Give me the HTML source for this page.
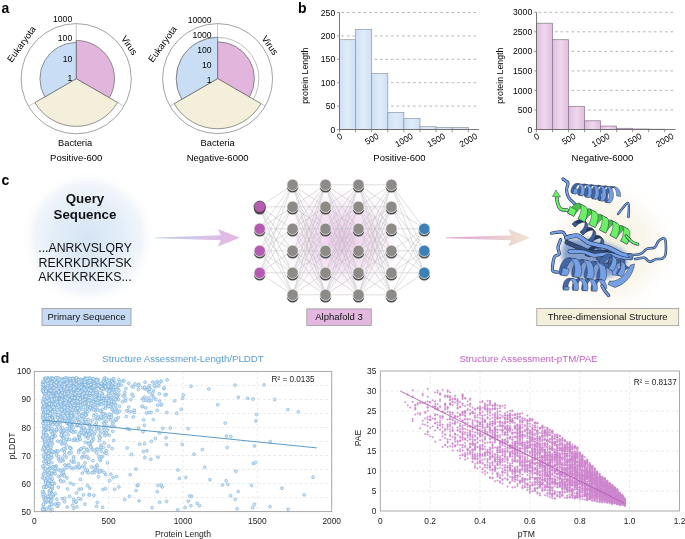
<!DOCTYPE html>
<html><head><meta charset="utf-8"><style>
html,body{margin:0;padding:0;background:#fff;}
body{width:685px;height:539px;overflow:hidden;}
svg{display:block;will-change:transform;}
text{font-family:"Liberation Sans", sans-serif;}
.lc circle{r:1.45px;}
</style></head><body>
<svg width="685" height="539" viewBox="0 0 685 539">
<rect width="685" height="539" fill="#fff"/>
<g font-family='"Liberation Sans", sans-serif' fill="#000">
<circle cx="76.2" cy="78.7" r="55.1" fill="none" stroke="#8a8a8a" stroke-width="0.8"/>
<line x1="76.2" y1="78.7" x2="76.2" y2="23.6" stroke="#b0b0b0" stroke-width="0.7"/>
<line x1="76.2" y1="78.7" x2="123.9" y2="106.2" stroke="#b0b0b0" stroke-width="0.7"/>
<line x1="76.2" y1="78.7" x2="28.5" y2="106.3" stroke="#b0b0b0" stroke-width="0.7"/>
<path d="M76.2 78.7L76.2 40.4A38.3 38.3 0 0 1 109.4 97.8Z" fill="#e2b5dd" stroke="#505050" stroke-width="0.6"/>
<path d="M76.2 78.7L117.5 102.5A47.7 47.7 0 0 1 34.9 102.6Z" fill="#f4efda" stroke="#505050" stroke-width="0.6"/>
<path d="M76.2 78.7L44.8 96.9A36.3 36.3 0 0 1 76.2 42.4Z" fill="#c9def5" stroke="#505050" stroke-width="0.6"/>
<text x="72.2" y="21.6" font-size="8.6" text-anchor="end">1000</text>
<text x="72.2" y="41.1" font-size="8.6" text-anchor="end">100</text>
<text x="72.2" y="61.9" font-size="8.6" text-anchor="end">10</text>
<text x="72.2" y="81" font-size="8.6" text-anchor="end">1</text>
<text x="75.1" y="145.9" font-size="9.3" text-anchor="middle">Bacteria</text>
<text x="76.2" y="160.7" font-size="9.5" text-anchor="middle">Positive-600</text>
<text transform="translate(21.4 44.1) rotate(-54)" font-size="9.3" text-anchor="middle" y="3.2">Eukaryota</text>
<text transform="translate(129.3 45.3) rotate(55)" font-size="9.3" text-anchor="middle" y="3.2">Virus</text>
<circle cx="217.6" cy="78.6" r="55" fill="none" stroke="#8a8a8a" stroke-width="0.8"/>
<circle cx="217.6" cy="78.6" r="41.3" fill="none" stroke="#a0a0a0" stroke-width="0.7"/>
<line x1="217.6" y1="78.6" x2="217.6" y2="23.6" stroke="#b0b0b0" stroke-width="0.7"/>
<line x1="217.6" y1="78.6" x2="265.2" y2="106.1" stroke="#b0b0b0" stroke-width="0.7"/>
<line x1="217.6" y1="78.6" x2="170" y2="106.1" stroke="#b0b0b0" stroke-width="0.7"/>
<path d="M217.6 78.6L217.6 41.8A36.8 36.8 0 0 1 249.5 97Z" fill="#e2b5dd" stroke="#505050" stroke-width="0.6"/>
<path d="M217.6 78.6L261 103.6A50.1 50.1 0 0 1 174.2 103.7Z" fill="#f4efda" stroke="#505050" stroke-width="0.6"/>
<path d="M217.6 78.6L181.8 99.3A41.3 41.3 0 0 1 217.6 37.3Z" fill="#c9def5" stroke="#505050" stroke-width="0.6"/>
<text x="211.6" y="22.8" font-size="8.6" text-anchor="end">10000</text>
<text x="211.6" y="37.7" font-size="8.6" text-anchor="end">1000</text>
<text x="211.6" y="53" font-size="8.6" text-anchor="end">100</text>
<text x="211.6" y="68.1" font-size="8.6" text-anchor="end">10</text>
<text x="211.6" y="83" font-size="8.6" text-anchor="end">1</text>
<text x="217.6" y="145.9" font-size="9.3" text-anchor="middle">Bacteria</text>
<text x="217.6" y="160.7" font-size="9.5" text-anchor="middle">Negative-6000</text>
<text transform="translate(162.5 44.1) rotate(-54)" font-size="9.3" text-anchor="middle" y="3.2">Eukaryota</text>
<text transform="translate(270 45.3) rotate(55)" font-size="9.3" text-anchor="middle" y="3.2">Virus</text>
</g>
<g font-family='"Liberation Sans", sans-serif' fill="#000">
<defs><linearGradient id="gb1" x1="0" x2="1" y1="0" y2="0"><stop offset="0" stop-color="#cfe1f6"/><stop offset="0.5" stop-color="#deebf9"/><stop offset="1" stop-color="#cfe1f6"/></linearGradient></defs>
<path d="M341.5 106.1H478.9M341.5 82.7H478.9M341.5 59.3H478.9M341.5 35.9H478.9M341.5 12.5H478.9" stroke="#9c9c9c" stroke-width="0.75" stroke-dasharray="2.6 2.9" fill="none"/>
<rect x="339.5" y="39.7" width="16.1" height="89.8" fill="url(#gb1)" stroke="#8e98a6" stroke-width="0.7"/>
<rect x="355.6" y="29.3" width="16.1" height="100.2" fill="url(#gb1)" stroke="#8e98a6" stroke-width="0.7"/>
<rect x="371.7" y="73.5" width="16.1" height="56" fill="url(#gb1)" stroke="#8e98a6" stroke-width="0.7"/>
<rect x="387.8" y="112.4" width="16.1" height="17.1" fill="url(#gb1)" stroke="#8e98a6" stroke-width="0.7"/>
<rect x="403.9" y="118.6" width="16.1" height="10.9" fill="url(#gb1)" stroke="#8e98a6" stroke-width="0.7"/>
<rect x="420" y="126.7" width="16.1" height="2.8" fill="url(#gb1)" stroke="#8e98a6" stroke-width="0.7"/>
<rect x="436.1" y="127.4" width="16.1" height="2.1" fill="url(#gb1)" stroke="#8e98a6" stroke-width="0.7"/>
<rect x="452.2" y="127.4" width="16.1" height="2.1" fill="url(#gb1)" stroke="#8e98a6" stroke-width="0.7"/>
<path d="M339.5 12.5V129.5H478.9" stroke="#6a6a6a" stroke-width="0.9" fill="none"/>
<path d="M337.2 129.5H339.5M337.2 106.1H339.5M337.2 82.7H339.5M337.2 59.3H339.5M337.2 35.9H339.5M337.2 12.5H339.5M339.5 129.5v2.8M355.6 129.5v2.8M371.7 129.5v2.8M387.8 129.5v2.8M403.9 129.5v2.8M420 129.5v2.8M436.1 129.5v2.8M452.2 129.5v2.8M468.3 129.5v2.8" stroke="#6a6a6a" stroke-width="0.7" fill="none"/>
<text x="335.2" y="132.6" font-size="8.6" text-anchor="end">0</text>
<text x="335.2" y="109.1" font-size="8.6" text-anchor="end">50</text>
<text x="335.2" y="85.7" font-size="8.6" text-anchor="end">100</text>
<text x="335.2" y="62.3" font-size="8.6" text-anchor="end">150</text>
<text x="335.2" y="38.9" font-size="8.6" text-anchor="end">200</text>
<text x="335.2" y="15.6" font-size="8.6" text-anchor="end">250</text>
<text transform="translate(339.5 136.4) rotate(-30)" font-size="8.6" text-anchor="middle" y="3.05">0</text>
<text transform="translate(371.7 138.8) rotate(-30)" font-size="8.6" text-anchor="middle" y="3.05">500</text>
<text transform="translate(403.9 140) rotate(-30)" font-size="8.6" text-anchor="middle" y="3.05">1000</text>
<text transform="translate(436.1 140) rotate(-30)" font-size="8.6" text-anchor="middle" y="3.05">1500</text>
<text transform="translate(468.3 140) rotate(-30)" font-size="8.6" text-anchor="middle" y="3.05">2000</text>
<text x="399.5" y="161" font-size="9.5" text-anchor="middle">Positive-600</text>
<text transform="translate(308 75.7) rotate(-90)" font-size="8.8" text-anchor="middle">protein Length</text>
<defs><linearGradient id="gb2" x1="0" x2="1" y1="0" y2="0"><stop offset="0" stop-color="#e2bce0"/><stop offset="0.5" stop-color="#eed8ec"/><stop offset="1" stop-color="#e2bce0"/></linearGradient></defs>
<path d="M538.5 110H675.6M538.5 90.4H675.6M538.5 70.9H675.6M538.5 51.4H675.6M538.5 31.8H675.6M538.5 12.3H675.6" stroke="#9c9c9c" stroke-width="0.75" stroke-dasharray="2.6 2.9" fill="none"/>
<rect x="536.5" y="23.2" width="16" height="106.3" fill="url(#gb2)" stroke="#86768a" stroke-width="0.7"/>
<rect x="552.5" y="39.7" width="16" height="89.8" fill="url(#gb2)" stroke="#86768a" stroke-width="0.7"/>
<rect x="568.6" y="106.3" width="16" height="23.2" fill="url(#gb2)" stroke="#86768a" stroke-width="0.7"/>
<rect x="584.6" y="120.8" width="16" height="8.7" fill="url(#gb2)" stroke="#86768a" stroke-width="0.7"/>
<rect x="600.6" y="126.1" width="16" height="3.4" fill="url(#gb2)" stroke="#86768a" stroke-width="0.7"/>
<rect x="616.6" y="128.3" width="16" height="1.2" fill="url(#gb2)" stroke="#86768a" stroke-width="0.7"/>
<rect x="632.7" y="129" width="16" height="0.5" fill="url(#gb2)" stroke="#86768a" stroke-width="0.7"/>
<rect x="648.7" y="129.2" width="16" height="0.3" fill="url(#gb2)" stroke="#86768a" stroke-width="0.7"/>
<path d="M536.5 12.3V129.5H675.6" stroke="#6a6a6a" stroke-width="0.9" fill="none"/>
<path d="M534.2 129.5H536.5M534.2 110H536.5M534.2 90.4H536.5M534.2 70.9H536.5M534.2 51.4H536.5M534.2 31.8H536.5M534.2 12.3H536.5M536.5 129.5v2.8M552.5 129.5v2.8M568.6 129.5v2.8M584.6 129.5v2.8M600.6 129.5v2.8M616.6 129.5v2.8M632.7 129.5v2.8M648.7 129.5v2.8M664.7 129.5v2.8" stroke="#6a6a6a" stroke-width="0.7" fill="none"/>
<text x="532.2" y="132.6" font-size="8.6" text-anchor="end">0</text>
<text x="532.2" y="113" font-size="8.6" text-anchor="end">500</text>
<text x="532.2" y="93.5" font-size="8.6" text-anchor="end">1000</text>
<text x="532.2" y="74" font-size="8.6" text-anchor="end">1500</text>
<text x="532.2" y="54.4" font-size="8.6" text-anchor="end">2000</text>
<text x="532.2" y="34.9" font-size="8.6" text-anchor="end">2500</text>
<text x="532.2" y="15.3" font-size="8.6" text-anchor="end">3000</text>
<text transform="translate(536.5 136.4) rotate(-30)" font-size="8.6" text-anchor="middle" y="3.05">0</text>
<text transform="translate(568.6 138.8) rotate(-30)" font-size="8.6" text-anchor="middle" y="3.05">500</text>
<text transform="translate(600.6 140) rotate(-30)" font-size="8.6" text-anchor="middle" y="3.05">1000</text>
<text transform="translate(632.7 140) rotate(-30)" font-size="8.6" text-anchor="middle" y="3.05">1500</text>
<text transform="translate(664.7 140) rotate(-30)" font-size="8.6" text-anchor="middle" y="3.05">2000</text>
<text x="602.5" y="161" font-size="9.5" text-anchor="middle">Negative-6000</text>
<text transform="translate(502.8 75.7) rotate(-90)" font-size="8.8" text-anchor="middle">protein Length</text>
</g>
<g font-family='"Liberation Sans", sans-serif' font-weight="bold" font-size="14" fill="#000">
<text x="1.4" y="12.7">a</text><text x="298" y="12.9">b</text><text x="1.4" y="184.5">c</text><text x="0.8" y="363.2">d</text>
</g>
<defs>
<radialGradient id="glowq" cx="0.5" cy="0.5" r="0.5"><stop offset="0" stop-color="#d5e4f5"/><stop offset="0.5" stop-color="#e3edf8"/><stop offset="0.8" stop-color="#f2f6fb"/><stop offset="1" stop-color="#ffffff" stop-opacity="0"/></radialGradient>
<radialGradient id="glowp" cx="0.5" cy="0.5" r="0.5"><stop offset="0" stop-color="#f5f0de"/><stop offset="0.6" stop-color="#faf7ee"/><stop offset="1" stop-color="#ffffff" stop-opacity="0"/></radialGradient>
<radialGradient id="glown" cx="0.5" cy="0.5" r="0.5"><stop offset="0" stop-color="#ecc9ea"/><stop offset="0.5" stop-color="#f6e6f5"/><stop offset="1" stop-color="#ffffff" stop-opacity="0"/></radialGradient>
<linearGradient id="arr1" x1="0" x2="1" y1="0" y2="0"><stop offset="0" stop-color="#c2d2f0"/><stop offset="1" stop-color="#e6b6e2"/></linearGradient>
<linearGradient id="arr2" x1="0" x2="1" y1="0" y2="0"><stop offset="0" stop-color="#dc9fd6"/><stop offset="1" stop-color="#f2e5cf"/></linearGradient>
</defs>
<circle cx="88" cy="238" r="68" fill="url(#glowq)"/>
<ellipse cx="341" cy="240" rx="70" ry="62" fill="url(#glown)"/>
<circle cx="609" cy="248" r="72" fill="url(#glowp)"/>
<g font-family='"Liberation Sans", sans-serif' fill="#111">
<text x="85" y="202.5" font-size="13.3" font-weight="bold" text-anchor="middle">Query</text>
<text x="85" y="218.5" font-size="13.3" font-weight="bold" text-anchor="middle">Sequence</text>
<text x="38.3" y="251.9" font-size="12.3" textLength="93.6" lengthAdjust="spacingAndGlyphs">...ANRKVSLQRY</text>
<text x="38.5" y="266.7" font-size="12.3" textLength="93.4" lengthAdjust="spacingAndGlyphs">REKRKDRKFSK</text>
<text x="38.3" y="281.4" font-size="12.3" textLength="93.4" lengthAdjust="spacingAndGlyphs">AKKEKRKEKS...</text>
<rect x="42" y="308.5" width="89" height="17" fill="#c6dbf3" stroke="#9a9a9a" stroke-width="0.8"/>
<text x="86.5" y="319.7" font-size="9.5" text-anchor="middle">Primary Sequence</text>
<rect x="306.8" y="308.9" width="64.5" height="16.5" fill="#e3b8e0" stroke="#9a9a9a" stroke-width="0.8"/>
<text x="339" y="319.6" font-size="9.5" text-anchor="middle">Alphafold 3</text>
<rect x="536.8" y="308.4" width="141.9" height="17.3" fill="#f4efdb" stroke="#9a9a9a" stroke-width="0.8"/>
<text x="607.7" y="319.8" font-size="9.5" text-anchor="middle">Three-dimensional Structure</text>
</g>
<path d="M154.9 237.4 L220.8 235.3 L217.8 229.1 L239.8 237.8 L217.8 246.5 L220.8 240.3 L154.9 238.2 Z" fill="url(#arr1)"/>
<path d="M445.8 237.4 L511.2 235.3 L508.2 229.1 L530.2 237.8 L508.2 246.5 L511.2 240.3 L445.8 238.2 Z" fill="url(#arr2)"/>
<path d="M259.7 206.8L292.6 184.8M259.7 206.8L292.6 206.8M259.7 206.8L292.6 228.8M259.7 206.8L292.6 250.8M259.7 206.8L292.6 272.8M259.7 206.8L292.6 294.8M259.7 228.8L292.6 184.8M259.7 228.8L292.6 206.8M259.7 228.8L292.6 228.8M259.7 228.8L292.6 250.8M259.7 228.8L292.6 272.8M259.7 228.8L292.6 294.8M259.7 250.8L292.6 184.8M259.7 250.8L292.6 206.8M259.7 250.8L292.6 228.8M259.7 250.8L292.6 250.8M259.7 250.8L292.6 272.8M259.7 250.8L292.6 294.8M259.7 272.8L292.6 184.8M259.7 272.8L292.6 206.8M259.7 272.8L292.6 228.8M259.7 272.8L292.6 250.8M259.7 272.8L292.6 272.8M259.7 272.8L292.6 294.8M292.6 184.8L325.5 184.8M292.6 184.8L325.5 206.8M292.6 184.8L325.5 228.8M292.6 184.8L325.5 250.8M292.6 184.8L325.5 272.8M292.6 184.8L325.5 294.8M292.6 206.8L325.5 184.8M292.6 206.8L325.5 206.8M292.6 206.8L325.5 228.8M292.6 206.8L325.5 250.8M292.6 206.8L325.5 272.8M292.6 206.8L325.5 294.8M292.6 228.8L325.5 184.8M292.6 228.8L325.5 206.8M292.6 228.8L325.5 228.8M292.6 228.8L325.5 250.8M292.6 228.8L325.5 272.8M292.6 228.8L325.5 294.8M292.6 250.8L325.5 184.8M292.6 250.8L325.5 206.8M292.6 250.8L325.5 228.8M292.6 250.8L325.5 250.8M292.6 250.8L325.5 272.8M292.6 250.8L325.5 294.8M292.6 272.8L325.5 184.8M292.6 272.8L325.5 206.8M292.6 272.8L325.5 228.8M292.6 272.8L325.5 250.8M292.6 272.8L325.5 272.8M292.6 272.8L325.5 294.8M292.6 294.8L325.5 184.8M292.6 294.8L325.5 206.8M292.6 294.8L325.5 228.8M292.6 294.8L325.5 250.8M292.6 294.8L325.5 272.8M292.6 294.8L325.5 294.8M325.5 184.8L358.5 184.8M325.5 184.8L358.5 206.8M325.5 184.8L358.5 228.8M325.5 184.8L358.5 250.8M325.5 184.8L358.5 272.8M325.5 184.8L358.5 294.8M325.5 206.8L358.5 184.8M325.5 206.8L358.5 206.8M325.5 206.8L358.5 228.8M325.5 206.8L358.5 250.8M325.5 206.8L358.5 272.8M325.5 206.8L358.5 294.8M325.5 228.8L358.5 184.8M325.5 228.8L358.5 206.8M325.5 228.8L358.5 228.8M325.5 228.8L358.5 250.8M325.5 228.8L358.5 272.8M325.5 228.8L358.5 294.8M325.5 250.8L358.5 184.8M325.5 250.8L358.5 206.8M325.5 250.8L358.5 228.8M325.5 250.8L358.5 250.8M325.5 250.8L358.5 272.8M325.5 250.8L358.5 294.8M325.5 272.8L358.5 184.8M325.5 272.8L358.5 206.8M325.5 272.8L358.5 228.8M325.5 272.8L358.5 250.8M325.5 272.8L358.5 272.8M325.5 272.8L358.5 294.8M325.5 294.8L358.5 184.8M325.5 294.8L358.5 206.8M325.5 294.8L358.5 228.8M325.5 294.8L358.5 250.8M325.5 294.8L358.5 272.8M325.5 294.8L358.5 294.8M358.5 184.8L391.4 184.8M358.5 184.8L391.4 206.8M358.5 184.8L391.4 228.8M358.5 184.8L391.4 250.8M358.5 184.8L391.4 272.8M358.5 184.8L391.4 294.8M358.5 206.8L391.4 184.8M358.5 206.8L391.4 206.8M358.5 206.8L391.4 228.8M358.5 206.8L391.4 250.8M358.5 206.8L391.4 272.8M358.5 206.8L391.4 294.8M358.5 228.8L391.4 184.8M358.5 228.8L391.4 206.8M358.5 228.8L391.4 228.8M358.5 228.8L391.4 250.8M358.5 228.8L391.4 272.8M358.5 228.8L391.4 294.8M358.5 250.8L391.4 184.8M358.5 250.8L391.4 206.8M358.5 250.8L391.4 228.8M358.5 250.8L391.4 250.8M358.5 250.8L391.4 272.8M358.5 250.8L391.4 294.8M358.5 272.8L391.4 184.8M358.5 272.8L391.4 206.8M358.5 272.8L391.4 228.8M358.5 272.8L391.4 250.8M358.5 272.8L391.4 272.8M358.5 272.8L391.4 294.8M358.5 294.8L391.4 184.8M358.5 294.8L391.4 206.8M358.5 294.8L391.4 228.8M358.5 294.8L391.4 250.8M358.5 294.8L391.4 272.8M358.5 294.8L391.4 294.8M391.4 184.8L424.3 228.8M391.4 184.8L424.3 250.8M391.4 184.8L424.3 272.8M391.4 206.8L424.3 228.8M391.4 206.8L424.3 250.8M391.4 206.8L424.3 272.8M391.4 228.8L424.3 228.8M391.4 228.8L424.3 250.8M391.4 228.8L424.3 272.8M391.4 250.8L424.3 228.8M391.4 250.8L424.3 250.8M391.4 250.8L424.3 272.8M391.4 272.8L424.3 228.8M391.4 272.8L424.3 250.8M391.4 272.8L424.3 272.8M391.4 294.8L424.3 228.8M391.4 294.8L424.3 250.8M391.4 294.8L424.3 272.8" stroke="#bdbdbd" stroke-width="0.5" fill="none"/>
<circle cx="259.7" cy="208.9" r="5.7" fill="#4d4d4d"/>
<circle cx="259.7" cy="206.8" r="5.8" fill="#b55cb0" stroke="#2a2a2a" stroke-width="0.6"/>
<circle cx="259.7" cy="230.9" r="5.7" fill="#4d4d4d"/>
<circle cx="259.7" cy="228.8" r="5.7" fill="#b55cb0" stroke="#fff" stroke-width="0.7"/>
<circle cx="259.7" cy="252.9" r="5.7" fill="#4d4d4d"/>
<circle cx="259.7" cy="250.8" r="5.7" fill="#b55cb0" stroke="#fff" stroke-width="0.7"/>
<circle cx="259.7" cy="274.9" r="5.7" fill="#4d4d4d"/>
<circle cx="259.7" cy="272.8" r="5.7" fill="#b55cb0" stroke="#fff" stroke-width="0.7"/>
<circle cx="292.6" cy="186.9" r="5.7" fill="#4d4d4d"/>
<circle cx="292.6" cy="184.8" r="5.7" fill="#8e8a88" stroke="#fff" stroke-width="0.7"/>
<circle cx="292.6" cy="208.9" r="5.7" fill="#4d4d4d"/>
<circle cx="292.6" cy="206.8" r="5.7" fill="#8e8a88" stroke="#fff" stroke-width="0.7"/>
<circle cx="292.6" cy="230.9" r="5.7" fill="#4d4d4d"/>
<circle cx="292.6" cy="228.8" r="5.7" fill="#8e8a88" stroke="#fff" stroke-width="0.7"/>
<circle cx="292.6" cy="252.9" r="5.7" fill="#4d4d4d"/>
<circle cx="292.6" cy="250.8" r="5.7" fill="#8e8a88" stroke="#fff" stroke-width="0.7"/>
<circle cx="292.6" cy="274.9" r="5.7" fill="#4d4d4d"/>
<circle cx="292.6" cy="272.8" r="5.7" fill="#8e8a88" stroke="#fff" stroke-width="0.7"/>
<circle cx="292.6" cy="296.9" r="5.7" fill="#4d4d4d"/>
<circle cx="292.6" cy="294.8" r="5.7" fill="#8e8a88" stroke="#fff" stroke-width="0.7"/>
<circle cx="325.5" cy="186.9" r="5.7" fill="#4d4d4d"/>
<circle cx="325.5" cy="184.8" r="5.7" fill="#8e8a88" stroke="#fff" stroke-width="0.7"/>
<circle cx="325.5" cy="208.9" r="5.7" fill="#4d4d4d"/>
<circle cx="325.5" cy="206.8" r="5.7" fill="#8e8a88" stroke="#fff" stroke-width="0.7"/>
<circle cx="325.5" cy="230.9" r="5.7" fill="#4d4d4d"/>
<circle cx="325.5" cy="228.8" r="5.7" fill="#8e8a88" stroke="#fff" stroke-width="0.7"/>
<circle cx="325.5" cy="252.9" r="5.7" fill="#4d4d4d"/>
<circle cx="325.5" cy="250.8" r="5.7" fill="#8e8a88" stroke="#fff" stroke-width="0.7"/>
<circle cx="325.5" cy="274.9" r="5.7" fill="#4d4d4d"/>
<circle cx="325.5" cy="272.8" r="5.7" fill="#8e8a88" stroke="#fff" stroke-width="0.7"/>
<circle cx="325.5" cy="296.9" r="5.7" fill="#4d4d4d"/>
<circle cx="325.5" cy="294.8" r="5.7" fill="#8e8a88" stroke="#fff" stroke-width="0.7"/>
<circle cx="358.5" cy="186.9" r="5.7" fill="#4d4d4d"/>
<circle cx="358.5" cy="184.8" r="5.7" fill="#8e8a88" stroke="#fff" stroke-width="0.7"/>
<circle cx="358.5" cy="208.9" r="5.7" fill="#4d4d4d"/>
<circle cx="358.5" cy="206.8" r="5.7" fill="#8e8a88" stroke="#fff" stroke-width="0.7"/>
<circle cx="358.5" cy="230.9" r="5.7" fill="#4d4d4d"/>
<circle cx="358.5" cy="228.8" r="5.7" fill="#8e8a88" stroke="#fff" stroke-width="0.7"/>
<circle cx="358.5" cy="252.9" r="5.7" fill="#4d4d4d"/>
<circle cx="358.5" cy="250.8" r="5.7" fill="#8e8a88" stroke="#fff" stroke-width="0.7"/>
<circle cx="358.5" cy="274.9" r="5.7" fill="#4d4d4d"/>
<circle cx="358.5" cy="272.8" r="5.7" fill="#8e8a88" stroke="#fff" stroke-width="0.7"/>
<circle cx="358.5" cy="296.9" r="5.7" fill="#4d4d4d"/>
<circle cx="358.5" cy="294.8" r="5.7" fill="#8e8a88" stroke="#fff" stroke-width="0.7"/>
<circle cx="391.4" cy="186.9" r="5.7" fill="#4d4d4d"/>
<circle cx="391.4" cy="184.8" r="5.7" fill="#8e8a88" stroke="#fff" stroke-width="0.7"/>
<circle cx="391.4" cy="208.9" r="5.7" fill="#4d4d4d"/>
<circle cx="391.4" cy="206.8" r="5.7" fill="#8e8a88" stroke="#fff" stroke-width="0.7"/>
<circle cx="391.4" cy="230.9" r="5.7" fill="#4d4d4d"/>
<circle cx="391.4" cy="228.8" r="5.7" fill="#8e8a88" stroke="#fff" stroke-width="0.7"/>
<circle cx="391.4" cy="252.9" r="5.7" fill="#4d4d4d"/>
<circle cx="391.4" cy="250.8" r="5.7" fill="#8e8a88" stroke="#fff" stroke-width="0.7"/>
<circle cx="391.4" cy="274.9" r="5.7" fill="#4d4d4d"/>
<circle cx="391.4" cy="272.8" r="5.7" fill="#8e8a88" stroke="#fff" stroke-width="0.7"/>
<circle cx="391.4" cy="296.9" r="5.7" fill="#4d4d4d"/>
<circle cx="391.4" cy="294.8" r="5.7" fill="#8e8a88" stroke="#fff" stroke-width="0.7"/>
<circle cx="424.3" cy="230.9" r="5.7" fill="#4d4d4d"/>
<circle cx="424.3" cy="228.8" r="5.7" fill="#3c80b7" stroke="#fff" stroke-width="0.7"/>
<circle cx="424.3" cy="252.9" r="5.7" fill="#4d4d4d"/>
<circle cx="424.3" cy="250.8" r="5.7" fill="#3c80b7" stroke="#fff" stroke-width="0.7"/>
<circle cx="424.3" cy="274.9" r="5.7" fill="#4d4d4d"/>
<circle cx="424.3" cy="272.8" r="5.7" fill="#3c80b7" stroke="#fff" stroke-width="0.7"/>
<defs><filter id="pblur" x="-20%" y="-20%" width="140%" height="140%"><feGaussianBlur stdDeviation="2.5"/></filter></defs>
<path d="M566 240 C580 236 600 240 618 248 C628 252 630 262 622 270 C610 280 590 282 575 276 C562 270 558 252 566 240 Z" fill="#5d82c6" opacity="0.75" filter="url(#pblur)"/>
<path d="M575.1 226.9L575.2 226.7L575.5 226.4L576 225.8L576.8 225.2L577.7 224.5L578.9 223.8L580.1 223.2L581.4 222.7L582.7 222.3L584 222.2L585.1 222.3L586.1 222.6L586.9 223.1L584.1 220.3L583.3 219.7L582.3 219.4L581.2 219.3L579.9 219.5L578.6 219.8L577.3 220.3L576 221L574.9 221.7L573.9 222.4L573.2 223L572.7 223.5L572.4 223.9L572.3 224.1ZM583.1 234.9L583.2 234.7L583.5 234.4L584 233.8L584.8 233.2L585.7 232.5L586.9 231.8L588.1 231.2L589.4 230.7L590.7 230.3L592 230.2L593.1 230.3L594.1 230.6L594.9 231.1L592.1 228.3L591.3 227.7L590.3 227.4L589.2 227.3L587.9 227.5L586.6 227.8L585.3 228.3L584 229L582.9 229.7L581.9 230.4L581.2 231L580.7 231.5L580.4 231.9L580.3 232.1ZM591.1 242.9L591.2 242.7L591.5 242.4L592 241.8L592.8 241.2L593.7 240.5L594.9 239.8L596.1 239.2L597.4 238.7L598.7 238.3L600 238.2L601.1 238.3L602.1 238.6L602.9 239.1L600.1 236.3L599.3 235.7L598.3 235.4L597.2 235.3L595.9 235.5L594.6 235.8L593.3 236.3L592 237L590.9 237.7L589.9 238.4L589.2 239L588.7 239.5L588.4 239.9L588.3 240.1Z" fill="#26395f" stroke="#1c2a44" stroke-width="0.45" stroke-linejoin="round"/>
<path d="M577.8 224L577.5 224.5L577.2 224.9L576.9 225.3L576.6 225.6L576.4 225.9L576.1 226.2L575.9 226.4L575.7 226.6L575.5 226.7L575.4 226.8L575.3 226.9L575.2 226.9L575.1 226.9L572.3 224.1L572.4 224.1L572.4 224.1L572.6 224L572.7 223.9L572.9 223.7L573.1 223.6L573.3 223.3L573.5 223.1L573.8 222.8L574.1 222.4L574.4 222.1L574.6 221.7L574.9 221.2ZM586.9 223.1L587.5 223.9L587.8 224.9L587.9 226.1L587.8 227.3L587.4 228.6L586.9 230L586.3 231.2L585.6 232.3L584.9 233.3L584.2 234.1L583.7 234.6L583.3 234.9L583.1 234.9L580.3 232.1L580.5 232L580.9 231.8L581.4 231.2L582 230.5L582.7 229.5L583.4 228.4L584.1 227.1L584.6 225.8L584.9 224.5L585.1 223.2L585 222.1L584.7 221.1L584.1 220.3ZM594.9 231.1L595.5 231.9L595.8 232.9L595.9 234.1L595.8 235.3L595.4 236.6L594.9 238L594.3 239.2L593.6 240.3L592.9 241.3L592.2 242.1L591.7 242.6L591.3 242.9L591.1 242.9L588.3 240.1L588.5 240L588.9 239.8L589.4 239.2L590 238.5L590.7 237.5L591.4 236.4L592.1 235.1L592.6 233.8L592.9 232.5L593.1 231.2L593 230.1L592.7 229.1L592.1 228.3ZM602.9 239.1L603.3 239.6L603.6 240.1L603.8 240.7L603.9 241.3L603.9 242L603.8 242.8L603.7 243.6L603.5 244.3L603.2 245.1L602.9 245.9L602.6 246.7L602.2 247.4L601.8 248L598.9 245.2L599.3 244.5L599.7 243.8L600.1 243.1L600.4 242.3L600.7 241.5L600.9 240.7L601 240L601.1 239.2L601 238.5L600.9 237.9L600.7 237.3L600.5 236.8L600.1 236.3Z" fill="#3f5f99" stroke="#1c2a44" stroke-width="0.45" stroke-linejoin="round"/>
<path d="M589.7 256.9L589.6 256.7L589.7 256.2L590 255.5L590.4 254.5L591 253.3L591.8 252.1L592.7 250.9L593.7 249.8L594.8 248.8L596 248.1L597.2 247.6L598.3 247.5L599.3 247.6L594.8 246L593.8 245.9L592.6 246L591.5 246.5L590.3 247.2L589.2 248.2L588.2 249.3L587.3 250.5L586.5 251.7L585.9 252.9L585.4 253.9L585.2 254.6L585.1 255.1L585.1 255.3ZM601 260.9L600.9 260.7L601 260.2L601.3 259.5L601.7 258.5L602.3 257.3L603.1 256.1L604 254.9L605.1 253.8L606.2 252.8L607.3 252.1L608.5 251.6L609.6 251.5L610.7 251.6L606.1 250L605.1 249.9L604 250L602.8 250.5L601.7 251.2L600.5 252.2L599.5 253.3L598.6 254.5L597.8 255.7L597.2 256.9L596.8 257.9L596.5 258.6L596.4 259.1L596.5 259.3ZM612.3 264.9L612.3 264.7L612.4 264.2L612.6 263.5L613.1 262.5L613.7 261.3L614.4 260.1L615.4 258.9L616.4 257.8L617.5 256.8L618.7 256.1L619.8 255.6L620.9 255.5L622 255.6L617.5 254L616.4 253.9L615.3 254L614.1 254.5L613 255.2L611.9 256.2L610.8 257.3L609.9 258.5L609.1 259.7L608.5 260.9L608.1 261.9L607.8 262.6L607.7 263.1L607.8 263.3Z" fill="#26395f" stroke="#1c2a44" stroke-width="0.45" stroke-linejoin="round"/>
<path d="M590.4 255.4L590.3 255.6L590.3 255.9L590.2 256.1L590.1 256.2L590.1 256.4L590 256.5L589.9 256.6L589.9 256.7L589.8 256.8L589.8 256.9L589.7 256.9L589.7 256.9L589.7 256.9L585.1 255.3L585.2 255.3L585.2 255.3L585.2 255.3L585.3 255.2L585.3 255.1L585.4 255L585.5 254.9L585.5 254.8L585.6 254.6L585.7 254.5L585.7 254.3L585.8 254L585.9 253.8ZM599.3 247.6L600.2 248.1L601 249L601.6 250L602.1 251.3L602.3 252.8L602.4 254.3L602.4 255.8L602.2 257.3L602 258.5L601.7 259.6L601.4 260.4L601.2 260.8L601 260.9L596.5 259.3L596.6 259.2L596.9 258.8L597.2 258L597.4 256.9L597.7 255.7L597.9 254.2L597.9 252.7L597.8 251.2L597.5 249.8L597.1 248.4L596.5 247.4L595.7 246.5L594.8 246ZM610.7 251.6L611.6 252.1L612.3 253L613 254L613.4 255.3L613.7 256.8L613.8 258.3L613.7 259.8L613.5 261.3L613.3 262.5L613 263.6L612.7 264.4L612.5 264.8L612.3 264.9L607.8 263.3L608 263.2L608.2 262.8L608.5 262L608.8 260.9L609 259.7L609.2 258.2L609.2 256.7L609.1 255.2L608.9 253.8L608.4 252.4L607.8 251.4L607 250.5L606.1 250ZM622 255.6L622.7 256L623.3 256.5L623.9 257.2L624.3 258.1L624.6 259L624.9 260.1L625 261.2L625.1 262.4L625.1 263.5L625 264.6L624.8 265.7L624.6 266.6L624.4 267.4L619.9 265.8L620.1 265L620.3 264.1L620.4 263L620.5 261.9L620.6 260.8L620.5 259.6L620.4 258.5L620.1 257.4L619.8 256.5L619.3 255.6L618.8 254.9L618.2 254.4L617.5 254Z" fill="#4a6aa6" stroke="#1c2a44" stroke-width="0.45" stroke-linejoin="round"/>
<path d="M560.6 239.7C560.2 241 558.2 245.1 558 247.5C557.8 249.9 559.8 252.5 559.3 254C558.8 255.5 555.8 254.9 554.7 256.6C553.6 258.3 553.1 262 552.8 264.4C552.5 266.8 551.9 269.6 552.8 270.9C553.7 272.2 557.1 272 558 272.2" fill="none" stroke="#1c2a44" stroke-width="3.1" stroke-linecap="round" stroke-linejoin="round"/>
<path d="M560.6 239.7C560.2 241 558.2 245.1 558 247.5C557.8 249.9 559.8 252.5 559.3 254C558.8 255.5 555.8 254.9 554.7 256.6C553.6 258.3 553.1 262 552.8 264.4C552.5 266.8 551.9 269.6 552.8 270.9C553.7 272.2 557.1 272 558 272.2" fill="none" stroke="#76a0e6" stroke-width="2" stroke-linecap="round" stroke-linejoin="round"/>
<path d="M551.5 233.2C553.2 233 559.6 231.6 561.9 231.9C564.2 232.2 564.4 234.1 565.1 235.1C565.9 236.1 566.2 237.3 566.4 237.7" fill="none" stroke="#1c2a44" stroke-width="3.1" stroke-linecap="round" stroke-linejoin="round"/>
<path d="M551.5 233.2C553.2 233 559.6 231.6 561.9 231.9C564.2 232.2 564.4 234.1 565.1 235.1C565.9 236.1 566.2 237.3 566.4 237.7" fill="none" stroke="#76a0e6" stroke-width="2" stroke-linecap="round" stroke-linejoin="round"/>
<path d="M567 242.3C569 243.2 574.9 245.9 578.8 247.5C582.7 249.1 586.4 251.1 590.5 252C594.6 252.9 599.3 252 603.4 252.7C607.5 253.4 613.1 255.4 615 256" fill="none" stroke="#1c2a44" stroke-width="4.7" stroke-linecap="round" stroke-linejoin="round"/>
<path d="M567 242.3C569 243.2 574.9 245.9 578.8 247.5C582.7 249.1 586.4 251.1 590.5 252C594.6 252.9 599.3 252 603.4 252.7C607.5 253.4 613.1 255.4 615 256" fill="none" stroke="#34507f" stroke-width="3.6" stroke-linecap="round" stroke-linejoin="round"/>
<path d="M569.7 251.4C572.1 251.5 579.9 251.3 584 252C588.1 252.7 590.5 255 594.4 255.3C598.3 255.6 602.9 253.7 607.3 254C611.7 254.3 617 256.3 621 257C625 257.7 629.3 257.8 631 258" fill="none" stroke="#1c2a44" stroke-width="4.3" stroke-linecap="round" stroke-linejoin="round"/>
<path d="M569.7 251.4C572.1 251.5 579.9 251.3 584 252C588.1 252.7 590.5 255 594.4 255.3C598.3 255.6 602.9 253.7 607.3 254C611.7 254.3 617 256.3 621 257C625 257.7 629.3 257.8 631 258" fill="none" stroke="#76a0e6" stroke-width="3.2" stroke-linecap="round" stroke-linejoin="round"/>
<path d="M566.4 237.7C568.2 237.4 573.9 235 577.5 235.8C581.1 236.6 584.6 240.8 587.9 242.3C591.1 243.8 593.6 244 597 244.9C600.4 245.8 604 246 608 247.5C612 249 617.1 252.5 621 253.9C624.9 255.3 629.6 255.6 631.3 255.9" fill="none" stroke="#1c2a44" stroke-width="4.7" stroke-linecap="round" stroke-linejoin="round"/>
<path d="M566.4 237.7C568.2 237.4 573.9 235 577.5 235.8C581.1 236.6 584.6 240.8 587.9 242.3C591.1 243.8 593.6 244 597 244.9C600.4 245.8 604 246 608 247.5C612 249 617.1 252.5 621 253.9C624.9 255.3 629.6 255.6 631.3 255.9" fill="none" stroke="#76a0e6" stroke-width="3.6" stroke-linecap="round" stroke-linejoin="round"/>
<path d="M628.7 255.2C630.7 255 637.4 255 640.4 253.9C643.4 252.8 644.5 249.9 646.9 248.8C649.3 247.7 652.8 248.8 654.7 247.5C656.7 246.2 656.9 242.4 658.6 241C660.3 239.6 663.8 236.8 665 239C666.2 241.2 666.1 250.7 665.7 253.9C665.3 257.1 664 257.6 662.4 258.5C660.8 259.4 658.1 258.6 656 259.1C653.9 259.6 651.5 261.9 649.5 261.7C647.5 261.5 646.7 258.2 644.3 257.8C641.9 257.4 636.7 258.9 635.2 259.1" fill="none" stroke="#1c2a44" stroke-width="2.5" stroke-linecap="round" stroke-linejoin="round"/>
<path d="M628.7 255.2C630.7 255 637.4 255 640.4 253.9C643.4 252.8 644.5 249.9 646.9 248.8C649.3 247.7 652.8 248.8 654.7 247.5C656.7 246.2 656.9 242.4 658.6 241C660.3 239.6 663.8 236.8 665 239C666.2 241.2 666.1 250.7 665.7 253.9C665.3 257.1 664 257.6 662.4 258.5C660.8 259.4 658.1 258.6 656 259.1C653.9 259.6 651.5 261.9 649.5 261.7C647.5 261.5 646.7 258.2 644.3 257.8C641.9 257.4 636.7 258.9 635.2 259.1" fill="none" stroke="#76a0e6" stroke-width="1.4" stroke-linecap="round" stroke-linejoin="round"/>
<path d="M566.8 275.8L566.4 275.4L566.1 274.6L565.9 273.4L566 271.7L566.3 269.8L566.8 267.8L567.6 265.7L568.6 263.7L569.8 261.9L571.2 260.5L572.6 259.4L574.1 258.9L575.6 258.8L568.9 257.9L567.4 257.9L565.9 258.5L564.4 259.5L563.1 261L561.9 262.8L560.9 264.7L560.1 266.8L559.6 268.9L559.3 270.8L559.2 272.4L559.4 273.7L559.7 274.5L560.1 274.8ZM579.3 277.5L578.9 277.2L578.6 276.4L578.4 275.1L578.5 273.5L578.8 271.6L579.3 269.5L580.1 267.4L581.1 265.5L582.3 263.7L583.7 262.2L585.1 261.2L586.6 260.6L588.1 260.6L581.4 259.6L579.9 259.7L578.4 260.2L576.9 261.3L575.6 262.7L574.4 264.5L573.4 266.5L572.6 268.6L572.1 270.6L571.8 272.5L571.7 274.2L571.9 275.4L572.2 276.2L572.6 276.6ZM591.8 279.3L591.4 278.9L591.1 278.1L590.9 276.9L591 275.2L591.3 273.3L591.8 271.3L592.6 269.2L593.6 267.2L594.8 265.4L596.2 264L597.6 262.9L599.1 262.4L600.6 262.3L593.9 261.4L592.4 261.4L590.9 262L589.4 263L588.1 264.5L586.9 266.3L585.9 268.2L585.1 270.3L584.6 272.4L584.3 274.3L584.2 275.9L584.4 277.2L584.7 278L585.1 278.3ZM604.3 281L603.9 280.7L603.6 279.9L603.4 278.6L603.5 277L603.8 275.1L604.3 273L605.1 270.9L606.1 269L607.3 267.2L608.7 265.7L610.1 264.7L611.6 264.1L613.1 264.1L606.4 263.1L604.9 263.2L603.4 263.7L601.9 264.8L600.6 266.2L599.4 268L598.4 270L597.6 272.1L597.1 274.1L596.8 276L596.7 277.7L596.9 278.9L597.2 279.7L597.6 280.1Z" fill="#4467a8" stroke="#1c2a44" stroke-width="0.45" stroke-linejoin="round"/>
<path d="M569.1 268.8L569 269.7L569 270.6L568.9 271.4L568.7 272.2L568.6 273L568.4 273.6L568.2 274.2L568 274.7L567.8 275.1L567.5 275.4L567.3 275.6L567.1 275.7L566.8 275.8L560.1 274.8L560.3 274.8L560.6 274.7L560.8 274.5L561 274.2L561.3 273.7L561.5 273.3L561.7 272.7L561.8 272L562 271.3L562.1 270.5L562.2 269.7L562.3 268.8L562.3 267.8ZM575.6 258.8L577 259.3L578.3 260.2L579.4 261.6L580.3 263.4L580.9 265.4L581.4 267.6L581.5 269.8L581.5 272L581.3 273.9L580.9 275.4L580.4 276.6L579.9 277.3L579.3 277.5L572.6 276.6L573.1 276.4L573.7 275.7L574.1 274.5L574.5 272.9L574.8 271L574.8 268.9L574.6 266.7L574.2 264.5L573.5 262.5L572.6 260.7L571.5 259.3L570.3 258.3L568.9 257.9ZM588.1 260.6L589.5 261L590.8 262L591.9 263.4L592.8 265.1L593.4 267.2L593.9 269.4L594 271.6L594 273.7L593.8 275.6L593.4 277.2L592.9 278.4L592.4 279.1L591.8 279.3L585.1 278.3L585.6 278.1L586.2 277.4L586.6 276.3L587 274.7L587.3 272.8L587.3 270.6L587.1 268.4L586.7 266.2L586 264.2L585.1 262.4L584 261L582.8 260.1L581.4 259.6ZM600.6 262.3L602 262.8L603.3 263.7L604.4 265.1L605.3 266.9L605.9 268.9L606.4 271.1L606.5 273.3L606.5 275.5L606.3 277.4L605.9 278.9L605.4 280.1L604.9 280.8L604.3 281L597.6 280.1L598.1 279.9L598.7 279.2L599.1 278L599.5 276.4L599.8 274.5L599.8 272.4L599.6 270.2L599.2 268L598.5 266L597.6 264.2L596.5 262.8L595.3 261.8L593.9 261.4ZM613.1 264.1L613.9 264.3L614.7 264.6L615.4 265.1L616.1 265.8L616.7 266.6L617.2 267.5L617.7 268.5L618.1 269.7L618.5 270.8L618.7 272.1L618.9 273.3L619 274.6L619.1 275.8L612.3 274.8L612.3 273.6L612.2 272.4L612 271.1L611.7 269.9L611.4 268.7L611 267.6L610.5 266.6L610 265.7L609.3 264.9L608.7 264.2L607.9 263.7L607.2 263.3L606.4 263.1Z" fill="#76a0e6" stroke="#1c2a44" stroke-width="0.45" stroke-linejoin="round"/>
<path d="M603.5 265.4L603.4 265.1L603.4 264.5L603.8 263.6L604.3 262.6L605.1 261.5L606.2 260.3L607.3 259.2L608.6 258.2L610 257.4L611.4 256.9L612.7 256.7L613.9 256.8L614.9 257.2L610.5 254.4L609.5 254L608.3 253.9L607 254.1L605.6 254.6L604.2 255.4L602.9 256.4L601.8 257.5L600.8 258.7L599.9 259.8L599.4 260.8L599 261.7L599 262.3L599.1 262.6ZM612.3 271L612.2 270.7L612.2 270.1L612.6 269.2L613.1 268.2L613.9 267.1L615 265.9L616.1 264.8L617.4 263.8L618.8 263L620.2 262.5L621.5 262.3L622.7 262.4L623.7 262.8L619.3 260L618.3 259.6L617.1 259.5L615.8 259.7L614.4 260.2L613 261L611.7 262L610.6 263.1L609.6 264.3L608.7 265.4L608.2 266.4L607.8 267.3L607.8 267.9L607.9 268.2ZM621.1 276.6L621 276.3L621 275.9L621.2 275.3L621.5 274.5L622 273.7L622.7 272.8L623.5 271.8L624.4 270.9L625.4 270L626.5 269.3L627.6 268.6L628.7 268.2L629.8 267.9L625.4 265.1L624.3 265.4L623.2 265.8L622.1 266.5L621 267.2L620 268.1L619.1 269L618.3 270L617.6 270.9L617.1 271.8L616.8 272.5L616.6 273.1L616.6 273.6L616.7 273.8Z" fill="#4467a8" stroke="#1c2a44" stroke-width="0.45" stroke-linejoin="round"/>
<path d="M604.6 264.9L604.5 265L604.4 265.1L604.3 265.1L604.2 265.2L604.1 265.3L604 265.3L603.9 265.4L603.8 265.4L603.7 265.4L603.7 265.4L603.6 265.4L603.6 265.4L603.5 265.4L599.1 262.6L599.2 262.6L599.2 262.6L599.3 262.6L599.4 262.6L599.4 262.6L599.5 262.6L599.6 262.5L599.7 262.5L599.8 262.4L599.9 262.4L600 262.3L600.1 262.2L600.2 262.1ZM614.9 257.2L615.7 258L616.3 259L616.7 260.3L616.8 261.7L616.6 263.3L616.3 264.9L615.8 266.4L615.2 267.8L614.5 269.1L613.8 270L613.2 270.7L612.7 271L612.3 271L607.9 268.2L608.3 268.2L608.8 267.9L609.4 267.2L610.1 266.3L610.8 265L611.4 263.6L611.9 262.1L612.2 260.5L612.4 259L612.3 257.5L611.9 256.2L611.3 255.2L610.5 254.4ZM623.7 262.8L624.5 263.6L625.1 264.6L625.5 265.9L625.6 267.3L625.4 268.9L625.1 270.5L624.6 272L624 273.4L623.3 274.7L622.6 275.6L622 276.3L621.5 276.6L621.1 276.6L616.7 273.8L617.1 273.8L617.6 273.5L618.2 272.8L618.9 271.9L619.6 270.6L620.2 269.2L620.7 267.7L621 266.1L621.2 264.6L621.1 263.1L620.7 261.8L620.1 260.8L619.3 260Z" fill="#76a0e6" stroke="#1c2a44" stroke-width="0.45" stroke-linejoin="round"/>
<path d="M634.5 264 C633 275 626 284 615 287.5 L608 284.5 L609.5 281 C617 282 625 277 630.5 265 Z" fill="#76a0e6" stroke="#1c2a44" stroke-width="0.5"/>
<path d="M568.4 290L568.1 289.8L567.9 289.3L567.8 288.5L567.8 287.4L567.9 286.2L568.2 284.8L568.6 283.5L569.1 282.1L569.8 280.9L570.7 279.9L571.6 279.1L572.5 278.7L573.5 278.6L568.5 278.4L567.5 278.5L566.6 278.9L565.7 279.7L564.8 280.7L564.1 281.9L563.6 283.3L563.2 284.6L562.9 286L562.8 287.2L562.8 288.3L562.9 289.1L563.1 289.6L563.4 289.8ZM577.8 290.3L577.5 290.2L577.3 289.7L577.2 288.9L577.2 287.8L577.3 286.6L577.6 285.2L578 283.8L578.5 282.5L579.2 281.3L580.1 280.3L581 279.5L581.9 279.1L582.9 278.9L577.9 278.7L576.9 278.9L576 279.3L575.1 280.1L574.2 281.1L573.5 282.3L573 283.6L572.6 285L572.3 286.4L572.2 287.6L572.2 288.7L572.3 289.5L572.5 290L572.8 290.1ZM587.2 290.7L586.9 290.5L586.7 290L586.6 289.2L586.6 288.2L586.7 286.9L587 285.6L587.4 284.2L587.9 282.9L588.6 281.7L589.5 280.7L590.4 279.9L591.3 279.4L592.3 279.3L587.3 279.1L586.3 279.2L585.4 279.7L584.5 280.5L583.6 281.5L582.9 282.7L582.4 284L582 285.4L581.7 286.7L581.6 288L581.6 289L581.7 289.8L581.9 290.3L582.2 290.5ZM596.6 291.1L596.3 290.9L596.1 290.4L596 289.6L596 288.6L596.1 287.3L596.4 286L596.8 284.6L597.3 283.3L598 282L598.9 281L599.8 280.3L600.7 279.8L601.7 279.7L596.7 279.5L595.7 279.6L594.8 280.1L593.9 280.8L593 281.8L592.3 283.1L591.8 284.4L591.4 285.8L591.1 287.1L591 288.4L591 289.4L591.1 290.2L591.3 290.7L591.6 290.9Z" fill="#4467a8" stroke="#1c2a44" stroke-width="0.45" stroke-linejoin="round"/>
<path d="M569.2 287L569.2 287.4L569.2 287.8L569.1 288.1L569.1 288.5L569 288.8L569 289L568.9 289.3L568.8 289.5L568.7 289.7L568.6 289.8L568.6 289.9L568.5 289.9L568.4 290L563.4 289.8L563.5 289.7L563.6 289.7L563.6 289.6L563.7 289.5L563.8 289.3L563.9 289.1L564 288.8L564 288.6L564.1 288.3L564.1 287.9L564.2 287.6L564.2 287.2L564.2 286.8ZM573.5 278.6L574.5 278.8L575.4 279.3L576.3 280.1L577 281.2L577.6 282.5L578.1 283.8L578.4 285.3L578.5 286.6L578.6 287.9L578.5 288.9L578.3 289.7L578 290.2L577.8 290.3L572.8 290.1L573 290L573.3 289.5L573.5 288.7L573.6 287.7L573.6 286.4L573.4 285.1L573.1 283.6L572.6 282.3L572 281L571.3 279.9L570.4 279.1L569.5 278.6L568.5 278.4ZM582.9 278.9L583.9 279.1L584.8 279.7L585.7 280.5L586.4 281.6L587 282.8L587.5 284.2L587.8 285.6L587.9 287L588 288.2L587.9 289.3L587.7 290.1L587.4 290.6L587.2 290.7L582.2 290.5L582.4 290.4L582.7 289.9L582.9 289.1L583 288L583 286.8L582.8 285.4L582.5 284L582 282.6L581.4 281.4L580.7 280.3L579.8 279.5L578.9 278.9L577.9 278.7ZM592.3 279.3L593.3 279.5L594.2 280L595.1 280.9L595.8 282L596.4 283.2L596.9 284.6L597.2 286L597.3 287.4L597.4 288.6L597.3 289.7L597.1 290.4L596.8 290.9L596.6 291.1L591.6 290.9L591.8 290.7L592.1 290.2L592.3 289.5L592.4 288.4L592.4 287.2L592.2 285.8L591.9 284.4L591.4 283L590.8 281.8L590.1 280.7L589.2 279.8L588.3 279.3L587.3 279.1ZM601.7 279.7L602.4 279.8L603 280L603.6 280.4L604.2 280.9L604.7 281.5L605.2 282.3L605.6 283.1L606 284L606.3 284.9L606.5 285.8L606.6 286.7L606.7 287.6L606.8 288.5L601.8 288.3L601.7 287.4L601.6 286.5L601.5 285.6L601.3 284.7L601 283.8L600.6 282.9L600.2 282.1L599.7 281.3L599.2 280.7L598.6 280.2L598 279.8L597.4 279.6L596.7 279.5Z" fill="#76a0e6" stroke="#1c2a44" stroke-width="0.45" stroke-linejoin="round"/>
<path d="M602 286C602.5 286.8 603.9 289.4 605 291C606.1 292.6 608 294.8 608.6 295.5" fill="none" stroke="#1c2a44" stroke-width="3.3" stroke-linecap="round" stroke-linejoin="round"/>
<path d="M602 286C602.5 286.8 603.9 289.4 605 291C606.1 292.6 608 294.8 608.6 295.5" fill="none" stroke="#76a0e6" stroke-width="2.2" stroke-linecap="round" stroke-linejoin="round"/>
<path d="M563 179C563.8 179.7 567.4 181.2 568 183C568.6 184.8 566.3 187.5 566.5 190C566.7 192.5 567.6 195.7 569 198C570.4 200.3 574 203 575 204" fill="none" stroke="#1c2a44" stroke-width="3.1" stroke-linecap="round" stroke-linejoin="round"/>
<path d="M563 179C563.8 179.7 567.4 181.2 568 183C568.6 184.8 566.3 187.5 566.5 190C566.7 192.5 567.6 195.7 569 198C570.4 200.3 574 203 575 204" fill="none" stroke="#76a0e6" stroke-width="2" stroke-linecap="round" stroke-linejoin="round"/>
<path d="M575.8 194L575.4 193.8L575.1 193.3L574.9 192.6L574.9 191.6L575 190.5L575.3 189.3L575.8 188.1L576.4 187L577.2 185.9L578.1 185.1L579 184.5L580 184.2L581 184.2L577.1 183.5L576.1 183.5L575.1 183.8L574.1 184.4L573.2 185.3L572.5 186.3L571.8 187.4L571.4 188.7L571.1 189.9L570.9 191L571 191.9L571.2 192.6L571.5 193.1L571.9 193.3ZM582.5 195.8L582.1 195.5L581.7 195L581.5 194.2L581.4 193.1L581.5 191.9L581.8 190.5L582.3 189.2L583 187.9L583.8 186.8L584.8 185.8L585.8 185.1L586.9 184.8L588 184.8L584 184.1L582.9 184.1L581.9 184.5L580.8 185.1L579.9 186.1L579 187.2L578.4 188.5L577.9 189.9L577.6 191.2L577.5 192.4L577.5 193.5L577.8 194.3L578.1 194.9L578.6 195.1ZM589.3 197.5L588.7 197.3L588.3 196.7L588 195.7L587.9 194.6L588 193.2L588.3 191.7L588.8 190.3L589.6 188.8L590.4 187.6L591.5 186.5L592.6 185.8L593.7 185.4L594.9 185.4L590.9 184.7L589.8 184.7L588.6 185.1L587.5 185.8L586.5 186.9L585.6 188.1L584.9 189.6L584.4 191.1L584.1 192.5L584 193.9L584.1 195.1L584.4 196L584.8 196.6L585.3 196.8ZM596 199.3L595.4 199L594.9 198.3L594.6 197.3L594.4 196L594.5 194.5L594.8 192.9L595.4 191.3L596.1 189.8L597.1 188.4L598.2 187.2L599.4 186.4L600.6 186L601.8 186L597.9 185.3L596.6 185.3L595.4 185.8L594.2 186.6L593.1 187.7L592.2 189.1L591.4 190.6L590.9 192.3L590.6 193.9L590.5 195.4L590.6 196.6L591 197.6L591.5 198.3L592.1 198.6ZM602.7 201L602.1 200.7L601.5 200L601.1 198.9L601 197.5L601 195.9L601.3 194.1L601.9 192.4L602.7 190.7L603.7 189.2L604.9 188L606.1 187.1L607.4 186.6L608.8 186.6L604.8 185.9L603.5 185.9L602.2 186.4L600.9 187.3L599.8 188.5L598.8 190L598 191.7L597.4 193.5L597.1 195.2L597 196.8L597.2 198.2L597.6 199.3L598.1 200L598.8 200.4ZM609.5 202.8L608.7 202.5L608.1 201.7L607.7 200.5L607.5 199L607.5 197.2L607.8 195.3L608.4 193.4L609.3 191.6L610.3 190L611.6 188.7L612.9 187.7L614.3 187.2L615.7 187.2L611.7 186.5L610.4 186.6L609 187.1L607.6 188L606.4 189.3L605.3 190.9L604.5 192.7L603.9 194.7L603.6 196.5L603.5 198.3L603.7 199.8L604.2 201L604.8 201.8L605.5 202.1Z" fill="#4467a8" stroke="#1c2a44" stroke-width="0.45" stroke-linejoin="round"/>
<path d="M577.7 189.1L577.7 189.7L577.7 190.3L577.6 190.9L577.5 191.5L577.4 192L577.2 192.4L577.1 192.9L576.9 193.2L576.7 193.5L576.5 193.7L576.2 193.9L576 194L575.8 194L571.9 193.3L572.1 193.3L572.3 193.2L572.5 193.1L572.7 192.8L572.9 192.5L573.1 192.2L573.3 191.8L573.5 191.3L573.6 190.8L573.7 190.2L573.7 189.6L573.8 189L573.7 188.4ZM581 184.2L582 184.5L582.8 185.1L583.6 185.9L584.1 187L584.6 188.3L584.8 189.7L584.8 191L584.7 192.3L584.4 193.5L584 194.5L583.6 195.2L583 195.7L582.5 195.8L578.6 195.1L579.1 195L579.6 194.6L580.1 193.8L580.5 192.8L580.8 191.7L580.9 190.4L580.8 189L580.6 187.6L580.2 186.4L579.6 185.3L578.9 184.4L578 183.8L577.1 183.5ZM588 184.8L589 185.1L589.9 185.8L590.7 186.7L591.3 187.9L591.7 189.3L591.9 190.8L592 192.3L591.8 193.8L591.5 195.1L591 196.2L590.5 197L589.9 197.4L589.3 197.5L585.3 196.8L585.9 196.7L586.5 196.3L587.1 195.5L587.5 194.4L587.9 193.1L588 191.7L588 190.1L587.8 188.7L587.4 187.3L586.7 186.1L586 185.1L585 184.4L584 184.1ZM594.9 185.4L596 185.8L597 186.5L597.8 187.5L598.4 188.8L598.9 190.4L599.1 192L599.1 193.6L598.9 195.2L598.5 196.6L598 197.8L597.3 198.7L596.7 199.2L596 199.3L592.1 198.6L592.7 198.5L593.4 198L594 197.1L594.6 196L595 194.5L595.2 193L595.2 191.3L594.9 189.7L594.5 188.2L593.9 186.8L593 185.8L592 185.1L590.9 184.7ZM601.8 186L603 186.4L604 187.2L604.9 188.3L605.6 189.7L606.1 191.4L606.3 193.2L606.2 195L606 196.7L605.5 198.2L604.9 199.5L604.2 200.4L603.5 200.9L602.7 201L598.8 200.4L599.5 200.2L600.3 199.7L601 198.8L601.6 197.5L602 196L602.3 194.3L602.3 192.5L602.1 190.7L601.7 189.1L601 187.6L600.1 186.5L599 185.7L597.9 185.3ZM608.8 186.6L610 187L611.1 187.9L612 189.1L612.7 190.7L613.2 192.4L613.4 194.3L613.4 196.3L613.1 198.1L612.6 199.8L611.9 201.1L611.1 202.1L610.3 202.7L609.5 202.8L605.5 202.1L606.4 202L607.2 201.4L608 200.4L608.6 199.1L609.1 197.4L609.4 195.6L609.5 193.7L609.3 191.7L608.8 190L608.1 188.4L607.2 187.2L606.1 186.3L604.8 185.9ZM615.7 187.2L616.4 187.4L617 187.7L617.6 188.1L618.2 188.6L618.7 189.2L619.2 189.9L619.6 190.7L619.9 191.6L620.2 192.5L620.4 193.5L620.5 194.5L620.6 195.5L620.6 196.5L616.6 195.9L616.6 194.8L616.6 193.8L616.4 192.8L616.2 191.8L616 190.9L615.6 190L615.2 189.2L614.7 188.5L614.2 187.9L613.7 187.4L613.1 187L612.4 186.7L611.7 186.5Z" fill="#76a0e6" stroke="#1c2a44" stroke-width="0.45" stroke-linejoin="round"/>
<path d="M618 214C619.7 212.2 626.2 202.5 628 203C629.8 203.5 628.4 214.7 628.5 217" fill="none" stroke="#1c2a44" stroke-width="2.4" stroke-linecap="round" stroke-linejoin="round"/>
<path d="M618 214C619.7 212.2 626.2 202.5 628 203C629.8 203.5 628.4 214.7 628.5 217" fill="none" stroke="#76a0e6" stroke-width="1.3" stroke-linecap="round" stroke-linejoin="round"/>
<path d="M556.5 196C556.7 197.2 556.9 200.8 557.6 203C558.3 205.2 558.9 207.8 560.5 209C562.1 210.2 565.9 209.8 567 210" fill="none" stroke="#1c2a44" stroke-width="3.5" stroke-linecap="round" stroke-linejoin="round"/>
<path d="M556.5 196C556.7 197.2 556.9 200.8 557.6 203C558.3 205.2 558.9 207.8 560.5 209C562.1 210.2 565.9 209.8 567 210" fill="none" stroke="#6cf068" stroke-width="2.4" stroke-linecap="round" stroke-linejoin="round"/>
<path d="M552.5 196.5 L556 190 L560.5 197 Z" fill="#6cf068" stroke="#1c2a44" stroke-width="0.45"/>
<path d="M573.9 216.4L573.9 216.2L574.2 215.6L574.7 214.8L575.4 213.7L576.3 212.5L577.4 211.2L578.5 210L579.8 208.8L581.1 207.8L582.4 207L583.7 206.6L584.8 206.5L585.7 206.8L579.3 203.4L578.4 203.1L577.3 203.2L576.1 203.7L574.8 204.4L573.5 205.4L572.2 206.6L571 207.9L569.9 209.2L569 210.4L568.3 211.5L567.8 212.3L567.6 212.8L567.5 213ZM584.5 221.9L584.6 221.7L584.8 221.2L585.3 220.4L586 219.3L586.9 218.1L588 216.8L589.2 215.5L590.4 214.4L591.8 213.4L593 212.6L594.3 212.2L595.4 212.1L596.3 212.3L590 209L589 208.7L587.9 208.8L586.7 209.3L585.4 210L584.1 211L582.8 212.2L581.6 213.5L580.5 214.8L579.6 216L578.9 217L578.5 217.9L578.2 218.4L578.1 218.6ZM595.1 227.5L595.2 227.3L595.4 226.8L595.9 226L596.6 224.9L597.5 223.7L598.6 222.4L599.8 221.1L601.1 219.9L602.4 218.9L603.7 218.2L604.9 217.8L606 217.7L606.9 217.9L600.6 214.6L599.6 214.3L598.5 214.4L597.3 214.8L596 215.6L594.7 216.6L593.4 217.8L592.2 219L591.2 220.3L590.3 221.6L589.6 222.6L589.1 223.4L588.8 224L588.7 224.2ZM605.7 233.1L605.8 232.9L606.1 232.4L606.6 231.5L607.2 230.5L608.1 229.3L609.2 228L610.4 226.7L611.7 225.5L613 224.5L614.3 223.8L615.5 223.3L616.6 223.2L617.6 223.5L611.2 220.2L610.2 219.9L609.1 220L607.9 220.4L606.6 221.2L605.3 222.2L604 223.4L602.8 224.6L601.8 225.9L600.9 227.1L600.2 228.2L599.7 229L599.4 229.6L599.4 229.8ZM616.4 238.7L616.4 238.5L616.7 238L617.2 237.1L617.9 236.1L618.8 234.9L619.8 233.6L621 232.3L622.3 231.1L623.6 230.1L624.9 229.4L626.1 228.9L627.2 228.8L628.2 229.1L621.8 225.7L620.9 225.5L619.8 225.6L618.5 226L617.2 226.8L615.9 227.8L614.6 228.9L613.5 230.2L612.4 231.5L611.5 232.7L610.8 233.8L610.3 234.6L610 235.1L610 235.3ZM627 244.3L627 244.2L627 244.1L627.1 243.8L627.3 243.5L627.5 243.2L627.8 242.7L628.1 242.2L628.5 241.7L628.9 241.1L629.4 240.4L629.9 239.8L630.4 239.1L631 238.5L624.7 235.1L624.1 235.8L623.5 236.4L623 237.1L622.5 237.7L622.1 238.3L621.7 238.9L621.4 239.4L621.1 239.8L620.9 240.2L620.8 240.5L620.7 240.7L620.6 240.9L620.6 240.9Z" fill="#48c046" stroke="#1c2a44" stroke-width="0.45" stroke-linejoin="round"/>
<path d="M576.3 209.8L576.1 210.6L575.9 211.4L575.7 212.2L575.4 212.9L575.2 213.6L574.9 214.3L574.7 214.8L574.5 215.3L574.3 215.7L574.1 216L574 216.2L573.9 216.3L573.9 216.4L567.5 213L567.6 213L567.6 212.9L567.8 212.6L567.9 212.3L568.1 211.9L568.3 211.5L568.6 210.9L568.8 210.3L569.1 209.6L569.3 208.9L569.5 208.1L569.8 207.2L570 206.4ZM585.7 206.8L586.5 207.4L587 208.4L587.3 209.6L587.5 211.1L587.4 212.8L587.1 214.5L586.8 216.2L586.3 217.8L585.8 219.2L585.3 220.4L584.9 221.3L584.6 221.8L584.5 221.9L578.1 218.6L578.3 218.4L578.5 217.9L579 217L579.4 215.9L579.9 214.4L580.4 212.8L580.8 211.1L581 209.4L581.1 207.8L581 206.3L580.6 205L580.1 204L579.3 203.4ZM596.3 212.3L597.1 213L597.6 213.9L598 215.2L598.1 216.7L598 218.3L597.8 220.1L597.4 221.8L596.9 223.4L596.4 224.8L595.9 226L595.5 226.8L595.3 227.4L595.1 227.5L588.7 224.2L588.9 224L589.2 223.5L589.6 222.6L590.1 221.4L590.5 220L591 218.4L591.4 216.7L591.6 215L591.7 213.3L591.6 211.8L591.3 210.6L590.7 209.6L590 209ZM606.9 217.9L607.7 218.6L608.3 219.5L608.6 220.8L608.7 222.3L608.6 223.9L608.4 225.6L608 227.3L607.5 229L607 230.4L606.6 231.6L606.2 232.4L605.9 233L605.7 233.1L599.4 229.8L599.5 229.6L599.8 229.1L600.2 228.2L600.7 227L601.2 225.6L601.6 224L602 222.3L602.2 220.6L602.3 218.9L602.2 217.4L601.9 216.2L601.3 215.2L600.6 214.6ZM617.6 223.5L618.3 224.1L618.9 225.1L619.2 226.4L619.3 227.9L619.2 229.5L619 231.2L618.6 232.9L618.2 234.5L617.7 236L617.2 237.1L616.8 238L616.5 238.5L616.4 238.7L610 235.3L610.1 235.2L610.4 234.7L610.8 233.8L611.3 232.6L611.8 231.2L612.2 229.6L612.6 227.9L612.9 226.1L612.9 224.5L612.8 223L612.5 221.8L611.9 220.8L611.2 220.2ZM628.2 229.1L628.9 229.7L629.5 230.7L629.8 231.9L629.9 233.4L629.9 235.1L629.6 236.8L629.2 238.5L628.8 240.1L628.3 241.5L627.8 242.7L627.4 243.6L627.1 244.1L627 244.3L620.6 240.9L620.7 240.8L621 240.2L621.4 239.4L621.9 238.2L622.4 236.8L622.9 235.2L623.2 233.4L623.5 231.7L623.6 230.1L623.4 228.6L623.1 227.3L622.6 226.4L621.8 225.7Z" fill="#6cf068" stroke="#1c2a44" stroke-width="0.45" stroke-linejoin="round"/>
<path d="M626.1 235.8C627.2 236.9 630.7 240.9 632.6 242.3C634.5 243.7 636.9 243.9 637.8 244.2" fill="none" stroke="#1c2a44" stroke-width="2.9" stroke-linecap="round" stroke-linejoin="round"/>
<path d="M626.1 235.8C627.2 236.9 630.7 240.9 632.6 242.3C634.5 243.7 636.9 243.9 637.8 244.2" fill="none" stroke="#6cf068" stroke-width="1.8" stroke-linecap="round" stroke-linejoin="round"/>
<path d="M108.6 371.4V511.6M183 371.4V511.6M257.3 371.4V511.6M34.3 497.6H331.7M34.3 483.6H331.7M34.3 469.5H331.7M34.3 455.5H331.7M34.3 441.5H331.7M34.3 427.5H331.7M34.3 413.5H331.7M34.3 399.4H331.7M34.3 385.4H331.7" stroke="#e0e0e0" stroke-width="0.7" stroke-dasharray="2.6 2.6" fill="none"/>
<g class="lc" fill="#d6e7f6" stroke="#6aa7d9" stroke-width="0.55"><circle cx="50.4" cy="393.1" r="1.45"/><circle cx="45.7" cy="385.4" r="1.45"/><circle cx="53.2" cy="403.9" r="1.45"/><circle cx="79.4" cy="392" r="1.45"/><circle cx="43.9" cy="408" r="1.45"/><circle cx="71" cy="407.5" r="1.45"/><circle cx="47" cy="419.9" r="1.45"/><circle cx="65.9" cy="395" r="1.45"/><circle cx="69.9" cy="404.7" r="1.45"/><circle cx="71" cy="393.1" r="1.45"/><circle cx="93.1" cy="406.2" r="1.45"/><circle cx="97.1" cy="394.3" r="1.45"/><circle cx="45.2" cy="384.9" r="1.45"/><circle cx="100.9" cy="387.2" r="1.45"/><circle cx="47" cy="392.6" r="1.45"/><circle cx="80.7" cy="389.5" r="1.45"/><circle cx="53.3" cy="392" r="1.45"/><circle cx="65.2" cy="397.2" r="1.45"/><circle cx="99.5" cy="400.5" r="1.45"/><circle cx="92.4" cy="384.9" r="1.45"/><circle cx="88.8" cy="394.7" r="1.45"/><circle cx="52.1" cy="429.8" r="1.45"/><circle cx="60.7" cy="416.1" r="1.45"/><circle cx="47.9" cy="396.8" r="1.45"/><circle cx="112.9" cy="404.4" r="1.45"/><circle cx="52.6" cy="381.9" r="1.45"/><circle cx="52.3" cy="393.8" r="1.45"/><circle cx="49.1" cy="393" r="1.45"/><circle cx="84.8" cy="398.7" r="1.45"/><circle cx="83.9" cy="422.7" r="1.45"/><circle cx="97.6" cy="392.1" r="1.45"/><circle cx="48.8" cy="397.6" r="1.45"/><circle cx="104.7" cy="378" r="1.45"/><circle cx="84.7" cy="428.9" r="1.45"/><circle cx="96.7" cy="381.9" r="1.45"/><circle cx="68.4" cy="412.8" r="1.45"/><circle cx="91.1" cy="382.1" r="1.45"/><circle cx="58.4" cy="384.2" r="1.45"/><circle cx="71.6" cy="382.2" r="1.45"/><circle cx="53.5" cy="405" r="1.45"/><circle cx="97.8" cy="396.9" r="1.45"/><circle cx="81.2" cy="389.8" r="1.45"/><circle cx="92.9" cy="460.8" r="1.45"/><circle cx="82.5" cy="383.1" r="1.45"/><circle cx="59.9" cy="389.5" r="1.45"/><circle cx="99.2" cy="419.3" r="1.45"/><circle cx="68.5" cy="381.5" r="1.45"/><circle cx="42.7" cy="383.3" r="1.45"/><circle cx="82.5" cy="379.8" r="1.45"/><circle cx="60.5" cy="397.1" r="1.45"/><circle cx="72.3" cy="386.3" r="1.45"/><circle cx="91.3" cy="386.1" r="1.45"/><circle cx="97" cy="382.1" r="1.45"/><circle cx="108" cy="401.9" r="1.45"/><circle cx="60.6" cy="386.6" r="1.45"/><circle cx="86.5" cy="405" r="1.45"/><circle cx="55.1" cy="404.3" r="1.45"/><circle cx="112.3" cy="390" r="1.45"/><circle cx="67.9" cy="439.3" r="1.45"/><circle cx="84.7" cy="402.8" r="1.45"/><circle cx="61.9" cy="385.6" r="1.45"/><circle cx="60.4" cy="385.9" r="1.45"/><circle cx="76.3" cy="383.3" r="1.45"/><circle cx="79.5" cy="382" r="1.45"/><circle cx="89.5" cy="389.2" r="1.45"/><circle cx="56.7" cy="391.1" r="1.45"/><circle cx="103.6" cy="384" r="1.45"/><circle cx="115" cy="382.7" r="1.45"/><circle cx="93.2" cy="400.4" r="1.45"/><circle cx="45.5" cy="394.4" r="1.45"/><circle cx="64.5" cy="389.4" r="1.45"/><circle cx="63.2" cy="379.2" r="1.45"/><circle cx="51.4" cy="395.2" r="1.45"/><circle cx="88.9" cy="424.5" r="1.45"/><circle cx="69.3" cy="382.3" r="1.45"/><circle cx="59.2" cy="384.9" r="1.45"/><circle cx="93.6" cy="415.7" r="1.45"/><circle cx="60.9" cy="428" r="1.45"/><circle cx="117.1" cy="397.3" r="1.45"/><circle cx="69.3" cy="403.7" r="1.45"/><circle cx="83.4" cy="383.6" r="1.45"/><circle cx="51.8" cy="421.6" r="1.45"/><circle cx="70.2" cy="388.7" r="1.45"/><circle cx="82.8" cy="396.7" r="1.45"/><circle cx="63.7" cy="389.6" r="1.45"/><circle cx="58.9" cy="390.3" r="1.45"/><circle cx="56" cy="397.7" r="1.45"/><circle cx="55.8" cy="378.2" r="1.45"/><circle cx="61.1" cy="391.8" r="1.45"/><circle cx="60.4" cy="390.8" r="1.45"/><circle cx="74.5" cy="388.5" r="1.45"/><circle cx="46.1" cy="389.9" r="1.45"/><circle cx="103.4" cy="388.8" r="1.45"/><circle cx="80.6" cy="382.7" r="1.45"/><circle cx="55.5" cy="391" r="1.45"/><circle cx="75.3" cy="397.6" r="1.45"/><circle cx="45.4" cy="403.3" r="1.45"/><circle cx="66" cy="384.1" r="1.45"/><circle cx="82.3" cy="428.6" r="1.45"/><circle cx="73.3" cy="431.9" r="1.45"/><circle cx="55.9" cy="389.8" r="1.45"/><circle cx="109.8" cy="383.1" r="1.45"/><circle cx="68.2" cy="434.9" r="1.45"/><circle cx="43.5" cy="388.3" r="1.45"/><circle cx="54.2" cy="396.4" r="1.45"/><circle cx="57.6" cy="380.3" r="1.45"/><circle cx="66.2" cy="389.2" r="1.45"/><circle cx="109.9" cy="387" r="1.45"/><circle cx="95.4" cy="387.3" r="1.45"/><circle cx="70.1" cy="415.5" r="1.45"/><circle cx="84" cy="434" r="1.45"/><circle cx="57.3" cy="387" r="1.45"/><circle cx="54.6" cy="382.3" r="1.45"/><circle cx="68.1" cy="388.7" r="1.45"/><circle cx="59.3" cy="389.3" r="1.45"/><circle cx="61" cy="383.2" r="1.45"/><circle cx="51.4" cy="396" r="1.45"/><circle cx="62.8" cy="437.3" r="1.45"/><circle cx="73.1" cy="389.6" r="1.45"/><circle cx="50.8" cy="406" r="1.45"/><circle cx="46.1" cy="379.9" r="1.45"/><circle cx="48.6" cy="386.1" r="1.45"/><circle cx="64.4" cy="386" r="1.45"/><circle cx="87.9" cy="407.8" r="1.45"/><circle cx="86.6" cy="394.9" r="1.45"/><circle cx="64.6" cy="391.5" r="1.45"/><circle cx="71.6" cy="396.6" r="1.45"/><circle cx="59.4" cy="410.3" r="1.45"/><circle cx="52.5" cy="380.6" r="1.45"/><circle cx="97.8" cy="395.1" r="1.45"/><circle cx="100.6" cy="395.8" r="1.45"/><circle cx="59.4" cy="401.2" r="1.45"/><circle cx="81.4" cy="398.2" r="1.45"/><circle cx="90.8" cy="407.3" r="1.45"/><circle cx="108.4" cy="400.9" r="1.45"/><circle cx="62.8" cy="417.5" r="1.45"/><circle cx="50.2" cy="388.5" r="1.45"/><circle cx="58" cy="397.7" r="1.45"/><circle cx="46.5" cy="391.6" r="1.45"/><circle cx="60.1" cy="407.2" r="1.45"/><circle cx="53.3" cy="380.7" r="1.45"/><circle cx="76.3" cy="384.3" r="1.45"/><circle cx="45.2" cy="380.8" r="1.45"/><circle cx="84.4" cy="402.8" r="1.45"/><circle cx="75.2" cy="404.2" r="1.45"/><circle cx="74.9" cy="418.6" r="1.45"/><circle cx="78.2" cy="391.9" r="1.45"/><circle cx="89.3" cy="425.2" r="1.45"/><circle cx="81.5" cy="388.8" r="1.45"/><circle cx="87.7" cy="386.4" r="1.45"/><circle cx="82.4" cy="395.5" r="1.45"/><circle cx="76.7" cy="425.7" r="1.45"/><circle cx="67" cy="413.4" r="1.45"/><circle cx="49.2" cy="438.4" r="1.45"/><circle cx="84.4" cy="381.3" r="1.45"/><circle cx="81.7" cy="404.6" r="1.45"/><circle cx="84.2" cy="428.7" r="1.45"/><circle cx="52.8" cy="387.9" r="1.45"/><circle cx="44.3" cy="389.3" r="1.45"/><circle cx="74" cy="395.4" r="1.45"/><circle cx="118.5" cy="384.4" r="1.45"/><circle cx="56.2" cy="430.9" r="1.45"/><circle cx="66.2" cy="382.2" r="1.45"/><circle cx="112.3" cy="381.3" r="1.45"/><circle cx="61.3" cy="390.6" r="1.45"/><circle cx="66.5" cy="403.5" r="1.45"/><circle cx="67.1" cy="387" r="1.45"/><circle cx="67.5" cy="395.6" r="1.45"/><circle cx="87.9" cy="392.3" r="1.45"/><circle cx="67.3" cy="381.7" r="1.45"/><circle cx="49" cy="394" r="1.45"/><circle cx="85.2" cy="377.9" r="1.45"/><circle cx="91.2" cy="409.9" r="1.45"/><circle cx="84.4" cy="413.5" r="1.45"/><circle cx="66.2" cy="410.7" r="1.45"/><circle cx="92.6" cy="420.1" r="1.45"/><circle cx="61" cy="401.9" r="1.45"/><circle cx="84.4" cy="396.3" r="1.45"/><circle cx="66.7" cy="392.6" r="1.45"/><circle cx="95.3" cy="395" r="1.45"/><circle cx="80" cy="392.2" r="1.45"/><circle cx="114" cy="412.1" r="1.45"/><circle cx="89.5" cy="383.8" r="1.45"/><circle cx="61.9" cy="386.1" r="1.45"/><circle cx="77.8" cy="419.8" r="1.45"/><circle cx="77.5" cy="390.7" r="1.45"/><circle cx="58.8" cy="393.6" r="1.45"/><circle cx="56.5" cy="386.5" r="1.45"/><circle cx="48.9" cy="397.1" r="1.45"/><circle cx="54.2" cy="394.8" r="1.45"/><circle cx="54.6" cy="404.9" r="1.45"/><circle cx="49.3" cy="384.7" r="1.45"/><circle cx="64.2" cy="394.7" r="1.45"/><circle cx="48.5" cy="380.3" r="1.45"/><circle cx="52.6" cy="392.5" r="1.45"/><circle cx="48.5" cy="407.2" r="1.45"/><circle cx="52" cy="392.7" r="1.45"/><circle cx="88.6" cy="383.6" r="1.45"/><circle cx="64.3" cy="385.6" r="1.45"/><circle cx="57.9" cy="421.3" r="1.45"/><circle cx="96.1" cy="395.7" r="1.45"/><circle cx="47.8" cy="384.6" r="1.45"/><circle cx="59.4" cy="381.4" r="1.45"/><circle cx="60" cy="409" r="1.45"/><circle cx="63.5" cy="392.9" r="1.45"/><circle cx="114.9" cy="387.7" r="1.45"/><circle cx="58.5" cy="386.4" r="1.45"/><circle cx="98.4" cy="429.1" r="1.45"/><circle cx="96.5" cy="392.5" r="1.45"/><circle cx="54.4" cy="483.4" r="1.45"/><circle cx="44.7" cy="385.9" r="1.45"/><circle cx="80.5" cy="390.8" r="1.45"/><circle cx="94.4" cy="433.9" r="1.45"/><circle cx="47.3" cy="386" r="1.45"/><circle cx="59.7" cy="419.2" r="1.45"/><circle cx="55.6" cy="384.7" r="1.45"/><circle cx="74.6" cy="380.9" r="1.45"/><circle cx="108.3" cy="393.2" r="1.45"/><circle cx="71.8" cy="406.3" r="1.45"/><circle cx="48.4" cy="403.7" r="1.45"/><circle cx="92.2" cy="400.4" r="1.45"/><circle cx="104.6" cy="384.9" r="1.45"/><circle cx="98.9" cy="403.6" r="1.45"/><circle cx="47" cy="412.2" r="1.45"/><circle cx="45.5" cy="386.1" r="1.45"/><circle cx="47.1" cy="390" r="1.45"/><circle cx="69.6" cy="395.4" r="1.45"/><circle cx="63.3" cy="390.9" r="1.45"/><circle cx="80.6" cy="404.3" r="1.45"/><circle cx="52.9" cy="389.4" r="1.45"/><circle cx="78.8" cy="391.3" r="1.45"/><circle cx="105.7" cy="408.2" r="1.45"/><circle cx="60.2" cy="424.5" r="1.45"/><circle cx="116.2" cy="420.3" r="1.45"/><circle cx="89.7" cy="434.8" r="1.45"/><circle cx="99.9" cy="387.3" r="1.45"/><circle cx="52.6" cy="381" r="1.45"/><circle cx="70.8" cy="407.1" r="1.45"/><circle cx="53.3" cy="384.5" r="1.45"/><circle cx="77.6" cy="390" r="1.45"/><circle cx="57.7" cy="441.2" r="1.45"/><circle cx="84.9" cy="420.5" r="1.45"/><circle cx="75.5" cy="395.5" r="1.45"/><circle cx="49.6" cy="400.3" r="1.45"/><circle cx="64.6" cy="391.4" r="1.45"/><circle cx="92.4" cy="387.3" r="1.45"/><circle cx="44.5" cy="444" r="1.45"/><circle cx="70.8" cy="419.8" r="1.45"/><circle cx="78.4" cy="383.6" r="1.45"/><circle cx="84.2" cy="400.3" r="1.45"/><circle cx="75" cy="404.9" r="1.45"/><circle cx="72.9" cy="431.4" r="1.45"/><circle cx="56.2" cy="405.7" r="1.45"/><circle cx="84.4" cy="395.5" r="1.45"/><circle cx="88.6" cy="419.5" r="1.45"/><circle cx="71" cy="403.1" r="1.45"/><circle cx="101.7" cy="386.3" r="1.45"/><circle cx="103.3" cy="398.8" r="1.45"/><circle cx="85.5" cy="386.1" r="1.45"/><circle cx="60.5" cy="418.5" r="1.45"/><circle cx="43.3" cy="385.8" r="1.45"/><circle cx="45.9" cy="393.9" r="1.45"/><circle cx="61.2" cy="385.8" r="1.45"/><circle cx="102.1" cy="413.4" r="1.45"/><circle cx="56.6" cy="390.6" r="1.45"/><circle cx="51.2" cy="377.9" r="1.45"/><circle cx="52.8" cy="411.4" r="1.45"/><circle cx="58" cy="380.5" r="1.45"/><circle cx="86.2" cy="379.6" r="1.45"/><circle cx="71" cy="413.9" r="1.45"/><circle cx="77.7" cy="425.3" r="1.45"/><circle cx="99.1" cy="385.5" r="1.45"/><circle cx="91.7" cy="396" r="1.45"/><circle cx="68.7" cy="399.3" r="1.45"/><circle cx="54.4" cy="423.2" r="1.45"/><circle cx="56.1" cy="402" r="1.45"/><circle cx="77" cy="378.3" r="1.45"/><circle cx="98.5" cy="384.6" r="1.45"/><circle cx="62.4" cy="458.1" r="1.45"/><circle cx="60.7" cy="417" r="1.45"/><circle cx="72" cy="411.1" r="1.45"/><circle cx="59.8" cy="405.4" r="1.45"/><circle cx="78.5" cy="435.6" r="1.45"/><circle cx="101.9" cy="389.7" r="1.45"/><circle cx="90.2" cy="387.6" r="1.45"/><circle cx="83" cy="391.4" r="1.45"/><circle cx="60.4" cy="398.5" r="1.45"/><circle cx="56.3" cy="387.9" r="1.45"/><circle cx="52.7" cy="400.4" r="1.45"/><circle cx="82.8" cy="413.9" r="1.45"/><circle cx="43.5" cy="383.7" r="1.45"/><circle cx="98.5" cy="416.5" r="1.45"/><circle cx="64.1" cy="380.2" r="1.45"/><circle cx="102.1" cy="398.9" r="1.45"/><circle cx="53.6" cy="389.8" r="1.45"/><circle cx="64.2" cy="381.1" r="1.45"/><circle cx="67.4" cy="407.2" r="1.45"/><circle cx="91.1" cy="382.6" r="1.45"/><circle cx="54.8" cy="410.5" r="1.45"/><circle cx="93.2" cy="390.8" r="1.45"/><circle cx="106.2" cy="434.3" r="1.45"/><circle cx="68.4" cy="429.2" r="1.45"/><circle cx="87.5" cy="389.9" r="1.45"/><circle cx="58.8" cy="391.3" r="1.45"/><circle cx="95.1" cy="407" r="1.45"/><circle cx="75.2" cy="391.3" r="1.45"/><circle cx="70.9" cy="400.1" r="1.45"/><circle cx="62.8" cy="385.3" r="1.45"/><circle cx="108.6" cy="400.7" r="1.45"/><circle cx="62.9" cy="402.5" r="1.45"/><circle cx="50.2" cy="394.9" r="1.45"/><circle cx="115.2" cy="392.2" r="1.45"/><circle cx="76.1" cy="398.3" r="1.45"/><circle cx="52" cy="389.9" r="1.45"/><circle cx="48.7" cy="400.5" r="1.45"/><circle cx="101.7" cy="383.2" r="1.45"/><circle cx="64.5" cy="420.2" r="1.45"/><circle cx="43.8" cy="428.1" r="1.45"/><circle cx="52.9" cy="394.4" r="1.45"/><circle cx="78" cy="385.9" r="1.45"/><circle cx="103.8" cy="414.2" r="1.45"/><circle cx="62.5" cy="396.9" r="1.45"/><circle cx="70.6" cy="382.5" r="1.45"/><circle cx="65" cy="379.5" r="1.45"/><circle cx="68.2" cy="382" r="1.45"/><circle cx="82.2" cy="417.8" r="1.45"/><circle cx="95.2" cy="399.6" r="1.45"/><circle cx="78.2" cy="396.1" r="1.45"/><circle cx="72.3" cy="389.4" r="1.45"/><circle cx="79.3" cy="398.3" r="1.45"/><circle cx="74.3" cy="422.1" r="1.45"/><circle cx="49" cy="390" r="1.45"/><circle cx="56.9" cy="380.3" r="1.45"/><circle cx="69.2" cy="378.5" r="1.45"/><circle cx="43.5" cy="407.2" r="1.45"/><circle cx="52.8" cy="429.7" r="1.45"/><circle cx="55.9" cy="383.4" r="1.45"/><circle cx="92.1" cy="392.3" r="1.45"/><circle cx="59.8" cy="388.7" r="1.45"/><circle cx="68.5" cy="382.2" r="1.45"/><circle cx="62.9" cy="392.3" r="1.45"/><circle cx="86.3" cy="415.3" r="1.45"/><circle cx="60.6" cy="416.5" r="1.45"/><circle cx="84.3" cy="379.4" r="1.45"/><circle cx="56.2" cy="398.9" r="1.45"/><circle cx="94.6" cy="379.6" r="1.45"/><circle cx="110.8" cy="389.8" r="1.45"/><circle cx="59.1" cy="383.4" r="1.45"/><circle cx="85.9" cy="396.9" r="1.45"/><circle cx="89.8" cy="395.2" r="1.45"/><circle cx="50.8" cy="389.8" r="1.45"/><circle cx="73.1" cy="380.5" r="1.45"/><circle cx="61.5" cy="411.8" r="1.45"/><circle cx="108.8" cy="387.6" r="1.45"/><circle cx="69.4" cy="439.7" r="1.45"/><circle cx="76.1" cy="400.6" r="1.45"/><circle cx="57.2" cy="382.2" r="1.45"/><circle cx="69.5" cy="397.9" r="1.45"/><circle cx="48.9" cy="396.7" r="1.45"/><circle cx="89.5" cy="395.1" r="1.45"/><circle cx="110.7" cy="384.6" r="1.45"/><circle cx="45.6" cy="378.9" r="1.45"/><circle cx="63.6" cy="401" r="1.45"/><circle cx="71.3" cy="406.7" r="1.45"/><circle cx="43.8" cy="417.1" r="1.45"/><circle cx="63.4" cy="379.1" r="1.45"/><circle cx="55.6" cy="381.6" r="1.45"/><circle cx="100.1" cy="386.8" r="1.45"/><circle cx="74.4" cy="386.8" r="1.45"/><circle cx="52.2" cy="421.6" r="1.45"/><circle cx="46.5" cy="409.6" r="1.45"/><circle cx="50.3" cy="411.1" r="1.45"/><circle cx="82" cy="415.1" r="1.45"/><circle cx="54.4" cy="410.1" r="1.45"/><circle cx="51" cy="406.1" r="1.45"/><circle cx="76.8" cy="380.9" r="1.45"/><circle cx="55.6" cy="395.8" r="1.45"/><circle cx="44.2" cy="393" r="1.45"/><circle cx="96.7" cy="400.4" r="1.45"/><circle cx="64.6" cy="399.2" r="1.45"/><circle cx="60.9" cy="389.9" r="1.45"/><circle cx="51.2" cy="389.5" r="1.45"/><circle cx="57.1" cy="406.6" r="1.45"/><circle cx="80.5" cy="390.2" r="1.45"/><circle cx="87.8" cy="378.6" r="1.45"/><circle cx="111.3" cy="407.3" r="1.45"/><circle cx="85.5" cy="400.6" r="1.45"/><circle cx="45.8" cy="389.4" r="1.45"/><circle cx="90.2" cy="394.7" r="1.45"/><circle cx="58.1" cy="378.1" r="1.45"/><circle cx="45.2" cy="385.4" r="1.45"/><circle cx="66.5" cy="394.3" r="1.45"/><circle cx="43" cy="422.7" r="1.45"/><circle cx="93.7" cy="402.3" r="1.45"/><circle cx="89.5" cy="399.9" r="1.45"/><circle cx="80.4" cy="380.2" r="1.45"/><circle cx="44.8" cy="399.4" r="1.45"/><circle cx="65.4" cy="414" r="1.45"/><circle cx="80.9" cy="397.8" r="1.45"/><circle cx="67.1" cy="393.1" r="1.45"/><circle cx="62" cy="383.1" r="1.45"/><circle cx="94.7" cy="382.8" r="1.45"/><circle cx="46.2" cy="391.6" r="1.45"/><circle cx="75.9" cy="379.4" r="1.45"/><circle cx="51.4" cy="388.5" r="1.45"/><circle cx="58" cy="391.7" r="1.45"/><circle cx="52.4" cy="378.3" r="1.45"/><circle cx="106.4" cy="383.5" r="1.45"/><circle cx="45.1" cy="391.6" r="1.45"/><circle cx="50.7" cy="416.5" r="1.45"/><circle cx="61.7" cy="387.9" r="1.45"/><circle cx="72.6" cy="383.5" r="1.45"/><circle cx="56.2" cy="392.7" r="1.45"/><circle cx="113.5" cy="390.2" r="1.45"/><circle cx="77.3" cy="417.3" r="1.45"/><circle cx="66.4" cy="445.4" r="1.45"/><circle cx="67.2" cy="386.4" r="1.45"/><circle cx="115.6" cy="404.6" r="1.45"/><circle cx="59.1" cy="379.5" r="1.45"/><circle cx="45.1" cy="397.6" r="1.45"/><circle cx="65" cy="387.9" r="1.45"/><circle cx="47" cy="383.6" r="1.45"/><circle cx="49.7" cy="385.4" r="1.45"/><circle cx="55.8" cy="388.4" r="1.45"/><circle cx="101.5" cy="385.8" r="1.45"/><circle cx="62.1" cy="420.4" r="1.45"/><circle cx="52.8" cy="391" r="1.45"/><circle cx="45.3" cy="403.8" r="1.45"/><circle cx="50.9" cy="402.3" r="1.45"/><circle cx="77.4" cy="409.7" r="1.45"/><circle cx="93.3" cy="439.4" r="1.45"/><circle cx="99.7" cy="404.4" r="1.45"/><circle cx="72" cy="393.8" r="1.45"/><circle cx="68.9" cy="418.1" r="1.45"/><circle cx="92.6" cy="385.6" r="1.45"/><circle cx="46.8" cy="404.3" r="1.45"/><circle cx="61" cy="387" r="1.45"/><circle cx="61.9" cy="384.8" r="1.45"/><circle cx="102.5" cy="393.9" r="1.45"/><circle cx="73.8" cy="415.1" r="1.45"/><circle cx="103.1" cy="418.8" r="1.45"/><circle cx="63.7" cy="405.1" r="1.45"/><circle cx="65.7" cy="383.5" r="1.45"/><circle cx="58.4" cy="404.3" r="1.45"/><circle cx="69.4" cy="388" r="1.45"/><circle cx="78" cy="424.5" r="1.45"/><circle cx="53.4" cy="393.1" r="1.45"/><circle cx="64.8" cy="398.2" r="1.45"/><circle cx="61.8" cy="386" r="1.45"/><circle cx="110.8" cy="380.2" r="1.45"/><circle cx="64.1" cy="402.1" r="1.45"/><circle cx="47.4" cy="403.7" r="1.45"/><circle cx="52.9" cy="412.1" r="1.45"/><circle cx="72.5" cy="412.6" r="1.45"/><circle cx="83.8" cy="380.1" r="1.45"/><circle cx="71" cy="388.5" r="1.45"/><circle cx="62.2" cy="395.1" r="1.45"/><circle cx="45.8" cy="381.6" r="1.45"/><circle cx="68.4" cy="394.6" r="1.45"/><circle cx="81" cy="387.7" r="1.45"/><circle cx="97.7" cy="385.7" r="1.45"/><circle cx="56.8" cy="382.3" r="1.45"/><circle cx="109.1" cy="380.2" r="1.45"/><circle cx="48.8" cy="402.8" r="1.45"/><circle cx="59.8" cy="386.7" r="1.45"/><circle cx="54.8" cy="387.5" r="1.45"/><circle cx="85.4" cy="399.1" r="1.45"/><circle cx="50.3" cy="381.2" r="1.45"/><circle cx="70.4" cy="384.7" r="1.45"/><circle cx="75.9" cy="397.3" r="1.45"/><circle cx="80.6" cy="391.3" r="1.45"/><circle cx="53.4" cy="390.2" r="1.45"/><circle cx="58.5" cy="399" r="1.45"/><circle cx="66.2" cy="383.1" r="1.45"/><circle cx="72.1" cy="397.4" r="1.45"/><circle cx="83.7" cy="390.5" r="1.45"/><circle cx="82.9" cy="421.8" r="1.45"/><circle cx="54.4" cy="383.4" r="1.45"/><circle cx="73" cy="392.9" r="1.45"/><circle cx="63.6" cy="390.6" r="1.45"/><circle cx="89.3" cy="390.7" r="1.45"/><circle cx="74.9" cy="394.3" r="1.45"/><circle cx="76.7" cy="384.7" r="1.45"/><circle cx="111.9" cy="384.6" r="1.45"/><circle cx="65.1" cy="399.4" r="1.45"/><circle cx="42.8" cy="437.4" r="1.45"/><circle cx="69.1" cy="452.9" r="1.45"/><circle cx="89.8" cy="388.7" r="1.45"/><circle cx="59.5" cy="420.2" r="1.45"/><circle cx="74.6" cy="398.1" r="1.45"/><circle cx="86.2" cy="386.1" r="1.45"/><circle cx="64.6" cy="391.8" r="1.45"/><circle cx="118.5" cy="399.7" r="1.45"/><circle cx="73.8" cy="384.7" r="1.45"/><circle cx="44.8" cy="403.6" r="1.45"/><circle cx="49.2" cy="400" r="1.45"/><circle cx="69" cy="390.2" r="1.45"/><circle cx="44.1" cy="397.4" r="1.45"/><circle cx="55.6" cy="436" r="1.45"/><circle cx="58.8" cy="398.7" r="1.45"/><circle cx="69.9" cy="398" r="1.45"/><circle cx="75.6" cy="385.9" r="1.45"/><circle cx="63.7" cy="383.3" r="1.45"/><circle cx="68.1" cy="420.3" r="1.45"/><circle cx="50.7" cy="394.4" r="1.45"/><circle cx="67.3" cy="395.6" r="1.45"/><circle cx="68.8" cy="430.5" r="1.45"/><circle cx="58.8" cy="414.6" r="1.45"/><circle cx="101.9" cy="387.2" r="1.45"/><circle cx="109.8" cy="398.3" r="1.45"/><circle cx="70.7" cy="426" r="1.45"/><circle cx="74" cy="405.2" r="1.45"/><circle cx="43.7" cy="414.7" r="1.45"/><circle cx="69" cy="398.1" r="1.45"/><circle cx="111.2" cy="398.6" r="1.45"/><circle cx="59.4" cy="394" r="1.45"/><circle cx="62" cy="390.4" r="1.45"/><circle cx="57.1" cy="415.5" r="1.45"/><circle cx="66.2" cy="379.1" r="1.45"/><circle cx="70.3" cy="382.3" r="1.45"/><circle cx="48.5" cy="399.4" r="1.45"/><circle cx="93.3" cy="388.8" r="1.45"/><circle cx="57.7" cy="394.2" r="1.45"/><circle cx="51.9" cy="382" r="1.45"/><circle cx="87.1" cy="388.7" r="1.45"/><circle cx="53" cy="398.9" r="1.45"/><circle cx="64.9" cy="407" r="1.45"/><circle cx="73.8" cy="385" r="1.45"/><circle cx="94.2" cy="398.6" r="1.45"/><circle cx="118.3" cy="417.6" r="1.45"/><circle cx="55.8" cy="391.9" r="1.45"/><circle cx="42.6" cy="388.2" r="1.45"/><circle cx="94.6" cy="409.8" r="1.45"/><circle cx="62.8" cy="403.2" r="1.45"/><circle cx="48.2" cy="400.5" r="1.45"/><circle cx="106.5" cy="379.3" r="1.45"/><circle cx="74.7" cy="379.4" r="1.45"/><circle cx="53.7" cy="381.6" r="1.45"/><circle cx="58.1" cy="385.1" r="1.45"/><circle cx="54.2" cy="392.1" r="1.45"/><circle cx="100.3" cy="433.4" r="1.45"/><circle cx="109.7" cy="389.9" r="1.45"/><circle cx="56.1" cy="466.1" r="1.45"/><circle cx="83.8" cy="383.8" r="1.45"/><circle cx="93.1" cy="385.8" r="1.45"/><circle cx="78.8" cy="392.7" r="1.45"/><circle cx="70.1" cy="415.8" r="1.45"/><circle cx="57.3" cy="406.8" r="1.45"/><circle cx="64.2" cy="390.9" r="1.45"/><circle cx="69.4" cy="428.3" r="1.45"/><circle cx="78" cy="383.1" r="1.45"/><circle cx="65.8" cy="383.3" r="1.45"/><circle cx="48.3" cy="387.3" r="1.45"/><circle cx="62.5" cy="385.6" r="1.45"/><circle cx="104.9" cy="383.6" r="1.45"/><circle cx="66.1" cy="413.5" r="1.45"/><circle cx="44.8" cy="393.8" r="1.45"/><circle cx="42.8" cy="416.2" r="1.45"/><circle cx="67.6" cy="394.1" r="1.45"/><circle cx="102.5" cy="456.9" r="1.45"/><circle cx="84" cy="379.7" r="1.45"/><circle cx="88.8" cy="391.3" r="1.45"/><circle cx="56.4" cy="383.2" r="1.45"/><circle cx="52" cy="407.9" r="1.45"/><circle cx="65.7" cy="396.7" r="1.45"/><circle cx="42.7" cy="407.5" r="1.45"/><circle cx="64.2" cy="392.5" r="1.45"/><circle cx="67" cy="379.8" r="1.45"/><circle cx="90.6" cy="405.6" r="1.45"/><circle cx="52.5" cy="424" r="1.45"/><circle cx="61.5" cy="435.9" r="1.45"/><circle cx="51.5" cy="420.3" r="1.45"/><circle cx="110" cy="404.7" r="1.45"/><circle cx="79" cy="380.2" r="1.45"/><circle cx="70.2" cy="397.5" r="1.45"/><circle cx="62.6" cy="409.9" r="1.45"/><circle cx="72.8" cy="462.1" r="1.45"/><circle cx="110.7" cy="420.1" r="1.45"/><circle cx="79.2" cy="437" r="1.45"/><circle cx="65" cy="388.9" r="1.45"/><circle cx="63.8" cy="392.3" r="1.45"/><circle cx="56.9" cy="381.7" r="1.45"/><circle cx="44.9" cy="378.1" r="1.45"/><circle cx="67" cy="414.9" r="1.45"/><circle cx="45.8" cy="397.3" r="1.45"/><circle cx="76.8" cy="409.8" r="1.45"/><circle cx="82.1" cy="393.6" r="1.45"/><circle cx="72.9" cy="398.4" r="1.45"/><circle cx="45.8" cy="394.5" r="1.45"/><circle cx="57.1" cy="429.3" r="1.45"/><circle cx="48.4" cy="411.1" r="1.45"/><circle cx="104.1" cy="433" r="1.45"/><circle cx="86" cy="404.4" r="1.45"/><circle cx="97.9" cy="382.4" r="1.45"/><circle cx="57.9" cy="383.2" r="1.45"/><circle cx="110.1" cy="414.6" r="1.45"/><circle cx="61.2" cy="391.7" r="1.45"/><circle cx="63.4" cy="391.7" r="1.45"/><circle cx="88.9" cy="406.8" r="1.45"/><circle cx="55.6" cy="383.9" r="1.45"/><circle cx="118.7" cy="385.4" r="1.45"/><circle cx="59.5" cy="395.2" r="1.45"/><circle cx="79.6" cy="400" r="1.45"/><circle cx="74.9" cy="398" r="1.45"/><circle cx="76.5" cy="385.1" r="1.45"/><circle cx="72" cy="383.8" r="1.45"/><circle cx="111.5" cy="400.2" r="1.45"/><circle cx="56.1" cy="378.3" r="1.45"/><circle cx="55" cy="404.1" r="1.45"/><circle cx="70.3" cy="408.9" r="1.45"/><circle cx="52" cy="393.9" r="1.45"/><circle cx="86.8" cy="402.2" r="1.45"/><circle cx="56" cy="391" r="1.45"/><circle cx="111.1" cy="402.9" r="1.45"/><circle cx="76.7" cy="396.4" r="1.45"/><circle cx="99" cy="386.2" r="1.45"/><circle cx="68.2" cy="424.3" r="1.45"/><circle cx="86" cy="395.1" r="1.45"/><circle cx="73.9" cy="380.6" r="1.45"/><circle cx="63.6" cy="401.1" r="1.45"/><circle cx="75.5" cy="387.1" r="1.45"/><circle cx="68.5" cy="389.4" r="1.45"/><circle cx="49.3" cy="409.6" r="1.45"/><circle cx="51.1" cy="384" r="1.45"/><circle cx="44.6" cy="397.8" r="1.45"/><circle cx="78.5" cy="393.1" r="1.45"/><circle cx="78.7" cy="384.6" r="1.45"/><circle cx="112" cy="381.5" r="1.45"/><circle cx="63.2" cy="380.8" r="1.45"/><circle cx="81" cy="395.9" r="1.45"/><circle cx="52.8" cy="385.2" r="1.45"/><circle cx="69.3" cy="417.8" r="1.45"/><circle cx="44.5" cy="412.8" r="1.45"/><circle cx="92.8" cy="391.4" r="1.45"/><circle cx="86.9" cy="406.2" r="1.45"/><circle cx="94.1" cy="386.3" r="1.45"/><circle cx="62.5" cy="379.4" r="1.45"/><circle cx="45.8" cy="400.5" r="1.45"/><circle cx="100.9" cy="385" r="1.45"/><circle cx="64" cy="395.5" r="1.45"/><circle cx="112.6" cy="423.3" r="1.45"/><circle cx="73.2" cy="391.1" r="1.45"/><circle cx="52.1" cy="402.6" r="1.45"/><circle cx="85.4" cy="379.1" r="1.45"/><circle cx="59.8" cy="398.8" r="1.45"/><circle cx="51.6" cy="417.1" r="1.45"/><circle cx="91.9" cy="391.5" r="1.45"/><circle cx="46.5" cy="400.1" r="1.45"/><circle cx="48.1" cy="410.9" r="1.45"/><circle cx="47.3" cy="388.2" r="1.45"/><circle cx="82.9" cy="381.2" r="1.45"/><circle cx="56" cy="383.4" r="1.45"/><circle cx="53.3" cy="380" r="1.45"/><circle cx="93.6" cy="379.2" r="1.45"/><circle cx="62.8" cy="412.8" r="1.45"/><circle cx="45.7" cy="380.5" r="1.45"/><circle cx="65" cy="379.8" r="1.45"/><circle cx="75.9" cy="385.8" r="1.45"/><circle cx="52.4" cy="396.7" r="1.45"/><circle cx="53.4" cy="399" r="1.45"/><circle cx="87.4" cy="386.1" r="1.45"/><circle cx="110.9" cy="404.1" r="1.45"/><circle cx="68" cy="390" r="1.45"/><circle cx="47.7" cy="393.6" r="1.45"/><circle cx="49.4" cy="385.1" r="1.45"/><circle cx="73.7" cy="408.1" r="1.45"/><circle cx="88" cy="450.9" r="1.45"/><circle cx="48.3" cy="388.6" r="1.45"/><circle cx="101.6" cy="388.8" r="1.45"/><circle cx="95.6" cy="414.1" r="1.45"/><circle cx="95.8" cy="384.3" r="1.45"/><circle cx="76.3" cy="397" r="1.45"/><circle cx="56.6" cy="392.4" r="1.45"/><circle cx="101.2" cy="399.8" r="1.45"/><circle cx="115.6" cy="394.6" r="1.45"/><circle cx="81.3" cy="430.5" r="1.45"/><circle cx="70.7" cy="391" r="1.45"/><circle cx="63.1" cy="383.1" r="1.45"/><circle cx="43.5" cy="398.8" r="1.45"/><circle cx="115.5" cy="399.8" r="1.45"/><circle cx="107.2" cy="417.3" r="1.45"/><circle cx="82" cy="409.4" r="1.45"/><circle cx="72.3" cy="400.7" r="1.45"/><circle cx="49" cy="388.3" r="1.45"/><circle cx="67.5" cy="383.6" r="1.45"/><circle cx="96.4" cy="428.4" r="1.45"/><circle cx="87" cy="383.6" r="1.45"/><circle cx="71.8" cy="386.1" r="1.45"/><circle cx="82.3" cy="387.1" r="1.45"/><circle cx="85.5" cy="411.3" r="1.45"/><circle cx="81.7" cy="397.3" r="1.45"/><circle cx="70" cy="392.3" r="1.45"/><circle cx="56.4" cy="405.9" r="1.45"/><circle cx="74.9" cy="407.5" r="1.45"/><circle cx="93.9" cy="391" r="1.45"/><circle cx="51.6" cy="408.6" r="1.45"/><circle cx="62.8" cy="389.2" r="1.45"/><circle cx="63.5" cy="389.2" r="1.45"/><circle cx="52.3" cy="389.4" r="1.45"/><circle cx="61.3" cy="385.2" r="1.45"/><circle cx="107.2" cy="388.8" r="1.45"/><circle cx="70.4" cy="395.5" r="1.45"/><circle cx="114.1" cy="392.2" r="1.45"/><circle cx="84.6" cy="456.5" r="1.45"/><circle cx="108.3" cy="398.5" r="1.45"/><circle cx="99.2" cy="397.3" r="1.45"/><circle cx="73.6" cy="394.1" r="1.45"/><circle cx="52.3" cy="417.9" r="1.45"/><circle cx="100.9" cy="411.1" r="1.45"/><circle cx="53" cy="405" r="1.45"/><circle cx="50.6" cy="401.4" r="1.45"/><circle cx="87.5" cy="390.1" r="1.45"/><circle cx="93.9" cy="381.5" r="1.45"/><circle cx="62.8" cy="395.4" r="1.45"/><circle cx="50.1" cy="391" r="1.45"/><circle cx="107" cy="396.6" r="1.45"/><circle cx="44.9" cy="388.5" r="1.45"/><circle cx="86.1" cy="398.8" r="1.45"/><circle cx="67.2" cy="380.3" r="1.45"/><circle cx="82.7" cy="392.5" r="1.45"/><circle cx="88.1" cy="389.9" r="1.45"/><circle cx="103.1" cy="388.4" r="1.45"/><circle cx="109.1" cy="435.1" r="1.45"/><circle cx="90.2" cy="390.3" r="1.45"/><circle cx="107.8" cy="405.6" r="1.45"/><circle cx="96" cy="410" r="1.45"/><circle cx="54.7" cy="383.6" r="1.45"/><circle cx="81.9" cy="395.2" r="1.45"/><circle cx="74.9" cy="391.6" r="1.45"/><circle cx="43.3" cy="382.6" r="1.45"/><circle cx="78.4" cy="393.9" r="1.45"/><circle cx="83.8" cy="393.9" r="1.45"/><circle cx="62.1" cy="386.2" r="1.45"/><circle cx="70.5" cy="385.5" r="1.45"/><circle cx="89.3" cy="378.2" r="1.45"/><circle cx="55.1" cy="416.7" r="1.45"/><circle cx="72.4" cy="427.3" r="1.45"/><circle cx="63.8" cy="474.5" r="1.45"/><circle cx="48.6" cy="409.1" r="1.45"/><circle cx="90.4" cy="427.5" r="1.45"/><circle cx="83.1" cy="414" r="1.45"/><circle cx="66.7" cy="377.9" r="1.45"/><circle cx="59.5" cy="389.3" r="1.45"/><circle cx="102.5" cy="399.1" r="1.45"/><circle cx="55.9" cy="405.5" r="1.45"/><circle cx="79" cy="381.5" r="1.45"/><circle cx="59.3" cy="385.7" r="1.45"/><circle cx="102.5" cy="409.3" r="1.45"/><circle cx="95" cy="390.4" r="1.45"/><circle cx="43" cy="423.5" r="1.45"/><circle cx="103.4" cy="398.7" r="1.45"/><circle cx="63.5" cy="384.9" r="1.45"/><circle cx="43.7" cy="402.7" r="1.45"/><circle cx="70.3" cy="424.3" r="1.45"/><circle cx="52.5" cy="394.2" r="1.45"/><circle cx="64.6" cy="409.6" r="1.45"/><circle cx="105.8" cy="398.1" r="1.45"/><circle cx="63.9" cy="388.9" r="1.45"/><circle cx="102.3" cy="394.1" r="1.45"/><circle cx="97.6" cy="403.6" r="1.45"/><circle cx="73" cy="401.4" r="1.45"/><circle cx="44" cy="426.2" r="1.45"/><circle cx="71.2" cy="421.8" r="1.45"/><circle cx="72.2" cy="390.9" r="1.45"/><circle cx="52.5" cy="390.9" r="1.45"/><circle cx="51.3" cy="406.9" r="1.45"/><circle cx="70.7" cy="392.3" r="1.45"/><circle cx="73.3" cy="387.8" r="1.45"/><circle cx="60.6" cy="418.5" r="1.45"/><circle cx="84.6" cy="383.8" r="1.45"/><circle cx="68.2" cy="398.7" r="1.45"/><circle cx="49.2" cy="381.1" r="1.45"/><circle cx="85.2" cy="395.8" r="1.45"/><circle cx="52.1" cy="381.8" r="1.45"/><circle cx="53.7" cy="392.3" r="1.45"/><circle cx="110.6" cy="387.1" r="1.45"/><circle cx="57" cy="407.6" r="1.45"/><circle cx="44.4" cy="408" r="1.45"/><circle cx="49.4" cy="395.2" r="1.45"/><circle cx="47.6" cy="393.7" r="1.45"/><circle cx="74" cy="378.5" r="1.45"/><circle cx="65.8" cy="386" r="1.45"/><circle cx="87.1" cy="389" r="1.45"/><circle cx="103.8" cy="381.9" r="1.45"/><circle cx="62.2" cy="392.1" r="1.45"/><circle cx="79.5" cy="394.4" r="1.45"/><circle cx="47" cy="399.5" r="1.45"/><circle cx="70.2" cy="382.9" r="1.45"/><circle cx="111.4" cy="401.3" r="1.45"/><circle cx="77.3" cy="381.1" r="1.45"/><circle cx="79.3" cy="381.9" r="1.45"/><circle cx="96.5" cy="386.4" r="1.45"/><circle cx="71.1" cy="431.2" r="1.45"/><circle cx="45.1" cy="391.3" r="1.45"/><circle cx="80.8" cy="379.3" r="1.45"/><circle cx="81.3" cy="390.3" r="1.45"/><circle cx="76" cy="387.6" r="1.45"/><circle cx="81.9" cy="405.5" r="1.45"/><circle cx="57.6" cy="405.1" r="1.45"/><circle cx="43.8" cy="389" r="1.45"/><circle cx="45.1" cy="405.6" r="1.45"/><circle cx="46.1" cy="379.8" r="1.45"/><circle cx="69.6" cy="389.7" r="1.45"/><circle cx="103.3" cy="389.3" r="1.45"/><circle cx="68.6" cy="382.8" r="1.45"/><circle cx="47.3" cy="389.8" r="1.45"/><circle cx="50.3" cy="405.4" r="1.45"/><circle cx="47.3" cy="391.3" r="1.45"/><circle cx="49" cy="421.2" r="1.45"/><circle cx="58.3" cy="392.4" r="1.45"/><circle cx="52.2" cy="422" r="1.45"/><circle cx="44.6" cy="411.4" r="1.45"/><circle cx="53.9" cy="398.8" r="1.45"/><circle cx="114.5" cy="426.4" r="1.45"/><circle cx="68.2" cy="393.7" r="1.45"/><circle cx="73.2" cy="382.5" r="1.45"/><circle cx="57.4" cy="394.9" r="1.45"/><circle cx="101.8" cy="417.8" r="1.45"/><circle cx="62.7" cy="429.2" r="1.45"/><circle cx="108.6" cy="395.8" r="1.45"/><circle cx="70.6" cy="401.3" r="1.45"/><circle cx="90" cy="385.3" r="1.45"/><circle cx="61.3" cy="405.8" r="1.45"/><circle cx="76.3" cy="466.9" r="1.45"/><circle cx="50.3" cy="398" r="1.45"/><circle cx="69.8" cy="392.1" r="1.45"/><circle cx="76.8" cy="387.1" r="1.45"/><circle cx="91" cy="433" r="1.45"/><circle cx="56" cy="382.2" r="1.45"/><circle cx="59.4" cy="391" r="1.45"/><circle cx="55" cy="401.1" r="1.45"/><circle cx="69.1" cy="379" r="1.45"/><circle cx="54.8" cy="389.2" r="1.45"/><circle cx="74.8" cy="390.1" r="1.45"/><circle cx="47.6" cy="385.3" r="1.45"/><circle cx="43.9" cy="413.9" r="1.45"/><circle cx="57.6" cy="422.5" r="1.45"/><circle cx="63.7" cy="438.2" r="1.45"/><circle cx="63.1" cy="407.5" r="1.45"/><circle cx="59.5" cy="392.1" r="1.45"/><circle cx="47.2" cy="423.9" r="1.45"/><circle cx="84.6" cy="401.6" r="1.45"/><circle cx="91.1" cy="446.7" r="1.45"/><circle cx="81.7" cy="389" r="1.45"/><circle cx="43.6" cy="411.8" r="1.45"/><circle cx="105.1" cy="414" r="1.45"/><circle cx="47.3" cy="387.3" r="1.45"/><circle cx="83" cy="400.2" r="1.45"/><circle cx="44.2" cy="419.8" r="1.45"/><circle cx="62.9" cy="413.8" r="1.45"/><circle cx="69.5" cy="390.2" r="1.45"/><circle cx="77.4" cy="396.5" r="1.45"/><circle cx="46.5" cy="380.9" r="1.45"/><circle cx="67.4" cy="390.2" r="1.45"/><circle cx="83.5" cy="384.4" r="1.45"/><circle cx="53" cy="402.2" r="1.45"/><circle cx="66.3" cy="404" r="1.45"/><circle cx="46.4" cy="384.5" r="1.45"/><circle cx="72.3" cy="409.9" r="1.45"/><circle cx="95.7" cy="398.6" r="1.45"/><circle cx="99.6" cy="401.8" r="1.45"/><circle cx="89.4" cy="390.5" r="1.45"/><circle cx="90.6" cy="422.6" r="1.45"/><circle cx="108.6" cy="384.2" r="1.45"/><circle cx="72" cy="392.8" r="1.45"/><circle cx="82.6" cy="397.1" r="1.45"/><circle cx="45.6" cy="413.9" r="1.45"/><circle cx="89.6" cy="400.2" r="1.45"/><circle cx="48" cy="377.9" r="1.45"/><circle cx="67.5" cy="413.3" r="1.45"/><circle cx="93.9" cy="385.3" r="1.45"/><circle cx="61.3" cy="386.4" r="1.45"/><circle cx="52.6" cy="413.9" r="1.45"/><circle cx="73.8" cy="408" r="1.45"/><circle cx="71.7" cy="421.8" r="1.45"/><circle cx="43.4" cy="385.3" r="1.45"/><circle cx="69.7" cy="400.4" r="1.45"/><circle cx="95.7" cy="395" r="1.45"/><circle cx="85.6" cy="430.1" r="1.45"/><circle cx="54.2" cy="384.9" r="1.45"/><circle cx="43.9" cy="418.4" r="1.45"/><circle cx="90.6" cy="385" r="1.45"/><circle cx="57.5" cy="425.5" r="1.45"/><circle cx="57.9" cy="417.9" r="1.45"/><circle cx="66.5" cy="399.9" r="1.45"/><circle cx="104.8" cy="382" r="1.45"/><circle cx="112.1" cy="384.9" r="1.45"/><circle cx="74.8" cy="386.4" r="1.45"/><circle cx="65.7" cy="384.1" r="1.45"/><circle cx="92.5" cy="378.9" r="1.45"/><circle cx="69.5" cy="398.1" r="1.45"/><circle cx="72.4" cy="378.7" r="1.45"/><circle cx="55.8" cy="399" r="1.45"/><circle cx="47.4" cy="444.9" r="1.45"/><circle cx="67.9" cy="397.4" r="1.45"/><circle cx="52.3" cy="403.4" r="1.45"/><circle cx="85.3" cy="401.9" r="1.45"/><circle cx="79.8" cy="439.2" r="1.45"/><circle cx="88.7" cy="389.9" r="1.45"/><circle cx="77.4" cy="395.1" r="1.45"/><circle cx="82.1" cy="386.2" r="1.45"/><circle cx="87" cy="391.9" r="1.45"/><circle cx="111.5" cy="385.9" r="1.45"/><circle cx="43.3" cy="391.9" r="1.45"/><circle cx="79.6" cy="410" r="1.45"/><circle cx="104.1" cy="379.3" r="1.45"/><circle cx="58.6" cy="381.4" r="1.45"/><circle cx="103.7" cy="380.3" r="1.45"/><circle cx="45.9" cy="383.8" r="1.45"/><circle cx="68.5" cy="410.5" r="1.45"/><circle cx="85.3" cy="399.2" r="1.45"/><circle cx="75.8" cy="385.1" r="1.45"/><circle cx="44.9" cy="383.1" r="1.45"/><circle cx="66.3" cy="400.3" r="1.45"/><circle cx="82.7" cy="391.7" r="1.45"/><circle cx="61.9" cy="444.1" r="1.45"/><circle cx="108.2" cy="386" r="1.45"/><circle cx="63.9" cy="408.2" r="1.45"/><circle cx="98.8" cy="386.6" r="1.45"/><circle cx="54.4" cy="380" r="1.45"/><circle cx="70" cy="391" r="1.45"/><circle cx="72" cy="421.6" r="1.45"/><circle cx="49.3" cy="417.7" r="1.45"/><circle cx="51.3" cy="386.4" r="1.45"/><circle cx="58.1" cy="391.1" r="1.45"/><circle cx="103.6" cy="381.8" r="1.45"/><circle cx="63.2" cy="393.4" r="1.45"/><circle cx="61.4" cy="387.6" r="1.45"/><circle cx="85.5" cy="403" r="1.45"/><circle cx="56" cy="412.1" r="1.45"/><circle cx="82.7" cy="404.1" r="1.45"/><circle cx="67.2" cy="386.7" r="1.45"/><circle cx="49.1" cy="387.9" r="1.45"/><circle cx="71.7" cy="431" r="1.45"/><circle cx="89.9" cy="393.1" r="1.45"/><circle cx="57.4" cy="394.4" r="1.45"/><circle cx="70.6" cy="386.6" r="1.45"/><circle cx="111.2" cy="426.5" r="1.45"/><circle cx="62.9" cy="392.9" r="1.45"/><circle cx="112.9" cy="409.9" r="1.45"/><circle cx="69.7" cy="394.6" r="1.45"/><circle cx="80.6" cy="384.7" r="1.45"/><circle cx="66.9" cy="390.5" r="1.45"/><circle cx="74" cy="401.3" r="1.45"/><circle cx="61.1" cy="386.8" r="1.45"/><circle cx="68.9" cy="424.2" r="1.45"/><circle cx="100.7" cy="417.1" r="1.45"/><circle cx="46.4" cy="391.2" r="1.45"/><circle cx="72.2" cy="415.6" r="1.45"/><circle cx="81.2" cy="432.7" r="1.45"/><circle cx="58.5" cy="414.8" r="1.45"/><circle cx="96.3" cy="404.5" r="1.45"/><circle cx="101.1" cy="396.7" r="1.45"/><circle cx="90.7" cy="385.3" r="1.45"/><circle cx="65.2" cy="378" r="1.45"/><circle cx="57.3" cy="379.5" r="1.45"/><circle cx="45.6" cy="390.2" r="1.45"/><circle cx="76.7" cy="380.3" r="1.45"/><circle cx="94.9" cy="384.3" r="1.45"/><circle cx="55.3" cy="398" r="1.45"/><circle cx="46.1" cy="394" r="1.45"/><circle cx="49" cy="407" r="1.45"/><circle cx="78.3" cy="403" r="1.45"/><circle cx="48.8" cy="383.5" r="1.45"/><circle cx="48.4" cy="400.4" r="1.45"/><circle cx="103.5" cy="447.5" r="1.45"/><circle cx="88.9" cy="385.2" r="1.45"/><circle cx="66.3" cy="391.7" r="1.45"/><circle cx="97.6" cy="405.7" r="1.45"/><circle cx="62.8" cy="386.2" r="1.45"/><circle cx="78.7" cy="382" r="1.45"/><circle cx="67.6" cy="409.9" r="1.45"/><circle cx="48.9" cy="413.3" r="1.45"/><circle cx="71.2" cy="396.9" r="1.45"/><circle cx="100.9" cy="456.8" r="1.45"/><circle cx="63.5" cy="391.2" r="1.45"/><circle cx="89.6" cy="378.1" r="1.45"/><circle cx="61.5" cy="409.6" r="1.45"/><circle cx="78.6" cy="406.4" r="1.45"/><circle cx="61.3" cy="384.3" r="1.45"/><circle cx="52.7" cy="390.3" r="1.45"/><circle cx="44.8" cy="407.8" r="1.45"/><circle cx="81" cy="426.6" r="1.45"/><circle cx="45.3" cy="451.6" r="1.45"/><circle cx="60.9" cy="395.2" r="1.45"/><circle cx="69.6" cy="384.9" r="1.45"/><circle cx="85.1" cy="397" r="1.45"/><circle cx="76.9" cy="408.4" r="1.45"/><circle cx="66.9" cy="422.4" r="1.45"/><circle cx="111.8" cy="392.4" r="1.45"/><circle cx="82.4" cy="390.7" r="1.45"/><circle cx="52.8" cy="390.5" r="1.45"/><circle cx="71.5" cy="415.9" r="1.45"/><circle cx="45" cy="379.6" r="1.45"/><circle cx="72" cy="416.4" r="1.45"/><circle cx="61" cy="398.8" r="1.45"/><circle cx="90.7" cy="403" r="1.45"/><circle cx="88.5" cy="434.4" r="1.45"/><circle cx="92.7" cy="387.2" r="1.45"/><circle cx="96.4" cy="422.9" r="1.45"/><circle cx="72.2" cy="378.9" r="1.45"/><circle cx="86.6" cy="397.5" r="1.45"/><circle cx="95.2" cy="431.9" r="1.45"/><circle cx="53.2" cy="405.6" r="1.45"/><circle cx="60.3" cy="399.1" r="1.45"/><circle cx="60.8" cy="389.2" r="1.45"/><circle cx="81.6" cy="394.3" r="1.45"/><circle cx="82.9" cy="381.4" r="1.45"/><circle cx="67.4" cy="394.1" r="1.45"/><circle cx="86.4" cy="381.6" r="1.45"/><circle cx="56" cy="377.9" r="1.45"/><circle cx="84.2" cy="392" r="1.45"/><circle cx="48.4" cy="395.8" r="1.45"/><circle cx="56.7" cy="396.7" r="1.45"/><circle cx="62.3" cy="381.7" r="1.45"/><circle cx="56.2" cy="400.1" r="1.45"/><circle cx="49.1" cy="380.7" r="1.45"/><circle cx="46.8" cy="386.6" r="1.45"/><circle cx="72.8" cy="378.9" r="1.45"/><circle cx="93.9" cy="409.8" r="1.45"/><circle cx="66.3" cy="394.8" r="1.45"/><circle cx="47.7" cy="385.4" r="1.45"/><circle cx="83.6" cy="416.4" r="1.45"/><circle cx="52.1" cy="417.9" r="1.45"/><circle cx="62.3" cy="386.1" r="1.45"/><circle cx="50.6" cy="393.8" r="1.45"/><circle cx="57.1" cy="389.7" r="1.45"/><circle cx="79.2" cy="383.2" r="1.45"/><circle cx="74.3" cy="398.1" r="1.45"/><circle cx="93.3" cy="383.3" r="1.45"/><circle cx="81.4" cy="416.2" r="1.45"/><circle cx="64.6" cy="407.4" r="1.45"/><circle cx="97.8" cy="409.8" r="1.45"/><circle cx="85.8" cy="413.8" r="1.45"/><circle cx="62.5" cy="381.4" r="1.45"/><circle cx="98.2" cy="379.7" r="1.45"/><circle cx="63.5" cy="385.8" r="1.45"/><circle cx="52.2" cy="384.2" r="1.45"/><circle cx="94.7" cy="384.5" r="1.45"/><circle cx="50.7" cy="395" r="1.45"/><circle cx="93.6" cy="380.9" r="1.45"/><circle cx="93.2" cy="401.9" r="1.45"/><circle cx="56" cy="392.7" r="1.45"/><circle cx="82.4" cy="456.5" r="1.45"/><circle cx="71.3" cy="413.4" r="1.45"/><circle cx="112.1" cy="409.5" r="1.45"/><circle cx="87.2" cy="378.6" r="1.45"/><circle cx="69.9" cy="404.4" r="1.45"/><circle cx="53.9" cy="398.5" r="1.45"/><circle cx="81.6" cy="415.7" r="1.45"/><circle cx="86.2" cy="394.4" r="1.45"/><circle cx="92.9" cy="393.3" r="1.45"/><circle cx="46" cy="400.9" r="1.45"/><circle cx="59.8" cy="381.5" r="1.45"/><circle cx="85.5" cy="396.2" r="1.45"/><circle cx="45.1" cy="389.8" r="1.45"/><circle cx="82.3" cy="392.3" r="1.45"/><circle cx="50.9" cy="409.9" r="1.45"/><circle cx="61.8" cy="433.1" r="1.45"/><circle cx="96.2" cy="426.5" r="1.45"/><circle cx="56.5" cy="398.6" r="1.45"/><circle cx="44.2" cy="402.8" r="1.45"/><circle cx="60.8" cy="403.4" r="1.45"/><circle cx="99.6" cy="395.4" r="1.45"/><circle cx="70" cy="378.6" r="1.45"/><circle cx="81.3" cy="406.6" r="1.45"/><circle cx="85.4" cy="409.7" r="1.45"/><circle cx="77" cy="400.7" r="1.45"/><circle cx="67.8" cy="395.6" r="1.45"/><circle cx="52.9" cy="378.6" r="1.45"/><circle cx="85.9" cy="433.7" r="1.45"/><circle cx="52.8" cy="383.6" r="1.45"/><circle cx="61.8" cy="398.2" r="1.45"/><circle cx="65.6" cy="404.5" r="1.45"/><circle cx="70.1" cy="404.9" r="1.45"/><circle cx="75.7" cy="409.2" r="1.45"/><circle cx="73.2" cy="432.4" r="1.45"/><circle cx="89.1" cy="399.7" r="1.45"/><circle cx="74.6" cy="398.1" r="1.45"/><circle cx="52.8" cy="396.4" r="1.45"/><circle cx="105.9" cy="421.5" r="1.45"/><circle cx="80.4" cy="385.6" r="1.45"/><circle cx="101.1" cy="383.3" r="1.45"/><circle cx="108.9" cy="405.5" r="1.45"/><circle cx="54.6" cy="380" r="1.45"/><circle cx="58.9" cy="407" r="1.45"/><circle cx="69.8" cy="399.9" r="1.45"/><circle cx="46.6" cy="409.3" r="1.45"/><circle cx="48.8" cy="393.8" r="1.45"/><circle cx="108.7" cy="402.8" r="1.45"/><circle cx="73.4" cy="390.7" r="1.45"/><circle cx="78.5" cy="402.8" r="1.45"/><circle cx="53" cy="398.5" r="1.45"/><circle cx="67.5" cy="383.4" r="1.45"/><circle cx="72.4" cy="381.4" r="1.45"/><circle cx="47.5" cy="412.8" r="1.45"/><circle cx="85.2" cy="419.3" r="1.45"/><circle cx="118.1" cy="395.4" r="1.45"/><circle cx="62" cy="396.7" r="1.45"/><circle cx="76.4" cy="383.8" r="1.45"/><circle cx="80.3" cy="405.4" r="1.45"/><circle cx="102" cy="401.2" r="1.45"/><circle cx="79" cy="395.2" r="1.45"/><circle cx="88.8" cy="382.5" r="1.45"/><circle cx="73.5" cy="386.6" r="1.45"/><circle cx="52.3" cy="396.2" r="1.45"/><circle cx="47.2" cy="397.8" r="1.45"/><circle cx="94.1" cy="383.7" r="1.45"/><circle cx="68.8" cy="396.6" r="1.45"/><circle cx="86.2" cy="433.6" r="1.45"/><circle cx="76.9" cy="412.6" r="1.45"/><circle cx="66.9" cy="381.3" r="1.45"/><circle cx="67.2" cy="428.7" r="1.45"/><circle cx="90.9" cy="384.6" r="1.45"/><circle cx="100.7" cy="386.6" r="1.45"/><circle cx="71.2" cy="381.2" r="1.45"/><circle cx="62.1" cy="384.2" r="1.45"/><circle cx="80.6" cy="391.7" r="1.45"/><circle cx="71" cy="417.9" r="1.45"/><circle cx="78" cy="405.7" r="1.45"/><circle cx="82.2" cy="388.8" r="1.45"/><circle cx="79.8" cy="386.7" r="1.45"/><circle cx="78" cy="389.9" r="1.45"/><circle cx="43.5" cy="384.6" r="1.45"/><circle cx="75.8" cy="390.2" r="1.45"/><circle cx="64.3" cy="385.2" r="1.45"/><circle cx="60.8" cy="401.7" r="1.45"/><circle cx="73.1" cy="393.3" r="1.45"/><circle cx="42.5" cy="390.7" r="1.45"/><circle cx="45.4" cy="419.7" r="1.45"/><circle cx="55.1" cy="391.4" r="1.45"/><circle cx="90" cy="428.4" r="1.45"/><circle cx="80.5" cy="401.8" r="1.45"/><circle cx="67.3" cy="395" r="1.45"/><circle cx="44.1" cy="404.6" r="1.45"/><circle cx="86.9" cy="449.3" r="1.45"/><circle cx="53.4" cy="388" r="1.45"/><circle cx="72.9" cy="380.2" r="1.45"/><circle cx="105.4" cy="400.5" r="1.45"/><circle cx="70" cy="425.6" r="1.45"/><circle cx="62.2" cy="395.8" r="1.45"/><circle cx="97" cy="379.2" r="1.45"/><circle cx="89.5" cy="400.5" r="1.45"/><circle cx="57.4" cy="384.4" r="1.45"/><circle cx="110.3" cy="406.2" r="1.45"/><circle cx="64.8" cy="401" r="1.45"/><circle cx="85.8" cy="414.9" r="1.45"/><circle cx="85.3" cy="383.2" r="1.45"/><circle cx="71.4" cy="382.8" r="1.45"/><circle cx="78" cy="398" r="1.45"/><circle cx="69.5" cy="386.9" r="1.45"/><circle cx="58.7" cy="384.8" r="1.45"/><circle cx="87.7" cy="411.9" r="1.45"/><circle cx="103.8" cy="432.9" r="1.45"/><circle cx="66.9" cy="403.9" r="1.45"/><circle cx="80.1" cy="399.1" r="1.45"/><circle cx="96.7" cy="418.6" r="1.45"/><circle cx="67.1" cy="393.9" r="1.45"/><circle cx="109.9" cy="399.6" r="1.45"/><circle cx="86.9" cy="396.5" r="1.45"/><circle cx="84.5" cy="391" r="1.45"/><circle cx="53.5" cy="420.4" r="1.45"/><circle cx="81.5" cy="391.2" r="1.45"/><circle cx="58.7" cy="394.6" r="1.45"/><circle cx="93" cy="437.4" r="1.45"/><circle cx="78.2" cy="390.4" r="1.45"/><circle cx="96.3" cy="418.5" r="1.45"/><circle cx="63.1" cy="435.4" r="1.45"/><circle cx="113.4" cy="379.1" r="1.45"/><circle cx="80" cy="425.7" r="1.45"/><circle cx="86.1" cy="390" r="1.45"/><circle cx="71.4" cy="398" r="1.45"/><circle cx="66.8" cy="383.3" r="1.45"/><circle cx="76.3" cy="386.4" r="1.45"/><circle cx="62.8" cy="392.9" r="1.45"/><circle cx="96.2" cy="390.3" r="1.45"/><circle cx="72" cy="391.9" r="1.45"/><circle cx="63" cy="386" r="1.45"/><circle cx="64.7" cy="384.6" r="1.45"/><circle cx="96.8" cy="385.4" r="1.45"/><circle cx="75.9" cy="439.8" r="1.45"/><circle cx="46.4" cy="395.3" r="1.45"/><circle cx="50.9" cy="396.3" r="1.45"/><circle cx="65.8" cy="379.6" r="1.45"/><circle cx="70.5" cy="385.3" r="1.45"/><circle cx="45.7" cy="404.9" r="1.45"/><circle cx="89.7" cy="382.3" r="1.45"/><circle cx="46.7" cy="445.3" r="1.45"/><circle cx="44.9" cy="411.4" r="1.45"/><circle cx="74.3" cy="380.7" r="1.45"/><circle cx="51.5" cy="398.4" r="1.45"/><circle cx="48.8" cy="380.5" r="1.45"/><circle cx="85" cy="384" r="1.45"/><circle cx="91.3" cy="403.5" r="1.45"/><circle cx="58.2" cy="377.8" r="1.45"/><circle cx="46.2" cy="378.6" r="1.45"/><circle cx="49.3" cy="400.9" r="1.45"/><circle cx="43.7" cy="391.1" r="1.45"/><circle cx="106.8" cy="426.1" r="1.45"/><circle cx="103.3" cy="401.1" r="1.45"/><circle cx="94.8" cy="379.5" r="1.45"/><circle cx="104.3" cy="429.8" r="1.45"/><circle cx="50" cy="390.5" r="1.45"/><circle cx="48" cy="378.8" r="1.45"/><circle cx="65.2" cy="420.6" r="1.45"/><circle cx="61.8" cy="389.5" r="1.45"/><circle cx="84.5" cy="393.3" r="1.45"/><circle cx="71.5" cy="396.9" r="1.45"/><circle cx="47.1" cy="388.3" r="1.45"/><circle cx="72.9" cy="378.6" r="1.45"/><circle cx="46.1" cy="430.3" r="1.45"/><circle cx="82.9" cy="394.8" r="1.45"/><circle cx="75.2" cy="394" r="1.45"/><circle cx="62.6" cy="393.9" r="1.45"/><circle cx="74.9" cy="389.5" r="1.45"/><circle cx="52.1" cy="406.7" r="1.45"/><circle cx="81" cy="381.3" r="1.45"/><circle cx="59.3" cy="386.5" r="1.45"/><circle cx="68.3" cy="403.6" r="1.45"/><circle cx="78.9" cy="393.4" r="1.45"/><circle cx="64" cy="393.1" r="1.45"/><circle cx="64.6" cy="393.8" r="1.45"/><circle cx="59" cy="383.4" r="1.45"/><circle cx="71.4" cy="416.8" r="1.45"/><circle cx="43" cy="381.3" r="1.45"/><circle cx="77.8" cy="401.7" r="1.45"/><circle cx="51.9" cy="387.5" r="1.45"/><circle cx="77.2" cy="392.4" r="1.45"/><circle cx="71.6" cy="425" r="1.45"/><circle cx="78.8" cy="381.8" r="1.45"/><circle cx="59.4" cy="384.2" r="1.45"/><circle cx="56.9" cy="402.2" r="1.45"/><circle cx="67.1" cy="405" r="1.45"/><circle cx="77.6" cy="385.5" r="1.45"/><circle cx="71.9" cy="397.4" r="1.45"/><circle cx="44.5" cy="393.8" r="1.45"/><circle cx="64.5" cy="384.6" r="1.45"/><circle cx="54.4" cy="399.4" r="1.45"/><circle cx="68.3" cy="392" r="1.45"/><circle cx="63.9" cy="380.4" r="1.45"/><circle cx="69.5" cy="396.2" r="1.45"/><circle cx="79" cy="419.9" r="1.45"/><circle cx="97.5" cy="386.3" r="1.45"/><circle cx="58.4" cy="395.6" r="1.45"/><circle cx="72" cy="402.8" r="1.45"/><circle cx="58.8" cy="395" r="1.45"/><circle cx="76.2" cy="384.2" r="1.45"/><circle cx="64.7" cy="400" r="1.45"/><circle cx="85.9" cy="396.2" r="1.45"/><circle cx="118.9" cy="394.1" r="1.45"/><circle cx="68.1" cy="393.2" r="1.45"/><circle cx="62.2" cy="392.1" r="1.45"/><circle cx="87.1" cy="408.1" r="1.45"/><circle cx="85.4" cy="384.6" r="1.45"/><circle cx="69.2" cy="396.2" r="1.45"/><circle cx="97.4" cy="402.8" r="1.45"/><circle cx="73.3" cy="381" r="1.45"/><circle cx="73.4" cy="381" r="1.45"/><circle cx="54.2" cy="388.1" r="1.45"/><circle cx="51.1" cy="386.5" r="1.45"/><circle cx="112.4" cy="386.3" r="1.45"/><circle cx="91.5" cy="381.7" r="1.45"/><circle cx="87.3" cy="393.2" r="1.45"/><circle cx="90.3" cy="408.1" r="1.45"/><circle cx="102.5" cy="396.4" r="1.45"/><circle cx="90.9" cy="390.8" r="1.45"/><circle cx="44.4" cy="396.7" r="1.45"/><circle cx="90.5" cy="380.9" r="1.45"/><circle cx="70.9" cy="395.2" r="1.45"/><circle cx="49.8" cy="407.4" r="1.45"/><circle cx="74.9" cy="387.9" r="1.45"/><circle cx="61.9" cy="400.2" r="1.45"/><circle cx="60.8" cy="379.1" r="1.45"/><circle cx="110.4" cy="390.6" r="1.45"/><circle cx="94.7" cy="396.7" r="1.45"/><circle cx="103.1" cy="402.8" r="1.45"/><circle cx="53.6" cy="391" r="1.45"/><circle cx="84.1" cy="393.2" r="1.45"/><circle cx="77.3" cy="440.4" r="1.45"/><circle cx="93.6" cy="385.7" r="1.45"/><circle cx="86.9" cy="423.6" r="1.45"/><circle cx="71.8" cy="390.7" r="1.45"/><circle cx="47.7" cy="383.5" r="1.45"/><circle cx="68.9" cy="385.3" r="1.45"/><circle cx="49.9" cy="418" r="1.45"/><circle cx="54.7" cy="384.6" r="1.45"/><circle cx="75.2" cy="410.3" r="1.45"/><circle cx="90.2" cy="407.8" r="1.45"/><circle cx="56.3" cy="382.5" r="1.45"/><circle cx="79.4" cy="386.3" r="1.45"/><circle cx="116.8" cy="386.6" r="1.45"/><circle cx="78.7" cy="413.4" r="1.45"/><circle cx="103.2" cy="414.3" r="1.45"/><circle cx="54.8" cy="390.4" r="1.45"/><circle cx="51.3" cy="385.4" r="1.45"/><circle cx="51.1" cy="383" r="1.45"/><circle cx="67.5" cy="387.4" r="1.45"/><circle cx="48.1" cy="379.4" r="1.45"/><circle cx="104.8" cy="386.1" r="1.45"/><circle cx="79.2" cy="414.4" r="1.45"/><circle cx="48.7" cy="400" r="1.45"/><circle cx="60.8" cy="390.1" r="1.45"/><circle cx="50.4" cy="441.2" r="1.45"/><circle cx="60.2" cy="388.4" r="1.45"/><circle cx="79.5" cy="387.8" r="1.45"/><circle cx="94.5" cy="386" r="1.45"/><circle cx="100.3" cy="411.1" r="1.45"/><circle cx="111.2" cy="415" r="1.45"/><circle cx="65.9" cy="397.3" r="1.45"/><circle cx="73.7" cy="388.9" r="1.45"/><circle cx="45.9" cy="390.2" r="1.45"/><circle cx="76.4" cy="377.7" r="1.45"/><circle cx="80.1" cy="392.2" r="1.45"/><circle cx="50.8" cy="404.1" r="1.45"/><circle cx="64.5" cy="386.8" r="1.45"/><circle cx="70.5" cy="389.2" r="1.45"/><circle cx="66.6" cy="431.5" r="1.45"/><circle cx="84.5" cy="403.2" r="1.45"/><circle cx="111.8" cy="397.3" r="1.45"/><circle cx="76" cy="408.6" r="1.45"/><circle cx="45.4" cy="400" r="1.45"/><circle cx="84.1" cy="388.5" r="1.45"/><circle cx="70.6" cy="383.2" r="1.45"/><circle cx="93.3" cy="378.8" r="1.45"/><circle cx="77.6" cy="408.1" r="1.45"/><circle cx="60.6" cy="394.7" r="1.45"/><circle cx="101.6" cy="397.7" r="1.45"/><circle cx="45.7" cy="429.6" r="1.45"/><circle cx="51.7" cy="401.4" r="1.45"/><circle cx="78.6" cy="379.6" r="1.45"/><circle cx="70.5" cy="388.2" r="1.45"/><circle cx="58.6" cy="391.7" r="1.45"/><circle cx="52.8" cy="407.3" r="1.45"/><circle cx="59.5" cy="379.8" r="1.45"/><circle cx="60.7" cy="403.7" r="1.45"/><circle cx="66.9" cy="388.7" r="1.45"/><circle cx="85.2" cy="390" r="1.45"/><circle cx="71.7" cy="395.2" r="1.45"/><circle cx="71.1" cy="391.4" r="1.45"/><circle cx="66.6" cy="403.3" r="1.45"/><circle cx="45.6" cy="393.3" r="1.45"/><circle cx="45.9" cy="391.1" r="1.45"/><circle cx="57.6" cy="388.5" r="1.45"/><circle cx="71.2" cy="415.8" r="1.45"/><circle cx="83.6" cy="427.6" r="1.45"/><circle cx="117.8" cy="389.3" r="1.45"/><circle cx="45.4" cy="384.4" r="1.45"/><circle cx="71.5" cy="392.7" r="1.45"/><circle cx="108.7" cy="406.3" r="1.45"/><circle cx="90" cy="431.4" r="1.45"/><circle cx="81.4" cy="387" r="1.45"/><circle cx="57.2" cy="395.2" r="1.45"/><circle cx="114.2" cy="395.9" r="1.45"/><circle cx="50.9" cy="390.5" r="1.45"/><circle cx="56.5" cy="389.5" r="1.45"/><circle cx="66.2" cy="401" r="1.45"/><circle cx="67.4" cy="398.5" r="1.45"/><circle cx="55" cy="411.8" r="1.45"/><circle cx="97.5" cy="418" r="1.45"/><circle cx="98.6" cy="385.4" r="1.45"/><circle cx="99.8" cy="398.7" r="1.45"/><circle cx="85.6" cy="407" r="1.45"/><circle cx="51" cy="420.1" r="1.45"/><circle cx="100.2" cy="386.6" r="1.45"/><circle cx="84.6" cy="382.1" r="1.45"/><circle cx="101.5" cy="401.4" r="1.45"/><circle cx="65.1" cy="418.1" r="1.45"/><circle cx="109.3" cy="414.3" r="1.45"/><circle cx="56.5" cy="429.4" r="1.45"/><circle cx="49.4" cy="429.1" r="1.45"/><circle cx="116.9" cy="413.1" r="1.45"/><circle cx="65.3" cy="403" r="1.45"/><circle cx="59.9" cy="419.4" r="1.45"/><circle cx="67.4" cy="415.6" r="1.45"/><circle cx="61.4" cy="380.8" r="1.45"/><circle cx="64.6" cy="452" r="1.45"/><circle cx="91.1" cy="441.9" r="1.45"/><circle cx="70.1" cy="394.9" r="1.45"/><circle cx="81.2" cy="387.1" r="1.45"/><circle cx="99.2" cy="398.4" r="1.45"/><circle cx="46.9" cy="380.9" r="1.45"/><circle cx="96.5" cy="380.7" r="1.45"/><circle cx="56" cy="385.9" r="1.45"/><circle cx="108.9" cy="400.7" r="1.45"/><circle cx="55.2" cy="403.9" r="1.45"/><circle cx="61.4" cy="390.1" r="1.45"/><circle cx="45.3" cy="405.7" r="1.45"/><circle cx="48.7" cy="406.6" r="1.45"/><circle cx="100.9" cy="390.6" r="1.45"/><circle cx="116.4" cy="409.1" r="1.45"/><circle cx="95.8" cy="399.4" r="1.45"/><circle cx="117.7" cy="411.3" r="1.45"/><circle cx="106.7" cy="398.5" r="1.45"/><circle cx="60.5" cy="401.8" r="1.45"/><circle cx="67.1" cy="421.3" r="1.45"/><circle cx="74.1" cy="382.9" r="1.45"/><circle cx="98.7" cy="427" r="1.45"/><circle cx="60.2" cy="382.9" r="1.45"/><circle cx="84.8" cy="382" r="1.45"/><circle cx="74.5" cy="462" r="1.45"/><circle cx="74.3" cy="439.9" r="1.45"/><circle cx="61.9" cy="450" r="1.45"/><circle cx="55.8" cy="424.3" r="1.45"/><circle cx="56.5" cy="424.4" r="1.45"/><circle cx="99" cy="456.4" r="1.45"/><circle cx="90.1" cy="444" r="1.45"/><circle cx="49.5" cy="459.2" r="1.45"/><circle cx="99.5" cy="440.7" r="1.45"/><circle cx="50.5" cy="423.7" r="1.45"/><circle cx="58.5" cy="459.2" r="1.45"/><circle cx="107.2" cy="430.3" r="1.45"/><circle cx="54.7" cy="468.4" r="1.45"/><circle cx="92.1" cy="449.5" r="1.45"/><circle cx="73.6" cy="456.9" r="1.45"/><circle cx="104.8" cy="453.1" r="1.45"/><circle cx="100.5" cy="460.4" r="1.45"/><circle cx="66.3" cy="457.4" r="1.45"/><circle cx="65.1" cy="448.9" r="1.45"/><circle cx="83.4" cy="433.6" r="1.45"/><circle cx="88.4" cy="443.1" r="1.45"/><circle cx="66.1" cy="465.8" r="1.45"/><circle cx="85.7" cy="436.6" r="1.45"/><circle cx="61.4" cy="441" r="1.45"/><circle cx="82.3" cy="466.2" r="1.45"/><circle cx="101.6" cy="470.9" r="1.45"/><circle cx="45.4" cy="429.7" r="1.45"/><circle cx="88.4" cy="435.6" r="1.45"/><circle cx="88.7" cy="458.4" r="1.45"/><circle cx="45.5" cy="451.7" r="1.45"/><circle cx="60.7" cy="441.8" r="1.45"/><circle cx="86.7" cy="456.8" r="1.45"/><circle cx="100.2" cy="437.1" r="1.45"/><circle cx="66.7" cy="439.2" r="1.45"/><circle cx="83.3" cy="432.6" r="1.45"/><circle cx="47.7" cy="448" r="1.45"/><circle cx="81.9" cy="457.8" r="1.45"/><circle cx="60.6" cy="431.4" r="1.45"/><circle cx="97.2" cy="467.6" r="1.45"/><circle cx="95.6" cy="470.1" r="1.45"/><circle cx="72.3" cy="425.8" r="1.45"/><circle cx="112.2" cy="448.6" r="1.45"/><circle cx="78.5" cy="463.7" r="1.45"/><circle cx="56.8" cy="455.5" r="1.45"/><circle cx="64.4" cy="443.7" r="1.45"/><circle cx="86.7" cy="449.7" r="1.45"/><circle cx="72.9" cy="468.5" r="1.45"/><circle cx="63.3" cy="460.7" r="1.45"/><circle cx="87.8" cy="430.9" r="1.45"/><circle cx="86.2" cy="434.7" r="1.45"/><circle cx="91.3" cy="429.9" r="1.45"/><circle cx="104.8" cy="435.7" r="1.45"/><circle cx="46.5" cy="454.6" r="1.45"/><circle cx="100.4" cy="470.4" r="1.45"/><circle cx="55.7" cy="469.8" r="1.45"/><circle cx="63.1" cy="431.9" r="1.45"/><circle cx="61.8" cy="460.6" r="1.45"/><circle cx="106.1" cy="450.8" r="1.45"/><circle cx="63.8" cy="469.4" r="1.45"/><circle cx="90.7" cy="446.9" r="1.45"/><circle cx="51.7" cy="451.4" r="1.45"/><circle cx="54.8" cy="452.6" r="1.45"/><circle cx="63.9" cy="448.7" r="1.45"/><circle cx="43.9" cy="457.4" r="1.45"/><circle cx="101.2" cy="451.1" r="1.45"/><circle cx="48" cy="436.9" r="1.45"/><circle cx="50.8" cy="431.5" r="1.45"/><circle cx="52.6" cy="424.6" r="1.45"/><circle cx="108.8" cy="446.2" r="1.45"/><circle cx="79.2" cy="422.1" r="1.45"/><circle cx="92.6" cy="435.2" r="1.45"/><circle cx="94.2" cy="450.5" r="1.45"/><circle cx="75.8" cy="431.7" r="1.45"/><circle cx="100.5" cy="447.8" r="1.45"/><circle cx="106.6" cy="453.6" r="1.45"/><circle cx="68.6" cy="464.6" r="1.45"/><circle cx="63.8" cy="431.1" r="1.45"/><circle cx="69.9" cy="447.3" r="1.45"/><circle cx="98.9" cy="436.2" r="1.45"/><circle cx="61.3" cy="435.1" r="1.45"/><circle cx="71.2" cy="452.5" r="1.45"/><circle cx="78.7" cy="422.4" r="1.45"/><circle cx="71" cy="448.7" r="1.45"/><circle cx="43.5" cy="447" r="1.45"/><circle cx="85.2" cy="442.2" r="1.45"/><circle cx="99.5" cy="459.3" r="1.45"/><circle cx="48.3" cy="454.1" r="1.45"/><circle cx="101" cy="445.2" r="1.45"/><circle cx="47.2" cy="444" r="1.45"/><circle cx="50.4" cy="450.7" r="1.45"/><circle cx="89.6" cy="433.9" r="1.45"/><circle cx="72.1" cy="426.7" r="1.45"/><circle cx="44.2" cy="441" r="1.45"/><circle cx="89" cy="444.1" r="1.45"/><circle cx="70" cy="448.3" r="1.45"/><circle cx="84" cy="452.8" r="1.45"/><circle cx="53" cy="434.3" r="1.45"/><circle cx="54.2" cy="468.9" r="1.45"/><circle cx="49.5" cy="425.5" r="1.45"/><circle cx="64.6" cy="435.5" r="1.45"/><circle cx="69.2" cy="453.6" r="1.45"/><circle cx="79.6" cy="435.1" r="1.45"/><circle cx="73.4" cy="440.2" r="1.45"/><circle cx="44.4" cy="448.2" r="1.45"/><circle cx="43.6" cy="467.9" r="1.45"/><circle cx="49.6" cy="452.4" r="1.45"/><circle cx="96.7" cy="453.1" r="1.45"/><circle cx="78.7" cy="450.8" r="1.45"/><circle cx="51.6" cy="443.1" r="1.45"/><circle cx="99.7" cy="438.1" r="1.45"/><circle cx="48" cy="429.6" r="1.45"/><circle cx="94" cy="471.3" r="1.45"/><circle cx="46.8" cy="434.4" r="1.45"/><circle cx="54.4" cy="471.6" r="1.45"/><circle cx="95" cy="424.8" r="1.45"/><circle cx="83.8" cy="447.5" r="1.45"/><circle cx="57.5" cy="451.7" r="1.45"/><circle cx="54.5" cy="432.5" r="1.45"/><circle cx="87.4" cy="472.1" r="1.45"/><circle cx="91.9" cy="441" r="1.45"/><circle cx="56.2" cy="450.9" r="1.45"/><circle cx="112.8" cy="431.3" r="1.45"/><circle cx="56" cy="466.4" r="1.45"/><circle cx="92" cy="428.2" r="1.45"/><circle cx="58.7" cy="456.7" r="1.45"/><circle cx="60" cy="461.4" r="1.45"/><circle cx="80.5" cy="432.7" r="1.45"/><circle cx="44.7" cy="471.7" r="1.45"/><circle cx="67" cy="423.1" r="1.45"/><circle cx="63.8" cy="430.4" r="1.45"/><circle cx="65.3" cy="441.9" r="1.45"/><circle cx="73.7" cy="458.6" r="1.45"/><circle cx="80.8" cy="449.4" r="1.45"/><circle cx="68.4" cy="465.6" r="1.45"/><circle cx="85" cy="463" r="1.45"/><circle cx="62.8" cy="428" r="1.45"/><circle cx="91.6" cy="467" r="1.45"/><circle cx="69.7" cy="423.8" r="1.45"/><circle cx="57.5" cy="451.3" r="1.45"/><circle cx="49.7" cy="455.4" r="1.45"/><circle cx="57.9" cy="451.2" r="1.45"/><circle cx="64.9" cy="465" r="1.45"/><circle cx="73.2" cy="427.7" r="1.45"/><circle cx="80.3" cy="439.2" r="1.45"/><circle cx="98.2" cy="472.1" r="1.45"/><circle cx="46.1" cy="451" r="1.45"/><circle cx="79.3" cy="468" r="1.45"/><circle cx="96.6" cy="449" r="1.45"/><circle cx="74.8" cy="438.6" r="1.45"/><circle cx="88" cy="438.3" r="1.45"/><circle cx="104.4" cy="443" r="1.45"/><circle cx="45.4" cy="468.8" r="1.45"/><circle cx="78.7" cy="452.4" r="1.45"/><circle cx="71.2" cy="461.3" r="1.45"/><circle cx="97.5" cy="449.6" r="1.45"/><circle cx="107.3" cy="462.9" r="1.45"/><circle cx="103.7" cy="422.9" r="1.45"/><circle cx="97" cy="465" r="1.45"/><circle cx="79.4" cy="434.2" r="1.45"/><circle cx="86.3" cy="421.9" r="1.45"/><circle cx="81" cy="448.9" r="1.45"/><circle cx="101" cy="447.6" r="1.45"/><circle cx="43.8" cy="433.9" r="1.45"/><circle cx="100.1" cy="430.3" r="1.45"/><circle cx="92.3" cy="432.3" r="1.45"/><circle cx="64.7" cy="454.9" r="1.45"/><circle cx="53" cy="466.8" r="1.45"/><circle cx="53.5" cy="437.3" r="1.45"/><circle cx="75.4" cy="467.3" r="1.45"/><circle cx="84.4" cy="467" r="1.45"/><circle cx="66.9" cy="477.9" r="1.45"/><circle cx="57.7" cy="503.6" r="1.45"/><circle cx="67" cy="467.5" r="1.45"/><circle cx="50.4" cy="476.2" r="1.45"/><circle cx="50.9" cy="473.7" r="1.45"/><circle cx="48.1" cy="497.1" r="1.45"/><circle cx="56.9" cy="499.4" r="1.45"/><circle cx="76.4" cy="493" r="1.45"/><circle cx="87.6" cy="485.5" r="1.45"/><circle cx="48.7" cy="468.8" r="1.45"/><circle cx="109.6" cy="480.6" r="1.45"/><circle cx="70.9" cy="467.8" r="1.45"/><circle cx="78.9" cy="489.3" r="1.45"/><circle cx="105.8" cy="474.8" r="1.45"/><circle cx="96.5" cy="506.4" r="1.45"/><circle cx="87.3" cy="470" r="1.45"/><circle cx="58.6" cy="476.6" r="1.45"/><circle cx="57.7" cy="506.2" r="1.45"/><circle cx="62.2" cy="498.6" r="1.45"/><circle cx="85.2" cy="470.4" r="1.45"/><circle cx="76.9" cy="506.8" r="1.45"/><circle cx="43.1" cy="491.8" r="1.45"/><circle cx="53.2" cy="496" r="1.45"/><circle cx="62.5" cy="470.2" r="1.45"/><circle cx="124.8" cy="499.6" r="1.45"/><circle cx="49.7" cy="500.7" r="1.45"/><circle cx="61.1" cy="475.7" r="1.45"/><circle cx="81.4" cy="489" r="1.45"/><circle cx="99.9" cy="471.9" r="1.45"/><circle cx="74" cy="501.4" r="1.45"/><circle cx="67.1" cy="507" r="1.45"/><circle cx="55.3" cy="504" r="1.45"/><circle cx="80.5" cy="479.5" r="1.45"/><circle cx="98.5" cy="476.8" r="1.45"/><circle cx="51.8" cy="499.1" r="1.45"/><circle cx="116.5" cy="476.6" r="1.45"/><circle cx="82.3" cy="473.1" r="1.45"/><circle cx="52.5" cy="483.4" r="1.45"/><circle cx="88.4" cy="472.7" r="1.45"/><circle cx="48.2" cy="482.4" r="1.45"/><circle cx="69.6" cy="496.4" r="1.45"/><circle cx="60.3" cy="480.3" r="1.45"/><circle cx="57.1" cy="505.9" r="1.45"/><circle cx="46.5" cy="477.9" r="1.45"/><circle cx="49.2" cy="473.9" r="1.45"/><circle cx="49.7" cy="483.8" r="1.45"/><circle cx="54.9" cy="467.2" r="1.45"/><circle cx="80.5" cy="499.2" r="1.45"/><circle cx="136" cy="490.6" r="1.45"/><circle cx="97.3" cy="502.5" r="1.45"/><circle cx="89.1" cy="494.6" r="1.45"/><circle cx="51.9" cy="504.6" r="1.45"/><circle cx="49.5" cy="484.2" r="1.45"/><circle cx="49.5" cy="473.4" r="1.45"/><circle cx="43.3" cy="496.1" r="1.45"/><circle cx="44.2" cy="499.1" r="1.45"/><circle cx="103" cy="489.5" r="1.45"/><circle cx="59.1" cy="469.9" r="1.45"/><circle cx="94.3" cy="472.7" r="1.45"/><circle cx="93.9" cy="495.4" r="1.45"/><circle cx="60.9" cy="481" r="1.45"/><circle cx="73.9" cy="508.5" r="1.45"/><circle cx="89.6" cy="495" r="1.45"/><circle cx="78.8" cy="498.5" r="1.45"/><circle cx="42.6" cy="477.8" r="1.45"/><circle cx="46.2" cy="486.8" r="1.45"/><circle cx="47.8" cy="473" r="1.45"/><circle cx="73.8" cy="499.2" r="1.45"/><circle cx="67.6" cy="489" r="1.45"/><circle cx="49.5" cy="495.1" r="1.45"/><circle cx="55.2" cy="493.7" r="1.45"/><circle cx="45.8" cy="481.9" r="1.45"/><circle cx="58.4" cy="487.2" r="1.45"/><circle cx="63.8" cy="481.4" r="1.45"/><circle cx="114.7" cy="489.3" r="1.45"/><circle cx="55.2" cy="468.4" r="1.45"/><circle cx="60.6" cy="470.6" r="1.45"/><circle cx="94.8" cy="467.1" r="1.45"/><circle cx="64.5" cy="501.9" r="1.45"/><circle cx="113.1" cy="477.6" r="1.45"/><circle cx="45" cy="500.7" r="1.45"/><circle cx="76.1" cy="502.3" r="1.45"/><circle cx="61.5" cy="473.6" r="1.45"/><circle cx="50.8" cy="479.6" r="1.45"/><circle cx="105.5" cy="488.8" r="1.45"/><circle cx="92.1" cy="472.9" r="1.45"/><circle cx="79.1" cy="467.1" r="1.45"/><circle cx="64.2" cy="475.9" r="1.45"/><circle cx="45.3" cy="510.1" r="1.45"/><circle cx="75.9" cy="501.4" r="1.45"/><circle cx="72.6" cy="505.3" r="1.45"/><circle cx="110.8" cy="474.3" r="1.45"/><circle cx="52.7" cy="467.4" r="1.45"/><circle cx="63.4" cy="472.4" r="1.45"/><circle cx="85" cy="504.3" r="1.45"/><circle cx="43.2" cy="510.4" r="1.45"/><circle cx="83.5" cy="494.9" r="1.45"/><circle cx="89.8" cy="488.2" r="1.45"/><circle cx="58.9" cy="503.7" r="1.45"/><circle cx="118.9" cy="486.9" r="1.45"/><circle cx="102.6" cy="507.3" r="1.45"/><circle cx="64.6" cy="498.4" r="1.45"/><circle cx="73.6" cy="484.4" r="1.45"/><circle cx="70.4" cy="483.1" r="1.45"/><circle cx="50.6" cy="481.1" r="1.45"/><circle cx="49.7" cy="486.7" r="1.45"/><circle cx="55.1" cy="473.7" r="1.45"/><circle cx="104.4" cy="472.7" r="1.45"/><circle cx="47.6" cy="463.9" r="1.45"/><circle cx="52.2" cy="438" r="1.45"/><circle cx="50.4" cy="400.3" r="1.45"/><circle cx="50.3" cy="451.2" r="1.45"/><circle cx="51.9" cy="457.3" r="1.45"/><circle cx="45.5" cy="480.7" r="1.45"/><circle cx="44.3" cy="493.8" r="1.45"/><circle cx="44.3" cy="431.1" r="1.45"/><circle cx="45.8" cy="440.4" r="1.45"/><circle cx="52.6" cy="433.7" r="1.45"/><circle cx="52" cy="473.2" r="1.45"/><circle cx="51.8" cy="462.5" r="1.45"/><circle cx="44.1" cy="406.1" r="1.45"/><circle cx="51.7" cy="442.4" r="1.45"/><circle cx="45.3" cy="435.3" r="1.45"/><circle cx="44.6" cy="402.4" r="1.45"/><circle cx="42.6" cy="508.9" r="1.45"/><circle cx="51" cy="421.8" r="1.45"/><circle cx="52.1" cy="482.7" r="1.45"/><circle cx="46.7" cy="463" r="1.45"/><circle cx="42.6" cy="409.7" r="1.45"/><circle cx="42.5" cy="401.7" r="1.45"/><circle cx="42.8" cy="417.5" r="1.45"/><circle cx="49.8" cy="494.7" r="1.45"/><circle cx="43.9" cy="465.6" r="1.45"/><circle cx="45.2" cy="441.9" r="1.45"/><circle cx="44.6" cy="508.9" r="1.45"/><circle cx="44.9" cy="509.4" r="1.45"/><circle cx="46.6" cy="446.7" r="1.45"/><circle cx="44.1" cy="404.3" r="1.45"/><circle cx="51.7" cy="481.5" r="1.45"/><circle cx="44.7" cy="486.8" r="1.45"/><circle cx="44.8" cy="414.4" r="1.45"/><circle cx="49.6" cy="403.7" r="1.45"/><circle cx="49.1" cy="407.7" r="1.45"/><circle cx="52.3" cy="444.2" r="1.45"/><circle cx="42.7" cy="449.9" r="1.45"/><circle cx="45.7" cy="423.7" r="1.45"/><circle cx="50.2" cy="502.3" r="1.45"/><circle cx="51.8" cy="437.1" r="1.45"/><circle cx="46.5" cy="509.1" r="1.45"/><circle cx="51.2" cy="493" r="1.45"/><circle cx="45.8" cy="502.4" r="1.45"/><circle cx="46.3" cy="412.2" r="1.45"/><circle cx="47.8" cy="481.8" r="1.45"/><circle cx="48.5" cy="453.5" r="1.45"/><circle cx="48.3" cy="428.1" r="1.45"/><circle cx="48.9" cy="464.7" r="1.45"/><circle cx="43.2" cy="403.2" r="1.45"/><circle cx="52.2" cy="486.5" r="1.45"/><circle cx="46.6" cy="486.3" r="1.45"/><circle cx="52.2" cy="473.7" r="1.45"/><circle cx="46.6" cy="443.4" r="1.45"/><circle cx="43.2" cy="505.5" r="1.45"/><circle cx="50.5" cy="467.7" r="1.45"/><circle cx="47.5" cy="461.3" r="1.45"/><circle cx="43.8" cy="454.8" r="1.45"/><circle cx="47.1" cy="484" r="1.45"/><circle cx="49.8" cy="468.8" r="1.45"/><circle cx="43.5" cy="504.2" r="1.45"/><circle cx="49.8" cy="499.6" r="1.45"/><circle cx="45.6" cy="457.6" r="1.45"/><circle cx="47.5" cy="485.3" r="1.45"/><circle cx="52.9" cy="420.4" r="1.45"/><circle cx="49.8" cy="415" r="1.45"/><circle cx="48.2" cy="440.9" r="1.45"/><circle cx="49.2" cy="506.8" r="1.45"/><circle cx="47.6" cy="418.4" r="1.45"/><circle cx="49" cy="446.8" r="1.45"/><circle cx="50.5" cy="449.6" r="1.45"/><circle cx="46.6" cy="446.1" r="1.45"/><circle cx="43.2" cy="437.7" r="1.45"/><circle cx="43.9" cy="430.6" r="1.45"/><circle cx="46.5" cy="441.2" r="1.45"/><circle cx="44.1" cy="419.9" r="1.45"/><circle cx="48.9" cy="469.5" r="1.45"/><circle cx="47.2" cy="408.5" r="1.45"/><circle cx="43.3" cy="491.7" r="1.45"/><circle cx="52" cy="488.7" r="1.45"/><circle cx="51" cy="491" r="1.45"/><circle cx="46.5" cy="487.1" r="1.45"/><circle cx="48.1" cy="461.4" r="1.45"/><circle cx="50.9" cy="457.8" r="1.45"/><circle cx="47.8" cy="470.6" r="1.45"/><circle cx="43.8" cy="487.3" r="1.45"/><circle cx="49.7" cy="507.6" r="1.45"/><circle cx="45.9" cy="461" r="1.45"/><circle cx="52.3" cy="489.1" r="1.45"/><circle cx="50.9" cy="447.5" r="1.45"/><circle cx="42.5" cy="491.5" r="1.45"/><circle cx="51.7" cy="496.5" r="1.45"/><circle cx="49.8" cy="491.8" r="1.45"/><circle cx="50.7" cy="501.7" r="1.45"/><circle cx="52.4" cy="478.9" r="1.45"/><circle cx="47" cy="501.2" r="1.45"/><circle cx="45.4" cy="416" r="1.45"/><circle cx="49.3" cy="402.4" r="1.45"/><circle cx="49.9" cy="473.4" r="1.45"/><circle cx="51.8" cy="493.8" r="1.45"/><circle cx="45.5" cy="457" r="1.45"/><circle cx="48.4" cy="460.5" r="1.45"/><circle cx="43.1" cy="474.5" r="1.45"/><circle cx="51.8" cy="440.1" r="1.45"/><circle cx="48.7" cy="425.7" r="1.45"/><circle cx="45.4" cy="473.4" r="1.45"/><circle cx="52.1" cy="428.7" r="1.45"/><circle cx="52.8" cy="452.1" r="1.45"/><circle cx="45.5" cy="460.7" r="1.45"/><circle cx="51.1" cy="500.6" r="1.45"/><circle cx="50" cy="485.4" r="1.45"/><circle cx="45.6" cy="480.8" r="1.45"/><circle cx="46.3" cy="497.5" r="1.45"/><circle cx="42.9" cy="466.3" r="1.45"/><circle cx="45.1" cy="441.8" r="1.45"/><circle cx="43.1" cy="419.4" r="1.45"/><circle cx="50.6" cy="445.2" r="1.45"/><circle cx="52.4" cy="483.6" r="1.45"/><circle cx="45.7" cy="413.2" r="1.45"/><circle cx="52.5" cy="494.5" r="1.45"/><circle cx="47.6" cy="438.4" r="1.45"/><circle cx="48.3" cy="423.1" r="1.45"/><circle cx="48.1" cy="456.2" r="1.45"/><circle cx="51.5" cy="473.5" r="1.45"/><circle cx="52.7" cy="400.9" r="1.45"/><circle cx="49.3" cy="491" r="1.45"/><circle cx="47.8" cy="496.4" r="1.45"/><circle cx="46.7" cy="443.3" r="1.45"/><circle cx="43.1" cy="414.9" r="1.45"/><circle cx="43.2" cy="432.1" r="1.45"/><circle cx="51.1" cy="409.1" r="1.45"/><circle cx="51.8" cy="451.1" r="1.45"/><circle cx="51.8" cy="473.9" r="1.45"/><circle cx="44.7" cy="439.5" r="1.45"/><circle cx="46.9" cy="412.5" r="1.45"/><circle cx="49" cy="455.9" r="1.45"/><circle cx="51.1" cy="454.7" r="1.45"/><circle cx="42.7" cy="437.5" r="1.45"/><circle cx="45.5" cy="498.1" r="1.45"/><circle cx="46.6" cy="409.9" r="1.45"/><circle cx="47" cy="427.5" r="1.45"/><circle cx="47.5" cy="477.6" r="1.45"/><circle cx="49.5" cy="412.5" r="1.45"/><circle cx="45.2" cy="409.7" r="1.45"/><circle cx="49.3" cy="418.3" r="1.45"/><circle cx="48.5" cy="456.5" r="1.45"/><circle cx="46.2" cy="435.3" r="1.45"/><circle cx="45.7" cy="412" r="1.45"/><circle cx="49.1" cy="412.8" r="1.45"/><circle cx="43.5" cy="436.2" r="1.45"/><circle cx="43.8" cy="486.8" r="1.45"/><circle cx="51.8" cy="400" r="1.45"/><circle cx="48.1" cy="474.8" r="1.45"/><circle cx="49.3" cy="493.3" r="1.45"/><circle cx="51.7" cy="504.3" r="1.45"/><circle cx="52.1" cy="486.8" r="1.45"/><circle cx="51.1" cy="404.2" r="1.45"/><circle cx="45.9" cy="444.5" r="1.45"/><circle cx="48" cy="411.9" r="1.45"/><circle cx="49.5" cy="485.7" r="1.45"/><circle cx="48" cy="448.5" r="1.45"/><circle cx="50.9" cy="496.3" r="1.45"/><circle cx="50" cy="409.3" r="1.45"/><circle cx="43.9" cy="473.8" r="1.45"/><circle cx="46.1" cy="499.5" r="1.45"/><circle cx="52.5" cy="411.9" r="1.45"/><circle cx="48.8" cy="462.1" r="1.45"/><circle cx="50.6" cy="419.5" r="1.45"/><circle cx="49.2" cy="481.4" r="1.45"/><circle cx="48.6" cy="400.9" r="1.45"/><circle cx="49.3" cy="403.8" r="1.45"/><circle cx="42.9" cy="494.5" r="1.45"/><circle cx="50.5" cy="510.7" r="1.45"/><circle cx="43.6" cy="461.8" r="1.45"/><circle cx="45.5" cy="461.6" r="1.45"/><circle cx="49.5" cy="472.7" r="1.45"/><circle cx="52.3" cy="433.9" r="1.45"/><circle cx="52.1" cy="509.6" r="1.45"/><circle cx="44.3" cy="478.6" r="1.45"/><circle cx="48.4" cy="499.9" r="1.45"/><circle cx="48.3" cy="428.5" r="1.45"/><circle cx="46.9" cy="401.5" r="1.45"/><circle cx="50.5" cy="413.4" r="1.45"/><circle cx="49.7" cy="480.4" r="1.45"/><circle cx="50.3" cy="490.2" r="1.45"/><circle cx="45.6" cy="483" r="1.45"/><circle cx="48.1" cy="483.8" r="1.45"/><circle cx="42.6" cy="509.5" r="1.45"/><circle cx="114.1" cy="401.7" r="1.45"/><circle cx="159.5" cy="401.2" r="1.45"/><circle cx="114.1" cy="386.9" r="1.45"/><circle cx="121.3" cy="385.2" r="1.45"/><circle cx="145.7" cy="407.9" r="1.45"/><circle cx="112.4" cy="384.4" r="1.45"/><circle cx="157.2" cy="381.6" r="1.45"/><circle cx="162.8" cy="428.4" r="1.45"/><circle cx="115.6" cy="418.9" r="1.45"/><circle cx="151.9" cy="395.1" r="1.45"/><circle cx="124.7" cy="395.1" r="1.45"/><circle cx="157.8" cy="405.2" r="1.45"/><circle cx="119.8" cy="411.3" r="1.45"/><circle cx="115.5" cy="399.6" r="1.45"/><circle cx="155.4" cy="386.8" r="1.45"/><circle cx="101.7" cy="404.8" r="1.45"/><circle cx="148.9" cy="391.8" r="1.45"/><circle cx="110.4" cy="395.4" r="1.45"/><circle cx="114" cy="421.5" r="1.45"/><circle cx="127.8" cy="410.8" r="1.45"/><circle cx="134.3" cy="412.5" r="1.45"/><circle cx="119.6" cy="406.2" r="1.45"/><circle cx="108.9" cy="417.4" r="1.45"/><circle cx="114" cy="387.6" r="1.45"/><circle cx="154.2" cy="385.6" r="1.45"/><circle cx="128.7" cy="383.2" r="1.45"/><circle cx="113.1" cy="383.2" r="1.45"/><circle cx="123.2" cy="381" r="1.45"/><circle cx="155.8" cy="399.5" r="1.45"/><circle cx="105.5" cy="386.7" r="1.45"/><circle cx="152.6" cy="382" r="1.45"/><circle cx="114.7" cy="408.9" r="1.45"/><circle cx="129.6" cy="429.6" r="1.45"/><circle cx="153.6" cy="390.8" r="1.45"/><circle cx="145.8" cy="400.2" r="1.45"/><circle cx="126.6" cy="410.9" r="1.45"/><circle cx="142.4" cy="387.6" r="1.45"/><circle cx="149.4" cy="385.5" r="1.45"/><circle cx="138.9" cy="384.3" r="1.45"/><circle cx="142.2" cy="406.5" r="1.45"/><circle cx="132.2" cy="386.5" r="1.45"/><circle cx="144.4" cy="425.2" r="1.45"/><circle cx="105.3" cy="405.9" r="1.45"/><circle cx="149.8" cy="388.6" r="1.45"/><circle cx="144.8" cy="397.1" r="1.45"/><circle cx="145" cy="388.8" r="1.45"/><circle cx="127.2" cy="448" r="1.45"/><circle cx="130.9" cy="411.8" r="1.45"/><circle cx="151.3" cy="400.4" r="1.45"/><circle cx="130.9" cy="399.6" r="1.45"/><circle cx="126.3" cy="416.5" r="1.45"/><circle cx="133.3" cy="417" r="1.45"/><circle cx="119" cy="390.4" r="1.45"/><circle cx="125.5" cy="398.9" r="1.45"/><circle cx="152.5" cy="393.1" r="1.45"/><circle cx="115.5" cy="405.4" r="1.45"/><circle cx="148.3" cy="389.5" r="1.45"/><circle cx="145" cy="382.3" r="1.45"/><circle cx="148.7" cy="401.1" r="1.45"/><circle cx="166.1" cy="394.6" r="1.45"/><circle cx="143.6" cy="419.9" r="1.45"/><circle cx="102.5" cy="395.5" r="1.45"/><circle cx="142.5" cy="398.7" r="1.45"/><circle cx="148.7" cy="398" r="1.45"/><circle cx="104.1" cy="424" r="1.45"/><circle cx="115.6" cy="387.3" r="1.45"/><circle cx="103.4" cy="427.3" r="1.45"/><circle cx="119" cy="379.9" r="1.45"/><circle cx="163.8" cy="388.6" r="1.45"/><circle cx="109.3" cy="390.9" r="1.45"/><circle cx="105.1" cy="415.9" r="1.45"/><circle cx="147.2" cy="389.7" r="1.45"/><circle cx="165" cy="395.1" r="1.45"/><circle cx="159.2" cy="383.2" r="1.45"/><circle cx="125.9" cy="388.6" r="1.45"/><circle cx="131.9" cy="394.3" r="1.45"/><circle cx="151.1" cy="412.5" r="1.45"/><circle cx="155.7" cy="382.8" r="1.45"/><circle cx="105.6" cy="403.4" r="1.45"/><circle cx="148.6" cy="412.5" r="1.45"/><circle cx="161.1" cy="404.9" r="1.45"/><circle cx="111.5" cy="417.3" r="1.45"/><circle cx="127.2" cy="428.6" r="1.45"/><circle cx="161.2" cy="381" r="1.45"/><circle cx="106.3" cy="421.5" r="1.45"/><circle cx="106.7" cy="389.9" r="1.45"/><circle cx="113.8" cy="378.7" r="1.45"/><circle cx="124.8" cy="392.5" r="1.45"/><circle cx="122.4" cy="401.8" r="1.45"/><circle cx="133.5" cy="386.9" r="1.45"/><circle cx="101.8" cy="388.6" r="1.45"/><circle cx="164" cy="387.6" r="1.45"/><circle cx="144.8" cy="387.2" r="1.45"/><circle cx="116.2" cy="396.2" r="1.45"/><circle cx="119.6" cy="382.1" r="1.45"/><circle cx="113.7" cy="440.5" r="1.45"/><circle cx="105.1" cy="382.9" r="1.45"/><circle cx="133.1" cy="396.1" r="1.45"/><circle cx="146.6" cy="413.1" r="1.45"/><circle cx="138.1" cy="385.8" r="1.45"/><circle cx="148.3" cy="387.4" r="1.45"/><circle cx="167.1" cy="379.8" r="1.45"/><circle cx="106.4" cy="433.2" r="1.45"/><circle cx="134.2" cy="410.1" r="1.45"/><circle cx="123.1" cy="395.9" r="1.45"/><circle cx="138.6" cy="385.5" r="1.45"/><circle cx="161.6" cy="404.7" r="1.45"/><circle cx="137.2" cy="485.6" r="1.45"/><circle cx="149.5" cy="389.1" r="1.45"/><circle cx="179.4" cy="478.4" r="1.45"/><circle cx="288.1" cy="509.3" r="1.45"/><circle cx="144.8" cy="457.7" r="1.45"/><circle cx="135" cy="384" r="1.45"/><circle cx="227.2" cy="447.4" r="1.45"/><circle cx="157.2" cy="410.5" r="1.45"/><circle cx="247.7" cy="398.3" r="1.45"/><circle cx="226.5" cy="436.1" r="1.45"/><circle cx="227.9" cy="484.4" r="1.45"/><circle cx="138" cy="485" r="1.45"/><circle cx="177.6" cy="509.8" r="1.45"/><circle cx="204.7" cy="467.3" r="1.45"/><circle cx="144.6" cy="443.7" r="1.45"/><circle cx="166.5" cy="501.4" r="1.45"/><circle cx="274.7" cy="399.6" r="1.45"/><circle cx="138.3" cy="389.6" r="1.45"/><circle cx="254.3" cy="504.4" r="1.45"/><circle cx="139.6" cy="444.2" r="1.45"/><circle cx="143" cy="431.7" r="1.45"/><circle cx="177.9" cy="470" r="1.45"/><circle cx="181.2" cy="409.2" r="1.45"/><circle cx="185.9" cy="477.5" r="1.45"/><circle cx="191.6" cy="496.3" r="1.45"/><circle cx="282" cy="488.2" r="1.45"/><circle cx="304.1" cy="494.9" r="1.45"/><circle cx="159.4" cy="393.8" r="1.45"/><circle cx="251.5" cy="485.4" r="1.45"/><circle cx="235.8" cy="471.2" r="1.45"/><circle cx="182.2" cy="444.4" r="1.45"/><circle cx="238.2" cy="491.6" r="1.45"/><circle cx="264.1" cy="384.9" r="1.45"/><circle cx="189.6" cy="496" r="1.45"/><circle cx="197.2" cy="503.3" r="1.45"/><circle cx="298.4" cy="411.7" r="1.45"/><circle cx="255.9" cy="421" r="1.45"/><circle cx="254.4" cy="446" r="1.45"/><circle cx="270" cy="506.7" r="1.45"/><circle cx="153.8" cy="397.4" r="1.45"/><circle cx="153.4" cy="419.6" r="1.45"/><circle cx="208.8" cy="388.9" r="1.45"/><circle cx="151.4" cy="441.4" r="1.45"/><circle cx="199.5" cy="505.7" r="1.45"/><circle cx="170.3" cy="428.1" r="1.45"/><circle cx="194" cy="454.2" r="1.45"/><circle cx="143.3" cy="451.5" r="1.45"/><circle cx="253.3" cy="463.5" r="1.45"/><circle cx="235.3" cy="499.4" r="1.45"/><circle cx="210" cy="479.7" r="1.45"/><circle cx="182.6" cy="398.3" r="1.45"/><circle cx="188.2" cy="428.7" r="1.45"/><circle cx="226.1" cy="480.8" r="1.45"/><circle cx="166.9" cy="412.5" r="1.45"/><circle cx="129.4" cy="496.3" r="1.45"/><circle cx="222.5" cy="485.1" r="1.45"/><circle cx="270.3" cy="441.6" r="1.45"/><circle cx="162.2" cy="486.9" r="1.45"/><circle cx="183.3" cy="395" r="1.45"/><circle cx="202.4" cy="449.6" r="1.45"/><circle cx="146.9" cy="450.8" r="1.45"/><circle cx="230.6" cy="495.8" r="1.45"/><circle cx="313" cy="477.2" r="1.45"/><circle cx="161.2" cy="485" r="1.45"/><circle cx="128.6" cy="407" r="1.45"/><circle cx="130.2" cy="474.7" r="1.45"/><circle cx="150.8" cy="459.3" r="1.45"/><circle cx="230.9" cy="436.5" r="1.45"/><circle cx="136" cy="469.1" r="1.45"/><circle cx="157.9" cy="457.2" r="1.45"/><circle cx="157.9" cy="485.4" r="1.45"/><circle cx="238.3" cy="397.3" r="1.45"/><circle cx="159.6" cy="433.1" r="1.45"/><circle cx="174.7" cy="400.8" r="1.45"/><circle cx="158.6" cy="386" r="1.45"/><circle cx="256.5" cy="414.6" r="1.45"/><circle cx="217.7" cy="404.8" r="1.45"/><circle cx="237.1" cy="508.7" r="1.45"/><circle cx="124" cy="380.9" r="1.45"/><circle cx="253" cy="399.1" r="1.45"/><circle cx="190.9" cy="505.7" r="1.45"/><circle cx="159.6" cy="502.3" r="1.45"/><circle cx="138.4" cy="428" r="1.45"/><circle cx="166.5" cy="444.7" r="1.45"/><circle cx="191" cy="386.3" r="1.45"/><circle cx="142.3" cy="406.5" r="1.45"/><circle cx="139" cy="500.9" r="1.45"/><circle cx="152.1" cy="507.7" r="1.45"/><circle cx="225.2" cy="423.1" r="1.45"/><circle cx="131.4" cy="454.5" r="1.45"/><circle cx="143.5" cy="400.3" r="1.45"/><circle cx="176.7" cy="413.3" r="1.45"/><circle cx="166.1" cy="437.8" r="1.45"/><circle cx="188.3" cy="501.3" r="1.45"/><circle cx="155.3" cy="438.4" r="1.45"/><circle cx="185.1" cy="507.5" r="1.45"/><circle cx="125.6" cy="401" r="1.45"/><circle cx="157.3" cy="491.8" r="1.45"/><circle cx="252.6" cy="507.8" r="1.45"/><circle cx="287.9" cy="409.6" r="1.45"/><circle cx="235.1" cy="385.1" r="1.45"/><circle cx="255.3" cy="462.6" r="1.45"/></g>
<line x1="42.5" y1="420.2" x2="316.8" y2="447.9" stroke="#4a90c4" stroke-width="0.9"/>
<rect x="34.3" y="371.4" width="297.4" height="140.2" fill="none" stroke="#a0a0a0" stroke-width="0.9"/>
<g font-family='"Liberation Sans", sans-serif' fill="#222">
<text x="34.3" y="523.7" font-size="8.4" text-anchor="middle">0</text>
<text x="108.6" y="523.7" font-size="8.4" text-anchor="middle">500</text>
<text x="183" y="523.7" font-size="8.4" text-anchor="middle">1000</text>
<text x="257.3" y="523.7" font-size="8.4" text-anchor="middle">1500</text>
<text x="331.7" y="523.7" font-size="8.4" text-anchor="middle">2000</text>
<text x="30.9" y="514.6" font-size="8.4" text-anchor="end">50</text>
<text x="30.9" y="486.6" font-size="8.4" text-anchor="end">60</text>
<text x="30.9" y="458.5" font-size="8.4" text-anchor="end">70</text>
<text x="30.9" y="430.5" font-size="8.4" text-anchor="end">80</text>
<text x="30.9" y="402.4" font-size="8.4" text-anchor="end">90</text>
<text x="30.9" y="374.4" font-size="8.4" text-anchor="end">100</text>
<text x="183" y="362.4" font-size="9.7" text-anchor="middle" fill="#5b9bd5">Structure Assessment-Length/PLDDT</text>
<text x="183" y="536.6" font-size="8.6" text-anchor="middle">Protein Length</text>
<text transform="translate(14.8 446) rotate(-90)" font-size="8.6" text-anchor="middle">pLDDT</text>
<text x="314.5" y="381.8" font-size="8.2" text-anchor="end">R² = 0.0135</text>
</g>
<path d="M430.2 371V511M480 371V511M529.9 371V511M579.8 371V511M629.6 371V511M380.3 491H679.5M380.3 471H679.5M380.3 451H679.5M380.3 431H679.5M380.3 411H679.5M380.3 391H679.5" stroke="#e0e0e0" stroke-width="0.7" stroke-dasharray="2.6 2.6" fill="none"/>
<path d="M503.9 434.6h2.2m-1.1-1.1v2.2M581.2 481.5h2.2m-1.1-1.1v2.2M618.6 497.1h2.2m-1.1-1.1v2.2M526.3 479.2h2.2m-1.1-1.1v2.2M461.5 395.5h2.2m-1.1-1.1v2.2M541.3 431.8h2.2m-1.1-1.1v2.2M568.7 487.5h2.2m-1.1-1.1v2.2M563.7 451.4h2.2m-1.1-1.1v2.2M588.6 498.9h2.2m-1.1-1.1v2.2M606.1 493.5h2.2m-1.1-1.1v2.2M616.1 495.3h2.2m-1.1-1.1v2.2M588.6 491.2h2.2m-1.1-1.1v2.2M596.1 494.9h2.2m-1.1-1.1v2.2M528.8 487.3h2.2m-1.1-1.1v2.2M471.5 434.8h2.2m-1.1-1.1v2.2M498.9 426.1h2.2m-1.1-1.1v2.2M533.8 477.7h2.2m-1.1-1.1v2.2M568.7 472.4h2.2m-1.1-1.1v2.2M581.2 476h2.2m-1.1-1.1v2.2M593.6 470.9h2.2m-1.1-1.1v2.2M531.3 437.7h2.2m-1.1-1.1v2.2M611.1 501.2h2.2m-1.1-1.1v2.2M621.1 498.8h2.2m-1.1-1.1v2.2M578.7 490.9h2.2m-1.1-1.1v2.2M531.3 439.6h2.2m-1.1-1.1v2.2M566.2 455.3h2.2m-1.1-1.1v2.2M603.6 491.7h2.2m-1.1-1.1v2.2M508.9 465.8h2.2m-1.1-1.1v2.2M551.2 439.9h2.2m-1.1-1.1v2.2M513.8 450h2.2m-1.1-1.1v2.2M616.1 490h2.2m-1.1-1.1v2.2M613.6 499.3h2.2m-1.1-1.1v2.2M513.8 449.2h2.2m-1.1-1.1v2.2M531.3 441.2h2.2m-1.1-1.1v2.2M591.1 478.7h2.2m-1.1-1.1v2.2M571.2 481.4h2.2m-1.1-1.1v2.2M571.2 457.1h2.2m-1.1-1.1v2.2M593.6 471.9h2.2m-1.1-1.1v2.2M586.1 499.3h2.2m-1.1-1.1v2.2M568.7 471.2h2.2m-1.1-1.1v2.2M598.6 491.8h2.2m-1.1-1.1v2.2M591.1 490.3h2.2m-1.1-1.1v2.2M618.6 494.7h2.2m-1.1-1.1v2.2M593.6 489.6h2.2m-1.1-1.1v2.2M538.8 483.7h2.2m-1.1-1.1v2.2M588.6 470.7h2.2m-1.1-1.1v2.2M618.6 494h2.2m-1.1-1.1v2.2M613.6 489.5h2.2m-1.1-1.1v2.2M613.6 493.5h2.2m-1.1-1.1v2.2M583.7 479.2h2.2m-1.1-1.1v2.2M503.9 432.7h2.2m-1.1-1.1v2.2M608.6 496.2h2.2m-1.1-1.1v2.2M466.5 419.2h2.2m-1.1-1.1v2.2M561.2 437.9h2.2m-1.1-1.1v2.2M563.7 454.4h2.2m-1.1-1.1v2.2M598.6 485.8h2.2m-1.1-1.1v2.2M598.6 488.2h2.2m-1.1-1.1v2.2M526.3 472.1h2.2m-1.1-1.1v2.2M551.2 467h2.2m-1.1-1.1v2.2M608.6 497.8h2.2m-1.1-1.1v2.2M454 437.7h2.2m-1.1-1.1v2.2M561.2 471.3h2.2m-1.1-1.1v2.2M591.1 490.3h2.2m-1.1-1.1v2.2M581.2 459.8h2.2m-1.1-1.1v2.2M459 407.3h2.2m-1.1-1.1v2.2M566.2 468.6h2.2m-1.1-1.1v2.2M613.6 494.9h2.2m-1.1-1.1v2.2M541.3 427h2.2m-1.1-1.1v2.2M573.7 483.7h2.2m-1.1-1.1v2.2M548.7 492.9h2.2m-1.1-1.1v2.2M601.1 478.1h2.2m-1.1-1.1v2.2M618.6 502.9h2.2m-1.1-1.1v2.2M521.3 443.8h2.2m-1.1-1.1v2.2M603.6 494.3h2.2m-1.1-1.1v2.2M548.7 486h2.2m-1.1-1.1v2.2M473.9 449.7h2.2m-1.1-1.1v2.2M411.6 396.6h2.2m-1.1-1.1v2.2M531.3 451.4h2.2m-1.1-1.1v2.2M571.2 497.5h2.2m-1.1-1.1v2.2M459 449.3h2.2m-1.1-1.1v2.2M606.1 495.6h2.2m-1.1-1.1v2.2M611.1 500h2.2m-1.1-1.1v2.2M481.4 472.3h2.2m-1.1-1.1v2.2M461.5 429h2.2m-1.1-1.1v2.2M556.2 468.2h2.2m-1.1-1.1v2.2M561.2 481.9h2.2m-1.1-1.1v2.2M506.4 434.8h2.2m-1.1-1.1v2.2M606.1 492.9h2.2m-1.1-1.1v2.2M576.2 495h2.2m-1.1-1.1v2.2M611.1 497.8h2.2m-1.1-1.1v2.2M616.1 495.4h2.2m-1.1-1.1v2.2M596.1 480.8h2.2m-1.1-1.1v2.2M576.2 497.8h2.2m-1.1-1.1v2.2M469 435.1h2.2m-1.1-1.1v2.2M481.4 427.1h2.2m-1.1-1.1v2.2M593.6 492.2h2.2m-1.1-1.1v2.2M551.2 448.9h2.2m-1.1-1.1v2.2M466.5 423h2.2m-1.1-1.1v2.2M536.3 474.7h2.2m-1.1-1.1v2.2M461.5 439.9h2.2m-1.1-1.1v2.2M498.9 461.8h2.2m-1.1-1.1v2.2M568.7 459.7h2.2m-1.1-1.1v2.2M593.6 498.4h2.2m-1.1-1.1v2.2M616.1 493.3h2.2m-1.1-1.1v2.2M603.6 493.4h2.2m-1.1-1.1v2.2M616.1 494.3h2.2m-1.1-1.1v2.2M616.1 493.3h2.2m-1.1-1.1v2.2M558.7 483.3h2.2m-1.1-1.1v2.2M518.8 448.8h2.2m-1.1-1.1v2.2M531.3 437.8h2.2m-1.1-1.1v2.2M491.4 469.8h2.2m-1.1-1.1v2.2M563.7 445.5h2.2m-1.1-1.1v2.2M551.2 481.2h2.2m-1.1-1.1v2.2M551.2 465.9h2.2m-1.1-1.1v2.2M606.1 501.8h2.2m-1.1-1.1v2.2M538.8 461.2h2.2m-1.1-1.1v2.2M566.2 460h2.2m-1.1-1.1v2.2M491.4 456.3h2.2m-1.1-1.1v2.2M588.6 486.1h2.2m-1.1-1.1v2.2M586.1 472h2.2m-1.1-1.1v2.2M606.1 488.8h2.2m-1.1-1.1v2.2M571.2 475.7h2.2m-1.1-1.1v2.2M478.9 446.8h2.2m-1.1-1.1v2.2M518.8 462.4h2.2m-1.1-1.1v2.2M493.9 429.6h2.2m-1.1-1.1v2.2M621.1 497.5h2.2m-1.1-1.1v2.2M541.3 458h2.2m-1.1-1.1v2.2M469 436.7h2.2m-1.1-1.1v2.2M456.5 412.7h2.2m-1.1-1.1v2.2M613.6 500.4h2.2m-1.1-1.1v2.2M551.2 442.5h2.2m-1.1-1.1v2.2M538.8 486h2.2m-1.1-1.1v2.2M586.1 494.4h2.2m-1.1-1.1v2.2M439 429.7h2.2m-1.1-1.1v2.2M573.7 473.2h2.2m-1.1-1.1v2.2M518.8 417.5h2.2m-1.1-1.1v2.2M526.3 458.1h2.2m-1.1-1.1v2.2M573.7 468.4h2.2m-1.1-1.1v2.2M561.2 471.4h2.2m-1.1-1.1v2.2M446.5 427.1h2.2m-1.1-1.1v2.2M478.9 436.1h2.2m-1.1-1.1v2.2M561.2 468.3h2.2m-1.1-1.1v2.2M573.7 455.1h2.2m-1.1-1.1v2.2M436.5 392.7h2.2m-1.1-1.1v2.2M591.1 492.5h2.2m-1.1-1.1v2.2M488.9 400.9h2.2m-1.1-1.1v2.2M573.7 446.3h2.2m-1.1-1.1v2.2M613.6 491.1h2.2m-1.1-1.1v2.2M511.3 418.6h2.2m-1.1-1.1v2.2M511.3 436.9h2.2m-1.1-1.1v2.2M618.6 494.4h2.2m-1.1-1.1v2.2M553.7 479.3h2.2m-1.1-1.1v2.2M436.5 427.8h2.2m-1.1-1.1v2.2M478.9 451.8h2.2m-1.1-1.1v2.2M578.7 494.1h2.2m-1.1-1.1v2.2M596.1 489h2.2m-1.1-1.1v2.2M583.7 482.8h2.2m-1.1-1.1v2.2M478.9 460.6h2.2m-1.1-1.1v2.2M546.3 431.1h2.2m-1.1-1.1v2.2M618.6 499.1h2.2m-1.1-1.1v2.2M563.7 450h2.2m-1.1-1.1v2.2M561.2 488.9h2.2m-1.1-1.1v2.2M491.4 456.7h2.2m-1.1-1.1v2.2M498.9 443.9h2.2m-1.1-1.1v2.2M561.2 485h2.2m-1.1-1.1v2.2M571.2 495.4h2.2m-1.1-1.1v2.2M608.6 487.2h2.2m-1.1-1.1v2.2M521.3 424.4h2.2m-1.1-1.1v2.2M551.2 461.8h2.2m-1.1-1.1v2.2M576.2 470.6h2.2m-1.1-1.1v2.2M588.6 498.4h2.2m-1.1-1.1v2.2M573.7 482.6h2.2m-1.1-1.1v2.2M478.9 429.4h2.2m-1.1-1.1v2.2M536.3 472h2.2m-1.1-1.1v2.2M603.6 493.2h2.2m-1.1-1.1v2.2M611.1 494.1h2.2m-1.1-1.1v2.2M508.9 431.6h2.2m-1.1-1.1v2.2M588.6 476.5h2.2m-1.1-1.1v2.2M553.7 486.2h2.2m-1.1-1.1v2.2M556.2 454.4h2.2m-1.1-1.1v2.2M466.5 435.2h2.2m-1.1-1.1v2.2M503.9 427.4h2.2m-1.1-1.1v2.2M603.6 499.2h2.2m-1.1-1.1v2.2M521.3 434.6h2.2m-1.1-1.1v2.2M546.3 464.9h2.2m-1.1-1.1v2.2M593.6 478.9h2.2m-1.1-1.1v2.2M601.1 490h2.2m-1.1-1.1v2.2M528.8 447h2.2m-1.1-1.1v2.2M588.6 477.3h2.2m-1.1-1.1v2.2M588.6 497.1h2.2m-1.1-1.1v2.2M521.3 465.4h2.2m-1.1-1.1v2.2M473.9 466.1h2.2m-1.1-1.1v2.2M576.2 479.1h2.2m-1.1-1.1v2.2M618.6 496.7h2.2m-1.1-1.1v2.2M538.8 446.8h2.2m-1.1-1.1v2.2M571.2 472.3h2.2m-1.1-1.1v2.2M598.6 490.3h2.2m-1.1-1.1v2.2M478.9 454.7h2.2m-1.1-1.1v2.2M558.7 485.5h2.2m-1.1-1.1v2.2M501.4 429.9h2.2m-1.1-1.1v2.2M573.7 473.5h2.2m-1.1-1.1v2.2M606.1 492.5h2.2m-1.1-1.1v2.2M611.1 493.4h2.2m-1.1-1.1v2.2M601.1 490.2h2.2m-1.1-1.1v2.2M578.7 495.7h2.2m-1.1-1.1v2.2M456.5 408.5h2.2m-1.1-1.1v2.2M601.1 482h2.2m-1.1-1.1v2.2M523.8 468.3h2.2m-1.1-1.1v2.2M591.1 484.5h2.2m-1.1-1.1v2.2M508.9 421h2.2m-1.1-1.1v2.2M496.4 408.7h2.2m-1.1-1.1v2.2M561.2 445.3h2.2m-1.1-1.1v2.2M583.7 484.6h2.2m-1.1-1.1v2.2M586.1 473.7h2.2m-1.1-1.1v2.2M406.6 394.5h2.2m-1.1-1.1v2.2M586.1 476.4h2.2m-1.1-1.1v2.2M576.2 448.3h2.2m-1.1-1.1v2.2M583.7 495.8h2.2m-1.1-1.1v2.2M593.6 484h2.2m-1.1-1.1v2.2M531.3 449.3h2.2m-1.1-1.1v2.2M513.8 445.9h2.2m-1.1-1.1v2.2M613.6 493.1h2.2m-1.1-1.1v2.2M546.3 443.5h2.2m-1.1-1.1v2.2M606.1 495.4h2.2m-1.1-1.1v2.2M563.7 441.5h2.2m-1.1-1.1v2.2M593.6 482.4h2.2m-1.1-1.1v2.2M593.6 477.4h2.2m-1.1-1.1v2.2M536.3 492.1h2.2m-1.1-1.1v2.2M618.6 497h2.2m-1.1-1.1v2.2M536.3 457.6h2.2m-1.1-1.1v2.2M523.8 465.8h2.2m-1.1-1.1v2.2M573.7 447.2h2.2m-1.1-1.1v2.2M571.2 446.5h2.2m-1.1-1.1v2.2M598.6 490.6h2.2m-1.1-1.1v2.2M536.3 468.4h2.2m-1.1-1.1v2.2M518.8 481.3h2.2m-1.1-1.1v2.2M568.7 462.6h2.2m-1.1-1.1v2.2M488.9 467.1h2.2m-1.1-1.1v2.2M461.5 433.2h2.2m-1.1-1.1v2.2M493.9 423.6h2.2m-1.1-1.1v2.2M568.7 447.6h2.2m-1.1-1.1v2.2M606.1 489.5h2.2m-1.1-1.1v2.2M543.8 460.6h2.2m-1.1-1.1v2.2M478.9 422h2.2m-1.1-1.1v2.2M511.3 480.5h2.2m-1.1-1.1v2.2M616.1 497.9h2.2m-1.1-1.1v2.2M606.1 502.9h2.2m-1.1-1.1v2.2M581.2 459.8h2.2m-1.1-1.1v2.2M621.1 496.4h2.2m-1.1-1.1v2.2M541.3 428h2.2m-1.1-1.1v2.2M581.2 475.7h2.2m-1.1-1.1v2.2M571.2 460.6h2.2m-1.1-1.1v2.2M508.9 455.2h2.2m-1.1-1.1v2.2M548.7 465.1h2.2m-1.1-1.1v2.2M414.1 408.2h2.2m-1.1-1.1v2.2M516.3 446.3h2.2m-1.1-1.1v2.2M503.9 443.8h2.2m-1.1-1.1v2.2M533.8 446.1h2.2m-1.1-1.1v2.2M553.7 493.4h2.2m-1.1-1.1v2.2M616.1 492.7h2.2m-1.1-1.1v2.2M513.8 475.7h2.2m-1.1-1.1v2.2M568.7 472.3h2.2m-1.1-1.1v2.2M526.3 487.4h2.2m-1.1-1.1v2.2M576.2 484.6h2.2m-1.1-1.1v2.2M608.6 487.8h2.2m-1.1-1.1v2.2M533.8 454.2h2.2m-1.1-1.1v2.2M541.3 435.9h2.2m-1.1-1.1v2.2M583.7 474h2.2m-1.1-1.1v2.2M541.3 456.3h2.2m-1.1-1.1v2.2M611.1 488.7h2.2m-1.1-1.1v2.2M459 414.8h2.2m-1.1-1.1v2.2M621.1 499.5h2.2m-1.1-1.1v2.2M611.1 488.3h2.2m-1.1-1.1v2.2M446.5 411.8h2.2m-1.1-1.1v2.2M571.2 474.7h2.2m-1.1-1.1v2.2M496.4 447.3h2.2m-1.1-1.1v2.2M506.4 422.2h2.2m-1.1-1.1v2.2M621.1 498.9h2.2m-1.1-1.1v2.2M416.6 403.3h2.2m-1.1-1.1v2.2M586.1 475.2h2.2m-1.1-1.1v2.2M568.7 467.2h2.2m-1.1-1.1v2.2M611.1 488.3h2.2m-1.1-1.1v2.2M613.6 501.6h2.2m-1.1-1.1v2.2M551.2 441.5h2.2m-1.1-1.1v2.2M471.5 439.7h2.2m-1.1-1.1v2.2M583.7 490h2.2m-1.1-1.1v2.2M481.4 424.5h2.2m-1.1-1.1v2.2M521.3 420.6h2.2m-1.1-1.1v2.2M548.7 442.7h2.2m-1.1-1.1v2.2M616.1 496.2h2.2m-1.1-1.1v2.2M488.9 439.1h2.2m-1.1-1.1v2.2M563.7 486.4h2.2m-1.1-1.1v2.2M459 415.7h2.2m-1.1-1.1v2.2M518.8 428.2h2.2m-1.1-1.1v2.2M591.1 495.5h2.2m-1.1-1.1v2.2M588.6 498.8h2.2m-1.1-1.1v2.2M543.8 431.5h2.2m-1.1-1.1v2.2M471.5 412.6h2.2m-1.1-1.1v2.2M553.7 451h2.2m-1.1-1.1v2.2M623.5 505.2h2.2m-1.1-1.1v2.2M618.6 495.6h2.2m-1.1-1.1v2.2M611.1 493.1h2.2m-1.1-1.1v2.2M578.7 486.8h2.2m-1.1-1.1v2.2M501.4 430.6h2.2m-1.1-1.1v2.2M573.7 496.6h2.2m-1.1-1.1v2.2M531.3 469.1h2.2m-1.1-1.1v2.2M528.8 491.5h2.2m-1.1-1.1v2.2M523.8 462.1h2.2m-1.1-1.1v2.2M464 442.9h2.2m-1.1-1.1v2.2M528.8 467h2.2m-1.1-1.1v2.2M551.2 448.6h2.2m-1.1-1.1v2.2M553.7 449.5h2.2m-1.1-1.1v2.2M586.1 481.7h2.2m-1.1-1.1v2.2M578.7 484.3h2.2m-1.1-1.1v2.2M618.6 497.4h2.2m-1.1-1.1v2.2M578.7 457.1h2.2m-1.1-1.1v2.2M616.1 503.2h2.2m-1.1-1.1v2.2M518.8 470.4h2.2m-1.1-1.1v2.2M508.9 417.3h2.2m-1.1-1.1v2.2M411.6 390.2h2.2m-1.1-1.1v2.2M581.2 483.4h2.2m-1.1-1.1v2.2M583.7 475.3h2.2m-1.1-1.1v2.2M601.1 478.5h2.2m-1.1-1.1v2.2M531.3 473.3h2.2m-1.1-1.1v2.2M568.7 453.2h2.2m-1.1-1.1v2.2M538.8 457.3h2.2m-1.1-1.1v2.2M568.7 487.6h2.2m-1.1-1.1v2.2M576.2 483.8h2.2m-1.1-1.1v2.2M558.7 492.1h2.2m-1.1-1.1v2.2M543.8 462h2.2m-1.1-1.1v2.2M608.6 491.6h2.2m-1.1-1.1v2.2M598.6 488.9h2.2m-1.1-1.1v2.2M546.3 435.5h2.2m-1.1-1.1v2.2M571.2 471.4h2.2m-1.1-1.1v2.2M528.8 470.6h2.2m-1.1-1.1v2.2M543.8 473.2h2.2m-1.1-1.1v2.2M568.7 480.1h2.2m-1.1-1.1v2.2M419.1 402.9h2.2m-1.1-1.1v2.2M538.8 495.4h2.2m-1.1-1.1v2.2M528.8 437.4h2.2m-1.1-1.1v2.2M541.3 464h2.2m-1.1-1.1v2.2M473.9 413.3h2.2m-1.1-1.1v2.2M601.1 485.1h2.2m-1.1-1.1v2.2M578.7 481.6h2.2m-1.1-1.1v2.2M551.2 444.9h2.2m-1.1-1.1v2.2M601.1 491.3h2.2m-1.1-1.1v2.2M503.9 451.7h2.2m-1.1-1.1v2.2M571.2 465h2.2m-1.1-1.1v2.2M561.2 443.6h2.2m-1.1-1.1v2.2M568.7 482.7h2.2m-1.1-1.1v2.2M601.1 482.3h2.2m-1.1-1.1v2.2M548.7 484h2.2m-1.1-1.1v2.2M439 420.6h2.2m-1.1-1.1v2.2M568.7 467.6h2.2m-1.1-1.1v2.2M478.9 440.7h2.2m-1.1-1.1v2.2M446.5 408.9h2.2m-1.1-1.1v2.2M556.2 464.6h2.2m-1.1-1.1v2.2M488.9 457h2.2m-1.1-1.1v2.2M566.2 456.4h2.2m-1.1-1.1v2.2M454 422.4h2.2m-1.1-1.1v2.2M543.8 474.3h2.2m-1.1-1.1v2.2M548.7 434.9h2.2m-1.1-1.1v2.2M618.6 497.6h2.2m-1.1-1.1v2.2M464 439.3h2.2m-1.1-1.1v2.2M588.6 472.7h2.2m-1.1-1.1v2.2M434.1 404h2.2m-1.1-1.1v2.2M483.9 433.7h2.2m-1.1-1.1v2.2M538.8 447.8h2.2m-1.1-1.1v2.2M498.9 422.9h2.2m-1.1-1.1v2.2M588.6 467.7h2.2m-1.1-1.1v2.2M551.2 483.3h2.2m-1.1-1.1v2.2M568.7 476.7h2.2m-1.1-1.1v2.2M618.6 497.6h2.2m-1.1-1.1v2.2M558.7 455.7h2.2m-1.1-1.1v2.2M476.4 421.4h2.2m-1.1-1.1v2.2M563.7 455.7h2.2m-1.1-1.1v2.2M583.7 492.4h2.2m-1.1-1.1v2.2M586.1 467.1h2.2m-1.1-1.1v2.2M603.6 492.3h2.2m-1.1-1.1v2.2M588.6 490h2.2m-1.1-1.1v2.2M618.6 501.6h2.2m-1.1-1.1v2.2M506.4 425.6h2.2m-1.1-1.1v2.2M586.1 478.9h2.2m-1.1-1.1v2.2M598.6 496.2h2.2m-1.1-1.1v2.2M488.9 412.1h2.2m-1.1-1.1v2.2M573.7 456.6h2.2m-1.1-1.1v2.2M538.8 478.9h2.2m-1.1-1.1v2.2M506.4 417.2h2.2m-1.1-1.1v2.2M571.2 490.8h2.2m-1.1-1.1v2.2M568.7 481.1h2.2m-1.1-1.1v2.2M583.7 471.6h2.2m-1.1-1.1v2.2M541.3 467.5h2.2m-1.1-1.1v2.2M608.6 492.5h2.2m-1.1-1.1v2.2M556.2 456.3h2.2m-1.1-1.1v2.2M613.6 498.8h2.2m-1.1-1.1v2.2M483.9 420.3h2.2m-1.1-1.1v2.2M578.7 474.8h2.2m-1.1-1.1v2.2M548.7 460.4h2.2m-1.1-1.1v2.2M593.6 478.5h2.2m-1.1-1.1v2.2M618.6 497.2h2.2m-1.1-1.1v2.2M548.7 490.1h2.2m-1.1-1.1v2.2M583.7 460.9h2.2m-1.1-1.1v2.2M586.1 471.8h2.2m-1.1-1.1v2.2M558.7 474.2h2.2m-1.1-1.1v2.2M498.9 441.9h2.2m-1.1-1.1v2.2M571.2 489.6h2.2m-1.1-1.1v2.2M611.1 498.3h2.2m-1.1-1.1v2.2M541.3 466.4h2.2m-1.1-1.1v2.2M491.4 435.1h2.2m-1.1-1.1v2.2M573.7 468.4h2.2m-1.1-1.1v2.2M533.8 479.7h2.2m-1.1-1.1v2.2M576.2 486.8h2.2m-1.1-1.1v2.2M613.6 490h2.2m-1.1-1.1v2.2M508.9 455.8h2.2m-1.1-1.1v2.2M593.6 481.9h2.2m-1.1-1.1v2.2M598.6 490.6h2.2m-1.1-1.1v2.2M493.9 428.4h2.2m-1.1-1.1v2.2M601.1 478.3h2.2m-1.1-1.1v2.2M528.8 438.3h2.2m-1.1-1.1v2.2M603.6 496.1h2.2m-1.1-1.1v2.2M553.7 478.8h2.2m-1.1-1.1v2.2M601.1 481h2.2m-1.1-1.1v2.2M536.3 470.1h2.2m-1.1-1.1v2.2M473.9 447.4h2.2m-1.1-1.1v2.2M586.1 462.3h2.2m-1.1-1.1v2.2M568.7 447.7h2.2m-1.1-1.1v2.2M578.7 455.9h2.2m-1.1-1.1v2.2M491.4 436.6h2.2m-1.1-1.1v2.2M538.8 428.2h2.2m-1.1-1.1v2.2M571.2 482.8h2.2m-1.1-1.1v2.2M528.8 467.7h2.2m-1.1-1.1v2.2M548.7 455.1h2.2m-1.1-1.1v2.2M608.6 501.5h2.2m-1.1-1.1v2.2M606.1 494.7h2.2m-1.1-1.1v2.2M469 406.3h2.2m-1.1-1.1v2.2M511.3 411h2.2m-1.1-1.1v2.2M591.1 483.2h2.2m-1.1-1.1v2.2M576.2 484.5h2.2m-1.1-1.1v2.2M583.7 479.9h2.2m-1.1-1.1v2.2M498.9 475h2.2m-1.1-1.1v2.2M603.6 497.4h2.2m-1.1-1.1v2.2M551.2 449.9h2.2m-1.1-1.1v2.2M596.1 487.1h2.2m-1.1-1.1v2.2M461.5 415.1h2.2m-1.1-1.1v2.2M551.2 437h2.2m-1.1-1.1v2.2M561.2 474h2.2m-1.1-1.1v2.2M486.4 427.4h2.2m-1.1-1.1v2.2M613.6 503.6h2.2m-1.1-1.1v2.2M454 446.1h2.2m-1.1-1.1v2.2M541.3 448.8h2.2m-1.1-1.1v2.2M483.9 409.1h2.2m-1.1-1.1v2.2M508.9 446.2h2.2m-1.1-1.1v2.2M526.3 446.1h2.2m-1.1-1.1v2.2M551.2 446.7h2.2m-1.1-1.1v2.2M541.3 430.7h2.2m-1.1-1.1v2.2M608.6 498.7h2.2m-1.1-1.1v2.2M526.3 467.3h2.2m-1.1-1.1v2.2M588.6 475h2.2m-1.1-1.1v2.2M536.3 443.7h2.2m-1.1-1.1v2.2M621.1 498.7h2.2m-1.1-1.1v2.2M588.6 480.2h2.2m-1.1-1.1v2.2M588.6 475.4h2.2m-1.1-1.1v2.2M536.3 462.2h2.2m-1.1-1.1v2.2M616.1 500.8h2.2m-1.1-1.1v2.2M459 414.2h2.2m-1.1-1.1v2.2M521.3 453.7h2.2m-1.1-1.1v2.2M478.9 436.4h2.2m-1.1-1.1v2.2M521.3 452.4h2.2m-1.1-1.1v2.2M493.9 415.6h2.2m-1.1-1.1v2.2M533.8 451.7h2.2m-1.1-1.1v2.2M528.8 420.5h2.2m-1.1-1.1v2.2M531.3 433.3h2.2m-1.1-1.1v2.2M591.1 489.4h2.2m-1.1-1.1v2.2M583.7 467.9h2.2m-1.1-1.1v2.2M581.2 478.7h2.2m-1.1-1.1v2.2M618.6 503.5h2.2m-1.1-1.1v2.2M573.7 451.2h2.2m-1.1-1.1v2.2M493.9 417h2.2m-1.1-1.1v2.2M603.6 483.9h2.2m-1.1-1.1v2.2M546.3 452.5h2.2m-1.1-1.1v2.2M576.2 481.2h2.2m-1.1-1.1v2.2M576.2 472.7h2.2m-1.1-1.1v2.2M561.2 476h2.2m-1.1-1.1v2.2M558.7 448.6h2.2m-1.1-1.1v2.2M471.5 456h2.2m-1.1-1.1v2.2M473.9 467.7h2.2m-1.1-1.1v2.2M464 419.1h2.2m-1.1-1.1v2.2M598.6 478.5h2.2m-1.1-1.1v2.2M598.6 483.4h2.2m-1.1-1.1v2.2M456.5 401h2.2m-1.1-1.1v2.2M588.6 485.8h2.2m-1.1-1.1v2.2M426.6 432h2.2m-1.1-1.1v2.2M459 423.7h2.2m-1.1-1.1v2.2M553.7 471h2.2m-1.1-1.1v2.2M508.9 470.7h2.2m-1.1-1.1v2.2M538.8 486h2.2m-1.1-1.1v2.2M596.1 475.9h2.2m-1.1-1.1v2.2M546.3 429.4h2.2m-1.1-1.1v2.2M556.2 450.8h2.2m-1.1-1.1v2.2M588.6 491.1h2.2m-1.1-1.1v2.2M598.6 476.3h2.2m-1.1-1.1v2.2M511.3 422h2.2m-1.1-1.1v2.2M404.1 402.2h2.2m-1.1-1.1v2.2M578.7 463h2.2m-1.1-1.1v2.2M616.1 492h2.2m-1.1-1.1v2.2M548.7 467.8h2.2m-1.1-1.1v2.2M501.4 460.2h2.2m-1.1-1.1v2.2M593.6 468.5h2.2m-1.1-1.1v2.2M613.6 496.1h2.2m-1.1-1.1v2.2M551.2 467.2h2.2m-1.1-1.1v2.2M598.6 501.7h2.2m-1.1-1.1v2.2M513.8 477.4h2.2m-1.1-1.1v2.2M606.1 491.4h2.2m-1.1-1.1v2.2M439 393.5h2.2m-1.1-1.1v2.2M471.5 428.9h2.2m-1.1-1.1v2.2M538.8 485.2h2.2m-1.1-1.1v2.2M561.2 484.5h2.2m-1.1-1.1v2.2M528.8 465.1h2.2m-1.1-1.1v2.2M511.3 433.1h2.2m-1.1-1.1v2.2M506.4 432.9h2.2m-1.1-1.1v2.2M598.6 485.2h2.2m-1.1-1.1v2.2M498.9 457.4h2.2m-1.1-1.1v2.2M608.6 483.6h2.2m-1.1-1.1v2.2M551.2 448.4h2.2m-1.1-1.1v2.2M611.1 498.4h2.2m-1.1-1.1v2.2M503.9 467.1h2.2m-1.1-1.1v2.2M571.2 476.7h2.2m-1.1-1.1v2.2M558.7 462.4h2.2m-1.1-1.1v2.2M601.1 485.4h2.2m-1.1-1.1v2.2M573.7 455h2.2m-1.1-1.1v2.2M613.6 488.2h2.2m-1.1-1.1v2.2M581.2 477.1h2.2m-1.1-1.1v2.2M493.9 413.1h2.2m-1.1-1.1v2.2M548.7 487h2.2m-1.1-1.1v2.2M616.1 492.7h2.2m-1.1-1.1v2.2M513.8 450.6h2.2m-1.1-1.1v2.2M523.8 444.2h2.2m-1.1-1.1v2.2M409.1 407.5h2.2m-1.1-1.1v2.2M588.6 469.5h2.2m-1.1-1.1v2.2M596.1 497.5h2.2m-1.1-1.1v2.2M588.6 480.7h2.2m-1.1-1.1v2.2M603.6 485.3h2.2m-1.1-1.1v2.2M546.3 439.6h2.2m-1.1-1.1v2.2M449 419.1h2.2m-1.1-1.1v2.2M591.1 484.5h2.2m-1.1-1.1v2.2M621.1 496.7h2.2m-1.1-1.1v2.2M573.7 486.8h2.2m-1.1-1.1v2.2M578.7 483.1h2.2m-1.1-1.1v2.2M439 406.7h2.2m-1.1-1.1v2.2M518.8 425h2.2m-1.1-1.1v2.2M601.1 484.1h2.2m-1.1-1.1v2.2M533.8 473.5h2.2m-1.1-1.1v2.2M553.7 456.2h2.2m-1.1-1.1v2.2M621.1 499.9h2.2m-1.1-1.1v2.2M601.1 489.6h2.2m-1.1-1.1v2.2M449 399.7h2.2m-1.1-1.1v2.2M581.2 485.7h2.2m-1.1-1.1v2.2M618.6 498h2.2m-1.1-1.1v2.2M616.1 500.2h2.2m-1.1-1.1v2.2M546.3 482.6h2.2m-1.1-1.1v2.2M568.7 466.2h2.2m-1.1-1.1v2.2M586.1 478h2.2m-1.1-1.1v2.2M603.6 493.5h2.2m-1.1-1.1v2.2M613.6 492.7h2.2m-1.1-1.1v2.2M449 404.6h2.2m-1.1-1.1v2.2M581.2 457h2.2m-1.1-1.1v2.2M523.8 447.1h2.2m-1.1-1.1v2.2M518.8 457h2.2m-1.1-1.1v2.2M618.6 497.4h2.2m-1.1-1.1v2.2M621.1 499h2.2m-1.1-1.1v2.2M573.7 470.6h2.2m-1.1-1.1v2.2M471.5 422.2h2.2m-1.1-1.1v2.2M498.9 426.1h2.2m-1.1-1.1v2.2M583.7 482.4h2.2m-1.1-1.1v2.2M568.7 497.5h2.2m-1.1-1.1v2.2M493.9 469h2.2m-1.1-1.1v2.2M481.4 407.8h2.2m-1.1-1.1v2.2M578.7 468.7h2.2m-1.1-1.1v2.2M616.1 489.6h2.2m-1.1-1.1v2.2M531.3 431.7h2.2m-1.1-1.1v2.2M586.1 483.4h2.2m-1.1-1.1v2.2M576.2 485.4h2.2m-1.1-1.1v2.2M583.7 481h2.2m-1.1-1.1v2.2M541.3 435.5h2.2m-1.1-1.1v2.2M618.6 501.6h2.2m-1.1-1.1v2.2M506.4 474.2h2.2m-1.1-1.1v2.2M613.6 502.4h2.2m-1.1-1.1v2.2M469 426.7h2.2m-1.1-1.1v2.2M471.5 429.1h2.2m-1.1-1.1v2.2M598.6 487.9h2.2m-1.1-1.1v2.2M601.1 483.9h2.2m-1.1-1.1v2.2M538.8 448.8h2.2m-1.1-1.1v2.2M601.1 489.1h2.2m-1.1-1.1v2.2M573.7 469.4h2.2m-1.1-1.1v2.2M576.2 453.6h2.2m-1.1-1.1v2.2M444 434.6h2.2m-1.1-1.1v2.2M606.1 493.7h2.2m-1.1-1.1v2.2M591.1 493.1h2.2m-1.1-1.1v2.2M521.3 461.2h2.2m-1.1-1.1v2.2M601.1 481.9h2.2m-1.1-1.1v2.2M571.2 490h2.2m-1.1-1.1v2.2M606.1 498.7h2.2m-1.1-1.1v2.2M568.7 449.5h2.2m-1.1-1.1v2.2M621.1 503.3h2.2m-1.1-1.1v2.2M473.9 439.6h2.2m-1.1-1.1v2.2M426.6 422.5h2.2m-1.1-1.1v2.2M583.7 461.5h2.2m-1.1-1.1v2.2M583.7 480.8h2.2m-1.1-1.1v2.2M566.2 451.4h2.2m-1.1-1.1v2.2M493.9 441h2.2m-1.1-1.1v2.2M606.1 496.4h2.2m-1.1-1.1v2.2M486.4 434.8h2.2m-1.1-1.1v2.2M563.7 484.6h2.2m-1.1-1.1v2.2M621.1 500.7h2.2m-1.1-1.1v2.2M546.3 465.3h2.2m-1.1-1.1v2.2M471.5 454.6h2.2m-1.1-1.1v2.2M596.1 491.1h2.2m-1.1-1.1v2.2M583.7 483.3h2.2m-1.1-1.1v2.2M488.9 427.7h2.2m-1.1-1.1v2.2M586.1 469h2.2m-1.1-1.1v2.2M588.6 486.6h2.2m-1.1-1.1v2.2M586.1 494.9h2.2m-1.1-1.1v2.2M563.7 447.9h2.2m-1.1-1.1v2.2M481.4 459.8h2.2m-1.1-1.1v2.2M576.2 485h2.2m-1.1-1.1v2.2M543.8 453.2h2.2m-1.1-1.1v2.2M591.1 490.1h2.2m-1.1-1.1v2.2M591.1 498h2.2m-1.1-1.1v2.2M459 402.1h2.2m-1.1-1.1v2.2M556.2 473.6h2.2m-1.1-1.1v2.2M546.3 440.6h2.2m-1.1-1.1v2.2M566.2 497.9h2.2m-1.1-1.1v2.2M591.1 475.7h2.2m-1.1-1.1v2.2M588.6 472.8h2.2m-1.1-1.1v2.2M621.1 500.5h2.2m-1.1-1.1v2.2M513.8 448.5h2.2m-1.1-1.1v2.2M571.2 485.7h2.2m-1.1-1.1v2.2M568.7 477.3h2.2m-1.1-1.1v2.2M606.1 490.6h2.2m-1.1-1.1v2.2M516.3 485.9h2.2m-1.1-1.1v2.2M583.7 485.9h2.2m-1.1-1.1v2.2M618.6 497.5h2.2m-1.1-1.1v2.2M611.1 502.1h2.2m-1.1-1.1v2.2M473.9 435.3h2.2m-1.1-1.1v2.2M568.7 482.6h2.2m-1.1-1.1v2.2M493.9 459.1h2.2m-1.1-1.1v2.2M461.5 395.4h2.2m-1.1-1.1v2.2M543.8 443.1h2.2m-1.1-1.1v2.2M576.2 478.7h2.2m-1.1-1.1v2.2M623.5 501.9h2.2m-1.1-1.1v2.2M616.1 496.4h2.2m-1.1-1.1v2.2M538.8 481.4h2.2m-1.1-1.1v2.2M566.2 480.7h2.2m-1.1-1.1v2.2M518.8 444.8h2.2m-1.1-1.1v2.2M521.3 420.6h2.2m-1.1-1.1v2.2M531.3 474.6h2.2m-1.1-1.1v2.2M623.5 501.2h2.2m-1.1-1.1v2.2M553.7 459.8h2.2m-1.1-1.1v2.2M583.7 492.4h2.2m-1.1-1.1v2.2M496.4 436h2.2m-1.1-1.1v2.2M454 433.9h2.2m-1.1-1.1v2.2M576.2 467.9h2.2m-1.1-1.1v2.2M596.1 471.4h2.2m-1.1-1.1v2.2M588.6 496.8h2.2m-1.1-1.1v2.2M608.6 489.3h2.2m-1.1-1.1v2.2M581.2 459.7h2.2m-1.1-1.1v2.2M621.1 501.3h2.2m-1.1-1.1v2.2M531.3 457.6h2.2m-1.1-1.1v2.2M493.9 460.2h2.2m-1.1-1.1v2.2M561.2 481h2.2m-1.1-1.1v2.2M613.6 500.2h2.2m-1.1-1.1v2.2M621.1 497.1h2.2m-1.1-1.1v2.2M623.5 505.8h2.2m-1.1-1.1v2.2M516.3 429.5h2.2m-1.1-1.1v2.2M616.1 495.8h2.2m-1.1-1.1v2.2M573.7 459.5h2.2m-1.1-1.1v2.2M531.3 491.1h2.2m-1.1-1.1v2.2M583.7 476.4h2.2m-1.1-1.1v2.2M588.6 475.7h2.2m-1.1-1.1v2.2M591.1 473.4h2.2m-1.1-1.1v2.2M548.7 451.8h2.2m-1.1-1.1v2.2M536.3 433.7h2.2m-1.1-1.1v2.2M471.5 444.8h2.2m-1.1-1.1v2.2M449 414.5h2.2m-1.1-1.1v2.2M511.3 453.2h2.2m-1.1-1.1v2.2M501.4 430h2.2m-1.1-1.1v2.2M531.3 451.9h2.2m-1.1-1.1v2.2M571.2 495.6h2.2m-1.1-1.1v2.2M528.8 473.5h2.2m-1.1-1.1v2.2M561.2 474.5h2.2m-1.1-1.1v2.2M483.9 409.2h2.2m-1.1-1.1v2.2M591.1 492.1h2.2m-1.1-1.1v2.2M548.7 493.1h2.2m-1.1-1.1v2.2M449 392.4h2.2m-1.1-1.1v2.2M583.7 481.2h2.2m-1.1-1.1v2.2M523.8 486.2h2.2m-1.1-1.1v2.2M483.9 471.3h2.2m-1.1-1.1v2.2M583.7 493.4h2.2m-1.1-1.1v2.2M576.2 474.9h2.2m-1.1-1.1v2.2M593.6 495.5h2.2m-1.1-1.1v2.2M576.2 483.3h2.2m-1.1-1.1v2.2M613.6 501.1h2.2m-1.1-1.1v2.2M456.5 400.9h2.2m-1.1-1.1v2.2M618.6 496.6h2.2m-1.1-1.1v2.2M583.7 476.5h2.2m-1.1-1.1v2.2M478.9 433.2h2.2m-1.1-1.1v2.2M618.6 493.5h2.2m-1.1-1.1v2.2M533.8 488.4h2.2m-1.1-1.1v2.2M486.4 460.8h2.2m-1.1-1.1v2.2M561.2 487.7h2.2m-1.1-1.1v2.2M498.9 450.6h2.2m-1.1-1.1v2.2M538.8 481.4h2.2m-1.1-1.1v2.2M611.1 497.6h2.2m-1.1-1.1v2.2M521.3 438.2h2.2m-1.1-1.1v2.2M556.2 456h2.2m-1.1-1.1v2.2M586.1 476.3h2.2m-1.1-1.1v2.2M591.1 495.3h2.2m-1.1-1.1v2.2M493.9 422.3h2.2m-1.1-1.1v2.2M543.8 466h2.2m-1.1-1.1v2.2M593.6 475.7h2.2m-1.1-1.1v2.2M591.1 487.5h2.2m-1.1-1.1v2.2M541.3 464.9h2.2m-1.1-1.1v2.2M556.2 445.9h2.2m-1.1-1.1v2.2M563.7 476.4h2.2m-1.1-1.1v2.2M603.6 496.8h2.2m-1.1-1.1v2.2M541.3 484.3h2.2m-1.1-1.1v2.2M563.7 484.6h2.2m-1.1-1.1v2.2M536.3 446.8h2.2m-1.1-1.1v2.2M586.1 473.1h2.2m-1.1-1.1v2.2M434.1 423.5h2.2m-1.1-1.1v2.2M558.7 474.4h2.2m-1.1-1.1v2.2M566.2 475.8h2.2m-1.1-1.1v2.2M608.6 490.4h2.2m-1.1-1.1v2.2M581.2 488.1h2.2m-1.1-1.1v2.2M553.7 476h2.2m-1.1-1.1v2.2M576.2 461.1h2.2m-1.1-1.1v2.2M548.7 476.9h2.2m-1.1-1.1v2.2M621.1 503.4h2.2m-1.1-1.1v2.2M581.2 463.5h2.2m-1.1-1.1v2.2M454 423.5h2.2m-1.1-1.1v2.2M578.7 465.7h2.2m-1.1-1.1v2.2M591.1 477.3h2.2m-1.1-1.1v2.2M481.4 468.7h2.2m-1.1-1.1v2.2M583.7 495.7h2.2m-1.1-1.1v2.2M496.4 405.1h2.2m-1.1-1.1v2.2M588.6 488.7h2.2m-1.1-1.1v2.2M548.7 458.3h2.2m-1.1-1.1v2.2M576.2 474.8h2.2m-1.1-1.1v2.2M483.9 446.6h2.2m-1.1-1.1v2.2M596.1 479.5h2.2m-1.1-1.1v2.2M588.6 489.2h2.2m-1.1-1.1v2.2M526.3 471.1h2.2m-1.1-1.1v2.2M536.3 444.4h2.2m-1.1-1.1v2.2M601.1 490.7h2.2m-1.1-1.1v2.2M566.2 485h2.2m-1.1-1.1v2.2M586.1 471.3h2.2m-1.1-1.1v2.2M543.8 454.5h2.2m-1.1-1.1v2.2M591.1 481.1h2.2m-1.1-1.1v2.2M516.3 438.9h2.2m-1.1-1.1v2.2M598.6 502.1h2.2m-1.1-1.1v2.2M578.7 461.7h2.2m-1.1-1.1v2.2M538.8 459.9h2.2m-1.1-1.1v2.2M573.7 446h2.2m-1.1-1.1v2.2M576.2 465.6h2.2m-1.1-1.1v2.2M616.1 503.9h2.2m-1.1-1.1v2.2M598.6 485.7h2.2m-1.1-1.1v2.2M466.5 404.9h2.2m-1.1-1.1v2.2M508.9 451.6h2.2m-1.1-1.1v2.2M568.7 461.1h2.2m-1.1-1.1v2.2M583.7 474.2h2.2m-1.1-1.1v2.2M523.8 465.1h2.2m-1.1-1.1v2.2M473.9 417.7h2.2m-1.1-1.1v2.2M548.7 482.2h2.2m-1.1-1.1v2.2M606.1 490.3h2.2m-1.1-1.1v2.2M568.7 473.2h2.2m-1.1-1.1v2.2M521.3 436.9h2.2m-1.1-1.1v2.2M508.9 410.8h2.2m-1.1-1.1v2.2M543.8 470.4h2.2m-1.1-1.1v2.2M601.1 478.3h2.2m-1.1-1.1v2.2M556.2 452.7h2.2m-1.1-1.1v2.2M548.7 464.7h2.2m-1.1-1.1v2.2M411.6 402h2.2m-1.1-1.1v2.2M596.1 475h2.2m-1.1-1.1v2.2M526.3 450.9h2.2m-1.1-1.1v2.2M596.1 495.2h2.2m-1.1-1.1v2.2M548.7 454.6h2.2m-1.1-1.1v2.2M556.2 465.2h2.2m-1.1-1.1v2.2M546.3 487.2h2.2m-1.1-1.1v2.2M563.7 479.3h2.2m-1.1-1.1v2.2M563.7 489h2.2m-1.1-1.1v2.2M581.2 464.4h2.2m-1.1-1.1v2.2M621.1 501.8h2.2m-1.1-1.1v2.2M558.7 477.4h2.2m-1.1-1.1v2.2M613.6 497.1h2.2m-1.1-1.1v2.2M623.5 500.3h2.2m-1.1-1.1v2.2M613.6 499.9h2.2m-1.1-1.1v2.2M568.7 451.6h2.2m-1.1-1.1v2.2M546.3 458.9h2.2m-1.1-1.1v2.2M598.6 496.3h2.2m-1.1-1.1v2.2M616.1 492.7h2.2m-1.1-1.1v2.2M613.6 491.9h2.2m-1.1-1.1v2.2M598.6 499.4h2.2m-1.1-1.1v2.2M546.3 434.1h2.2m-1.1-1.1v2.2M603.6 495.6h2.2m-1.1-1.1v2.2M476.4 463.4h2.2m-1.1-1.1v2.2M516.3 461.3h2.2m-1.1-1.1v2.2M556.2 474.6h2.2m-1.1-1.1v2.2M601.1 482.5h2.2m-1.1-1.1v2.2M563.7 453.7h2.2m-1.1-1.1v2.2M573.7 471.8h2.2m-1.1-1.1v2.2M611.1 487.2h2.2m-1.1-1.1v2.2M571.2 468h2.2m-1.1-1.1v2.2M603.6 492.4h2.2m-1.1-1.1v2.2M611.1 492.8h2.2m-1.1-1.1v2.2M508.9 413.5h2.2m-1.1-1.1v2.2M543.8 487.6h2.2m-1.1-1.1v2.2M426.6 388.9h2.2m-1.1-1.1v2.2M608.6 483.3h2.2m-1.1-1.1v2.2M501.4 430.8h2.2m-1.1-1.1v2.2M616.1 496.3h2.2m-1.1-1.1v2.2M488.9 450.3h2.2m-1.1-1.1v2.2M613.6 493.9h2.2m-1.1-1.1v2.2M543.8 462.9h2.2m-1.1-1.1v2.2M516.3 450.5h2.2m-1.1-1.1v2.2M493.9 430h2.2m-1.1-1.1v2.2M573.7 477.9h2.2m-1.1-1.1v2.2M473.9 459.2h2.2m-1.1-1.1v2.2M533.8 448.3h2.2m-1.1-1.1v2.2M471.5 411.8h2.2m-1.1-1.1v2.2M536.3 432h2.2m-1.1-1.1v2.2M598.6 496.1h2.2m-1.1-1.1v2.2M528.8 447.5h2.2m-1.1-1.1v2.2M523.8 466.8h2.2m-1.1-1.1v2.2M546.3 486.9h2.2m-1.1-1.1v2.2M541.3 460.9h2.2m-1.1-1.1v2.2M598.6 491h2.2m-1.1-1.1v2.2M621.1 503.1h2.2m-1.1-1.1v2.2M583.7 478.8h2.2m-1.1-1.1v2.2M491.4 408.5h2.2m-1.1-1.1v2.2M571.2 464.6h2.2m-1.1-1.1v2.2M478.9 408.2h2.2m-1.1-1.1v2.2M576.2 497.3h2.2m-1.1-1.1v2.2M593.6 479.4h2.2m-1.1-1.1v2.2M603.6 488h2.2m-1.1-1.1v2.2M556.2 455.8h2.2m-1.1-1.1v2.2M508.9 453.5h2.2m-1.1-1.1v2.2M451.5 444.1h2.2m-1.1-1.1v2.2M611.1 501.7h2.2m-1.1-1.1v2.2M608.6 494.7h2.2m-1.1-1.1v2.2M603.6 491.8h2.2m-1.1-1.1v2.2M573.7 455.8h2.2m-1.1-1.1v2.2M571.2 465.6h2.2m-1.1-1.1v2.2M566.2 455.9h2.2m-1.1-1.1v2.2M538.8 484.9h2.2m-1.1-1.1v2.2M518.8 480.4h2.2m-1.1-1.1v2.2M546.3 457.5h2.2m-1.1-1.1v2.2M536.3 422.8h2.2m-1.1-1.1v2.2M598.6 497.6h2.2m-1.1-1.1v2.2M586.1 479.1h2.2m-1.1-1.1v2.2M483.9 429.4h2.2m-1.1-1.1v2.2M521.3 465.8h2.2m-1.1-1.1v2.2M558.7 457.9h2.2m-1.1-1.1v2.2M518.8 455.1h2.2m-1.1-1.1v2.2M583.7 488.5h2.2m-1.1-1.1v2.2M608.6 485.7h2.2m-1.1-1.1v2.2M541.3 435.3h2.2m-1.1-1.1v2.2M516.3 418.6h2.2m-1.1-1.1v2.2M578.7 463.5h2.2m-1.1-1.1v2.2M568.7 444.1h2.2m-1.1-1.1v2.2M464 439.4h2.2m-1.1-1.1v2.2M603.6 485.1h2.2m-1.1-1.1v2.2M521.3 479.4h2.2m-1.1-1.1v2.2M493.9 456.7h2.2m-1.1-1.1v2.2M496.4 418.3h2.2m-1.1-1.1v2.2M521.3 435.4h2.2m-1.1-1.1v2.2M586.1 465.9h2.2m-1.1-1.1v2.2M618.6 503.6h2.2m-1.1-1.1v2.2M598.6 477.6h2.2m-1.1-1.1v2.2M573.7 489.6h2.2m-1.1-1.1v2.2M538.8 475.5h2.2m-1.1-1.1v2.2M591.1 472.7h2.2m-1.1-1.1v2.2M501.4 449.1h2.2m-1.1-1.1v2.2M501.4 483.5h2.2m-1.1-1.1v2.2M618.6 500h2.2m-1.1-1.1v2.2M596.1 472.9h2.2m-1.1-1.1v2.2M596.1 483.5h2.2m-1.1-1.1v2.2M561.2 485.6h2.2m-1.1-1.1v2.2M576.2 472.5h2.2m-1.1-1.1v2.2M601.1 499h2.2m-1.1-1.1v2.2M541.3 449.8h2.2m-1.1-1.1v2.2M548.7 435.2h2.2m-1.1-1.1v2.2M526.3 433.8h2.2m-1.1-1.1v2.2M576.2 454.2h2.2m-1.1-1.1v2.2M573.7 458h2.2m-1.1-1.1v2.2M586.1 476.5h2.2m-1.1-1.1v2.2M533.8 433.8h2.2m-1.1-1.1v2.2M501.4 468.8h2.2m-1.1-1.1v2.2M536.3 470.8h2.2m-1.1-1.1v2.2M461.5 411.6h2.2m-1.1-1.1v2.2M606.1 490h2.2m-1.1-1.1v2.2M618.6 500.1h2.2m-1.1-1.1v2.2M464 434h2.2m-1.1-1.1v2.2M441.5 411.6h2.2m-1.1-1.1v2.2M598.6 484.1h2.2m-1.1-1.1v2.2M618.6 500h2.2m-1.1-1.1v2.2M621.1 502.3h2.2m-1.1-1.1v2.2M551.2 457.7h2.2m-1.1-1.1v2.2M616.1 498.3h2.2m-1.1-1.1v2.2M548.7 464.7h2.2m-1.1-1.1v2.2M508.9 437.9h2.2m-1.1-1.1v2.2M618.6 498.3h2.2m-1.1-1.1v2.2M563.7 479.4h2.2m-1.1-1.1v2.2M493.9 458.2h2.2m-1.1-1.1v2.2M498.9 422h2.2m-1.1-1.1v2.2M506.4 486.6h2.2m-1.1-1.1v2.2M503.9 433h2.2m-1.1-1.1v2.2M618.6 494.9h2.2m-1.1-1.1v2.2M593.6 468.9h2.2m-1.1-1.1v2.2M444 428.8h2.2m-1.1-1.1v2.2M616.1 491.1h2.2m-1.1-1.1v2.2M568.7 488.2h2.2m-1.1-1.1v2.2M611.1 500.1h2.2m-1.1-1.1v2.2M548.7 459.8h2.2m-1.1-1.1v2.2M488.9 429.4h2.2m-1.1-1.1v2.2M541.3 490.2h2.2m-1.1-1.1v2.2M516.3 432.4h2.2m-1.1-1.1v2.2M446.5 439.4h2.2m-1.1-1.1v2.2M558.7 477.3h2.2m-1.1-1.1v2.2M616.1 493.5h2.2m-1.1-1.1v2.2M538.8 468.3h2.2m-1.1-1.1v2.2M506.4 445.6h2.2m-1.1-1.1v2.2M576.2 457.2h2.2m-1.1-1.1v2.2M531.3 455.4h2.2m-1.1-1.1v2.2M526.3 454.8h2.2m-1.1-1.1v2.2M501.4 423.6h2.2m-1.1-1.1v2.2M513.8 471.9h2.2m-1.1-1.1v2.2M583.7 490.1h2.2m-1.1-1.1v2.2M601.1 490.8h2.2m-1.1-1.1v2.2M501.4 426h2.2m-1.1-1.1v2.2M553.7 458.3h2.2m-1.1-1.1v2.2M591.1 466.6h2.2m-1.1-1.1v2.2M576.2 466.4h2.2m-1.1-1.1v2.2M588.6 477.8h2.2m-1.1-1.1v2.2M548.7 480.3h2.2m-1.1-1.1v2.2M518.8 433.6h2.2m-1.1-1.1v2.2M543.8 435.9h2.2m-1.1-1.1v2.2M561.2 494.3h2.2m-1.1-1.1v2.2M506.4 465.8h2.2m-1.1-1.1v2.2M536.3 438.4h2.2m-1.1-1.1v2.2M516.3 475.7h2.2m-1.1-1.1v2.2M483.9 455.4h2.2m-1.1-1.1v2.2M608.6 488.7h2.2m-1.1-1.1v2.2M476.4 429.2h2.2m-1.1-1.1v2.2M571.2 475.1h2.2m-1.1-1.1v2.2M521.3 435.2h2.2m-1.1-1.1v2.2M591.1 466.3h2.2m-1.1-1.1v2.2M431.6 400.3h2.2m-1.1-1.1v2.2M606.1 500.7h2.2m-1.1-1.1v2.2M538.8 460.1h2.2m-1.1-1.1v2.2M548.7 494.4h2.2m-1.1-1.1v2.2M613.6 492.1h2.2m-1.1-1.1v2.2M406.6 405.3h2.2m-1.1-1.1v2.2M561.2 494.9h2.2m-1.1-1.1v2.2M558.7 436h2.2m-1.1-1.1v2.2M598.6 489.6h2.2m-1.1-1.1v2.2M581.2 471.8h2.2m-1.1-1.1v2.2M591.1 488.8h2.2m-1.1-1.1v2.2M603.6 495.6h2.2m-1.1-1.1v2.2M591.1 498.6h2.2m-1.1-1.1v2.2M548.7 478.4h2.2m-1.1-1.1v2.2M611.1 497.2h2.2m-1.1-1.1v2.2M613.6 491.7h2.2m-1.1-1.1v2.2M516.3 446.9h2.2m-1.1-1.1v2.2M551.2 482.2h2.2m-1.1-1.1v2.2M598.6 490.7h2.2m-1.1-1.1v2.2M556.2 487.5h2.2m-1.1-1.1v2.2M556.2 453.8h2.2m-1.1-1.1v2.2M498.9 463h2.2m-1.1-1.1v2.2M481.4 421.5h2.2m-1.1-1.1v2.2M516.3 426.7h2.2m-1.1-1.1v2.2M488.9 442.6h2.2m-1.1-1.1v2.2M603.6 492h2.2m-1.1-1.1v2.2M528.8 482.2h2.2m-1.1-1.1v2.2M616.1 497h2.2m-1.1-1.1v2.2M613.6 493.3h2.2m-1.1-1.1v2.2M581.2 472.8h2.2m-1.1-1.1v2.2M613.6 493h2.2m-1.1-1.1v2.2M583.7 460.9h2.2m-1.1-1.1v2.2M536.3 442.6h2.2m-1.1-1.1v2.2M608.6 500.9h2.2m-1.1-1.1v2.2M563.7 444.8h2.2m-1.1-1.1v2.2M548.7 478h2.2m-1.1-1.1v2.2M601.1 482.6h2.2m-1.1-1.1v2.2M583.7 465.5h2.2m-1.1-1.1v2.2M603.6 482.2h2.2m-1.1-1.1v2.2M563.7 481.8h2.2m-1.1-1.1v2.2M528.8 432.8h2.2m-1.1-1.1v2.2M578.7 477.4h2.2m-1.1-1.1v2.2M606.1 486.5h2.2m-1.1-1.1v2.2M623.5 503h2.2m-1.1-1.1v2.2M546.3 432.4h2.2m-1.1-1.1v2.2M591.1 479h2.2m-1.1-1.1v2.2M541.3 471h2.2m-1.1-1.1v2.2M586.1 485.1h2.2m-1.1-1.1v2.2M603.6 484.9h2.2m-1.1-1.1v2.2M586.1 460.1h2.2m-1.1-1.1v2.2M546.3 435h2.2m-1.1-1.1v2.2M543.8 489.2h2.2m-1.1-1.1v2.2M611.1 497.4h2.2m-1.1-1.1v2.2M616.1 501.2h2.2m-1.1-1.1v2.2M581.2 466.6h2.2m-1.1-1.1v2.2M611.1 503.5h2.2m-1.1-1.1v2.2M591.1 488.1h2.2m-1.1-1.1v2.2M506.4 467.5h2.2m-1.1-1.1v2.2M553.7 442.6h2.2m-1.1-1.1v2.2M488.9 430.2h2.2m-1.1-1.1v2.2M533.8 438.3h2.2m-1.1-1.1v2.2M478.9 423.3h2.2m-1.1-1.1v2.2M521.3 488h2.2m-1.1-1.1v2.2M561.2 482.5h2.2m-1.1-1.1v2.2M576.2 487.5h2.2m-1.1-1.1v2.2M414.1 409.6h2.2m-1.1-1.1v2.2M464 459.5h2.2m-1.1-1.1v2.2M551.2 475h2.2m-1.1-1.1v2.2M561.2 439.1h2.2m-1.1-1.1v2.2M613.6 492.3h2.2m-1.1-1.1v2.2M528.8 489.4h2.2m-1.1-1.1v2.2M606.1 484.2h2.2m-1.1-1.1v2.2M558.7 472.8h2.2m-1.1-1.1v2.2M606.1 499.6h2.2m-1.1-1.1v2.2M493.9 404.9h2.2m-1.1-1.1v2.2M596.1 487.9h2.2m-1.1-1.1v2.2M581.2 456.4h2.2m-1.1-1.1v2.2M516.3 456.3h2.2m-1.1-1.1v2.2M576.2 465.4h2.2m-1.1-1.1v2.2M481.4 418.9h2.2m-1.1-1.1v2.2M613.6 493.2h2.2m-1.1-1.1v2.2M598.6 476.4h2.2m-1.1-1.1v2.2M528.8 444.6h2.2m-1.1-1.1v2.2M576.2 474.7h2.2m-1.1-1.1v2.2M556.2 434.4h2.2m-1.1-1.1v2.2M491.4 437.1h2.2m-1.1-1.1v2.2M513.8 475.6h2.2m-1.1-1.1v2.2M536.3 427.3h2.2m-1.1-1.1v2.2M546.3 468.1h2.2m-1.1-1.1v2.2M516.3 467.7h2.2m-1.1-1.1v2.2M578.7 481h2.2m-1.1-1.1v2.2M561.2 467.6h2.2m-1.1-1.1v2.2M621.1 502.9h2.2m-1.1-1.1v2.2M593.6 483.3h2.2m-1.1-1.1v2.2M471.5 407.7h2.2m-1.1-1.1v2.2M548.7 452.3h2.2m-1.1-1.1v2.2M581.2 485.5h2.2m-1.1-1.1v2.2M586.1 471.8h2.2m-1.1-1.1v2.2M603.6 494.3h2.2m-1.1-1.1v2.2M521.3 436.8h2.2m-1.1-1.1v2.2M548.7 456.3h2.2m-1.1-1.1v2.2M531.3 484.3h2.2m-1.1-1.1v2.2M588.6 474h2.2m-1.1-1.1v2.2M548.7 452.7h2.2m-1.1-1.1v2.2M611.1 492.2h2.2m-1.1-1.1v2.2M444 438.2h2.2m-1.1-1.1v2.2M611.1 488.3h2.2m-1.1-1.1v2.2M536.3 478.4h2.2m-1.1-1.1v2.2M573.7 485.5h2.2m-1.1-1.1v2.2M571.2 469.1h2.2m-1.1-1.1v2.2M603.6 498.9h2.2m-1.1-1.1v2.2M593.6 499.7h2.2m-1.1-1.1v2.2M596.1 491.1h2.2m-1.1-1.1v2.2M471.5 450.4h2.2m-1.1-1.1v2.2M606.1 489.3h2.2m-1.1-1.1v2.2M583.7 470.7h2.2m-1.1-1.1v2.2M551.2 493.7h2.2m-1.1-1.1v2.2M593.6 491.6h2.2m-1.1-1.1v2.2M551.2 496h2.2m-1.1-1.1v2.2M608.6 494.1h2.2m-1.1-1.1v2.2M493.9 419.7h2.2m-1.1-1.1v2.2M623.5 505.4h2.2m-1.1-1.1v2.2M459 429h2.2m-1.1-1.1v2.2M546.3 445.2h2.2m-1.1-1.1v2.2M526.3 420.2h2.2m-1.1-1.1v2.2M541.3 433h2.2m-1.1-1.1v2.2M439 425.7h2.2m-1.1-1.1v2.2M583.7 489.7h2.2m-1.1-1.1v2.2M601.1 496.6h2.2m-1.1-1.1v2.2M596.1 481.8h2.2m-1.1-1.1v2.2M461.5 433.9h2.2m-1.1-1.1v2.2M561.2 464.8h2.2m-1.1-1.1v2.2M588.6 480h2.2m-1.1-1.1v2.2M583.7 487h2.2m-1.1-1.1v2.2M573.7 497.8h2.2m-1.1-1.1v2.2M493.9 439.1h2.2m-1.1-1.1v2.2M531.3 429.5h2.2m-1.1-1.1v2.2M543.8 475.2h2.2m-1.1-1.1v2.2M568.7 472h2.2m-1.1-1.1v2.2M591.1 497h2.2m-1.1-1.1v2.2M429.1 416.2h2.2m-1.1-1.1v2.2M566.2 478.7h2.2m-1.1-1.1v2.2M593.6 489.5h2.2m-1.1-1.1v2.2M606.1 496.2h2.2m-1.1-1.1v2.2M596.1 485.7h2.2m-1.1-1.1v2.2M493.9 460.3h2.2m-1.1-1.1v2.2M618.6 501h2.2m-1.1-1.1v2.2M521.3 485.8h2.2m-1.1-1.1v2.2M538.8 466.2h2.2m-1.1-1.1v2.2M561.2 450.6h2.2m-1.1-1.1v2.2M461.5 438.4h2.2m-1.1-1.1v2.2M526.3 479.7h2.2m-1.1-1.1v2.2M466.5 440.7h2.2m-1.1-1.1v2.2M573.7 464h2.2m-1.1-1.1v2.2M508.9 482.6h2.2m-1.1-1.1v2.2M616.1 498.2h2.2m-1.1-1.1v2.2M618.6 498.1h2.2m-1.1-1.1v2.2M608.6 491.7h2.2m-1.1-1.1v2.2M571.2 449.2h2.2m-1.1-1.1v2.2M456.5 405.3h2.2m-1.1-1.1v2.2M513.8 487.1h2.2m-1.1-1.1v2.2M613.6 501.7h2.2m-1.1-1.1v2.2M591.1 472.3h2.2m-1.1-1.1v2.2M573.7 496.7h2.2m-1.1-1.1v2.2M613.6 490.2h2.2m-1.1-1.1v2.2M573.7 464.8h2.2m-1.1-1.1v2.2M414.1 404.8h2.2m-1.1-1.1v2.2M571.2 444.7h2.2m-1.1-1.1v2.2M563.7 483.5h2.2m-1.1-1.1v2.2M518.8 431.7h2.2m-1.1-1.1v2.2M613.6 492.4h2.2m-1.1-1.1v2.2M613.6 502.8h2.2m-1.1-1.1v2.2M596.1 479h2.2m-1.1-1.1v2.2M618.6 493.6h2.2m-1.1-1.1v2.2M528.8 475.8h2.2m-1.1-1.1v2.2M621.1 504.3h2.2m-1.1-1.1v2.2M518.8 472.4h2.2m-1.1-1.1v2.2M493.9 403.2h2.2m-1.1-1.1v2.2M613.6 494.9h2.2m-1.1-1.1v2.2M598.6 478.5h2.2m-1.1-1.1v2.2M613.6 500.4h2.2m-1.1-1.1v2.2M498.9 462.1h2.2m-1.1-1.1v2.2M556.2 483.4h2.2m-1.1-1.1v2.2M573.7 467h2.2m-1.1-1.1v2.2M451.5 401.6h2.2m-1.1-1.1v2.2M488.9 477.8h2.2m-1.1-1.1v2.2M578.7 464.9h2.2m-1.1-1.1v2.2M563.7 467.9h2.2m-1.1-1.1v2.2M558.7 482.8h2.2m-1.1-1.1v2.2M601.1 496.6h2.2m-1.1-1.1v2.2M506.4 421.8h2.2m-1.1-1.1v2.2M586.1 499.3h2.2m-1.1-1.1v2.2M496.4 465.2h2.2m-1.1-1.1v2.2M576.2 456.1h2.2m-1.1-1.1v2.2M623.5 499h2.2m-1.1-1.1v2.2M596.1 477.8h2.2m-1.1-1.1v2.2M598.6 495.8h2.2m-1.1-1.1v2.2M596.1 479.3h2.2m-1.1-1.1v2.2M531.3 460.9h2.2m-1.1-1.1v2.2M598.6 496.1h2.2m-1.1-1.1v2.2M581.2 475.2h2.2m-1.1-1.1v2.2M518.8 439.6h2.2m-1.1-1.1v2.2M493.9 423h2.2m-1.1-1.1v2.2M481.4 439.9h2.2m-1.1-1.1v2.2M488.9 403.7h2.2m-1.1-1.1v2.2M501.4 451.3h2.2m-1.1-1.1v2.2M608.6 491.7h2.2m-1.1-1.1v2.2M568.7 482.8h2.2m-1.1-1.1v2.2M621.1 504.1h2.2m-1.1-1.1v2.2M601.1 502.3h2.2m-1.1-1.1v2.2M591.1 475.7h2.2m-1.1-1.1v2.2M588.6 479.1h2.2m-1.1-1.1v2.2M568.7 451.1h2.2m-1.1-1.1v2.2M606.1 481.7h2.2m-1.1-1.1v2.2M588.6 480h2.2m-1.1-1.1v2.2M543.8 430h2.2m-1.1-1.1v2.2M596.1 488.9h2.2m-1.1-1.1v2.2M576.2 493.4h2.2m-1.1-1.1v2.2M501.4 459h2.2m-1.1-1.1v2.2M551.2 490.8h2.2m-1.1-1.1v2.2M471.5 461.8h2.2m-1.1-1.1v2.2M601.1 494h2.2m-1.1-1.1v2.2M516.3 449h2.2m-1.1-1.1v2.2M621.1 499.7h2.2m-1.1-1.1v2.2M573.7 476.6h2.2m-1.1-1.1v2.2M588.6 492.1h2.2m-1.1-1.1v2.2M588.6 477.7h2.2m-1.1-1.1v2.2M591.1 478.9h2.2m-1.1-1.1v2.2M586.1 496.7h2.2m-1.1-1.1v2.2M611.1 496.9h2.2m-1.1-1.1v2.2M556.2 494.9h2.2m-1.1-1.1v2.2M571.2 481.9h2.2m-1.1-1.1v2.2M608.6 492.2h2.2m-1.1-1.1v2.2M481.4 416h2.2m-1.1-1.1v2.2M503.9 446.3h2.2m-1.1-1.1v2.2M429.1 419.9h2.2m-1.1-1.1v2.2M548.7 461.8h2.2m-1.1-1.1v2.2M548.7 468.7h2.2m-1.1-1.1v2.2M451.5 430.3h2.2m-1.1-1.1v2.2M556.2 454.4h2.2m-1.1-1.1v2.2M491.4 405.3h2.2m-1.1-1.1v2.2M611.1 485.2h2.2m-1.1-1.1v2.2M548.7 471.9h2.2m-1.1-1.1v2.2M616.1 492.5h2.2m-1.1-1.1v2.2M611.1 491.7h2.2m-1.1-1.1v2.2M618.6 499.5h2.2m-1.1-1.1v2.2M573.7 497.9h2.2m-1.1-1.1v2.2M543.8 486.7h2.2m-1.1-1.1v2.2M573.7 461.1h2.2m-1.1-1.1v2.2M449 396.3h2.2m-1.1-1.1v2.2M586.1 471.9h2.2m-1.1-1.1v2.2M421.6 395.3h2.2m-1.1-1.1v2.2M573.7 478.9h2.2m-1.1-1.1v2.2M513.8 461h2.2m-1.1-1.1v2.2M568.7 474h2.2m-1.1-1.1v2.2M473.9 432.5h2.2m-1.1-1.1v2.2M616.1 495.4h2.2m-1.1-1.1v2.2M546.3 458.1h2.2m-1.1-1.1v2.2M551.2 438.4h2.2m-1.1-1.1v2.2M576.2 455.3h2.2m-1.1-1.1v2.2M551.2 465.9h2.2m-1.1-1.1v2.2M464 454.7h2.2m-1.1-1.1v2.2M616.1 502.7h2.2m-1.1-1.1v2.2M593.6 494.3h2.2m-1.1-1.1v2.2M578.7 490.2h2.2m-1.1-1.1v2.2M581.2 482.7h2.2m-1.1-1.1v2.2M483.9 474h2.2m-1.1-1.1v2.2M568.7 490.3h2.2m-1.1-1.1v2.2M491.4 433.1h2.2m-1.1-1.1v2.2M588.6 494.8h2.2m-1.1-1.1v2.2M536.3 446.4h2.2m-1.1-1.1v2.2M596.1 488h2.2m-1.1-1.1v2.2M563.7 446.4h2.2m-1.1-1.1v2.2M498.9 452h2.2m-1.1-1.1v2.2M608.6 499.9h2.2m-1.1-1.1v2.2M623.5 501.9h2.2m-1.1-1.1v2.2M503.9 439.5h2.2m-1.1-1.1v2.2M498.9 411.4h2.2m-1.1-1.1v2.2M593.6 490.5h2.2m-1.1-1.1v2.2M466.5 435.3h2.2m-1.1-1.1v2.2M483.9 453.7h2.2m-1.1-1.1v2.2M581.2 492h2.2m-1.1-1.1v2.2M546.3 441h2.2m-1.1-1.1v2.2M576.2 474.3h2.2m-1.1-1.1v2.2M566.2 466.1h2.2m-1.1-1.1v2.2M573.7 457.4h2.2m-1.1-1.1v2.2M531.3 462.8h2.2m-1.1-1.1v2.2M506.4 475.8h2.2m-1.1-1.1v2.2M543.8 472.3h2.2m-1.1-1.1v2.2M573.7 460h2.2m-1.1-1.1v2.2M566.2 447.5h2.2m-1.1-1.1v2.2M613.6 493.2h2.2m-1.1-1.1v2.2M621.1 499.8h2.2m-1.1-1.1v2.2M611.1 488.5h2.2m-1.1-1.1v2.2M588.6 463.1h2.2m-1.1-1.1v2.2M506.4 438.1h2.2m-1.1-1.1v2.2M518.8 438.6h2.2m-1.1-1.1v2.2M464 411.4h2.2m-1.1-1.1v2.2M538.8 464.9h2.2m-1.1-1.1v2.2M561.2 451.7h2.2m-1.1-1.1v2.2M486.4 408.3h2.2m-1.1-1.1v2.2M486.4 434.2h2.2m-1.1-1.1v2.2M603.6 480.4h2.2m-1.1-1.1v2.2M518.8 414.1h2.2m-1.1-1.1v2.2M611.1 490.8h2.2m-1.1-1.1v2.2M511.3 445.6h2.2m-1.1-1.1v2.2M536.3 443.1h2.2m-1.1-1.1v2.2M528.8 446.3h2.2m-1.1-1.1v2.2M523.8 444.7h2.2m-1.1-1.1v2.2M578.7 481.3h2.2m-1.1-1.1v2.2M618.6 498.1h2.2m-1.1-1.1v2.2M621.1 495.2h2.2m-1.1-1.1v2.2M608.6 495.1h2.2m-1.1-1.1v2.2M621.1 501h2.2m-1.1-1.1v2.2M618.6 504.8h2.2m-1.1-1.1v2.2M596.1 487.1h2.2m-1.1-1.1v2.2M486.4 455.1h2.2m-1.1-1.1v2.2M586.1 498.3h2.2m-1.1-1.1v2.2M563.7 470.3h2.2m-1.1-1.1v2.2M546.3 482.5h2.2m-1.1-1.1v2.2M536.3 478.9h2.2m-1.1-1.1v2.2M496.4 464.8h2.2m-1.1-1.1v2.2M511.3 447.9h2.2m-1.1-1.1v2.2M551.2 459.4h2.2m-1.1-1.1v2.2M501.4 441.1h2.2m-1.1-1.1v2.2M583.7 483.4h2.2m-1.1-1.1v2.2M496.4 450.7h2.2m-1.1-1.1v2.2M541.3 460.8h2.2m-1.1-1.1v2.2M606.1 495.5h2.2m-1.1-1.1v2.2M511.3 479.9h2.2m-1.1-1.1v2.2M461.5 394.3h2.2m-1.1-1.1v2.2M498.9 429.9h2.2m-1.1-1.1v2.2M581.2 479.7h2.2m-1.1-1.1v2.2M556.2 484.6h2.2m-1.1-1.1v2.2M503.9 440.3h2.2m-1.1-1.1v2.2M521.3 421.8h2.2m-1.1-1.1v2.2M513.8 471.3h2.2m-1.1-1.1v2.2M513.8 460.6h2.2m-1.1-1.1v2.2M621.1 498.9h2.2m-1.1-1.1v2.2M528.8 465.3h2.2m-1.1-1.1v2.2M553.7 482.3h2.2m-1.1-1.1v2.2M613.6 490.8h2.2m-1.1-1.1v2.2M598.6 494.2h2.2m-1.1-1.1v2.2M591.1 489.7h2.2m-1.1-1.1v2.2M571.2 494.6h2.2m-1.1-1.1v2.2M516.3 429.2h2.2m-1.1-1.1v2.2M613.6 493.4h2.2m-1.1-1.1v2.2M486.4 409.6h2.2m-1.1-1.1v2.2M576.2 475.4h2.2m-1.1-1.1v2.2M506.4 427h2.2m-1.1-1.1v2.2M608.6 494.6h2.2m-1.1-1.1v2.2M593.6 487.8h2.2m-1.1-1.1v2.2M566.2 453.7h2.2m-1.1-1.1v2.2M561.2 492.6h2.2m-1.1-1.1v2.2M503.9 442.9h2.2m-1.1-1.1v2.2M558.7 478.2h2.2m-1.1-1.1v2.2M553.7 483.8h2.2m-1.1-1.1v2.2M518.8 426.3h2.2m-1.1-1.1v2.2M581.2 456.8h2.2m-1.1-1.1v2.2M461.5 445h2.2m-1.1-1.1v2.2M606.1 487.3h2.2m-1.1-1.1v2.2M591.1 500.5h2.2m-1.1-1.1v2.2M563.7 464.5h2.2m-1.1-1.1v2.2M478.9 450.2h2.2m-1.1-1.1v2.2M611.1 502h2.2m-1.1-1.1v2.2M491.4 406h2.2m-1.1-1.1v2.2M583.7 483.6h2.2m-1.1-1.1v2.2M528.8 441.8h2.2m-1.1-1.1v2.2M526.3 429.1h2.2m-1.1-1.1v2.2M531.3 445.2h2.2m-1.1-1.1v2.2M578.7 466.7h2.2m-1.1-1.1v2.2M596.1 498.7h2.2m-1.1-1.1v2.2M436.5 425.1h2.2m-1.1-1.1v2.2M411.6 421h2.2m-1.1-1.1v2.2M518.8 450.3h2.2m-1.1-1.1v2.2M568.7 484.4h2.2m-1.1-1.1v2.2M546.3 432.5h2.2m-1.1-1.1v2.2M586.1 460.6h2.2m-1.1-1.1v2.2M511.3 420.5h2.2m-1.1-1.1v2.2M536.3 443.4h2.2m-1.1-1.1v2.2M513.8 428.8h2.2m-1.1-1.1v2.2M513.8 453.5h2.2m-1.1-1.1v2.2M518.8 469.5h2.2m-1.1-1.1v2.2M543.8 486.4h2.2m-1.1-1.1v2.2M536.3 430.2h2.2m-1.1-1.1v2.2M598.6 488h2.2m-1.1-1.1v2.2M488.9 415.7h2.2m-1.1-1.1v2.2M553.7 470.4h2.2m-1.1-1.1v2.2M618.6 502.4h2.2m-1.1-1.1v2.2M611.1 494.7h2.2m-1.1-1.1v2.2M513.8 446h2.2m-1.1-1.1v2.2M531.3 435.1h2.2m-1.1-1.1v2.2M491.4 425.6h2.2m-1.1-1.1v2.2M548.7 487.5h2.2m-1.1-1.1v2.2M563.7 468.8h2.2m-1.1-1.1v2.2M561.2 440.6h2.2m-1.1-1.1v2.2M611.1 494.1h2.2m-1.1-1.1v2.2M596.1 494.4h2.2m-1.1-1.1v2.2M558.7 485h2.2m-1.1-1.1v2.2M486.4 451.9h2.2m-1.1-1.1v2.2M578.7 478.8h2.2m-1.1-1.1v2.2M558.7 454.5h2.2m-1.1-1.1v2.2M546.3 431.7h2.2m-1.1-1.1v2.2M568.7 481.1h2.2m-1.1-1.1v2.2M503.9 470.1h2.2m-1.1-1.1v2.2M596.1 491.7h2.2m-1.1-1.1v2.2M576.2 484.4h2.2m-1.1-1.1v2.2M536.3 451.7h2.2m-1.1-1.1v2.2M488.9 448.9h2.2m-1.1-1.1v2.2M588.6 472.6h2.2m-1.1-1.1v2.2M501.4 406.1h2.2m-1.1-1.1v2.2M586.1 469.9h2.2m-1.1-1.1v2.2M516.3 471.8h2.2m-1.1-1.1v2.2M621.1 496h2.2m-1.1-1.1v2.2M541.3 445.6h2.2m-1.1-1.1v2.2M611.1 487h2.2m-1.1-1.1v2.2M606.1 490.3h2.2m-1.1-1.1v2.2M533.8 459.2h2.2m-1.1-1.1v2.2M606.1 497.7h2.2m-1.1-1.1v2.2M501.4 471.6h2.2m-1.1-1.1v2.2M601.1 498.2h2.2m-1.1-1.1v2.2M486.4 411.7h2.2m-1.1-1.1v2.2M501.4 479.3h2.2m-1.1-1.1v2.2M473.9 420.5h2.2m-1.1-1.1v2.2M481.4 448.7h2.2m-1.1-1.1v2.2M618.6 501h2.2m-1.1-1.1v2.2M486.4 425.9h2.2m-1.1-1.1v2.2M596.1 489.4h2.2m-1.1-1.1v2.2M591.1 473.5h2.2m-1.1-1.1v2.2M583.7 457.1h2.2m-1.1-1.1v2.2M583.7 487.4h2.2m-1.1-1.1v2.2M563.7 485.7h2.2m-1.1-1.1v2.2M556.2 470h2.2m-1.1-1.1v2.2M563.7 450.7h2.2m-1.1-1.1v2.2M516.3 443.2h2.2m-1.1-1.1v2.2M469 444.6h2.2m-1.1-1.1v2.2M606.1 487.4h2.2m-1.1-1.1v2.2M456.5 435.1h2.2m-1.1-1.1v2.2M516.3 453h2.2m-1.1-1.1v2.2M611.1 488.9h2.2m-1.1-1.1v2.2M583.7 479.6h2.2m-1.1-1.1v2.2M536.3 474.3h2.2m-1.1-1.1v2.2M581.2 482.8h2.2m-1.1-1.1v2.2M563.7 447.4h2.2m-1.1-1.1v2.2M596.1 489.4h2.2m-1.1-1.1v2.2M538.8 463.4h2.2m-1.1-1.1v2.2M601.1 484.7h2.2m-1.1-1.1v2.2M596.1 491h2.2m-1.1-1.1v2.2M573.7 446.9h2.2m-1.1-1.1v2.2M603.6 496.1h2.2m-1.1-1.1v2.2M573.7 475.8h2.2m-1.1-1.1v2.2M598.6 491.5h2.2m-1.1-1.1v2.2M591.1 487.1h2.2m-1.1-1.1v2.2M558.7 466.6h2.2m-1.1-1.1v2.2M596.1 472h2.2m-1.1-1.1v2.2M596.1 474.5h2.2m-1.1-1.1v2.2M593.6 479.7h2.2m-1.1-1.1v2.2M568.7 458.8h2.2m-1.1-1.1v2.2M469 398.7h2.2m-1.1-1.1v2.2M498.9 456h2.2m-1.1-1.1v2.2M543.8 480.2h2.2m-1.1-1.1v2.2M523.8 457.8h2.2m-1.1-1.1v2.2M533.8 450h2.2m-1.1-1.1v2.2M501.4 451.7h2.2m-1.1-1.1v2.2M561.2 448.3h2.2m-1.1-1.1v2.2M606.1 496.9h2.2m-1.1-1.1v2.2M424.1 402.5h2.2m-1.1-1.1v2.2M566.2 474.4h2.2m-1.1-1.1v2.2M601.1 489.8h2.2m-1.1-1.1v2.2M588.6 490.7h2.2m-1.1-1.1v2.2M591.1 490.9h2.2m-1.1-1.1v2.2M588.6 485.2h2.2m-1.1-1.1v2.2M513.8 473.8h2.2m-1.1-1.1v2.2M608.6 495.2h2.2m-1.1-1.1v2.2M581.2 465.8h2.2m-1.1-1.1v2.2M543.8 454.9h2.2m-1.1-1.1v2.2M459 415h2.2m-1.1-1.1v2.2M506.4 417.9h2.2m-1.1-1.1v2.2M586.1 491h2.2m-1.1-1.1v2.2M588.6 471.2h2.2m-1.1-1.1v2.2M546.3 464.5h2.2m-1.1-1.1v2.2M568.7 468.8h2.2m-1.1-1.1v2.2M568.7 482.7h2.2m-1.1-1.1v2.2M496.4 418.5h2.2m-1.1-1.1v2.2M566.2 464.6h2.2m-1.1-1.1v2.2M611.1 490.9h2.2m-1.1-1.1v2.2M586.1 475.3h2.2m-1.1-1.1v2.2M573.7 498.5h2.2m-1.1-1.1v2.2M608.6 489.8h2.2m-1.1-1.1v2.2M623.5 500.4h2.2m-1.1-1.1v2.2M548.7 469.4h2.2m-1.1-1.1v2.2M561.2 479.4h2.2m-1.1-1.1v2.2M606.1 484.2h2.2m-1.1-1.1v2.2M576.2 482.2h2.2m-1.1-1.1v2.2M426.6 407.3h2.2m-1.1-1.1v2.2M496.4 457h2.2m-1.1-1.1v2.2M588.6 481.5h2.2m-1.1-1.1v2.2M436.5 422.5h2.2m-1.1-1.1v2.2M483.9 427.5h2.2m-1.1-1.1v2.2M488.9 429.8h2.2m-1.1-1.1v2.2M536.3 436.3h2.2m-1.1-1.1v2.2M593.6 489.3h2.2m-1.1-1.1v2.2M518.8 434.9h2.2m-1.1-1.1v2.2M596.1 481.3h2.2m-1.1-1.1v2.2M581.2 464.3h2.2m-1.1-1.1v2.2M513.8 470.8h2.2m-1.1-1.1v2.2M613.6 497.8h2.2m-1.1-1.1v2.2M528.8 432h2.2m-1.1-1.1v2.2M556.2 483.2h2.2m-1.1-1.1v2.2M483.9 403.5h2.2m-1.1-1.1v2.2M496.4 473.7h2.2m-1.1-1.1v2.2M591.1 485.8h2.2m-1.1-1.1v2.2M581.2 458.5h2.2m-1.1-1.1v2.2M566.2 480h2.2m-1.1-1.1v2.2M456.5 399.1h2.2m-1.1-1.1v2.2M593.6 473.8h2.2m-1.1-1.1v2.2M613.6 500h2.2m-1.1-1.1v2.2M608.6 500.4h2.2m-1.1-1.1v2.2M456.5 416.5h2.2m-1.1-1.1v2.2M481.4 422.6h2.2m-1.1-1.1v2.2M593.6 472.9h2.2m-1.1-1.1v2.2M464 405.9h2.2m-1.1-1.1v2.2M616.1 495.7h2.2m-1.1-1.1v2.2M538.8 451.3h2.2m-1.1-1.1v2.2M621.1 498.1h2.2m-1.1-1.1v2.2M541.3 437.1h2.2m-1.1-1.1v2.2M483.9 454.1h2.2m-1.1-1.1v2.2M541.3 427.8h2.2m-1.1-1.1v2.2M493.9 437h2.2m-1.1-1.1v2.2M536.3 477.7h2.2m-1.1-1.1v2.2M548.7 455h2.2m-1.1-1.1v2.2M603.6 497.1h2.2m-1.1-1.1v2.2M496.4 429.8h2.2m-1.1-1.1v2.2M558.7 473.3h2.2m-1.1-1.1v2.2M613.6 496.8h2.2m-1.1-1.1v2.2M566.2 460.2h2.2m-1.1-1.1v2.2M553.7 483.5h2.2m-1.1-1.1v2.2M508.9 425.9h2.2m-1.1-1.1v2.2M581.2 479.1h2.2m-1.1-1.1v2.2M596.1 492.4h2.2m-1.1-1.1v2.2M508.9 447.1h2.2m-1.1-1.1v2.2M551.2 459.4h2.2m-1.1-1.1v2.2M556.2 484.7h2.2m-1.1-1.1v2.2M618.6 501.9h2.2m-1.1-1.1v2.2M608.6 498.4h2.2m-1.1-1.1v2.2M576.2 492.1h2.2m-1.1-1.1v2.2M606.1 492.2h2.2m-1.1-1.1v2.2M598.6 491.1h2.2m-1.1-1.1v2.2M538.8 452.8h2.2m-1.1-1.1v2.2M561.2 473.4h2.2m-1.1-1.1v2.2M576.2 474.1h2.2m-1.1-1.1v2.2M466.5 429.9h2.2m-1.1-1.1v2.2M598.6 479.9h2.2m-1.1-1.1v2.2M464 419.4h2.2m-1.1-1.1v2.2M536.3 473.1h2.2m-1.1-1.1v2.2M581.2 476.1h2.2m-1.1-1.1v2.2M508.9 456.2h2.2m-1.1-1.1v2.2M516.3 424.9h2.2m-1.1-1.1v2.2M551.2 436.1h2.2m-1.1-1.1v2.2M501.4 426h2.2m-1.1-1.1v2.2M548.7 448h2.2m-1.1-1.1v2.2M518.8 482.1h2.2m-1.1-1.1v2.2M531.3 420.4h2.2m-1.1-1.1v2.2M526.3 430.4h2.2m-1.1-1.1v2.2M601.1 491.7h2.2m-1.1-1.1v2.2M566.2 488.4h2.2m-1.1-1.1v2.2M611.1 491.2h2.2m-1.1-1.1v2.2M573.7 495.8h2.2m-1.1-1.1v2.2M491.4 457.2h2.2m-1.1-1.1v2.2M616.1 493.4h2.2m-1.1-1.1v2.2M618.6 499.7h2.2m-1.1-1.1v2.2M543.8 452.9h2.2m-1.1-1.1v2.2M501.4 445.5h2.2m-1.1-1.1v2.2M536.3 493.7h2.2m-1.1-1.1v2.2M483.9 467.5h2.2m-1.1-1.1v2.2M561.2 442.3h2.2m-1.1-1.1v2.2M586.1 462.7h2.2m-1.1-1.1v2.2M576.2 478.1h2.2m-1.1-1.1v2.2M518.8 436.1h2.2m-1.1-1.1v2.2M611.1 490.6h2.2m-1.1-1.1v2.2M616.1 498.5h2.2m-1.1-1.1v2.2M591.1 468.5h2.2m-1.1-1.1v2.2M538.8 487.7h2.2m-1.1-1.1v2.2M444 404.6h2.2m-1.1-1.1v2.2M546.3 471.9h2.2m-1.1-1.1v2.2M543.8 445.5h2.2m-1.1-1.1v2.2M493.9 467.2h2.2m-1.1-1.1v2.2M588.6 475.7h2.2m-1.1-1.1v2.2M598.6 482h2.2m-1.1-1.1v2.2M536.3 462.7h2.2m-1.1-1.1v2.2M421.6 424.2h2.2m-1.1-1.1v2.2M486.4 449.7h2.2m-1.1-1.1v2.2M611.1 487.4h2.2m-1.1-1.1v2.2M561.2 438.3h2.2m-1.1-1.1v2.2M596.1 472.8h2.2m-1.1-1.1v2.2M508.9 419.4h2.2m-1.1-1.1v2.2M449 429.1h2.2m-1.1-1.1v2.2M613.6 502.3h2.2m-1.1-1.1v2.2M613.6 492.7h2.2m-1.1-1.1v2.2M553.7 481.5h2.2m-1.1-1.1v2.2M611.1 487.7h2.2m-1.1-1.1v2.2M496.4 452.5h2.2m-1.1-1.1v2.2M571.2 457.7h2.2m-1.1-1.1v2.2M446.5 419.5h2.2m-1.1-1.1v2.2M429.1 419.8h2.2m-1.1-1.1v2.2M523.8 436.4h2.2m-1.1-1.1v2.2M556.2 441h2.2m-1.1-1.1v2.2M476.4 442.3h2.2m-1.1-1.1v2.2M596.1 496.5h2.2m-1.1-1.1v2.2M488.9 430.4h2.2m-1.1-1.1v2.2M566.2 495.6h2.2m-1.1-1.1v2.2M464 398.3h2.2m-1.1-1.1v2.2M596.1 485.1h2.2m-1.1-1.1v2.2M541.3 425.8h2.2m-1.1-1.1v2.2M528.8 463.8h2.2m-1.1-1.1v2.2M623.5 502h2.2m-1.1-1.1v2.2M606.1 489.1h2.2m-1.1-1.1v2.2M571.2 452.5h2.2m-1.1-1.1v2.2M553.7 457.4h2.2m-1.1-1.1v2.2M581.2 482.3h2.2m-1.1-1.1v2.2M478.9 455.8h2.2m-1.1-1.1v2.2M473.9 445.1h2.2m-1.1-1.1v2.2M526.3 462.1h2.2m-1.1-1.1v2.2M573.7 482.5h2.2m-1.1-1.1v2.2M591.1 480.1h2.2m-1.1-1.1v2.2M546.3 444.5h2.2m-1.1-1.1v2.2M483.9 406.7h2.2m-1.1-1.1v2.2M568.7 461.3h2.2m-1.1-1.1v2.2M591.1 492.2h2.2m-1.1-1.1v2.2M561.2 473.2h2.2m-1.1-1.1v2.2M603.6 495.2h2.2m-1.1-1.1v2.2M608.6 492.8h2.2m-1.1-1.1v2.2M456.5 407.7h2.2m-1.1-1.1v2.2M606.1 492.5h2.2m-1.1-1.1v2.2M513.8 449.7h2.2m-1.1-1.1v2.2M623.5 501.9h2.2m-1.1-1.1v2.2M553.7 456.7h2.2m-1.1-1.1v2.2M538.8 454.2h2.2m-1.1-1.1v2.2M434.1 422.9h2.2m-1.1-1.1v2.2M586.1 500h2.2m-1.1-1.1v2.2M583.7 475.3h2.2m-1.1-1.1v2.2M501.4 417h2.2m-1.1-1.1v2.2M526.3 465h2.2m-1.1-1.1v2.2M506.4 429.3h2.2m-1.1-1.1v2.2M616.1 491.5h2.2m-1.1-1.1v2.2M521.3 442.2h2.2m-1.1-1.1v2.2M541.3 462.9h2.2m-1.1-1.1v2.2M521.3 466.7h2.2m-1.1-1.1v2.2M471.5 412.6h2.2m-1.1-1.1v2.2M543.8 430.8h2.2m-1.1-1.1v2.2M561.2 448.4h2.2m-1.1-1.1v2.2M478.9 463h2.2m-1.1-1.1v2.2M501.4 472.8h2.2m-1.1-1.1v2.2M551.2 431h2.2m-1.1-1.1v2.2M581.2 470.4h2.2m-1.1-1.1v2.2M553.7 442.7h2.2m-1.1-1.1v2.2M558.7 475.2h2.2m-1.1-1.1v2.2M481.4 412h2.2m-1.1-1.1v2.2M561.2 474.7h2.2m-1.1-1.1v2.2M576.2 450.1h2.2m-1.1-1.1v2.2M563.7 483.6h2.2m-1.1-1.1v2.2M621.1 497.6h2.2m-1.1-1.1v2.2M566.2 450.8h2.2m-1.1-1.1v2.2M623.5 504.8h2.2m-1.1-1.1v2.2M536.3 423.2h2.2m-1.1-1.1v2.2M571.2 489.9h2.2m-1.1-1.1v2.2M576.2 451.4h2.2m-1.1-1.1v2.2M608.6 501.6h2.2m-1.1-1.1v2.2M576.2 454.7h2.2m-1.1-1.1v2.2M583.7 490.7h2.2m-1.1-1.1v2.2M558.7 439.9h2.2m-1.1-1.1v2.2M581.2 479.6h2.2m-1.1-1.1v2.2M563.7 487.2h2.2m-1.1-1.1v2.2M598.6 475.3h2.2m-1.1-1.1v2.2M543.8 443.9h2.2m-1.1-1.1v2.2M546.3 475.4h2.2m-1.1-1.1v2.2M456.5 440.8h2.2m-1.1-1.1v2.2M616.1 494.9h2.2m-1.1-1.1v2.2M601.1 481.7h2.2m-1.1-1.1v2.2M583.7 478h2.2m-1.1-1.1v2.2M568.7 496.5h2.2m-1.1-1.1v2.2M563.7 447.4h2.2m-1.1-1.1v2.2M488.9 435.5h2.2m-1.1-1.1v2.2M541.3 425.9h2.2m-1.1-1.1v2.2M558.7 473.7h2.2m-1.1-1.1v2.2M601.1 490.1h2.2m-1.1-1.1v2.2M538.8 443.8h2.2m-1.1-1.1v2.2M613.6 495.2h2.2m-1.1-1.1v2.2M616.1 497.3h2.2m-1.1-1.1v2.2M536.3 484.6h2.2m-1.1-1.1v2.2M576.2 447.1h2.2m-1.1-1.1v2.2M583.7 480.8h2.2m-1.1-1.1v2.2M541.3 463.1h2.2m-1.1-1.1v2.2M481.4 426.5h2.2m-1.1-1.1v2.2M553.7 471.4h2.2m-1.1-1.1v2.2M621.1 502.4h2.2m-1.1-1.1v2.2M561.2 439.8h2.2m-1.1-1.1v2.2M543.8 495.1h2.2m-1.1-1.1v2.2M596.1 490.6h2.2m-1.1-1.1v2.2M601.1 499.9h2.2m-1.1-1.1v2.2M581.2 462.1h2.2m-1.1-1.1v2.2M593.6 481.7h2.2m-1.1-1.1v2.2M568.7 477.7h2.2m-1.1-1.1v2.2M608.6 503.1h2.2m-1.1-1.1v2.2M603.6 499.4h2.2m-1.1-1.1v2.2M491.4 478.1h2.2m-1.1-1.1v2.2M611.1 486.1h2.2m-1.1-1.1v2.2M593.6 494.7h2.2m-1.1-1.1v2.2M469 443.7h2.2m-1.1-1.1v2.2M464 432.3h2.2m-1.1-1.1v2.2M591.1 481h2.2m-1.1-1.1v2.2M618.6 500.5h2.2m-1.1-1.1v2.2M456.5 416.9h2.2m-1.1-1.1v2.2M611.1 501h2.2m-1.1-1.1v2.2M531.3 448.8h2.2m-1.1-1.1v2.2M446.5 397.1h2.2m-1.1-1.1v2.2M601.1 498.4h2.2m-1.1-1.1v2.2M623.5 497.9h2.2m-1.1-1.1v2.2M496.4 461.6h2.2m-1.1-1.1v2.2M601.1 485.9h2.2m-1.1-1.1v2.2M553.7 452.6h2.2m-1.1-1.1v2.2M521.3 481.4h2.2m-1.1-1.1v2.2M543.8 456h2.2m-1.1-1.1v2.2M576.2 471.3h2.2m-1.1-1.1v2.2M451.5 401.8h2.2m-1.1-1.1v2.2M581.2 491h2.2m-1.1-1.1v2.2M603.6 490.4h2.2m-1.1-1.1v2.2M558.7 457.2h2.2m-1.1-1.1v2.2M573.7 485.9h2.2m-1.1-1.1v2.2M478.9 407.8h2.2m-1.1-1.1v2.2M616.1 492.4h2.2m-1.1-1.1v2.2M498.9 461.3h2.2m-1.1-1.1v2.2M503.9 442.2h2.2m-1.1-1.1v2.2M561.2 451.7h2.2m-1.1-1.1v2.2M508.9 421.3h2.2m-1.1-1.1v2.2M533.8 460.1h2.2m-1.1-1.1v2.2M608.6 496.4h2.2m-1.1-1.1v2.2M454 398.3h2.2m-1.1-1.1v2.2M586.1 462.6h2.2m-1.1-1.1v2.2M618.6 498.2h2.2m-1.1-1.1v2.2M573.7 454.6h2.2m-1.1-1.1v2.2M553.7 476.5h2.2m-1.1-1.1v2.2M566.2 489.7h2.2m-1.1-1.1v2.2M521.3 444h2.2m-1.1-1.1v2.2M613.6 498.8h2.2m-1.1-1.1v2.2M601.1 484.4h2.2m-1.1-1.1v2.2M446.5 424.5h2.2m-1.1-1.1v2.2M606.1 483.1h2.2m-1.1-1.1v2.2M573.7 455.3h2.2m-1.1-1.1v2.2M483.9 407.9h2.2m-1.1-1.1v2.2M573.7 467.3h2.2m-1.1-1.1v2.2M528.8 418.4h2.2m-1.1-1.1v2.2M586.1 464.5h2.2m-1.1-1.1v2.2M601.1 491.5h2.2m-1.1-1.1v2.2M578.7 460.1h2.2m-1.1-1.1v2.2M521.3 487.9h2.2m-1.1-1.1v2.2M506.4 430.9h2.2m-1.1-1.1v2.2M483.9 431.8h2.2m-1.1-1.1v2.2M603.6 492.6h2.2m-1.1-1.1v2.2M483.9 452.8h2.2m-1.1-1.1v2.2M546.3 465.8h2.2m-1.1-1.1v2.2M581.2 455h2.2m-1.1-1.1v2.2M506.4 441.9h2.2m-1.1-1.1v2.2M616.1 491.6h2.2m-1.1-1.1v2.2M516.3 441.6h2.2m-1.1-1.1v2.2M618.6 502.4h2.2m-1.1-1.1v2.2M558.7 481.9h2.2m-1.1-1.1v2.2M618.6 503h2.2m-1.1-1.1v2.2M561.2 481.4h2.2m-1.1-1.1v2.2M596.1 489.9h2.2m-1.1-1.1v2.2M603.6 492.5h2.2m-1.1-1.1v2.2M531.3 440.5h2.2m-1.1-1.1v2.2M546.3 439.9h2.2m-1.1-1.1v2.2M621.1 503.9h2.2m-1.1-1.1v2.2M511.3 477.5h2.2m-1.1-1.1v2.2M611.1 493.8h2.2m-1.1-1.1v2.2M553.7 459.1h2.2m-1.1-1.1v2.2M621.1 494.9h2.2m-1.1-1.1v2.2M563.7 458.4h2.2m-1.1-1.1v2.2M606.1 495.9h2.2m-1.1-1.1v2.2M523.8 430.3h2.2m-1.1-1.1v2.2M556.2 469.1h2.2m-1.1-1.1v2.2M593.6 477.3h2.2m-1.1-1.1v2.2M566.2 444.8h2.2m-1.1-1.1v2.2M561.2 470h2.2m-1.1-1.1v2.2M616.1 495.1h2.2m-1.1-1.1v2.2M571.2 489.7h2.2m-1.1-1.1v2.2M566.2 474.4h2.2m-1.1-1.1v2.2M473.9 463.8h2.2m-1.1-1.1v2.2M598.6 487.2h2.2m-1.1-1.1v2.2M426.6 407.6h2.2m-1.1-1.1v2.2M461.5 454.4h2.2m-1.1-1.1v2.2M611.1 497.5h2.2m-1.1-1.1v2.2M618.6 505.2h2.2m-1.1-1.1v2.2M573.7 453.5h2.2m-1.1-1.1v2.2M531.3 439.2h2.2m-1.1-1.1v2.2M571.2 491.4h2.2m-1.1-1.1v2.2M491.4 446h2.2m-1.1-1.1v2.2M441.5 424.6h2.2m-1.1-1.1v2.2M493.9 429h2.2m-1.1-1.1v2.2M613.6 494.2h2.2m-1.1-1.1v2.2M573.7 458.2h2.2m-1.1-1.1v2.2M586.1 488.7h2.2m-1.1-1.1v2.2M601.1 490h2.2m-1.1-1.1v2.2M573.7 469.3h2.2m-1.1-1.1v2.2M601.1 499.5h2.2m-1.1-1.1v2.2M449 397.4h2.2m-1.1-1.1v2.2M518.8 416.5h2.2m-1.1-1.1v2.2M533.8 423.5h2.2m-1.1-1.1v2.2M486.4 465.3h2.2m-1.1-1.1v2.2M541.3 433.4h2.2m-1.1-1.1v2.2M523.8 434.9h2.2m-1.1-1.1v2.2M593.6 496.2h2.2m-1.1-1.1v2.2M446.5 395.7h2.2m-1.1-1.1v2.2M598.6 499.3h2.2m-1.1-1.1v2.2M603.6 495.1h2.2m-1.1-1.1v2.2M583.7 470.7h2.2m-1.1-1.1v2.2M596.1 477.9h2.2m-1.1-1.1v2.2M568.7 483.7h2.2m-1.1-1.1v2.2M598.6 478.6h2.2m-1.1-1.1v2.2M488.9 424h2.2m-1.1-1.1v2.2M588.6 478.2h2.2m-1.1-1.1v2.2M561.2 474.9h2.2m-1.1-1.1v2.2M536.3 482.9h2.2m-1.1-1.1v2.2M548.7 474.4h2.2m-1.1-1.1v2.2M578.7 484.1h2.2m-1.1-1.1v2.2M501.4 455h2.2m-1.1-1.1v2.2M603.6 497.9h2.2m-1.1-1.1v2.2M583.7 462.2h2.2m-1.1-1.1v2.2M576.2 472.6h2.2m-1.1-1.1v2.2M573.7 471.4h2.2m-1.1-1.1v2.2M478.9 454h2.2m-1.1-1.1v2.2M598.6 493.2h2.2m-1.1-1.1v2.2M454 416h2.2m-1.1-1.1v2.2M603.6 489.4h2.2m-1.1-1.1v2.2M563.7 484.9h2.2m-1.1-1.1v2.2M558.7 440.7h2.2m-1.1-1.1v2.2M606.1 497.4h2.2m-1.1-1.1v2.2M576.2 477.3h2.2m-1.1-1.1v2.2M573.7 453.2h2.2m-1.1-1.1v2.2M488.9 427.2h2.2m-1.1-1.1v2.2M483.9 455.9h2.2m-1.1-1.1v2.2M436.5 427.8h2.2m-1.1-1.1v2.2M566.2 462h2.2m-1.1-1.1v2.2M546.3 490.2h2.2m-1.1-1.1v2.2M621.1 499h2.2m-1.1-1.1v2.2M543.8 427.4h2.2m-1.1-1.1v2.2M541.3 457.1h2.2m-1.1-1.1v2.2M611.1 496h2.2m-1.1-1.1v2.2M598.6 486.9h2.2m-1.1-1.1v2.2M528.8 477.7h2.2m-1.1-1.1v2.2M588.6 483.2h2.2m-1.1-1.1v2.2M551.2 460h2.2m-1.1-1.1v2.2M588.6 471.6h2.2m-1.1-1.1v2.2M603.6 491.6h2.2m-1.1-1.1v2.2M516.3 459.9h2.2m-1.1-1.1v2.2M456.5 444.6h2.2m-1.1-1.1v2.2M571.2 488.7h2.2m-1.1-1.1v2.2M511.3 472.3h2.2m-1.1-1.1v2.2M461.5 403.4h2.2m-1.1-1.1v2.2M603.6 494.7h2.2m-1.1-1.1v2.2M429.1 436.4h2.2m-1.1-1.1v2.2M598.6 483h2.2m-1.1-1.1v2.2M621.1 499.5h2.2m-1.1-1.1v2.2M578.7 481.6h2.2m-1.1-1.1v2.2M598.6 496.2h2.2m-1.1-1.1v2.2M598.6 494.3h2.2m-1.1-1.1v2.2M603.6 491h2.2m-1.1-1.1v2.2M526.3 435.2h2.2m-1.1-1.1v2.2M498.9 447h2.2m-1.1-1.1v2.2M516.3 471.7h2.2m-1.1-1.1v2.2M481.4 449.1h2.2m-1.1-1.1v2.2M566.2 469.5h2.2m-1.1-1.1v2.2M481.4 436h2.2m-1.1-1.1v2.2M623.5 505.7h2.2m-1.1-1.1v2.2M469 404.2h2.2m-1.1-1.1v2.2M503.9 443.5h2.2m-1.1-1.1v2.2M571.2 459.1h2.2m-1.1-1.1v2.2M606.1 489.3h2.2m-1.1-1.1v2.2M523.8 469.2h2.2m-1.1-1.1v2.2M566.2 460.9h2.2m-1.1-1.1v2.2M593.6 497.5h2.2m-1.1-1.1v2.2M568.7 445.3h2.2m-1.1-1.1v2.2M598.6 498.8h2.2m-1.1-1.1v2.2M506.4 479h2.2m-1.1-1.1v2.2M546.3 448h2.2m-1.1-1.1v2.2M613.6 492.2h2.2m-1.1-1.1v2.2M586.1 470.5h2.2m-1.1-1.1v2.2M588.6 480.4h2.2m-1.1-1.1v2.2M521.3 448.4h2.2m-1.1-1.1v2.2M531.3 467.6h2.2m-1.1-1.1v2.2M546.3 480.3h2.2m-1.1-1.1v2.2M471.5 424.8h2.2m-1.1-1.1v2.2M611.1 496h2.2m-1.1-1.1v2.2M608.6 491.1h2.2m-1.1-1.1v2.2M523.8 461h2.2m-1.1-1.1v2.2M553.7 454.1h2.2m-1.1-1.1v2.2M551.2 456.6h2.2m-1.1-1.1v2.2M501.4 472.1h2.2m-1.1-1.1v2.2M613.6 494.4h2.2m-1.1-1.1v2.2M588.6 487.9h2.2m-1.1-1.1v2.2M613.6 490.2h2.2m-1.1-1.1v2.2M483.9 406.2h2.2m-1.1-1.1v2.2M503.9 454.5h2.2m-1.1-1.1v2.2M496.4 458.9h2.2m-1.1-1.1v2.2M511.3 445.4h2.2m-1.1-1.1v2.2M476.4 447.1h2.2m-1.1-1.1v2.2M578.7 483.1h2.2m-1.1-1.1v2.2M606.1 495.6h2.2m-1.1-1.1v2.2M541.3 437h2.2m-1.1-1.1v2.2M541.3 458.3h2.2m-1.1-1.1v2.2M566.2 467.6h2.2m-1.1-1.1v2.2M523.8 478.5h2.2m-1.1-1.1v2.2M431.6 418.5h2.2m-1.1-1.1v2.2M576.2 483.8h2.2m-1.1-1.1v2.2M523.8 483.9h2.2m-1.1-1.1v2.2M618.6 497.3h2.2m-1.1-1.1v2.2M598.6 493.5h2.2m-1.1-1.1v2.2M528.8 466.1h2.2m-1.1-1.1v2.2M526.3 489.9h2.2m-1.1-1.1v2.2M543.8 480.3h2.2m-1.1-1.1v2.2M611.1 498.3h2.2m-1.1-1.1v2.2M546.3 493h2.2m-1.1-1.1v2.2M478.9 434h2.2m-1.1-1.1v2.2M496.4 451.2h2.2m-1.1-1.1v2.2M444 445.4h2.2m-1.1-1.1v2.2M623.5 501.9h2.2m-1.1-1.1v2.2M573.7 452.2h2.2m-1.1-1.1v2.2M478.9 406.2h2.2m-1.1-1.1v2.2M598.6 477.2h2.2m-1.1-1.1v2.2M516.3 475.7h2.2m-1.1-1.1v2.2M459 441.3h2.2m-1.1-1.1v2.2M503.9 413.3h2.2m-1.1-1.1v2.2M596.1 487h2.2m-1.1-1.1v2.2M543.8 432h2.2m-1.1-1.1v2.2M533.8 469.2h2.2m-1.1-1.1v2.2M573.7 477.4h2.2m-1.1-1.1v2.2M611.1 487h2.2m-1.1-1.1v2.2M621.1 497.8h2.2m-1.1-1.1v2.2M616.1 500.8h2.2m-1.1-1.1v2.2M526.3 469.2h2.2m-1.1-1.1v2.2M551.2 474.8h2.2m-1.1-1.1v2.2M541.3 473.5h2.2m-1.1-1.1v2.2M469 453.7h2.2m-1.1-1.1v2.2M611.1 494.8h2.2m-1.1-1.1v2.2M551.2 494.8h2.2m-1.1-1.1v2.2M493.9 442.3h2.2m-1.1-1.1v2.2M521.3 474.5h2.2m-1.1-1.1v2.2M621.1 499.9h2.2m-1.1-1.1v2.2M573.7 455.2h2.2m-1.1-1.1v2.2M518.8 421.2h2.2m-1.1-1.1v2.2M546.3 482.1h2.2m-1.1-1.1v2.2M496.4 422h2.2m-1.1-1.1v2.2M603.6 491.7h2.2m-1.1-1.1v2.2M588.6 495.7h2.2m-1.1-1.1v2.2M536.3 487.8h2.2m-1.1-1.1v2.2M546.3 487.4h2.2m-1.1-1.1v2.2M601.1 481.3h2.2m-1.1-1.1v2.2M533.8 478.6h2.2m-1.1-1.1v2.2M608.6 494.1h2.2m-1.1-1.1v2.2M526.3 484.8h2.2m-1.1-1.1v2.2M518.8 429.9h2.2m-1.1-1.1v2.2M493.9 435h2.2m-1.1-1.1v2.2M483.9 439.7h2.2m-1.1-1.1v2.2M556.2 437.2h2.2m-1.1-1.1v2.2M588.6 469h2.2m-1.1-1.1v2.2M608.6 501.2h2.2m-1.1-1.1v2.2M546.3 460.5h2.2m-1.1-1.1v2.2M603.6 486.3h2.2m-1.1-1.1v2.2M563.7 450.7h2.2m-1.1-1.1v2.2M611.1 500.5h2.2m-1.1-1.1v2.2M581.2 462.9h2.2m-1.1-1.1v2.2M588.6 489.2h2.2m-1.1-1.1v2.2M436.5 390.6h2.2m-1.1-1.1v2.2M616.1 492.5h2.2m-1.1-1.1v2.2M566.2 448.7h2.2m-1.1-1.1v2.2M613.6 496.3h2.2m-1.1-1.1v2.2M621.1 501.2h2.2m-1.1-1.1v2.2M528.8 467.7h2.2m-1.1-1.1v2.2M616.1 494.8h2.2m-1.1-1.1v2.2M611.1 502h2.2m-1.1-1.1v2.2M536.3 469.3h2.2m-1.1-1.1v2.2M449 400.1h2.2m-1.1-1.1v2.2M573.7 477.5h2.2m-1.1-1.1v2.2M516.3 471.1h2.2m-1.1-1.1v2.2M578.7 452.8h2.2m-1.1-1.1v2.2M618.6 500.5h2.2m-1.1-1.1v2.2M533.8 456h2.2m-1.1-1.1v2.2M466.5 409h2.2m-1.1-1.1v2.2M446.5 442.8h2.2m-1.1-1.1v2.2M578.7 454.4h2.2m-1.1-1.1v2.2M538.8 427.6h2.2m-1.1-1.1v2.2M548.7 452.9h2.2m-1.1-1.1v2.2M568.7 467.2h2.2m-1.1-1.1v2.2M608.6 497.3h2.2m-1.1-1.1v2.2M551.2 487.6h2.2m-1.1-1.1v2.2M611.1 485.9h2.2m-1.1-1.1v2.2M596.1 482.7h2.2m-1.1-1.1v2.2M568.7 464.7h2.2m-1.1-1.1v2.2M563.7 449h2.2m-1.1-1.1v2.2M586.1 470.3h2.2m-1.1-1.1v2.2M593.6 500.3h2.2m-1.1-1.1v2.2M538.8 463.5h2.2m-1.1-1.1v2.2M531.3 444.8h2.2m-1.1-1.1v2.2M578.7 490.7h2.2m-1.1-1.1v2.2M518.8 436.4h2.2m-1.1-1.1v2.2M526.3 420h2.2m-1.1-1.1v2.2M456.5 430.5h2.2m-1.1-1.1v2.2M618.6 498.5h2.2m-1.1-1.1v2.2M596.1 482.8h2.2m-1.1-1.1v2.2M608.6 497.1h2.2m-1.1-1.1v2.2M566.2 453.7h2.2m-1.1-1.1v2.2M561.2 457.5h2.2m-1.1-1.1v2.2M511.3 433.2h2.2m-1.1-1.1v2.2M546.3 429.3h2.2m-1.1-1.1v2.2M523.8 471.2h2.2m-1.1-1.1v2.2M541.3 460.2h2.2m-1.1-1.1v2.2M573.7 473h2.2m-1.1-1.1v2.2M461.5 434.4h2.2m-1.1-1.1v2.2M516.3 417.1h2.2m-1.1-1.1v2.2M583.7 488h2.2m-1.1-1.1v2.2M616.1 498.6h2.2m-1.1-1.1v2.2M606.1 486.1h2.2m-1.1-1.1v2.2M486.4 462.4h2.2m-1.1-1.1v2.2M531.3 477.4h2.2m-1.1-1.1v2.2M503.9 432.3h2.2m-1.1-1.1v2.2M476.4 408.5h2.2m-1.1-1.1v2.2M538.8 447.8h2.2m-1.1-1.1v2.2M611.1 488.9h2.2m-1.1-1.1v2.2M548.7 478.4h2.2m-1.1-1.1v2.2M573.7 456.9h2.2m-1.1-1.1v2.2M558.7 458.9h2.2m-1.1-1.1v2.2M493.9 428.3h2.2m-1.1-1.1v2.2M621.1 497.7h2.2m-1.1-1.1v2.2M591.1 497.4h2.2m-1.1-1.1v2.2M598.6 497.4h2.2m-1.1-1.1v2.2M566.2 460.7h2.2m-1.1-1.1v2.2M516.3 435.3h2.2m-1.1-1.1v2.2M601.1 478h2.2m-1.1-1.1v2.2M521.3 445.6h2.2m-1.1-1.1v2.2M623.5 502.3h2.2m-1.1-1.1v2.2M476.4 456.8h2.2m-1.1-1.1v2.2M483.9 420.9h2.2m-1.1-1.1v2.2M426.6 410.6h2.2m-1.1-1.1v2.2M421.6 393.8h2.2m-1.1-1.1v2.2M578.7 472.3h2.2m-1.1-1.1v2.2M568.7 490.3h2.2m-1.1-1.1v2.2M583.7 478.3h2.2m-1.1-1.1v2.2M576.2 497.3h2.2m-1.1-1.1v2.2M513.8 443.1h2.2m-1.1-1.1v2.2M566.2 460.7h2.2m-1.1-1.1v2.2M581.2 461.4h2.2m-1.1-1.1v2.2M586.1 489h2.2m-1.1-1.1v2.2M561.2 479.2h2.2m-1.1-1.1v2.2M603.6 487.3h2.2m-1.1-1.1v2.2M558.7 463.8h2.2m-1.1-1.1v2.2M573.7 478.7h2.2m-1.1-1.1v2.2M551.2 433.3h2.2m-1.1-1.1v2.2M621.1 498h2.2m-1.1-1.1v2.2M591.1 480.1h2.2m-1.1-1.1v2.2M611.1 489.7h2.2m-1.1-1.1v2.2M616.1 498.6h2.2m-1.1-1.1v2.2M511.3 445.9h2.2m-1.1-1.1v2.2M486.4 452.5h2.2m-1.1-1.1v2.2M613.6 499.6h2.2m-1.1-1.1v2.2M571.2 480.6h2.2m-1.1-1.1v2.2M459 425.6h2.2m-1.1-1.1v2.2M608.6 494.1h2.2m-1.1-1.1v2.2M616.1 492.6h2.2m-1.1-1.1v2.2M593.6 486.2h2.2m-1.1-1.1v2.2M476.4 437.6h2.2m-1.1-1.1v2.2M439 406.6h2.2m-1.1-1.1v2.2M568.7 447.2h2.2m-1.1-1.1v2.2M493.9 434.2h2.2m-1.1-1.1v2.2M586.1 484.4h2.2m-1.1-1.1v2.2M546.3 481.4h2.2m-1.1-1.1v2.2M591.1 474.5h2.2m-1.1-1.1v2.2M601.1 490.8h2.2m-1.1-1.1v2.2M606.1 487.8h2.2m-1.1-1.1v2.2M596.1 493.6h2.2m-1.1-1.1v2.2M513.8 432.6h2.2m-1.1-1.1v2.2M501.4 475.3h2.2m-1.1-1.1v2.2M424.1 418.3h2.2m-1.1-1.1v2.2M523.8 420.1h2.2m-1.1-1.1v2.2M538.8 486.4h2.2m-1.1-1.1v2.2M488.9 457.3h2.2m-1.1-1.1v2.2M591.1 483.3h2.2m-1.1-1.1v2.2M571.2 491.1h2.2m-1.1-1.1v2.2M528.8 426.5h2.2m-1.1-1.1v2.2M543.8 431.3h2.2m-1.1-1.1v2.2M616.1 499.5h2.2m-1.1-1.1v2.2M606.1 486.6h2.2m-1.1-1.1v2.2M566.2 489.3h2.2m-1.1-1.1v2.2M566.2 469.1h2.2m-1.1-1.1v2.2M536.3 444.6h2.2m-1.1-1.1v2.2M608.6 498.3h2.2m-1.1-1.1v2.2M508.9 476.7h2.2m-1.1-1.1v2.2M578.7 479.6h2.2m-1.1-1.1v2.2M576.2 475.3h2.2m-1.1-1.1v2.2M451.5 419.2h2.2m-1.1-1.1v2.2M471.5 427h2.2m-1.1-1.1v2.2M593.6 496.6h2.2m-1.1-1.1v2.2M603.6 492.8h2.2m-1.1-1.1v2.2M543.8 452.2h2.2m-1.1-1.1v2.2M621.1 496.5h2.2m-1.1-1.1v2.2M573.7 474.8h2.2m-1.1-1.1v2.2M591.1 478.8h2.2m-1.1-1.1v2.2M543.8 452.5h2.2m-1.1-1.1v2.2M496.4 418.9h2.2m-1.1-1.1v2.2M526.3 475h2.2m-1.1-1.1v2.2M521.3 444h2.2m-1.1-1.1v2.2M601.1 483h2.2m-1.1-1.1v2.2M611.1 497.8h2.2m-1.1-1.1v2.2M571.2 462h2.2m-1.1-1.1v2.2M576.2 487.5h2.2m-1.1-1.1v2.2M593.6 470.9h2.2m-1.1-1.1v2.2M621.1 497.3h2.2m-1.1-1.1v2.2M456.5 450.6h2.2m-1.1-1.1v2.2M593.6 469.7h2.2m-1.1-1.1v2.2M618.6 497h2.2m-1.1-1.1v2.2M528.8 433.3h2.2m-1.1-1.1v2.2M528.8 441.4h2.2m-1.1-1.1v2.2M578.7 493.1h2.2m-1.1-1.1v2.2M608.6 494.6h2.2m-1.1-1.1v2.2M608.6 497h2.2m-1.1-1.1v2.2M573.7 471h2.2m-1.1-1.1v2.2M558.7 471.4h2.2m-1.1-1.1v2.2M536.3 487.8h2.2m-1.1-1.1v2.2M461.5 405.1h2.2m-1.1-1.1v2.2M616.1 502.3h2.2m-1.1-1.1v2.2M496.4 463.6h2.2m-1.1-1.1v2.2M526.3 442h2.2m-1.1-1.1v2.2M566.2 444.9h2.2m-1.1-1.1v2.2M471.5 412.9h2.2m-1.1-1.1v2.2M593.6 480.5h2.2m-1.1-1.1v2.2M578.7 487.5h2.2m-1.1-1.1v2.2M538.8 464.5h2.2m-1.1-1.1v2.2M541.3 476.3h2.2m-1.1-1.1v2.2M476.4 468.5h2.2m-1.1-1.1v2.2M454 439.6h2.2m-1.1-1.1v2.2M454 417.2h2.2m-1.1-1.1v2.2M503.9 434.7h2.2m-1.1-1.1v2.2M616.1 494h2.2m-1.1-1.1v2.2M531.3 459.1h2.2m-1.1-1.1v2.2M616.1 499.5h2.2m-1.1-1.1v2.2M449 431.8h2.2m-1.1-1.1v2.2M606.1 491.5h2.2m-1.1-1.1v2.2M618.6 499.4h2.2m-1.1-1.1v2.2M541.3 436h2.2m-1.1-1.1v2.2M593.6 486.7h2.2m-1.1-1.1v2.2M506.4 462.8h2.2m-1.1-1.1v2.2M444 408h2.2m-1.1-1.1v2.2M571.2 473.6h2.2m-1.1-1.1v2.2M618.6 495.7h2.2m-1.1-1.1v2.2M454 399h2.2m-1.1-1.1v2.2M581.2 471.1h2.2m-1.1-1.1v2.2M581.2 486.7h2.2m-1.1-1.1v2.2M501.4 442.6h2.2m-1.1-1.1v2.2M616.1 496.4h2.2m-1.1-1.1v2.2M581.2 489h2.2m-1.1-1.1v2.2M601.1 477h2.2m-1.1-1.1v2.2M498.9 421.3h2.2m-1.1-1.1v2.2M596.1 497.8h2.2m-1.1-1.1v2.2M551.2 490h2.2m-1.1-1.1v2.2M613.6 494.4h2.2m-1.1-1.1v2.2M511.3 463.1h2.2m-1.1-1.1v2.2M538.8 485.9h2.2m-1.1-1.1v2.2M601.1 485.7h2.2m-1.1-1.1v2.2M576.2 489.7h2.2m-1.1-1.1v2.2M593.6 493.4h2.2m-1.1-1.1v2.2M551.2 430.8h2.2m-1.1-1.1v2.2M571.2 457.1h2.2m-1.1-1.1v2.2M608.6 497.5h2.2m-1.1-1.1v2.2M566.2 476h2.2m-1.1-1.1v2.2M623.5 502.9h2.2m-1.1-1.1v2.2M603.6 482.8h2.2m-1.1-1.1v2.2M603.6 499.8h2.2m-1.1-1.1v2.2M616.1 500.3h2.2m-1.1-1.1v2.2M576.2 496h2.2m-1.1-1.1v2.2M558.7 478.5h2.2m-1.1-1.1v2.2M598.6 478.4h2.2m-1.1-1.1v2.2M506.4 441.7h2.2m-1.1-1.1v2.2M556.2 435.9h2.2m-1.1-1.1v2.2M563.7 448.7h2.2m-1.1-1.1v2.2M451.5 412.5h2.2m-1.1-1.1v2.2M526.3 468.5h2.2m-1.1-1.1v2.2M616.1 492.1h2.2m-1.1-1.1v2.2M536.3 450.4h2.2m-1.1-1.1v2.2M601.1 497.6h2.2m-1.1-1.1v2.2M533.8 478.9h2.2m-1.1-1.1v2.2M536.3 442.4h2.2m-1.1-1.1v2.2M543.8 468.7h2.2m-1.1-1.1v2.2M508.9 417.4h2.2m-1.1-1.1v2.2M611.1 502.7h2.2m-1.1-1.1v2.2M464 411.2h2.2m-1.1-1.1v2.2M588.6 474.9h2.2m-1.1-1.1v2.2M621.1 499.9h2.2m-1.1-1.1v2.2M488.9 403.3h2.2m-1.1-1.1v2.2M553.7 452.3h2.2m-1.1-1.1v2.2M518.8 457.5h2.2m-1.1-1.1v2.2M516.3 414.5h2.2m-1.1-1.1v2.2M568.7 454.2h2.2m-1.1-1.1v2.2M613.6 490.3h2.2m-1.1-1.1v2.2M561.2 475h2.2m-1.1-1.1v2.2M533.8 463.3h2.2m-1.1-1.1v2.2M593.6 486.1h2.2m-1.1-1.1v2.2M568.7 444.6h2.2m-1.1-1.1v2.2M538.8 455.5h2.2m-1.1-1.1v2.2M621.1 502.2h2.2m-1.1-1.1v2.2M591.1 489.9h2.2m-1.1-1.1v2.2M513.8 445.3h2.2m-1.1-1.1v2.2M556.2 477.7h2.2m-1.1-1.1v2.2M556.2 457.6h2.2m-1.1-1.1v2.2M541.3 475h2.2m-1.1-1.1v2.2M583.7 478.4h2.2m-1.1-1.1v2.2M473.9 454.1h2.2m-1.1-1.1v2.2M596.1 481.7h2.2m-1.1-1.1v2.2M588.6 494.2h2.2m-1.1-1.1v2.2M593.6 477.2h2.2m-1.1-1.1v2.2M583.7 470.9h2.2m-1.1-1.1v2.2M543.8 445.3h2.2m-1.1-1.1v2.2M546.3 484.9h2.2m-1.1-1.1v2.2M548.7 455.2h2.2m-1.1-1.1v2.2M618.6 502.5h2.2m-1.1-1.1v2.2M556.2 457.8h2.2m-1.1-1.1v2.2M556.2 455.6h2.2m-1.1-1.1v2.2M538.8 463.7h2.2m-1.1-1.1v2.2M581.2 489.9h2.2m-1.1-1.1v2.2M623.5 500.9h2.2m-1.1-1.1v2.2M611.1 495.3h2.2m-1.1-1.1v2.2M503.9 426.2h2.2m-1.1-1.1v2.2M563.7 453h2.2m-1.1-1.1v2.2M608.6 493.1h2.2m-1.1-1.1v2.2M573.7 467.1h2.2m-1.1-1.1v2.2M536.3 478h2.2m-1.1-1.1v2.2M493.9 470.1h2.2m-1.1-1.1v2.2M598.6 490.2h2.2m-1.1-1.1v2.2M518.8 456.3h2.2m-1.1-1.1v2.2M616.1 504.4h2.2m-1.1-1.1v2.2M478.9 460.8h2.2m-1.1-1.1v2.2M496.4 435.7h2.2m-1.1-1.1v2.2M508.9 417.5h2.2m-1.1-1.1v2.2M598.6 496.6h2.2m-1.1-1.1v2.2M578.7 487.5h2.2m-1.1-1.1v2.2M556.2 460.7h2.2m-1.1-1.1v2.2M563.7 472.4h2.2m-1.1-1.1v2.2M571.2 468.1h2.2m-1.1-1.1v2.2M618.6 497.9h2.2m-1.1-1.1v2.2M613.6 491.8h2.2m-1.1-1.1v2.2M518.8 439.8h2.2m-1.1-1.1v2.2M473.9 416.1h2.2m-1.1-1.1v2.2M608.6 492.4h2.2m-1.1-1.1v2.2M598.6 493.5h2.2m-1.1-1.1v2.2M508.9 448.7h2.2m-1.1-1.1v2.2M616.1 501.8h2.2m-1.1-1.1v2.2M548.7 462.8h2.2m-1.1-1.1v2.2M481.4 448.6h2.2m-1.1-1.1v2.2M588.6 489.9h2.2m-1.1-1.1v2.2M459 440.7h2.2m-1.1-1.1v2.2M526.3 421h2.2m-1.1-1.1v2.2M518.8 457.6h2.2m-1.1-1.1v2.2M461.5 450.5h2.2m-1.1-1.1v2.2M498.9 460h2.2m-1.1-1.1v2.2M528.8 423.7h2.2m-1.1-1.1v2.2M538.8 482h2.2m-1.1-1.1v2.2M608.6 492.2h2.2m-1.1-1.1v2.2M541.3 450.2h2.2m-1.1-1.1v2.2M546.3 455.4h2.2m-1.1-1.1v2.2M618.6 500.5h2.2m-1.1-1.1v2.2M548.7 475.8h2.2m-1.1-1.1v2.2M588.6 466.4h2.2m-1.1-1.1v2.2M513.8 477.3h2.2m-1.1-1.1v2.2M603.6 500.2h2.2m-1.1-1.1v2.2M513.8 448h2.2m-1.1-1.1v2.2M571.2 462.9h2.2m-1.1-1.1v2.2M538.8 471.1h2.2m-1.1-1.1v2.2M588.6 484.5h2.2m-1.1-1.1v2.2M556.2 467.2h2.2m-1.1-1.1v2.2M536.3 473.1h2.2m-1.1-1.1v2.2M498.9 452.5h2.2m-1.1-1.1v2.2M598.6 479.9h2.2m-1.1-1.1v2.2M596.1 501.5h2.2m-1.1-1.1v2.2M608.6 490.9h2.2m-1.1-1.1v2.2M591.1 470.1h2.2m-1.1-1.1v2.2M576.2 475.9h2.2m-1.1-1.1v2.2M558.7 476h2.2m-1.1-1.1v2.2M481.4 463.7h2.2m-1.1-1.1v2.2M488.9 467.4h2.2m-1.1-1.1v2.2M591.1 481.1h2.2m-1.1-1.1v2.2M414.1 408h2.2m-1.1-1.1v2.2M476.4 447h2.2m-1.1-1.1v2.2M473.9 409.1h2.2m-1.1-1.1v2.2M593.6 480.4h2.2m-1.1-1.1v2.2M541.3 482.9h2.2m-1.1-1.1v2.2M521.3 462.4h2.2m-1.1-1.1v2.2M573.7 478.1h2.2m-1.1-1.1v2.2M561.2 481.7h2.2m-1.1-1.1v2.2M571.2 458.1h2.2m-1.1-1.1v2.2M613.6 498.7h2.2m-1.1-1.1v2.2M503.9 472.7h2.2m-1.1-1.1v2.2M556.2 439.7h2.2m-1.1-1.1v2.2M508.9 436.9h2.2m-1.1-1.1v2.2M556.2 458.1h2.2m-1.1-1.1v2.2M598.6 489.2h2.2m-1.1-1.1v2.2M561.2 468.4h2.2m-1.1-1.1v2.2M568.7 441.8h2.2m-1.1-1.1v2.2M563.7 453.9h2.2m-1.1-1.1v2.2M568.7 478.5h2.2m-1.1-1.1v2.2M451.5 414.1h2.2m-1.1-1.1v2.2M526.3 470.2h2.2m-1.1-1.1v2.2M566.2 469h2.2m-1.1-1.1v2.2M603.6 493.8h2.2m-1.1-1.1v2.2M566.2 447.1h2.2m-1.1-1.1v2.2M616.1 500.7h2.2m-1.1-1.1v2.2M523.8 479.5h2.2m-1.1-1.1v2.2M516.3 428.8h2.2m-1.1-1.1v2.2M551.2 438.7h2.2m-1.1-1.1v2.2M588.6 496.4h2.2m-1.1-1.1v2.2M568.7 452.2h2.2m-1.1-1.1v2.2M596.1 484h2.2m-1.1-1.1v2.2M623.5 500.7h2.2m-1.1-1.1v2.2M521.3 455.8h2.2m-1.1-1.1v2.2M523.8 471.9h2.2m-1.1-1.1v2.2M591.1 483.4h2.2m-1.1-1.1v2.2M546.3 434.2h2.2m-1.1-1.1v2.2M568.7 479.4h2.2m-1.1-1.1v2.2M598.6 492.2h2.2m-1.1-1.1v2.2M518.8 483h2.2m-1.1-1.1v2.2M568.7 485.7h2.2m-1.1-1.1v2.2M618.6 495.5h2.2m-1.1-1.1v2.2M538.8 439h2.2m-1.1-1.1v2.2M578.7 459.8h2.2m-1.1-1.1v2.2M521.3 442.7h2.2m-1.1-1.1v2.2M616.1 494.2h2.2m-1.1-1.1v2.2M563.7 455.9h2.2m-1.1-1.1v2.2M531.3 471.3h2.2m-1.1-1.1v2.2M621.1 497.5h2.2m-1.1-1.1v2.2M566.2 442.2h2.2m-1.1-1.1v2.2M556.2 469.9h2.2m-1.1-1.1v2.2M553.7 465h2.2m-1.1-1.1v2.2M598.6 485.9h2.2m-1.1-1.1v2.2M593.6 494.5h2.2m-1.1-1.1v2.2M623.5 504h2.2m-1.1-1.1v2.2M454 437.5h2.2m-1.1-1.1v2.2M601.1 493.7h2.2m-1.1-1.1v2.2M608.6 493.7h2.2m-1.1-1.1v2.2M548.7 434.5h2.2m-1.1-1.1v2.2M548.7 441.5h2.2m-1.1-1.1v2.2M603.6 500.6h2.2m-1.1-1.1v2.2M481.4 418.3h2.2m-1.1-1.1v2.2M591.1 488.8h2.2m-1.1-1.1v2.2M538.8 437.9h2.2m-1.1-1.1v2.2M464 445.7h2.2m-1.1-1.1v2.2M469 414.4h2.2m-1.1-1.1v2.2M621.1 497.9h2.2m-1.1-1.1v2.2M606.1 501.8h2.2m-1.1-1.1v2.2M598.6 481.6h2.2m-1.1-1.1v2.2M591.1 468.5h2.2m-1.1-1.1v2.2M596.1 479.2h2.2m-1.1-1.1v2.2M526.3 425.2h2.2m-1.1-1.1v2.2M611.1 495.6h2.2m-1.1-1.1v2.2M583.7 475.4h2.2m-1.1-1.1v2.2M488.9 405h2.2m-1.1-1.1v2.2M439 416.1h2.2m-1.1-1.1v2.2M603.6 480.8h2.2m-1.1-1.1v2.2M576.2 494.2h2.2m-1.1-1.1v2.2M613.6 491.6h2.2m-1.1-1.1v2.2M608.6 501h2.2m-1.1-1.1v2.2M541.3 455.9h2.2m-1.1-1.1v2.2M546.3 453.8h2.2m-1.1-1.1v2.2M536.3 438.9h2.2m-1.1-1.1v2.2M558.7 447.4h2.2m-1.1-1.1v2.2M561.2 447.8h2.2m-1.1-1.1v2.2M546.3 455.4h2.2m-1.1-1.1v2.2M563.7 472.8h2.2m-1.1-1.1v2.2M621.1 503.4h2.2m-1.1-1.1v2.2M573.7 461.5h2.2m-1.1-1.1v2.2M493.9 414.4h2.2m-1.1-1.1v2.2M506.4 428h2.2m-1.1-1.1v2.2M561.2 476.2h2.2m-1.1-1.1v2.2M566.2 484.5h2.2m-1.1-1.1v2.2M548.7 448.3h2.2m-1.1-1.1v2.2M596.1 480.6h2.2m-1.1-1.1v2.2M588.6 476.4h2.2m-1.1-1.1v2.2M613.6 488.6h2.2m-1.1-1.1v2.2M513.8 469.9h2.2m-1.1-1.1v2.2M611.1 498.8h2.2m-1.1-1.1v2.2M596.1 480.5h2.2m-1.1-1.1v2.2M593.6 475.8h2.2m-1.1-1.1v2.2M613.6 489.6h2.2m-1.1-1.1v2.2M553.7 441.9h2.2m-1.1-1.1v2.2M469 447.5h2.2m-1.1-1.1v2.2M586.1 474h2.2m-1.1-1.1v2.2M558.7 450.2h2.2m-1.1-1.1v2.2M473.9 440.4h2.2m-1.1-1.1v2.2M466.5 452.6h2.2m-1.1-1.1v2.2M573.7 463.1h2.2m-1.1-1.1v2.2M508.9 427.6h2.2m-1.1-1.1v2.2M601.1 479.7h2.2m-1.1-1.1v2.2M556.2 496.2h2.2m-1.1-1.1v2.2M611.1 487h2.2m-1.1-1.1v2.2M623.5 501.8h2.2m-1.1-1.1v2.2M616.1 491.8h2.2m-1.1-1.1v2.2M603.6 489.8h2.2m-1.1-1.1v2.2M613.6 489h2.2m-1.1-1.1v2.2M556.2 467.6h2.2m-1.1-1.1v2.2M578.7 492.5h2.2m-1.1-1.1v2.2M616.1 496h2.2m-1.1-1.1v2.2M548.7 477.3h2.2m-1.1-1.1v2.2M541.3 447.8h2.2m-1.1-1.1v2.2M621.1 504.3h2.2m-1.1-1.1v2.2M581.2 496.2h2.2m-1.1-1.1v2.2M586.1 489.4h2.2m-1.1-1.1v2.2M581.2 465h2.2m-1.1-1.1v2.2M536.3 447.1h2.2m-1.1-1.1v2.2M521.3 462.2h2.2m-1.1-1.1v2.2M469 426.2h2.2m-1.1-1.1v2.2M548.7 489.5h2.2m-1.1-1.1v2.2M556.2 447.2h2.2m-1.1-1.1v2.2M536.3 423.4h2.2m-1.1-1.1v2.2M586.1 477.6h2.2m-1.1-1.1v2.2M541.3 466h2.2m-1.1-1.1v2.2M618.6 498.6h2.2m-1.1-1.1v2.2M548.7 486.9h2.2m-1.1-1.1v2.2M606.1 497.9h2.2m-1.1-1.1v2.2M461.5 413h2.2m-1.1-1.1v2.2M431.6 437.1h2.2m-1.1-1.1v2.2M578.7 482.6h2.2m-1.1-1.1v2.2M583.7 495.2h2.2m-1.1-1.1v2.2M621.1 496.7h2.2m-1.1-1.1v2.2M578.7 484.2h2.2m-1.1-1.1v2.2M578.7 464.9h2.2m-1.1-1.1v2.2M531.3 428.7h2.2m-1.1-1.1v2.2M591.1 466.2h2.2m-1.1-1.1v2.2M491.4 469.3h2.2m-1.1-1.1v2.2M481.4 441.7h2.2m-1.1-1.1v2.2M611.1 495.8h2.2m-1.1-1.1v2.2M531.3 439.6h2.2m-1.1-1.1v2.2M488.9 452.3h2.2m-1.1-1.1v2.2M459 432h2.2m-1.1-1.1v2.2M503.9 422.2h2.2m-1.1-1.1v2.2M621.1 500.1h2.2m-1.1-1.1v2.2M553.7 459.4h2.2m-1.1-1.1v2.2M521.3 468.4h2.2m-1.1-1.1v2.2M518.8 462.9h2.2m-1.1-1.1v2.2M503.9 456.9h2.2m-1.1-1.1v2.2M446.5 407.4h2.2m-1.1-1.1v2.2M498.9 417.5h2.2m-1.1-1.1v2.2M491.4 421.9h2.2m-1.1-1.1v2.2M543.8 471.4h2.2m-1.1-1.1v2.2M473.9 426.9h2.2m-1.1-1.1v2.2M518.8 429.2h2.2m-1.1-1.1v2.2M576.2 453.8h2.2m-1.1-1.1v2.2M521.3 446.6h2.2m-1.1-1.1v2.2M618.6 504.2h2.2m-1.1-1.1v2.2M611.1 503.9h2.2m-1.1-1.1v2.2M461.5 445.2h2.2m-1.1-1.1v2.2M616.1 495.9h2.2m-1.1-1.1v2.2M613.6 497.7h2.2m-1.1-1.1v2.2M586.1 494.1h2.2m-1.1-1.1v2.2M591.1 466.9h2.2m-1.1-1.1v2.2M598.6 485.3h2.2m-1.1-1.1v2.2M434.1 406.7h2.2m-1.1-1.1v2.2M601.1 500.8h2.2m-1.1-1.1v2.2M561.2 449.7h2.2m-1.1-1.1v2.2M606.1 501.5h2.2m-1.1-1.1v2.2M603.6 482.6h2.2m-1.1-1.1v2.2M541.3 479.5h2.2m-1.1-1.1v2.2M576.2 489.5h2.2m-1.1-1.1v2.2M586.1 477.7h2.2m-1.1-1.1v2.2M561.2 488.3h2.2m-1.1-1.1v2.2M593.6 496h2.2m-1.1-1.1v2.2M608.6 492.2h2.2m-1.1-1.1v2.2M546.3 476.4h2.2m-1.1-1.1v2.2M516.3 416.4h2.2m-1.1-1.1v2.2M601.1 491.4h2.2m-1.1-1.1v2.2M608.6 492.9h2.2m-1.1-1.1v2.2M573.7 469.7h2.2m-1.1-1.1v2.2M486.4 404.8h2.2m-1.1-1.1v2.2M566.2 484.7h2.2m-1.1-1.1v2.2M596.1 478.3h2.2m-1.1-1.1v2.2M558.7 449.4h2.2m-1.1-1.1v2.2M591.1 492.9h2.2m-1.1-1.1v2.2M531.3 441.3h2.2m-1.1-1.1v2.2M503.9 478.3h2.2m-1.1-1.1v2.2M618.6 496.2h2.2m-1.1-1.1v2.2M491.4 421.6h2.2m-1.1-1.1v2.2M493.9 431h2.2m-1.1-1.1v2.2M598.6 491.5h2.2m-1.1-1.1v2.2M598.6 484.1h2.2m-1.1-1.1v2.2M596.1 492.3h2.2m-1.1-1.1v2.2M508.9 468.9h2.2m-1.1-1.1v2.2M531.3 432.2h2.2m-1.1-1.1v2.2M439 399.4h2.2m-1.1-1.1v2.2M551.2 460.8h2.2m-1.1-1.1v2.2M481.4 401.2h2.2m-1.1-1.1v2.2M598.6 494.6h2.2m-1.1-1.1v2.2M553.7 482h2.2m-1.1-1.1v2.2M553.7 444.4h2.2m-1.1-1.1v2.2M551.2 443.1h2.2m-1.1-1.1v2.2M451.5 420.3h2.2m-1.1-1.1v2.2M571.2 447.5h2.2m-1.1-1.1v2.2M441.5 389.8h2.2m-1.1-1.1v2.2M561.2 450h2.2m-1.1-1.1v2.2M583.7 465.7h2.2m-1.1-1.1v2.2M601.1 497.3h2.2m-1.1-1.1v2.2M553.7 436.8h2.2m-1.1-1.1v2.2M526.3 451.9h2.2m-1.1-1.1v2.2M543.8 449.9h2.2m-1.1-1.1v2.2M601.1 497.8h2.2m-1.1-1.1v2.2M608.6 485.8h2.2m-1.1-1.1v2.2M583.7 478.9h2.2m-1.1-1.1v2.2M601.1 479.6h2.2m-1.1-1.1v2.2M469 413h2.2m-1.1-1.1v2.2M493.9 461.7h2.2m-1.1-1.1v2.2M618.6 496.8h2.2m-1.1-1.1v2.2M548.7 449.5h2.2m-1.1-1.1v2.2M596.1 473.6h2.2m-1.1-1.1v2.2M598.6 495.1h2.2m-1.1-1.1v2.2M593.6 474.9h2.2m-1.1-1.1v2.2M461.5 397.8h2.2m-1.1-1.1v2.2M608.6 494.8h2.2m-1.1-1.1v2.2M573.7 464.5h2.2m-1.1-1.1v2.2M471.5 458.5h2.2m-1.1-1.1v2.2M613.6 497.1h2.2m-1.1-1.1v2.2M611.1 500.7h2.2m-1.1-1.1v2.2M573.7 481.9h2.2m-1.1-1.1v2.2M491.4 414.6h2.2m-1.1-1.1v2.2M563.7 483.8h2.2m-1.1-1.1v2.2M548.7 479h2.2m-1.1-1.1v2.2M558.7 497.1h2.2m-1.1-1.1v2.2M516.3 455h2.2m-1.1-1.1v2.2M563.7 497.8h2.2m-1.1-1.1v2.2M553.7 462.5h2.2m-1.1-1.1v2.2M538.8 464.5h2.2m-1.1-1.1v2.2M493.9 461h2.2m-1.1-1.1v2.2M576.2 475.2h2.2m-1.1-1.1v2.2M618.6 494h2.2m-1.1-1.1v2.2M591.1 481.5h2.2m-1.1-1.1v2.2M561.2 480.4h2.2m-1.1-1.1v2.2M608.6 495.8h2.2m-1.1-1.1v2.2M548.7 476.2h2.2m-1.1-1.1v2.2M533.8 457.1h2.2m-1.1-1.1v2.2M411.6 419h2.2m-1.1-1.1v2.2M536.3 449.4h2.2m-1.1-1.1v2.2M591.1 481.7h2.2m-1.1-1.1v2.2M576.2 489h2.2m-1.1-1.1v2.2M613.6 496h2.2m-1.1-1.1v2.2M588.6 467.2h2.2m-1.1-1.1v2.2M488.9 467.3h2.2m-1.1-1.1v2.2M551.2 450h2.2m-1.1-1.1v2.2M478.9 412.5h2.2m-1.1-1.1v2.2M548.7 474h2.2m-1.1-1.1v2.2M606.1 498.7h2.2m-1.1-1.1v2.2M483.9 433.5h2.2m-1.1-1.1v2.2M581.2 476.6h2.2m-1.1-1.1v2.2M583.7 475.8h2.2m-1.1-1.1v2.2M543.8 469h2.2m-1.1-1.1v2.2M601.1 500.8h2.2m-1.1-1.1v2.2M531.3 418.9h2.2m-1.1-1.1v2.2M608.6 487.8h2.2m-1.1-1.1v2.2M581.2 458.2h2.2m-1.1-1.1v2.2M513.8 414.8h2.2m-1.1-1.1v2.2M568.7 460.3h2.2m-1.1-1.1v2.2M601.1 493.7h2.2m-1.1-1.1v2.2M444 444.7h2.2m-1.1-1.1v2.2M556.2 473.7h2.2m-1.1-1.1v2.2M528.8 485h2.2m-1.1-1.1v2.2M454 399.4h2.2m-1.1-1.1v2.2M526.3 446h2.2m-1.1-1.1v2.2M546.3 484.5h2.2m-1.1-1.1v2.2M528.8 463.9h2.2m-1.1-1.1v2.2M613.6 487.5h2.2m-1.1-1.1v2.2M621.1 499.8h2.2m-1.1-1.1v2.2M606.1 489.1h2.2m-1.1-1.1v2.2M473.9 426.2h2.2m-1.1-1.1v2.2M501.4 471.8h2.2m-1.1-1.1v2.2M541.3 471.7h2.2m-1.1-1.1v2.2M483.9 438.4h2.2m-1.1-1.1v2.2M603.6 486.3h2.2m-1.1-1.1v2.2M591.1 490h2.2m-1.1-1.1v2.2M613.6 500.7h2.2m-1.1-1.1v2.2M578.7 480.9h2.2m-1.1-1.1v2.2M478.9 466.9h2.2m-1.1-1.1v2.2M556.2 455.4h2.2m-1.1-1.1v2.2M591.1 483.2h2.2m-1.1-1.1v2.2M511.3 454.1h2.2m-1.1-1.1v2.2M601.1 494.7h2.2m-1.1-1.1v2.2M606.1 488.2h2.2m-1.1-1.1v2.2M613.6 495.2h2.2m-1.1-1.1v2.2M558.7 441h2.2m-1.1-1.1v2.2M566.2 479.2h2.2m-1.1-1.1v2.2M531.3 434.9h2.2m-1.1-1.1v2.2M523.8 448.4h2.2m-1.1-1.1v2.2M516.3 428h2.2m-1.1-1.1v2.2M561.2 480.2h2.2m-1.1-1.1v2.2M553.7 445h2.2m-1.1-1.1v2.2M558.7 443.8h2.2m-1.1-1.1v2.2M464 453.1h2.2m-1.1-1.1v2.2M526.3 423.3h2.2m-1.1-1.1v2.2M511.3 450.8h2.2m-1.1-1.1v2.2M558.7 436.1h2.2m-1.1-1.1v2.2M583.7 470h2.2m-1.1-1.1v2.2M486.4 417.3h2.2m-1.1-1.1v2.2M573.7 487.7h2.2m-1.1-1.1v2.2M621.1 500.4h2.2m-1.1-1.1v2.2M571.2 449.3h2.2m-1.1-1.1v2.2M506.4 460h2.2m-1.1-1.1v2.2M486.4 410.5h2.2m-1.1-1.1v2.2M533.8 430h2.2m-1.1-1.1v2.2M601.1 493.2h2.2m-1.1-1.1v2.2M518.8 472h2.2m-1.1-1.1v2.2M508.9 456.6h2.2m-1.1-1.1v2.2M461.5 455.4h2.2m-1.1-1.1v2.2M578.7 496.7h2.2m-1.1-1.1v2.2M506.4 452h2.2m-1.1-1.1v2.2M566.2 468.4h2.2m-1.1-1.1v2.2M558.7 444.6h2.2m-1.1-1.1v2.2M606.1 484.9h2.2m-1.1-1.1v2.2M608.6 494.1h2.2m-1.1-1.1v2.2M526.3 432.9h2.2m-1.1-1.1v2.2M558.7 494.9h2.2m-1.1-1.1v2.2M459 445h2.2m-1.1-1.1v2.2M568.7 487.1h2.2m-1.1-1.1v2.2M611.1 499.8h2.2m-1.1-1.1v2.2M606.1 488h2.2m-1.1-1.1v2.2M613.6 495.8h2.2m-1.1-1.1v2.2M581.2 456.1h2.2m-1.1-1.1v2.2M478.9 434.7h2.2m-1.1-1.1v2.2M621.1 497.1h2.2m-1.1-1.1v2.2M498.9 443.4h2.2m-1.1-1.1v2.2M528.8 479.5h2.2m-1.1-1.1v2.2M459 406.7h2.2m-1.1-1.1v2.2M541.3 490.8h2.2m-1.1-1.1v2.2M591.1 490h2.2m-1.1-1.1v2.2M566.2 487h2.2m-1.1-1.1v2.2M543.8 459.8h2.2m-1.1-1.1v2.2M473.9 458.5h2.2m-1.1-1.1v2.2M496.4 473.2h2.2m-1.1-1.1v2.2M611.1 485.5h2.2m-1.1-1.1v2.2M541.3 449.6h2.2m-1.1-1.1v2.2M526.3 442.3h2.2m-1.1-1.1v2.2M503.9 428.3h2.2m-1.1-1.1v2.2M566.2 479.3h2.2m-1.1-1.1v2.2M616.1 501.8h2.2m-1.1-1.1v2.2M533.8 429.5h2.2m-1.1-1.1v2.2M568.7 461.9h2.2m-1.1-1.1v2.2M568.7 473.8h2.2m-1.1-1.1v2.2M521.3 480.6h2.2m-1.1-1.1v2.2M506.4 458.7h2.2m-1.1-1.1v2.2M518.8 460.6h2.2m-1.1-1.1v2.2M546.3 469.9h2.2m-1.1-1.1v2.2M568.7 477.9h2.2m-1.1-1.1v2.2M566.2 497.4h2.2m-1.1-1.1v2.2M573.7 459.1h2.2m-1.1-1.1v2.2M531.3 433.7h2.2m-1.1-1.1v2.2M573.7 464.1h2.2m-1.1-1.1v2.2M521.3 481.9h2.2m-1.1-1.1v2.2M513.8 445.6h2.2m-1.1-1.1v2.2M613.6 500.5h2.2m-1.1-1.1v2.2M618.6 501.9h2.2m-1.1-1.1v2.2M426.6 426h2.2m-1.1-1.1v2.2M588.6 473h2.2m-1.1-1.1v2.2M523.8 430.2h2.2m-1.1-1.1v2.2M531.3 448.9h2.2m-1.1-1.1v2.2M596.1 495.7h2.2m-1.1-1.1v2.2M578.7 452.7h2.2m-1.1-1.1v2.2M444 403.6h2.2m-1.1-1.1v2.2M621.1 501.1h2.2m-1.1-1.1v2.2M531.3 436.9h2.2m-1.1-1.1v2.2M616.1 489.7h2.2m-1.1-1.1v2.2M551.2 469h2.2m-1.1-1.1v2.2M538.8 474.8h2.2m-1.1-1.1v2.2M601.1 489.7h2.2m-1.1-1.1v2.2M496.4 411.2h2.2m-1.1-1.1v2.2M508.9 468.9h2.2m-1.1-1.1v2.2M464 413.4h2.2m-1.1-1.1v2.2M576.2 470.9h2.2m-1.1-1.1v2.2M488.9 455h2.2m-1.1-1.1v2.2M526.3 465.2h2.2m-1.1-1.1v2.2M516.3 466.5h2.2m-1.1-1.1v2.2M523.8 464h2.2m-1.1-1.1v2.2M538.8 484.1h2.2m-1.1-1.1v2.2M518.8 473.7h2.2m-1.1-1.1v2.2M621.1 500.5h2.2m-1.1-1.1v2.2M556.2 435.2h2.2m-1.1-1.1v2.2M596.1 477.5h2.2m-1.1-1.1v2.2M496.4 413.1h2.2m-1.1-1.1v2.2M503.9 415.1h2.2m-1.1-1.1v2.2M501.4 455.5h2.2m-1.1-1.1v2.2M501.4 459.3h2.2m-1.1-1.1v2.2M618.6 499.5h2.2m-1.1-1.1v2.2M558.7 473.2h2.2m-1.1-1.1v2.2M491.4 444.8h2.2m-1.1-1.1v2.2M498.9 441.8h2.2m-1.1-1.1v2.2M583.7 480.9h2.2m-1.1-1.1v2.2M588.6 477.2h2.2m-1.1-1.1v2.2M581.2 477.5h2.2m-1.1-1.1v2.2M576.2 459h2.2m-1.1-1.1v2.2M606.1 484.2h2.2m-1.1-1.1v2.2M593.6 479h2.2m-1.1-1.1v2.2M606.1 493.1h2.2m-1.1-1.1v2.2M533.8 468.1h2.2m-1.1-1.1v2.2M541.3 450.3h2.2m-1.1-1.1v2.2M576.2 462.3h2.2m-1.1-1.1v2.2M483.9 420.2h2.2m-1.1-1.1v2.2M623.5 504.3h2.2m-1.1-1.1v2.2M553.7 459.6h2.2m-1.1-1.1v2.2M491.4 465.2h2.2m-1.1-1.1v2.2M566.2 481.6h2.2m-1.1-1.1v2.2M583.7 464.5h2.2m-1.1-1.1v2.2M486.4 442.6h2.2m-1.1-1.1v2.2M606.1 492h2.2m-1.1-1.1v2.2M601.1 497.3h2.2m-1.1-1.1v2.2M568.7 469.1h2.2m-1.1-1.1v2.2M616.1 495.5h2.2m-1.1-1.1v2.2M573.7 462.4h2.2m-1.1-1.1v2.2M558.7 471.9h2.2m-1.1-1.1v2.2M566.2 463.4h2.2m-1.1-1.1v2.2M581.2 485.4h2.2m-1.1-1.1v2.2M551.2 498.1h2.2m-1.1-1.1v2.2M513.8 452.7h2.2m-1.1-1.1v2.2M461.5 427.9h2.2m-1.1-1.1v2.2M553.7 445h2.2m-1.1-1.1v2.2M541.3 464.8h2.2m-1.1-1.1v2.2M591.1 478.7h2.2m-1.1-1.1v2.2M424.1 412.8h2.2m-1.1-1.1v2.2M513.8 451.7h2.2m-1.1-1.1v2.2M568.7 458.7h2.2m-1.1-1.1v2.2M508.9 429.6h2.2m-1.1-1.1v2.2M576.2 478h2.2m-1.1-1.1v2.2M563.7 486.4h2.2m-1.1-1.1v2.2M508.9 445.2h2.2m-1.1-1.1v2.2M598.6 485.1h2.2m-1.1-1.1v2.2M548.7 478.2h2.2m-1.1-1.1v2.2M558.7 460.4h2.2m-1.1-1.1v2.2M533.8 444.9h2.2m-1.1-1.1v2.2M543.8 467.5h2.2m-1.1-1.1v2.2M593.6 495.7h2.2m-1.1-1.1v2.2M496.4 416.7h2.2m-1.1-1.1v2.2M621.1 500.5h2.2m-1.1-1.1v2.2M578.7 478h2.2m-1.1-1.1v2.2M531.3 463.1h2.2m-1.1-1.1v2.2M546.3 485.3h2.2m-1.1-1.1v2.2M444 395.6h2.2m-1.1-1.1v2.2M473.9 456.1h2.2m-1.1-1.1v2.2M581.2 455.3h2.2m-1.1-1.1v2.2M454 445.3h2.2m-1.1-1.1v2.2M488.9 441.9h2.2m-1.1-1.1v2.2M469 439.1h2.2m-1.1-1.1v2.2M568.7 460.9h2.2m-1.1-1.1v2.2M461.5 447.5h2.2m-1.1-1.1v2.2M536.3 438.6h2.2m-1.1-1.1v2.2M478.9 447.3h2.2m-1.1-1.1v2.2M561.2 472.7h2.2m-1.1-1.1v2.2M568.7 473.5h2.2m-1.1-1.1v2.2M616.1 499.9h2.2m-1.1-1.1v2.2M613.6 490.3h2.2m-1.1-1.1v2.2M566.2 464.9h2.2m-1.1-1.1v2.2M601.1 498.4h2.2m-1.1-1.1v2.2M501.4 465.2h2.2m-1.1-1.1v2.2M451.5 405h2.2m-1.1-1.1v2.2M603.6 478.8h2.2m-1.1-1.1v2.2M603.6 502.3h2.2m-1.1-1.1v2.2M498.9 481.2h2.2m-1.1-1.1v2.2M566.2 480.6h2.2m-1.1-1.1v2.2M563.7 476h2.2m-1.1-1.1v2.2M601.1 501.9h2.2m-1.1-1.1v2.2M526.3 484.1h2.2m-1.1-1.1v2.2M606.1 497.1h2.2m-1.1-1.1v2.2M621.1 500.5h2.2m-1.1-1.1v2.2M456.5 442.2h2.2m-1.1-1.1v2.2M586.1 494.7h2.2m-1.1-1.1v2.2M598.6 488.1h2.2m-1.1-1.1v2.2M578.7 467.8h2.2m-1.1-1.1v2.2M603.6 486.2h2.2m-1.1-1.1v2.2M553.7 480.4h2.2m-1.1-1.1v2.2M551.2 459.4h2.2m-1.1-1.1v2.2M601.1 479.1h2.2m-1.1-1.1v2.2M591.1 491.6h2.2m-1.1-1.1v2.2M471.5 423.7h2.2m-1.1-1.1v2.2M558.7 457.3h2.2m-1.1-1.1v2.2M434.1 401.3h2.2m-1.1-1.1v2.2M451.5 436.9h2.2m-1.1-1.1v2.2M623.5 502.2h2.2m-1.1-1.1v2.2M508.9 454.7h2.2m-1.1-1.1v2.2M588.6 480.6h2.2m-1.1-1.1v2.2M606.1 501.7h2.2m-1.1-1.1v2.2M608.6 494h2.2m-1.1-1.1v2.2M563.7 481.5h2.2m-1.1-1.1v2.2M573.7 447.4h2.2m-1.1-1.1v2.2M478.9 424.4h2.2m-1.1-1.1v2.2M541.3 465.2h2.2m-1.1-1.1v2.2M473.9 454.8h2.2m-1.1-1.1v2.2M608.6 486.2h2.2m-1.1-1.1v2.2M541.3 480.2h2.2m-1.1-1.1v2.2M553.7 482.9h2.2m-1.1-1.1v2.2M449 446.2h2.2m-1.1-1.1v2.2M516.3 437.3h2.2m-1.1-1.1v2.2M566.2 481.9h2.2m-1.1-1.1v2.2M538.8 484.1h2.2m-1.1-1.1v2.2M506.4 435.2h2.2m-1.1-1.1v2.2M603.6 483.1h2.2m-1.1-1.1v2.2M586.1 472.2h2.2m-1.1-1.1v2.2M616.1 496.5h2.2m-1.1-1.1v2.2M563.7 440.7h2.2m-1.1-1.1v2.2M601.1 479.5h2.2m-1.1-1.1v2.2M546.3 428.3h2.2m-1.1-1.1v2.2M598.6 487h2.2m-1.1-1.1v2.2M536.3 440.2h2.2m-1.1-1.1v2.2M621.1 501.1h2.2m-1.1-1.1v2.2M531.3 451.7h2.2m-1.1-1.1v2.2M581.2 465.9h2.2m-1.1-1.1v2.2M551.2 479.1h2.2m-1.1-1.1v2.2M476.4 426.7h2.2m-1.1-1.1v2.2M471.5 449.5h2.2m-1.1-1.1v2.2M601.1 494.1h2.2m-1.1-1.1v2.2M581.2 494.7h2.2m-1.1-1.1v2.2M613.6 491.8h2.2m-1.1-1.1v2.2M593.6 483.4h2.2m-1.1-1.1v2.2M598.6 478.1h2.2m-1.1-1.1v2.2M459 440.4h2.2m-1.1-1.1v2.2M616.1 495h2.2m-1.1-1.1v2.2M588.6 483.4h2.2m-1.1-1.1v2.2M518.8 427.9h2.2m-1.1-1.1v2.2M531.3 470.5h2.2m-1.1-1.1v2.2M556.2 437.5h2.2m-1.1-1.1v2.2M576.2 476.4h2.2m-1.1-1.1v2.2M508.9 438.8h2.2m-1.1-1.1v2.2M566.2 489.6h2.2m-1.1-1.1v2.2M598.6 478h2.2m-1.1-1.1v2.2M481.4 419.7h2.2m-1.1-1.1v2.2M581.2 464.3h2.2m-1.1-1.1v2.2M508.9 420.4h2.2m-1.1-1.1v2.2M558.7 492.5h2.2m-1.1-1.1v2.2M556.2 448.4h2.2m-1.1-1.1v2.2M596.1 486.9h2.2m-1.1-1.1v2.2M451.5 431h2.2m-1.1-1.1v2.2M591.1 468h2.2m-1.1-1.1v2.2M561.2 473.1h2.2m-1.1-1.1v2.2M563.7 469.8h2.2m-1.1-1.1v2.2M538.8 477.3h2.2m-1.1-1.1v2.2M553.7 443.1h2.2m-1.1-1.1v2.2M551.2 481.7h2.2m-1.1-1.1v2.2M576.2 482.9h2.2m-1.1-1.1v2.2M613.6 497.5h2.2m-1.1-1.1v2.2M606.1 488.9h2.2m-1.1-1.1v2.2M506.4 438.1h2.2m-1.1-1.1v2.2M561.2 457.5h2.2m-1.1-1.1v2.2M531.3 452.3h2.2m-1.1-1.1v2.2M586.1 472.4h2.2m-1.1-1.1v2.2M466.5 410.1h2.2m-1.1-1.1v2.2M531.3 482.8h2.2m-1.1-1.1v2.2M506.4 430.2h2.2m-1.1-1.1v2.2M621.1 497.3h2.2m-1.1-1.1v2.2M471.5 461.7h2.2m-1.1-1.1v2.2M601.1 501.2h2.2m-1.1-1.1v2.2M618.6 500.6h2.2m-1.1-1.1v2.2M416.6 413.4h2.2m-1.1-1.1v2.2M526.3 469.2h2.2m-1.1-1.1v2.2M493.9 405.1h2.2m-1.1-1.1v2.2M553.7 464.8h2.2m-1.1-1.1v2.2M469 403.7h2.2m-1.1-1.1v2.2M558.7 448.8h2.2m-1.1-1.1v2.2M459 431.4h2.2m-1.1-1.1v2.2M498.9 478h2.2m-1.1-1.1v2.2M566.2 487.2h2.2m-1.1-1.1v2.2M593.6 473.6h2.2m-1.1-1.1v2.2M608.6 499.7h2.2m-1.1-1.1v2.2M511.3 432.9h2.2m-1.1-1.1v2.2M454 433.8h2.2m-1.1-1.1v2.2M571.2 492.4h2.2m-1.1-1.1v2.2M616.1 500.2h2.2m-1.1-1.1v2.2M583.7 494.3h2.2m-1.1-1.1v2.2M613.6 498.4h2.2m-1.1-1.1v2.2M538.8 437.9h2.2m-1.1-1.1v2.2M523.8 446.8h2.2m-1.1-1.1v2.2M563.7 462.1h2.2m-1.1-1.1v2.2M508.9 415.2h2.2m-1.1-1.1v2.2M528.8 444.5h2.2m-1.1-1.1v2.2M586.1 488.4h2.2m-1.1-1.1v2.2M603.6 491.4h2.2m-1.1-1.1v2.2M548.7 476.6h2.2m-1.1-1.1v2.2M573.7 447h2.2m-1.1-1.1v2.2M601.1 496.5h2.2m-1.1-1.1v2.2M601.1 481.9h2.2m-1.1-1.1v2.2M573.7 469.6h2.2m-1.1-1.1v2.2M603.6 482h2.2m-1.1-1.1v2.2M611.1 490.6h2.2m-1.1-1.1v2.2M501.4 434.7h2.2m-1.1-1.1v2.2M616.1 504h2.2m-1.1-1.1v2.2M616.1 501.4h2.2m-1.1-1.1v2.2M581.2 466.1h2.2m-1.1-1.1v2.2M538.8 493.4h2.2m-1.1-1.1v2.2M566.2 483.2h2.2m-1.1-1.1v2.2M469 419h2.2m-1.1-1.1v2.2M523.8 466.2h2.2m-1.1-1.1v2.2M503.9 448.8h2.2m-1.1-1.1v2.2M541.3 440.9h2.2m-1.1-1.1v2.2M439 422.5h2.2m-1.1-1.1v2.2M581.2 476.9h2.2m-1.1-1.1v2.2M543.8 450.5h2.2m-1.1-1.1v2.2M528.8 492.9h2.2m-1.1-1.1v2.2M601.1 490.5h2.2m-1.1-1.1v2.2M601.1 488.9h2.2m-1.1-1.1v2.2M446.5 429.2h2.2m-1.1-1.1v2.2M546.3 466h2.2m-1.1-1.1v2.2M578.7 475.6h2.2m-1.1-1.1v2.2M486.4 408.3h2.2m-1.1-1.1v2.2M486.4 405.6h2.2m-1.1-1.1v2.2M608.6 500.6h2.2m-1.1-1.1v2.2M419.1 414.6h2.2m-1.1-1.1v2.2M548.7 445.9h2.2m-1.1-1.1v2.2M606.1 492.3h2.2m-1.1-1.1v2.2M551.2 493.8h2.2m-1.1-1.1v2.2M541.3 452.3h2.2m-1.1-1.1v2.2M546.3 462.4h2.2m-1.1-1.1v2.2M441.5 431.7h2.2m-1.1-1.1v2.2M533.8 441.5h2.2m-1.1-1.1v2.2M476.4 462.1h2.2m-1.1-1.1v2.2M518.8 458.4h2.2m-1.1-1.1v2.2M511.3 470h2.2m-1.1-1.1v2.2M469 434.4h2.2m-1.1-1.1v2.2M611.1 486.2h2.2m-1.1-1.1v2.2M618.6 498.8h2.2m-1.1-1.1v2.2M469 451.1h2.2m-1.1-1.1v2.2M551.2 450.2h2.2m-1.1-1.1v2.2M576.2 480.3h2.2m-1.1-1.1v2.2M603.6 499.1h2.2m-1.1-1.1v2.2M593.6 488.8h2.2m-1.1-1.1v2.2M548.7 460.8h2.2m-1.1-1.1v2.2M568.7 483h2.2m-1.1-1.1v2.2M486.4 452.4h2.2m-1.1-1.1v2.2M521.3 480.9h2.2m-1.1-1.1v2.2M523.8 418.6h2.2m-1.1-1.1v2.2M618.6 496.8h2.2m-1.1-1.1v2.2M543.8 472.9h2.2m-1.1-1.1v2.2M598.6 500.1h2.2m-1.1-1.1v2.2M481.4 444.9h2.2m-1.1-1.1v2.2M431.6 426.4h2.2m-1.1-1.1v2.2M556.2 450.2h2.2m-1.1-1.1v2.2M603.6 478.3h2.2m-1.1-1.1v2.2M551.2 496h2.2m-1.1-1.1v2.2M516.3 413.5h2.2m-1.1-1.1v2.2M606.1 493.1h2.2m-1.1-1.1v2.2M439 439.9h2.2m-1.1-1.1v2.2M581.2 466.3h2.2m-1.1-1.1v2.2M591.1 479.6h2.2m-1.1-1.1v2.2M543.8 465.7h2.2m-1.1-1.1v2.2M558.7 496.7h2.2m-1.1-1.1v2.2M616.1 503.6h2.2m-1.1-1.1v2.2M541.3 447.6h2.2m-1.1-1.1v2.2M551.2 479.2h2.2m-1.1-1.1v2.2M553.7 443.4h2.2m-1.1-1.1v2.2M426.6 404.5h2.2m-1.1-1.1v2.2M516.3 477.3h2.2m-1.1-1.1v2.2M618.6 499.5h2.2m-1.1-1.1v2.2M543.8 481.3h2.2m-1.1-1.1v2.2M623.5 502.7h2.2m-1.1-1.1v2.2M603.6 496.5h2.2m-1.1-1.1v2.2M503.9 456.3h2.2m-1.1-1.1v2.2M608.6 495.4h2.2m-1.1-1.1v2.2M531.3 461.9h2.2m-1.1-1.1v2.2M536.3 479.8h2.2m-1.1-1.1v2.2M518.8 443.3h2.2m-1.1-1.1v2.2M573.7 453.9h2.2m-1.1-1.1v2.2M508.9 415.7h2.2m-1.1-1.1v2.2M561.2 465.4h2.2m-1.1-1.1v2.2M608.6 488.9h2.2m-1.1-1.1v2.2M593.6 475.7h2.2m-1.1-1.1v2.2M571.2 478.5h2.2m-1.1-1.1v2.2M451.5 450.4h2.2m-1.1-1.1v2.2M621.1 504.4h2.2m-1.1-1.1v2.2M526.3 485h2.2m-1.1-1.1v2.2M613.6 498.3h2.2m-1.1-1.1v2.2M513.8 415.4h2.2m-1.1-1.1v2.2M553.7 442.7h2.2m-1.1-1.1v2.2M583.7 496.2h2.2m-1.1-1.1v2.2M583.7 499.6h2.2m-1.1-1.1v2.2M578.7 477.4h2.2m-1.1-1.1v2.2M498.9 424.7h2.2m-1.1-1.1v2.2M471.5 441.6h2.2m-1.1-1.1v2.2M521.3 464.6h2.2m-1.1-1.1v2.2M553.7 438.5h2.2m-1.1-1.1v2.2M511.3 476.9h2.2m-1.1-1.1v2.2M573.7 477.3h2.2m-1.1-1.1v2.2M603.6 497.3h2.2m-1.1-1.1v2.2M491.4 447.9h2.2m-1.1-1.1v2.2M543.8 433.9h2.2m-1.1-1.1v2.2M521.3 427.6h2.2m-1.1-1.1v2.2M601.1 485.7h2.2m-1.1-1.1v2.2M591.1 480.8h2.2m-1.1-1.1v2.2M506.4 429h2.2m-1.1-1.1v2.2M576.2 493.2h2.2m-1.1-1.1v2.2M616.1 494.9h2.2m-1.1-1.1v2.2M573.7 461.1h2.2m-1.1-1.1v2.2M601.1 479.8h2.2m-1.1-1.1v2.2M611.1 495.8h2.2m-1.1-1.1v2.2M558.7 478.9h2.2m-1.1-1.1v2.2M526.3 432.5h2.2m-1.1-1.1v2.2M578.7 461.4h2.2m-1.1-1.1v2.2M608.6 500.4h2.2m-1.1-1.1v2.2M588.6 470.9h2.2m-1.1-1.1v2.2M516.3 451.4h2.2m-1.1-1.1v2.2M449 412.4h2.2m-1.1-1.1v2.2M573.7 473.6h2.2m-1.1-1.1v2.2M608.6 492h2.2m-1.1-1.1v2.2M606.1 487.6h2.2m-1.1-1.1v2.2M461.5 398.9h2.2m-1.1-1.1v2.2M613.6 490h2.2m-1.1-1.1v2.2M608.6 502.4h2.2m-1.1-1.1v2.2M533.8 422.3h2.2m-1.1-1.1v2.2M548.7 438.8h2.2m-1.1-1.1v2.2M591.1 470.6h2.2m-1.1-1.1v2.2M568.7 465.2h2.2m-1.1-1.1v2.2M546.3 464h2.2m-1.1-1.1v2.2M581.2 483.6h2.2m-1.1-1.1v2.2M586.1 470.8h2.2m-1.1-1.1v2.2M553.7 470.8h2.2m-1.1-1.1v2.2M591.1 466.2h2.2m-1.1-1.1v2.2M493.9 433.1h2.2m-1.1-1.1v2.2M586.1 493.9h2.2m-1.1-1.1v2.2M578.7 491.1h2.2m-1.1-1.1v2.2M511.3 466h2.2m-1.1-1.1v2.2M613.6 490.6h2.2m-1.1-1.1v2.2M591.1 492.9h2.2m-1.1-1.1v2.2M576.2 453.5h2.2m-1.1-1.1v2.2M461.5 421.5h2.2m-1.1-1.1v2.2M561.2 465.9h2.2m-1.1-1.1v2.2M568.7 483.9h2.2m-1.1-1.1v2.2M611.1 494.6h2.2m-1.1-1.1v2.2M538.8 445h2.2m-1.1-1.1v2.2M588.6 468.4h2.2m-1.1-1.1v2.2M593.6 473.2h2.2m-1.1-1.1v2.2M508.9 445.6h2.2m-1.1-1.1v2.2M568.7 450.9h2.2m-1.1-1.1v2.2M606.1 498h2.2m-1.1-1.1v2.2M573.7 480.7h2.2m-1.1-1.1v2.2M436.5 404.2h2.2m-1.1-1.1v2.2M429.1 402h2.2m-1.1-1.1v2.2M513.8 427.3h2.2m-1.1-1.1v2.2M548.7 462.4h2.2m-1.1-1.1v2.2M558.7 472.5h2.2m-1.1-1.1v2.2M608.6 484.6h2.2m-1.1-1.1v2.2M566.2 465.2h2.2m-1.1-1.1v2.2M588.6 465.5h2.2m-1.1-1.1v2.2M481.4 445.1h2.2m-1.1-1.1v2.2M436.5 408.6h2.2m-1.1-1.1v2.2M533.8 482.1h2.2m-1.1-1.1v2.2M466.5 449.6h2.2m-1.1-1.1v2.2M541.3 457.2h2.2m-1.1-1.1v2.2M586.1 462.5h2.2m-1.1-1.1v2.2M538.8 465.1h2.2m-1.1-1.1v2.2M583.7 473.5h2.2m-1.1-1.1v2.2M501.4 422.4h2.2m-1.1-1.1v2.2M596.1 479.8h2.2m-1.1-1.1v2.2M454 395.7h2.2m-1.1-1.1v2.2M516.3 475.6h2.2m-1.1-1.1v2.2M596.1 483.2h2.2m-1.1-1.1v2.2M538.8 452.9h2.2m-1.1-1.1v2.2M611.1 500h2.2m-1.1-1.1v2.2M496.4 472.9h2.2m-1.1-1.1v2.2M583.7 463.5h2.2m-1.1-1.1v2.2M586.1 475.6h2.2m-1.1-1.1v2.2M556.2 462.1h2.2m-1.1-1.1v2.2M606.1 495.5h2.2m-1.1-1.1v2.2M553.7 482.1h2.2m-1.1-1.1v2.2M583.7 464.2h2.2m-1.1-1.1v2.2M516.3 433.5h2.2m-1.1-1.1v2.2M471.5 436.7h2.2m-1.1-1.1v2.2M586.1 468.6h2.2m-1.1-1.1v2.2M593.6 478.3h2.2m-1.1-1.1v2.2M596.1 491.3h2.2m-1.1-1.1v2.2M616.1 502.5h2.2m-1.1-1.1v2.2M621.1 495.8h2.2m-1.1-1.1v2.2M591.1 483.6h2.2m-1.1-1.1v2.2M513.8 455.1h2.2m-1.1-1.1v2.2M618.6 503.5h2.2m-1.1-1.1v2.2M583.7 472h2.2m-1.1-1.1v2.2M591.1 480.9h2.2m-1.1-1.1v2.2M611.1 497.6h2.2m-1.1-1.1v2.2M543.8 458.3h2.2m-1.1-1.1v2.2M503.9 405.3h2.2m-1.1-1.1v2.2M606.1 492.9h2.2m-1.1-1.1v2.2M478.9 418h2.2m-1.1-1.1v2.2M528.8 470.7h2.2m-1.1-1.1v2.2M541.3 489h2.2m-1.1-1.1v2.2M541.3 460.1h2.2m-1.1-1.1v2.2M588.6 465.9h2.2m-1.1-1.1v2.2M518.8 429.8h2.2m-1.1-1.1v2.2M469 410h2.2m-1.1-1.1v2.2M526.3 438.3h2.2m-1.1-1.1v2.2M613.6 495.5h2.2m-1.1-1.1v2.2M503.9 467.9h2.2m-1.1-1.1v2.2M573.7 481.9h2.2m-1.1-1.1v2.2M621.1 502.6h2.2m-1.1-1.1v2.2M591.1 478.8h2.2m-1.1-1.1v2.2M591.1 483.7h2.2m-1.1-1.1v2.2M556.2 469h2.2m-1.1-1.1v2.2M469 439.5h2.2m-1.1-1.1v2.2M491.4 463.6h2.2m-1.1-1.1v2.2M608.6 495.6h2.2m-1.1-1.1v2.2M493.9 436.9h2.2m-1.1-1.1v2.2M621.1 502.3h2.2m-1.1-1.1v2.2M459 458.4h2.2m-1.1-1.1v2.2M546.3 446.5h2.2m-1.1-1.1v2.2M606.1 495.4h2.2m-1.1-1.1v2.2M588.6 466.8h2.2m-1.1-1.1v2.2M476.4 421h2.2m-1.1-1.1v2.2M601.1 484.1h2.2m-1.1-1.1v2.2M621.1 504.4h2.2m-1.1-1.1v2.2M568.7 468.7h2.2m-1.1-1.1v2.2M621.1 496h2.2m-1.1-1.1v2.2M476.4 425.6h2.2m-1.1-1.1v2.2M613.6 498.7h2.2m-1.1-1.1v2.2M608.6 498.7h2.2m-1.1-1.1v2.2M621.1 497.6h2.2m-1.1-1.1v2.2M586.1 463.9h2.2m-1.1-1.1v2.2M446.5 391.7h2.2m-1.1-1.1v2.2M611.1 487.6h2.2m-1.1-1.1v2.2M506.4 449.9h2.2m-1.1-1.1v2.2M601.1 483.5h2.2m-1.1-1.1v2.2M606.1 493.1h2.2m-1.1-1.1v2.2M591.1 467.6h2.2m-1.1-1.1v2.2M598.6 476.3h2.2m-1.1-1.1v2.2M563.7 467.9h2.2m-1.1-1.1v2.2M591.1 484.8h2.2m-1.1-1.1v2.2M608.6 494h2.2m-1.1-1.1v2.2M481.4 445.9h2.2m-1.1-1.1v2.2M518.8 456.9h2.2m-1.1-1.1v2.2M601.1 498.3h2.2m-1.1-1.1v2.2M586.1 496.8h2.2m-1.1-1.1v2.2M618.6 495h2.2m-1.1-1.1v2.2M573.7 458.1h2.2m-1.1-1.1v2.2M536.3 482h2.2m-1.1-1.1v2.2M603.6 495.9h2.2m-1.1-1.1v2.2M593.6 481.7h2.2m-1.1-1.1v2.2M548.7 497h2.2m-1.1-1.1v2.2M576.2 448.2h2.2m-1.1-1.1v2.2M528.8 445h2.2m-1.1-1.1v2.2M591.1 485h2.2m-1.1-1.1v2.2M521.3 442.4h2.2m-1.1-1.1v2.2M593.6 498.8h2.2m-1.1-1.1v2.2M461.5 414.1h2.2m-1.1-1.1v2.2M603.6 493.9h2.2m-1.1-1.1v2.2M493.9 454.9h2.2m-1.1-1.1v2.2M561.2 443.7h2.2m-1.1-1.1v2.2M483.9 436.9h2.2m-1.1-1.1v2.2M536.3 458.5h2.2m-1.1-1.1v2.2M486.4 414.3h2.2m-1.1-1.1v2.2M608.6 484.3h2.2m-1.1-1.1v2.2M608.6 486.6h2.2m-1.1-1.1v2.2M551.2 436.7h2.2m-1.1-1.1v2.2M571.2 451.6h2.2m-1.1-1.1v2.2M478.9 410.2h2.2m-1.1-1.1v2.2M596.1 497.3h2.2m-1.1-1.1v2.2M581.2 463.5h2.2m-1.1-1.1v2.2M596.1 496.5h2.2m-1.1-1.1v2.2M568.7 466.3h2.2m-1.1-1.1v2.2M593.6 476.3h2.2m-1.1-1.1v2.2M588.6 466.5h2.2m-1.1-1.1v2.2M583.7 471.9h2.2m-1.1-1.1v2.2M573.7 493.1h2.2m-1.1-1.1v2.2M491.4 477.8h2.2m-1.1-1.1v2.2M573.7 464.3h2.2m-1.1-1.1v2.2M586.1 473.2h2.2m-1.1-1.1v2.2M613.6 492.7h2.2m-1.1-1.1v2.2M573.7 464h2.2m-1.1-1.1v2.2M553.7 455.2h2.2m-1.1-1.1v2.2M588.6 477.5h2.2m-1.1-1.1v2.2M618.6 494.3h2.2m-1.1-1.1v2.2M603.6 488.2h2.2m-1.1-1.1v2.2M623.5 500.3h2.2m-1.1-1.1v2.2M558.7 464.6h2.2m-1.1-1.1v2.2M613.6 500.8h2.2m-1.1-1.1v2.2M568.7 479.5h2.2m-1.1-1.1v2.2M598.6 488h2.2m-1.1-1.1v2.2M563.7 476h2.2m-1.1-1.1v2.2M551.2 457h2.2m-1.1-1.1v2.2M611.1 497.8h2.2m-1.1-1.1v2.2M558.7 464.1h2.2m-1.1-1.1v2.2M591.1 496.8h2.2m-1.1-1.1v2.2M598.6 489.1h2.2m-1.1-1.1v2.2M429.1 402.3h2.2m-1.1-1.1v2.2M513.8 442.1h2.2m-1.1-1.1v2.2M593.6 496h2.2m-1.1-1.1v2.2M543.8 459.1h2.2m-1.1-1.1v2.2M588.6 494.4h2.2m-1.1-1.1v2.2M511.3 421.5h2.2m-1.1-1.1v2.2M521.3 478.7h2.2m-1.1-1.1v2.2M611.1 487.5h2.2m-1.1-1.1v2.2M623.5 499.4h2.2m-1.1-1.1v2.2M611.1 501h2.2m-1.1-1.1v2.2M471.5 450.2h2.2m-1.1-1.1v2.2M563.7 487.4h2.2m-1.1-1.1v2.2M611.1 493.1h2.2m-1.1-1.1v2.2M621.1 497h2.2m-1.1-1.1v2.2M613.6 494.3h2.2m-1.1-1.1v2.2M536.3 467.2h2.2m-1.1-1.1v2.2M568.7 446.5h2.2m-1.1-1.1v2.2M561.2 483.2h2.2m-1.1-1.1v2.2M528.8 486.3h2.2m-1.1-1.1v2.2M533.8 448.9h2.2m-1.1-1.1v2.2M476.4 430h2.2m-1.1-1.1v2.2M541.3 457.6h2.2m-1.1-1.1v2.2M571.2 466.2h2.2m-1.1-1.1v2.2M451.5 430.1h2.2m-1.1-1.1v2.2M581.2 499h2.2m-1.1-1.1v2.2M496.4 432.4h2.2m-1.1-1.1v2.2M426.6 431.5h2.2m-1.1-1.1v2.2M596.1 485.8h2.2m-1.1-1.1v2.2M608.6 491h2.2m-1.1-1.1v2.2M478.9 457.8h2.2m-1.1-1.1v2.2M608.6 501.7h2.2m-1.1-1.1v2.2M553.7 439h2.2m-1.1-1.1v2.2M576.2 448.4h2.2m-1.1-1.1v2.2M523.8 449.1h2.2m-1.1-1.1v2.2M608.6 500.8h2.2m-1.1-1.1v2.2M513.8 425.6h2.2m-1.1-1.1v2.2M611.1 502.9h2.2m-1.1-1.1v2.2M476.4 417.5h2.2m-1.1-1.1v2.2M588.6 471.8h2.2m-1.1-1.1v2.2M578.7 496.6h2.2m-1.1-1.1v2.2M598.6 492.1h2.2m-1.1-1.1v2.2M591.1 476h2.2m-1.1-1.1v2.2M556.2 470.5h2.2m-1.1-1.1v2.2M573.7 456.2h2.2m-1.1-1.1v2.2M488.9 430.8h2.2m-1.1-1.1v2.2M538.8 440.9h2.2m-1.1-1.1v2.2M488.9 408.8h2.2m-1.1-1.1v2.2M623.5 501.5h2.2m-1.1-1.1v2.2M464 447h2.2m-1.1-1.1v2.2M608.6 486.9h2.2m-1.1-1.1v2.2M598.6 481.3h2.2m-1.1-1.1v2.2M578.7 487.7h2.2m-1.1-1.1v2.2M556.2 450.3h2.2m-1.1-1.1v2.2M558.7 456.8h2.2m-1.1-1.1v2.2M493.9 468.5h2.2m-1.1-1.1v2.2M556.2 483h2.2m-1.1-1.1v2.2M521.3 427.7h2.2m-1.1-1.1v2.2M616.1 495.7h2.2m-1.1-1.1v2.2M601.1 497.8h2.2m-1.1-1.1v2.2M513.8 432.5h2.2m-1.1-1.1v2.2M461.5 425.7h2.2m-1.1-1.1v2.2M556.2 470.3h2.2m-1.1-1.1v2.2M533.8 456.9h2.2m-1.1-1.1v2.2M469 453.5h2.2m-1.1-1.1v2.2M551.2 448.8h2.2m-1.1-1.1v2.2M476.4 425h2.2m-1.1-1.1v2.2M576.2 474.5h2.2m-1.1-1.1v2.2M526.3 483.4h2.2m-1.1-1.1v2.2M451.5 423.5h2.2m-1.1-1.1v2.2M486.4 432h2.2m-1.1-1.1v2.2M611.1 491.8h2.2m-1.1-1.1v2.2M488.9 469.8h2.2m-1.1-1.1v2.2M426.6 417.1h2.2m-1.1-1.1v2.2M526.3 445.2h2.2m-1.1-1.1v2.2M581.2 470.2h2.2m-1.1-1.1v2.2M606.1 491.7h2.2m-1.1-1.1v2.2M556.2 477h2.2m-1.1-1.1v2.2M526.3 464.9h2.2m-1.1-1.1v2.2M563.7 457h2.2m-1.1-1.1v2.2M608.6 493.6h2.2m-1.1-1.1v2.2M578.7 463.6h2.2m-1.1-1.1v2.2M491.4 442.5h2.2m-1.1-1.1v2.2M491.4 423.7h2.2m-1.1-1.1v2.2M461.5 396.5h2.2m-1.1-1.1v2.2M533.8 454.1h2.2m-1.1-1.1v2.2M618.6 494h2.2m-1.1-1.1v2.2M523.8 426.1h2.2m-1.1-1.1v2.2M464 422.8h2.2m-1.1-1.1v2.2M536.3 463.2h2.2m-1.1-1.1v2.2M591.1 475h2.2m-1.1-1.1v2.2M434.1 392.4h2.2m-1.1-1.1v2.2M538.8 486h2.2m-1.1-1.1v2.2M606.1 487.4h2.2m-1.1-1.1v2.2M571.2 479.7h2.2m-1.1-1.1v2.2M491.4 444.9h2.2m-1.1-1.1v2.2M571.2 456.5h2.2m-1.1-1.1v2.2M618.6 496.1h2.2m-1.1-1.1v2.2M561.2 482.4h2.2m-1.1-1.1v2.2M546.3 441.1h2.2m-1.1-1.1v2.2M496.4 459.5h2.2m-1.1-1.1v2.2M528.8 456.2h2.2m-1.1-1.1v2.2M621.1 495.8h2.2m-1.1-1.1v2.2M571.2 467.3h2.2m-1.1-1.1v2.2M608.6 496h2.2m-1.1-1.1v2.2M491.4 430.2h2.2m-1.1-1.1v2.2M611.1 488.6h2.2m-1.1-1.1v2.2M538.8 436.7h2.2m-1.1-1.1v2.2M583.7 484.9h2.2m-1.1-1.1v2.2M583.7 467.6h2.2m-1.1-1.1v2.2M618.6 500.6h2.2m-1.1-1.1v2.2M464 398.3h2.2m-1.1-1.1v2.2M511.3 471.3h2.2m-1.1-1.1v2.2M496.4 454.7h2.2m-1.1-1.1v2.2M518.8 464.5h2.2m-1.1-1.1v2.2M464 456.6h2.2m-1.1-1.1v2.2M598.6 500h2.2m-1.1-1.1v2.2M593.6 474.9h2.2m-1.1-1.1v2.2M613.6 492h2.2m-1.1-1.1v2.2M471.5 413.2h2.2m-1.1-1.1v2.2M608.6 499h2.2m-1.1-1.1v2.2M551.2 459.5h2.2m-1.1-1.1v2.2M548.7 484h2.2m-1.1-1.1v2.2M588.6 474.8h2.2m-1.1-1.1v2.2M593.6 492.3h2.2m-1.1-1.1v2.2M476.4 414.9h2.2m-1.1-1.1v2.2M561.2 453.7h2.2m-1.1-1.1v2.2M506.4 442.6h2.2m-1.1-1.1v2.2M616.1 494.2h2.2m-1.1-1.1v2.2M496.4 437.6h2.2m-1.1-1.1v2.2M578.7 461.6h2.2m-1.1-1.1v2.2M581.2 469.4h2.2m-1.1-1.1v2.2M588.6 470.8h2.2m-1.1-1.1v2.2M593.6 478h2.2m-1.1-1.1v2.2M456.5 401.9h2.2m-1.1-1.1v2.2M601.1 493.4h2.2m-1.1-1.1v2.2M611.1 488.2h2.2m-1.1-1.1v2.2M486.4 452.8h2.2m-1.1-1.1v2.2M618.6 501.8h2.2m-1.1-1.1v2.2M621.1 498.2h2.2m-1.1-1.1v2.2M511.3 439.2h2.2m-1.1-1.1v2.2M586.1 478.5h2.2m-1.1-1.1v2.2M571.2 453.4h2.2m-1.1-1.1v2.2M558.7 466.7h2.2m-1.1-1.1v2.2M558.7 445.6h2.2m-1.1-1.1v2.2M498.9 482.5h2.2m-1.1-1.1v2.2M588.6 485.8h2.2m-1.1-1.1v2.2M526.3 448.6h2.2m-1.1-1.1v2.2M533.8 482h2.2m-1.1-1.1v2.2M473.9 436.3h2.2m-1.1-1.1v2.2M483.9 452.6h2.2m-1.1-1.1v2.2M526.3 443.1h2.2m-1.1-1.1v2.2M441.5 416.7h2.2m-1.1-1.1v2.2M543.8 470.6h2.2m-1.1-1.1v2.2M498.9 462.3h2.2m-1.1-1.1v2.2M449 417.1h2.2m-1.1-1.1v2.2M563.7 461.3h2.2m-1.1-1.1v2.2M518.8 419.8h2.2m-1.1-1.1v2.2M596.1 484.5h2.2m-1.1-1.1v2.2M551.2 478.2h2.2m-1.1-1.1v2.2M508.9 437h2.2m-1.1-1.1v2.2M546.3 483h2.2m-1.1-1.1v2.2M558.7 474.6h2.2m-1.1-1.1v2.2M563.7 484h2.2m-1.1-1.1v2.2M434.1 409h2.2m-1.1-1.1v2.2M608.6 484.3h2.2m-1.1-1.1v2.2M543.8 454.8h2.2m-1.1-1.1v2.2M576.2 461.7h2.2m-1.1-1.1v2.2M568.7 480h2.2m-1.1-1.1v2.2M471.5 456.6h2.2m-1.1-1.1v2.2M566.2 472.9h2.2m-1.1-1.1v2.2M556.2 463.7h2.2m-1.1-1.1v2.2M581.2 496.5h2.2m-1.1-1.1v2.2M608.6 483.8h2.2m-1.1-1.1v2.2M536.3 482.6h2.2m-1.1-1.1v2.2M578.7 464.6h2.2m-1.1-1.1v2.2M581.2 475.5h2.2m-1.1-1.1v2.2M551.2 487.1h2.2m-1.1-1.1v2.2M616.1 497h2.2m-1.1-1.1v2.2M531.3 454.7h2.2m-1.1-1.1v2.2M528.8 462.6h2.2m-1.1-1.1v2.2M451.5 399h2.2m-1.1-1.1v2.2M621.1 502.5h2.2m-1.1-1.1v2.2M493.9 409h2.2m-1.1-1.1v2.2M459 455.4h2.2m-1.1-1.1v2.2M601.1 491.9h2.2m-1.1-1.1v2.2M611.1 497.9h2.2m-1.1-1.1v2.2M526.3 415.6h2.2m-1.1-1.1v2.2M533.8 490.8h2.2m-1.1-1.1v2.2M548.7 430.7h2.2m-1.1-1.1v2.2M566.2 444.1h2.2m-1.1-1.1v2.2M618.6 495.7h2.2m-1.1-1.1v2.2M561.2 462.8h2.2m-1.1-1.1v2.2M419.1 428.2h2.2m-1.1-1.1v2.2M611.1 489.5h2.2m-1.1-1.1v2.2M496.4 468.4h2.2m-1.1-1.1v2.2M616.1 498h2.2m-1.1-1.1v2.2M553.7 434.4h2.2m-1.1-1.1v2.2M606.1 482.6h2.2m-1.1-1.1v2.2M523.8 456.9h2.2m-1.1-1.1v2.2M548.7 463.9h2.2m-1.1-1.1v2.2M588.6 464.9h2.2m-1.1-1.1v2.2M556.2 448h2.2m-1.1-1.1v2.2M516.3 461.9h2.2m-1.1-1.1v2.2M603.6 491.8h2.2m-1.1-1.1v2.2M583.7 470.9h2.2m-1.1-1.1v2.2M563.7 453.7h2.2m-1.1-1.1v2.2M536.3 471.4h2.2m-1.1-1.1v2.2M501.4 439.5h2.2m-1.1-1.1v2.2M558.7 461h2.2m-1.1-1.1v2.2M476.4 453.7h2.2m-1.1-1.1v2.2M546.3 456.3h2.2m-1.1-1.1v2.2M598.6 492h2.2m-1.1-1.1v2.2M583.7 479.6h2.2m-1.1-1.1v2.2M558.7 486.5h2.2m-1.1-1.1v2.2M551.2 488.3h2.2m-1.1-1.1v2.2M563.7 450.3h2.2m-1.1-1.1v2.2M581.2 459.1h2.2m-1.1-1.1v2.2M603.6 484.8h2.2m-1.1-1.1v2.2M558.7 473.7h2.2m-1.1-1.1v2.2M561.2 459.7h2.2m-1.1-1.1v2.2M553.7 479.7h2.2m-1.1-1.1v2.2M591.1 474.4h2.2m-1.1-1.1v2.2M566.2 491.9h2.2m-1.1-1.1v2.2M538.8 441.8h2.2m-1.1-1.1v2.2M449 426.4h2.2m-1.1-1.1v2.2M558.7 461.3h2.2m-1.1-1.1v2.2M548.7 463.4h2.2m-1.1-1.1v2.2M556.2 441.7h2.2m-1.1-1.1v2.2M591.1 497h2.2m-1.1-1.1v2.2M613.6 502h2.2m-1.1-1.1v2.2M526.3 429.2h2.2m-1.1-1.1v2.2M561.2 462.9h2.2m-1.1-1.1v2.2M551.2 466.6h2.2m-1.1-1.1v2.2M493.9 428.5h2.2m-1.1-1.1v2.2M541.3 439.5h2.2m-1.1-1.1v2.2M591.1 472.4h2.2m-1.1-1.1v2.2M531.3 464h2.2m-1.1-1.1v2.2M573.7 489.4h2.2m-1.1-1.1v2.2M586.1 490.5h2.2m-1.1-1.1v2.2M548.7 480h2.2m-1.1-1.1v2.2M513.8 426.7h2.2m-1.1-1.1v2.2M591.1 487.2h2.2m-1.1-1.1v2.2M576.2 464.2h2.2m-1.1-1.1v2.2M568.7 448.2h2.2m-1.1-1.1v2.2M576.2 468.6h2.2m-1.1-1.1v2.2M538.8 463.2h2.2m-1.1-1.1v2.2M608.6 494h2.2m-1.1-1.1v2.2M561.2 489.2h2.2m-1.1-1.1v2.2M496.4 457.4h2.2m-1.1-1.1v2.2M503.9 417.5h2.2m-1.1-1.1v2.2M498.9 437.2h2.2m-1.1-1.1v2.2M449 404.1h2.2m-1.1-1.1v2.2M571.2 470.5h2.2m-1.1-1.1v2.2M543.8 478.5h2.2m-1.1-1.1v2.2M618.6 499.7h2.2m-1.1-1.1v2.2M551.2 443.6h2.2m-1.1-1.1v2.2M551.2 482.4h2.2m-1.1-1.1v2.2M588.6 481.6h2.2m-1.1-1.1v2.2M598.6 499.2h2.2m-1.1-1.1v2.2M449 424.7h2.2m-1.1-1.1v2.2M481.4 428h2.2m-1.1-1.1v2.2M596.1 496.8h2.2m-1.1-1.1v2.2M591.1 474.5h2.2m-1.1-1.1v2.2M563.7 472.4h2.2m-1.1-1.1v2.2M498.9 459.2h2.2m-1.1-1.1v2.2M603.6 484.5h2.2m-1.1-1.1v2.2M493.9 420.8h2.2m-1.1-1.1v2.2M493.9 467.1h2.2m-1.1-1.1v2.2M501.4 479.8h2.2m-1.1-1.1v2.2M553.7 483.8h2.2m-1.1-1.1v2.2M503.9 428.8h2.2m-1.1-1.1v2.2M561.2 464.1h2.2m-1.1-1.1v2.2M588.6 493.3h2.2m-1.1-1.1v2.2M528.8 442.7h2.2m-1.1-1.1v2.2M526.3 442.7h2.2m-1.1-1.1v2.2M591.1 476.5h2.2m-1.1-1.1v2.2M576.2 483.5h2.2m-1.1-1.1v2.2M598.6 492.5h2.2m-1.1-1.1v2.2M483.9 443.2h2.2m-1.1-1.1v2.2M483.9 432.1h2.2m-1.1-1.1v2.2M603.6 484.7h2.2m-1.1-1.1v2.2M546.3 465h2.2m-1.1-1.1v2.2M586.1 486.7h2.2m-1.1-1.1v2.2M571.2 470.5h2.2m-1.1-1.1v2.2M593.6 491.2h2.2m-1.1-1.1v2.2M576.2 472.3h2.2m-1.1-1.1v2.2M561.2 486.6h2.2m-1.1-1.1v2.2M561.2 449.6h2.2m-1.1-1.1v2.2M618.6 501.9h2.2m-1.1-1.1v2.2M491.4 437.8h2.2m-1.1-1.1v2.2M601.1 479.3h2.2m-1.1-1.1v2.2M578.7 464.9h2.2m-1.1-1.1v2.2M523.8 479.4h2.2m-1.1-1.1v2.2M608.6 502.3h2.2m-1.1-1.1v2.2M521.3 469.9h2.2m-1.1-1.1v2.2M511.3 422.4h2.2m-1.1-1.1v2.2M493.9 447.5h2.2m-1.1-1.1v2.2M588.6 481.3h2.2m-1.1-1.1v2.2M571.2 497.4h2.2m-1.1-1.1v2.2M506.4 415.3h2.2m-1.1-1.1v2.2M568.7 484.9h2.2m-1.1-1.1v2.2M591.1 475h2.2m-1.1-1.1v2.2M501.4 462.1h2.2m-1.1-1.1v2.2M513.8 479.6h2.2m-1.1-1.1v2.2M469 430.6h2.2m-1.1-1.1v2.2M611.1 498.8h2.2m-1.1-1.1v2.2M581.2 468.1h2.2m-1.1-1.1v2.2M516.3 424.5h2.2m-1.1-1.1v2.2M568.7 480.4h2.2m-1.1-1.1v2.2M573.7 483.2h2.2m-1.1-1.1v2.2M601.1 485.6h2.2m-1.1-1.1v2.2M606.1 495.3h2.2m-1.1-1.1v2.2M493.9 434.8h2.2m-1.1-1.1v2.2M556.2 437.6h2.2m-1.1-1.1v2.2M543.8 463.6h2.2m-1.1-1.1v2.2M459 451.2h2.2m-1.1-1.1v2.2M603.6 493.8h2.2m-1.1-1.1v2.2M533.8 425.5h2.2m-1.1-1.1v2.2M573.7 466.7h2.2m-1.1-1.1v2.2M566.2 459.5h2.2m-1.1-1.1v2.2M613.6 494.9h2.2m-1.1-1.1v2.2M591.1 500.7h2.2m-1.1-1.1v2.2M513.8 437.3h2.2m-1.1-1.1v2.2M571.2 449.1h2.2m-1.1-1.1v2.2M558.7 478h2.2m-1.1-1.1v2.2M573.7 486.9h2.2m-1.1-1.1v2.2M613.6 496.5h2.2m-1.1-1.1v2.2M616.1 491.3h2.2m-1.1-1.1v2.2M571.2 483.2h2.2m-1.1-1.1v2.2M578.7 474.8h2.2m-1.1-1.1v2.2M598.6 488.6h2.2m-1.1-1.1v2.2M513.8 447.8h2.2m-1.1-1.1v2.2M558.7 439.3h2.2m-1.1-1.1v2.2M531.3 450.1h2.2m-1.1-1.1v2.2M608.6 494.5h2.2m-1.1-1.1v2.2M581.2 481.6h2.2m-1.1-1.1v2.2M459 426.5h2.2m-1.1-1.1v2.2M601.1 487.1h2.2m-1.1-1.1v2.2M588.6 497.3h2.2m-1.1-1.1v2.2M473.9 409.7h2.2m-1.1-1.1v2.2M541.3 440.2h2.2m-1.1-1.1v2.2M526.3 429.9h2.2m-1.1-1.1v2.2M598.6 488.2h2.2m-1.1-1.1v2.2M608.6 484.7h2.2m-1.1-1.1v2.2M563.7 445.3h2.2m-1.1-1.1v2.2M603.6 496h2.2m-1.1-1.1v2.2M541.3 484.2h2.2m-1.1-1.1v2.2M503.9 465.1h2.2m-1.1-1.1v2.2M608.6 492.5h2.2m-1.1-1.1v2.2M508.9 423.3h2.2m-1.1-1.1v2.2M618.6 493.7h2.2m-1.1-1.1v2.2M556.2 459.9h2.2m-1.1-1.1v2.2M568.7 465h2.2m-1.1-1.1v2.2M593.6 474h2.2m-1.1-1.1v2.2M596.1 482h2.2m-1.1-1.1v2.2M603.6 491.6h2.2m-1.1-1.1v2.2M603.6 482.8h2.2m-1.1-1.1v2.2M588.6 478.6h2.2m-1.1-1.1v2.2M471.5 458.1h2.2m-1.1-1.1v2.2M578.7 453.5h2.2m-1.1-1.1v2.2M606.1 481.7h2.2m-1.1-1.1v2.2M481.4 449.1h2.2m-1.1-1.1v2.2M511.3 473.9h2.2m-1.1-1.1v2.2M551.2 431.7h2.2m-1.1-1.1v2.2M471.5 449.8h2.2m-1.1-1.1v2.2M451.5 427.6h2.2m-1.1-1.1v2.2M483.9 421.4h2.2m-1.1-1.1v2.2M563.7 446.5h2.2m-1.1-1.1v2.2M551.2 470.5h2.2m-1.1-1.1v2.2M454 402.4h2.2m-1.1-1.1v2.2M596.1 479.5h2.2m-1.1-1.1v2.2M478.9 408.6h2.2m-1.1-1.1v2.2M531.3 462.7h2.2m-1.1-1.1v2.2M613.6 489.4h2.2m-1.1-1.1v2.2M466.5 426.4h2.2m-1.1-1.1v2.2M616.1 502.6h2.2m-1.1-1.1v2.2M541.3 482.6h2.2m-1.1-1.1v2.2M621.1 500.8h2.2m-1.1-1.1v2.2M616.1 500.9h2.2m-1.1-1.1v2.2M566.2 462.6h2.2m-1.1-1.1v2.2M566.2 461.7h2.2m-1.1-1.1v2.2M593.6 488.4h2.2m-1.1-1.1v2.2M606.1 497.4h2.2m-1.1-1.1v2.2M424.1 434.1h2.2m-1.1-1.1v2.2M588.6 487.2h2.2m-1.1-1.1v2.2M521.3 461.4h2.2m-1.1-1.1v2.2M546.3 441.3h2.2m-1.1-1.1v2.2M618.6 493.2h2.2m-1.1-1.1v2.2M551.2 448.4h2.2m-1.1-1.1v2.2M598.6 493.7h2.2m-1.1-1.1v2.2M551.2 431.9h2.2m-1.1-1.1v2.2M558.7 472.9h2.2m-1.1-1.1v2.2M471.5 437.6h2.2m-1.1-1.1v2.2M583.7 488h2.2m-1.1-1.1v2.2M573.7 484.7h2.2m-1.1-1.1v2.2M621.1 500h2.2m-1.1-1.1v2.2M616.1 494.1h2.2m-1.1-1.1v2.2M439 394.5h2.2m-1.1-1.1v2.2M586.1 485.4h2.2m-1.1-1.1v2.2M573.7 460.3h2.2m-1.1-1.1v2.2M548.7 463.4h2.2m-1.1-1.1v2.2M546.3 427.9h2.2m-1.1-1.1v2.2M603.6 499.2h2.2m-1.1-1.1v2.2M516.3 430.8h2.2m-1.1-1.1v2.2M573.7 448.6h2.2m-1.1-1.1v2.2M488.9 421.9h2.2m-1.1-1.1v2.2M503.9 418.4h2.2m-1.1-1.1v2.2M478.9 448.7h2.2m-1.1-1.1v2.2M501.4 426.7h2.2m-1.1-1.1v2.2M543.8 449.4h2.2m-1.1-1.1v2.2M454 424h2.2m-1.1-1.1v2.2M616.1 497.7h2.2m-1.1-1.1v2.2M601.1 485.3h2.2m-1.1-1.1v2.2M606.1 501.9h2.2m-1.1-1.1v2.2M601.1 498.4h2.2m-1.1-1.1v2.2M548.7 463.5h2.2m-1.1-1.1v2.2M488.9 452.7h2.2m-1.1-1.1v2.2M588.6 495h2.2m-1.1-1.1v2.2M483.9 415.1h2.2m-1.1-1.1v2.2M533.8 451.8h2.2m-1.1-1.1v2.2M616.1 493h2.2m-1.1-1.1v2.2M566.2 470.1h2.2m-1.1-1.1v2.2M541.3 480.2h2.2m-1.1-1.1v2.2M471.5 444.8h2.2m-1.1-1.1v2.2M506.4 470.2h2.2m-1.1-1.1v2.2M558.7 493.2h2.2m-1.1-1.1v2.2M466.5 458.3h2.2m-1.1-1.1v2.2M486.4 424.5h2.2m-1.1-1.1v2.2M611.1 490h2.2m-1.1-1.1v2.2M596.1 484.8h2.2m-1.1-1.1v2.2M528.8 471.1h2.2m-1.1-1.1v2.2M521.3 413.3h2.2m-1.1-1.1v2.2M588.6 466.1h2.2m-1.1-1.1v2.2M496.4 480.5h2.2m-1.1-1.1v2.2M441.5 411.7h2.2m-1.1-1.1v2.2M588.6 484.8h2.2m-1.1-1.1v2.2M571.2 467.2h2.2m-1.1-1.1v2.2M578.7 489.7h2.2m-1.1-1.1v2.2M616.1 490.5h2.2m-1.1-1.1v2.2M493.9 408.2h2.2m-1.1-1.1v2.2M516.3 455.4h2.2m-1.1-1.1v2.2M454 434.7h2.2m-1.1-1.1v2.2M613.6 489.4h2.2m-1.1-1.1v2.2M444 405.9h2.2m-1.1-1.1v2.2M578.7 474.7h2.2m-1.1-1.1v2.2M621.1 503.5h2.2m-1.1-1.1v2.2M523.8 454.1h2.2m-1.1-1.1v2.2M553.7 498.3h2.2m-1.1-1.1v2.2M528.8 434.1h2.2m-1.1-1.1v2.2M424.1 424.7h2.2m-1.1-1.1v2.2M568.7 483.6h2.2m-1.1-1.1v2.2M568.7 480h2.2m-1.1-1.1v2.2M566.2 485.4h2.2m-1.1-1.1v2.2M578.7 469.4h2.2m-1.1-1.1v2.2M528.8 446.7h2.2m-1.1-1.1v2.2M533.8 444.5h2.2m-1.1-1.1v2.2M613.6 498h2.2m-1.1-1.1v2.2M621.1 503h2.2m-1.1-1.1v2.2M578.7 454.9h2.2m-1.1-1.1v2.2M491.4 431.2h2.2m-1.1-1.1v2.2M511.3 452.1h2.2m-1.1-1.1v2.2M501.4 432.2h2.2m-1.1-1.1v2.2M611.1 491.4h2.2m-1.1-1.1v2.2M473.9 443.8h2.2m-1.1-1.1v2.2M561.2 451.8h2.2m-1.1-1.1v2.2M513.8 460.6h2.2m-1.1-1.1v2.2M481.4 462.8h2.2m-1.1-1.1v2.2M606.1 486.4h2.2m-1.1-1.1v2.2M466.5 454.4h2.2m-1.1-1.1v2.2M568.7 443h2.2m-1.1-1.1v2.2M596.1 493.5h2.2m-1.1-1.1v2.2M543.8 469h2.2m-1.1-1.1v2.2M488.9 424.4h2.2m-1.1-1.1v2.2M511.3 430.2h2.2m-1.1-1.1v2.2M563.7 470.7h2.2m-1.1-1.1v2.2M618.6 504.2h2.2m-1.1-1.1v2.2M533.8 441.9h2.2m-1.1-1.1v2.2M623.5 503.4h2.2m-1.1-1.1v2.2M588.6 499.2h2.2m-1.1-1.1v2.2M513.8 468.6h2.2m-1.1-1.1v2.2M469 452.2h2.2m-1.1-1.1v2.2M546.3 455.4h2.2m-1.1-1.1v2.2M556.2 463.1h2.2m-1.1-1.1v2.2M611.1 491.5h2.2m-1.1-1.1v2.2M606.1 489.6h2.2m-1.1-1.1v2.2M588.6 482h2.2m-1.1-1.1v2.2M621.1 500.7h2.2m-1.1-1.1v2.2M511.3 410.9h2.2m-1.1-1.1v2.2M568.7 450h2.2m-1.1-1.1v2.2M531.3 467.3h2.2m-1.1-1.1v2.2M576.2 474.4h2.2m-1.1-1.1v2.2M593.6 495.6h2.2m-1.1-1.1v2.2M576.2 486h2.2m-1.1-1.1v2.2M621.1 502.4h2.2m-1.1-1.1v2.2M543.8 490.5h2.2m-1.1-1.1v2.2M508.9 455.9h2.2m-1.1-1.1v2.2M566.2 447.1h2.2m-1.1-1.1v2.2M606.1 483h2.2m-1.1-1.1v2.2M553.7 454.4h2.2m-1.1-1.1v2.2M603.6 492.9h2.2m-1.1-1.1v2.2M518.8 470.5h2.2m-1.1-1.1v2.2M581.2 460.8h2.2m-1.1-1.1v2.2M523.8 460h2.2m-1.1-1.1v2.2M591.1 475.9h2.2m-1.1-1.1v2.2M591.1 491.4h2.2m-1.1-1.1v2.2M618.6 493.3h2.2m-1.1-1.1v2.2M611.1 499.8h2.2m-1.1-1.1v2.2M608.6 496.1h2.2m-1.1-1.1v2.2M546.3 460.3h2.2m-1.1-1.1v2.2M551.2 493.5h2.2m-1.1-1.1v2.2M533.8 478.5h2.2m-1.1-1.1v2.2M488.9 438.6h2.2m-1.1-1.1v2.2M536.3 463h2.2m-1.1-1.1v2.2M576.2 457.7h2.2m-1.1-1.1v2.2M621.1 495.2h2.2m-1.1-1.1v2.2M586.1 485.4h2.2m-1.1-1.1v2.2M603.6 485.2h2.2m-1.1-1.1v2.2M578.7 470.7h2.2m-1.1-1.1v2.2M501.4 443h2.2m-1.1-1.1v2.2M546.3 478.7h2.2m-1.1-1.1v2.2M583.7 495.4h2.2m-1.1-1.1v2.2M606.1 494.3h2.2m-1.1-1.1v2.2M583.7 486.6h2.2m-1.1-1.1v2.2M563.7 454h2.2m-1.1-1.1v2.2M578.7 465.6h2.2m-1.1-1.1v2.2M606.1 487.9h2.2m-1.1-1.1v2.2M576.2 454.1h2.2m-1.1-1.1v2.2M606.1 485.8h2.2m-1.1-1.1v2.2M553.7 466.6h2.2m-1.1-1.1v2.2M613.6 499.2h2.2m-1.1-1.1v2.2M441.5 418h2.2m-1.1-1.1v2.2M616.1 495.9h2.2m-1.1-1.1v2.2M541.3 484h2.2m-1.1-1.1v2.2M543.8 436h2.2m-1.1-1.1v2.2M608.6 487.9h2.2m-1.1-1.1v2.2M563.7 454.4h2.2m-1.1-1.1v2.2M528.8 437.7h2.2m-1.1-1.1v2.2M516.3 479.2h2.2m-1.1-1.1v2.2M501.4 425.5h2.2m-1.1-1.1v2.2M588.6 479.9h2.2m-1.1-1.1v2.2M618.6 497.9h2.2m-1.1-1.1v2.2M478.9 434.4h2.2m-1.1-1.1v2.2M608.6 485.9h2.2m-1.1-1.1v2.2M481.4 434.8h2.2m-1.1-1.1v2.2M621.1 500.1h2.2m-1.1-1.1v2.2M558.7 456h2.2m-1.1-1.1v2.2M553.7 482h2.2m-1.1-1.1v2.2M486.4 418.3h2.2m-1.1-1.1v2.2M488.9 429.9h2.2m-1.1-1.1v2.2M541.3 455.9h2.2m-1.1-1.1v2.2M523.8 470.2h2.2m-1.1-1.1v2.2M536.3 455.8h2.2m-1.1-1.1v2.2M561.2 470h2.2m-1.1-1.1v2.2M578.7 466.1h2.2m-1.1-1.1v2.2M601.1 483.4h2.2m-1.1-1.1v2.2M608.6 500.7h2.2m-1.1-1.1v2.2M603.6 486.5h2.2m-1.1-1.1v2.2M506.4 472.1h2.2m-1.1-1.1v2.2M613.6 498.4h2.2m-1.1-1.1v2.2M449 418.9h2.2m-1.1-1.1v2.2M478.9 455.9h2.2m-1.1-1.1v2.2M568.7 465.2h2.2m-1.1-1.1v2.2M508.9 466h2.2m-1.1-1.1v2.2M598.6 493.7h2.2m-1.1-1.1v2.2M568.7 451.7h2.2m-1.1-1.1v2.2M571.2 485.4h2.2m-1.1-1.1v2.2M469 443.8h2.2m-1.1-1.1v2.2M471.5 420.4h2.2m-1.1-1.1v2.2M583.7 494.5h2.2m-1.1-1.1v2.2M511.3 459.2h2.2m-1.1-1.1v2.2M616.1 498.2h2.2m-1.1-1.1v2.2M593.6 483.4h2.2m-1.1-1.1v2.2M523.8 487.3h2.2m-1.1-1.1v2.2M548.7 432.6h2.2m-1.1-1.1v2.2M528.8 460.2h2.2m-1.1-1.1v2.2M581.2 470.4h2.2m-1.1-1.1v2.2M551.2 465.8h2.2m-1.1-1.1v2.2M546.3 473h2.2m-1.1-1.1v2.2M596.1 483.5h2.2m-1.1-1.1v2.2M553.7 493.5h2.2m-1.1-1.1v2.2M591.1 467.6h2.2m-1.1-1.1v2.2M483.9 430.9h2.2m-1.1-1.1v2.2M493.9 408.4h2.2m-1.1-1.1v2.2M608.6 494.3h2.2m-1.1-1.1v2.2M598.6 496.6h2.2m-1.1-1.1v2.2M429.1 416.9h2.2m-1.1-1.1v2.2M526.3 447.3h2.2m-1.1-1.1v2.2M576.2 494.2h2.2m-1.1-1.1v2.2M483.9 465.1h2.2m-1.1-1.1v2.2M558.7 457.9h2.2m-1.1-1.1v2.2M543.8 467.1h2.2m-1.1-1.1v2.2M583.7 471.4h2.2m-1.1-1.1v2.2M546.3 440.4h2.2m-1.1-1.1v2.2M473.9 446.1h2.2m-1.1-1.1v2.2M578.7 467.4h2.2m-1.1-1.1v2.2M586.1 493.5h2.2m-1.1-1.1v2.2M506.4 415.7h2.2m-1.1-1.1v2.2M608.6 491.5h2.2m-1.1-1.1v2.2M531.3 485.6h2.2m-1.1-1.1v2.2M593.6 491.8h2.2m-1.1-1.1v2.2M506.4 415.3h2.2m-1.1-1.1v2.2M456.5 430.2h2.2m-1.1-1.1v2.2M596.1 480.1h2.2m-1.1-1.1v2.2M501.4 440.6h2.2m-1.1-1.1v2.2M601.1 496.5h2.2m-1.1-1.1v2.2M603.6 500.8h2.2m-1.1-1.1v2.2M581.2 474.9h2.2m-1.1-1.1v2.2M578.7 464.8h2.2m-1.1-1.1v2.2M461.5 432h2.2m-1.1-1.1v2.2M561.2 478.7h2.2m-1.1-1.1v2.2M488.9 432.9h2.2m-1.1-1.1v2.2M506.4 457h2.2m-1.1-1.1v2.2M429.1 419.8h2.2m-1.1-1.1v2.2M583.7 475.2h2.2m-1.1-1.1v2.2M596.1 481.5h2.2m-1.1-1.1v2.2M553.7 460.7h2.2m-1.1-1.1v2.2M446.5 390.3h2.2m-1.1-1.1v2.2M521.3 418.3h2.2m-1.1-1.1v2.2M478.9 448.8h2.2m-1.1-1.1v2.2M623.5 502.7h2.2m-1.1-1.1v2.2M533.8 439.2h2.2m-1.1-1.1v2.2M538.8 472h2.2m-1.1-1.1v2.2M568.7 464.1h2.2m-1.1-1.1v2.2M538.8 478.6h2.2m-1.1-1.1v2.2M573.7 464.5h2.2m-1.1-1.1v2.2M571.2 473.9h2.2m-1.1-1.1v2.2M571.2 456.7h2.2m-1.1-1.1v2.2M616.1 496.8h2.2m-1.1-1.1v2.2M571.2 456.5h2.2m-1.1-1.1v2.2M498.9 447.3h2.2m-1.1-1.1v2.2M591.1 476.2h2.2m-1.1-1.1v2.2M616.1 495.4h2.2m-1.1-1.1v2.2M536.3 480.7h2.2m-1.1-1.1v2.2M621.1 501.8h2.2m-1.1-1.1v2.2M533.8 435.2h2.2m-1.1-1.1v2.2M593.6 482.2h2.2m-1.1-1.1v2.2M546.3 472.9h2.2m-1.1-1.1v2.2M603.6 493.8h2.2m-1.1-1.1v2.2M528.8 471.1h2.2m-1.1-1.1v2.2M618.6 499.6h2.2m-1.1-1.1v2.2M576.2 496.8h2.2m-1.1-1.1v2.2M526.3 436.2h2.2m-1.1-1.1v2.2M508.9 470.3h2.2m-1.1-1.1v2.2M516.3 436.1h2.2m-1.1-1.1v2.2M603.6 494.3h2.2m-1.1-1.1v2.2M588.6 475h2.2m-1.1-1.1v2.2M543.8 439.5h2.2m-1.1-1.1v2.2M523.8 459h2.2m-1.1-1.1v2.2M533.8 427.2h2.2m-1.1-1.1v2.2M488.9 410.1h2.2m-1.1-1.1v2.2M601.1 476.7h2.2m-1.1-1.1v2.2M496.4 448.6h2.2m-1.1-1.1v2.2M551.2 446.3h2.2m-1.1-1.1v2.2M536.3 430.4h2.2m-1.1-1.1v2.2M621.1 500.3h2.2m-1.1-1.1v2.2M608.6 485.5h2.2m-1.1-1.1v2.2M543.8 467.1h2.2m-1.1-1.1v2.2M596.1 492.9h2.2m-1.1-1.1v2.2M571.2 493.8h2.2m-1.1-1.1v2.2M608.6 488.2h2.2m-1.1-1.1v2.2M496.4 435.5h2.2m-1.1-1.1v2.2M548.7 472.6h2.2m-1.1-1.1v2.2M588.6 473.3h2.2m-1.1-1.1v2.2M483.9 459.1h2.2m-1.1-1.1v2.2M546.3 475h2.2m-1.1-1.1v2.2M603.6 486.7h2.2m-1.1-1.1v2.2M603.6 479.8h2.2m-1.1-1.1v2.2M591.1 472h2.2m-1.1-1.1v2.2M506.4 432.1h2.2m-1.1-1.1v2.2M578.7 470.1h2.2m-1.1-1.1v2.2M461.5 429.4h2.2m-1.1-1.1v2.2M553.7 435.8h2.2m-1.1-1.1v2.2M601.1 500.6h2.2m-1.1-1.1v2.2M523.8 452.2h2.2m-1.1-1.1v2.2M426.6 419.5h2.2m-1.1-1.1v2.2M566.2 461.4h2.2m-1.1-1.1v2.2M444 409.6h2.2m-1.1-1.1v2.2M601.1 491.4h2.2m-1.1-1.1v2.2M611.1 502.3h2.2m-1.1-1.1v2.2M583.7 482.1h2.2m-1.1-1.1v2.2M601.1 481.9h2.2m-1.1-1.1v2.2M568.7 484.8h2.2m-1.1-1.1v2.2M556.2 445.2h2.2m-1.1-1.1v2.2M578.7 463.9h2.2m-1.1-1.1v2.2M478.9 415h2.2m-1.1-1.1v2.2M618.6 495.6h2.2m-1.1-1.1v2.2M483.9 465h2.2m-1.1-1.1v2.2M586.1 468.3h2.2m-1.1-1.1v2.2M546.3 468h2.2m-1.1-1.1v2.2M503.9 452.8h2.2m-1.1-1.1v2.2M556.2 471.2h2.2m-1.1-1.1v2.2M546.3 479.4h2.2m-1.1-1.1v2.2M508.9 445.6h2.2m-1.1-1.1v2.2M581.2 488.5h2.2m-1.1-1.1v2.2M606.1 481h2.2m-1.1-1.1v2.2M568.7 459.6h2.2m-1.1-1.1v2.2M543.8 457.2h2.2m-1.1-1.1v2.2M613.6 499.9h2.2m-1.1-1.1v2.2M576.2 461.8h2.2m-1.1-1.1v2.2M601.1 491h2.2m-1.1-1.1v2.2M578.7 459.7h2.2m-1.1-1.1v2.2M543.8 432.9h2.2m-1.1-1.1v2.2M513.8 422.9h2.2m-1.1-1.1v2.2M618.6 502.6h2.2m-1.1-1.1v2.2M591.1 482.2h2.2m-1.1-1.1v2.2M603.6 501.3h2.2m-1.1-1.1v2.2M588.6 474.3h2.2m-1.1-1.1v2.2M481.4 402.1h2.2m-1.1-1.1v2.2M536.3 431.6h2.2m-1.1-1.1v2.2M531.3 444.3h2.2m-1.1-1.1v2.2M538.8 457.4h2.2m-1.1-1.1v2.2M593.6 474.8h2.2m-1.1-1.1v2.2M608.6 500h2.2m-1.1-1.1v2.2M493.9 439.9h2.2m-1.1-1.1v2.2M588.6 487.6h2.2m-1.1-1.1v2.2M498.9 449.6h2.2m-1.1-1.1v2.2M578.7 467.3h2.2m-1.1-1.1v2.2M573.7 462.4h2.2m-1.1-1.1v2.2M496.4 426.3h2.2m-1.1-1.1v2.2M606.1 486h2.2m-1.1-1.1v2.2M596.1 488.9h2.2m-1.1-1.1v2.2M531.3 438.7h2.2m-1.1-1.1v2.2M608.6 498.6h2.2m-1.1-1.1v2.2M493.9 434.9h2.2m-1.1-1.1v2.2M488.9 447.7h2.2m-1.1-1.1v2.2M478.9 423.7h2.2m-1.1-1.1v2.2M533.8 464.2h2.2m-1.1-1.1v2.2M608.6 490.5h2.2m-1.1-1.1v2.2M518.8 435.1h2.2m-1.1-1.1v2.2M553.7 473.1h2.2m-1.1-1.1v2.2M533.8 483.8h2.2m-1.1-1.1v2.2M593.6 473.5h2.2m-1.1-1.1v2.2M496.4 464.1h2.2m-1.1-1.1v2.2M498.9 441.2h2.2m-1.1-1.1v2.2M526.3 423.9h2.2m-1.1-1.1v2.2M598.6 497.2h2.2m-1.1-1.1v2.2M578.7 490.1h2.2m-1.1-1.1v2.2M616.1 492.3h2.2m-1.1-1.1v2.2M611.1 498.1h2.2m-1.1-1.1v2.2M538.8 464.3h2.2m-1.1-1.1v2.2M556.2 459.2h2.2m-1.1-1.1v2.2M576.2 494.9h2.2m-1.1-1.1v2.2M601.1 491.4h2.2m-1.1-1.1v2.2M588.6 492.7h2.2m-1.1-1.1v2.2M566.2 487.5h2.2m-1.1-1.1v2.2M541.3 427.4h2.2m-1.1-1.1v2.2M496.4 415.1h2.2m-1.1-1.1v2.2M531.3 425.3h2.2m-1.1-1.1v2.2M571.2 476.1h2.2m-1.1-1.1v2.2M419.1 402.5h2.2m-1.1-1.1v2.2M553.7 481.4h2.2m-1.1-1.1v2.2M603.6 487.8h2.2m-1.1-1.1v2.2M583.7 476.4h2.2m-1.1-1.1v2.2M601.1 489.3h2.2m-1.1-1.1v2.2M439 394.5h2.2m-1.1-1.1v2.2M488.9 418.9h2.2m-1.1-1.1v2.2M568.7 481.6h2.2m-1.1-1.1v2.2M543.8 485.1h2.2m-1.1-1.1v2.2M608.6 494.1h2.2m-1.1-1.1v2.2M583.7 463.3h2.2m-1.1-1.1v2.2M464 412.5h2.2m-1.1-1.1v2.2M528.8 445.3h2.2m-1.1-1.1v2.2M611.1 486.2h2.2m-1.1-1.1v2.2M561.2 495.7h2.2m-1.1-1.1v2.2M414.1 405.5h2.2m-1.1-1.1v2.2M606.1 488.5h2.2m-1.1-1.1v2.2M513.8 461.2h2.2m-1.1-1.1v2.2M576.2 480.5h2.2m-1.1-1.1v2.2M583.7 487.8h2.2m-1.1-1.1v2.2M553.7 493.9h2.2m-1.1-1.1v2.2M434.1 415.3h2.2m-1.1-1.1v2.2M563.7 488.8h2.2m-1.1-1.1v2.2M623.5 500.5h2.2m-1.1-1.1v2.2M543.8 450.8h2.2m-1.1-1.1v2.2M591.1 495.3h2.2m-1.1-1.1v2.2M596.1 474.1h2.2m-1.1-1.1v2.2M536.3 465.6h2.2m-1.1-1.1v2.2M613.6 493.2h2.2m-1.1-1.1v2.2M601.1 486h2.2m-1.1-1.1v2.2M471.5 431.5h2.2m-1.1-1.1v2.2M588.6 464.1h2.2m-1.1-1.1v2.2M566.2 443.9h2.2m-1.1-1.1v2.2M581.2 476.6h2.2m-1.1-1.1v2.2M503.9 450.7h2.2m-1.1-1.1v2.2M533.8 445.6h2.2m-1.1-1.1v2.2M576.2 462.1h2.2m-1.1-1.1v2.2M538.8 449.7h2.2m-1.1-1.1v2.2M503.9 419.4h2.2m-1.1-1.1v2.2M491.4 438h2.2m-1.1-1.1v2.2M561.2 467.3h2.2m-1.1-1.1v2.2M451.5 399h2.2m-1.1-1.1v2.2M606.1 492.1h2.2m-1.1-1.1v2.2M581.2 485.1h2.2m-1.1-1.1v2.2M566.2 455.2h2.2m-1.1-1.1v2.2M581.2 460.8h2.2m-1.1-1.1v2.2M473.9 457h2.2m-1.1-1.1v2.2M521.3 435.8h2.2m-1.1-1.1v2.2M513.8 414.1h2.2m-1.1-1.1v2.2M541.3 467.3h2.2m-1.1-1.1v2.2M583.7 491.1h2.2m-1.1-1.1v2.2M513.8 453.3h2.2m-1.1-1.1v2.2M551.2 481.5h2.2m-1.1-1.1v2.2M548.7 462.7h2.2m-1.1-1.1v2.2M531.3 469.9h2.2m-1.1-1.1v2.2M621.1 496.4h2.2m-1.1-1.1v2.2M616.1 494.1h2.2m-1.1-1.1v2.2M571.2 461.4h2.2m-1.1-1.1v2.2M488.9 453.2h2.2m-1.1-1.1v2.2M551.2 470.3h2.2m-1.1-1.1v2.2M506.4 426.2h2.2m-1.1-1.1v2.2M533.8 439.1h2.2m-1.1-1.1v2.2M578.7 462.6h2.2m-1.1-1.1v2.2M588.6 475.1h2.2m-1.1-1.1v2.2M543.8 447.1h2.2m-1.1-1.1v2.2M488.9 466.3h2.2m-1.1-1.1v2.2M621.1 498.3h2.2m-1.1-1.1v2.2M498.9 477.4h2.2m-1.1-1.1v2.2M586.1 483.8h2.2m-1.1-1.1v2.2M454 416.3h2.2m-1.1-1.1v2.2M576.2 458.1h2.2m-1.1-1.1v2.2M516.3 480.4h2.2m-1.1-1.1v2.2M623.5 499.8h2.2m-1.1-1.1v2.2M508.9 482.1h2.2m-1.1-1.1v2.2M568.7 443.5h2.2m-1.1-1.1v2.2M528.8 452.2h2.2m-1.1-1.1v2.2M506.4 430h2.2m-1.1-1.1v2.2M518.8 444.3h2.2m-1.1-1.1v2.2M556.2 474h2.2m-1.1-1.1v2.2M581.2 466.1h2.2m-1.1-1.1v2.2M526.3 461.1h2.2m-1.1-1.1v2.2M491.4 453.7h2.2m-1.1-1.1v2.2M538.8 428.8h2.2m-1.1-1.1v2.2M508.9 428.6h2.2m-1.1-1.1v2.2M518.8 448.4h2.2m-1.1-1.1v2.2M546.3 441.3h2.2m-1.1-1.1v2.2M596.1 476.8h2.2m-1.1-1.1v2.2M621.1 496.8h2.2m-1.1-1.1v2.2M538.8 463h2.2m-1.1-1.1v2.2M603.6 488.8h2.2m-1.1-1.1v2.2M608.6 497.9h2.2m-1.1-1.1v2.2M444 430.3h2.2m-1.1-1.1v2.2M536.3 453.3h2.2m-1.1-1.1v2.2M526.3 465.6h2.2m-1.1-1.1v2.2M568.7 466h2.2m-1.1-1.1v2.2M613.6 497.4h2.2m-1.1-1.1v2.2M546.3 433.5h2.2m-1.1-1.1v2.2M616.1 495.8h2.2m-1.1-1.1v2.2M603.6 491.1h2.2m-1.1-1.1v2.2M426.6 396.7h2.2m-1.1-1.1v2.2M553.7 457.5h2.2m-1.1-1.1v2.2M588.6 470.7h2.2m-1.1-1.1v2.2M476.4 422.6h2.2m-1.1-1.1v2.2M548.7 471.6h2.2m-1.1-1.1v2.2M621.1 496.7h2.2m-1.1-1.1v2.2M616.1 498.2h2.2m-1.1-1.1v2.2M568.7 467.9h2.2m-1.1-1.1v2.2M528.8 439.2h2.2m-1.1-1.1v2.2M613.6 494.2h2.2m-1.1-1.1v2.2M553.7 492.9h2.2m-1.1-1.1v2.2M611.1 492.7h2.2m-1.1-1.1v2.2M588.6 476.1h2.2m-1.1-1.1v2.2M571.2 492h2.2m-1.1-1.1v2.2M603.6 492.1h2.2m-1.1-1.1v2.2M488.9 459.4h2.2m-1.1-1.1v2.2M521.3 477.9h2.2m-1.1-1.1v2.2M583.7 488.6h2.2m-1.1-1.1v2.2M591.1 478h2.2m-1.1-1.1v2.2M516.3 443.5h2.2m-1.1-1.1v2.2M528.8 440.4h2.2m-1.1-1.1v2.2M491.4 423.8h2.2m-1.1-1.1v2.2M618.6 495.1h2.2m-1.1-1.1v2.2M591.1 491h2.2m-1.1-1.1v2.2M536.3 452.7h2.2m-1.1-1.1v2.2M608.6 501.3h2.2m-1.1-1.1v2.2M616.1 489.1h2.2m-1.1-1.1v2.2M581.2 460.7h2.2m-1.1-1.1v2.2M571.2 468.3h2.2m-1.1-1.1v2.2M518.8 451.7h2.2m-1.1-1.1v2.2M571.2 460.4h2.2m-1.1-1.1v2.2M608.6 495.1h2.2m-1.1-1.1v2.2M563.7 478.4h2.2m-1.1-1.1v2.2M573.7 470.9h2.2m-1.1-1.1v2.2M568.7 472.4h2.2m-1.1-1.1v2.2M571.2 463.9h2.2m-1.1-1.1v2.2M608.6 497h2.2m-1.1-1.1v2.2M541.3 443.9h2.2m-1.1-1.1v2.2M561.2 468.9h2.2m-1.1-1.1v2.2M616.1 491.9h2.2m-1.1-1.1v2.2M598.6 493.3h2.2m-1.1-1.1v2.2M571.2 460.1h2.2m-1.1-1.1v2.2M449 399.6h2.2m-1.1-1.1v2.2M516.3 425.4h2.2m-1.1-1.1v2.2M573.7 475.5h2.2m-1.1-1.1v2.2M588.6 477.7h2.2m-1.1-1.1v2.2M616.1 503h2.2m-1.1-1.1v2.2M606.1 485.7h2.2m-1.1-1.1v2.2M566.2 491.2h2.2m-1.1-1.1v2.2M603.6 478.1h2.2m-1.1-1.1v2.2M556.2 453h2.2m-1.1-1.1v2.2M476.4 426.5h2.2m-1.1-1.1v2.2M516.3 447.2h2.2m-1.1-1.1v2.2M486.4 423.7h2.2m-1.1-1.1v2.2M506.4 460.5h2.2m-1.1-1.1v2.2M593.6 491.5h2.2m-1.1-1.1v2.2M603.6 497.3h2.2m-1.1-1.1v2.2M498.9 418.4h2.2m-1.1-1.1v2.2M498.9 459.7h2.2m-1.1-1.1v2.2M533.8 446.4h2.2m-1.1-1.1v2.2M608.6 483.2h2.2m-1.1-1.1v2.2M444 413h2.2m-1.1-1.1v2.2M621.1 502.4h2.2m-1.1-1.1v2.2M503.9 470.3h2.2m-1.1-1.1v2.2M576.2 472h2.2m-1.1-1.1v2.2M556.2 465.3h2.2m-1.1-1.1v2.2M591.1 484.6h2.2m-1.1-1.1v2.2M526.3 427.1h2.2m-1.1-1.1v2.2M491.4 448.2h2.2m-1.1-1.1v2.2M621.1 504h2.2m-1.1-1.1v2.2M606.1 487h2.2m-1.1-1.1v2.2M521.3 465.5h2.2m-1.1-1.1v2.2M591.1 494.2h2.2m-1.1-1.1v2.2M608.6 501.3h2.2m-1.1-1.1v2.2M621.1 496.3h2.2m-1.1-1.1v2.2M563.7 469.5h2.2m-1.1-1.1v2.2M598.6 493.3h2.2m-1.1-1.1v2.2M491.4 473.5h2.2m-1.1-1.1v2.2M596.1 491.2h2.2m-1.1-1.1v2.2M606.1 492.7h2.2m-1.1-1.1v2.2M471.5 443.5h2.2m-1.1-1.1v2.2M596.1 487.1h2.2m-1.1-1.1v2.2M611.1 492.4h2.2m-1.1-1.1v2.2M538.8 432.8h2.2m-1.1-1.1v2.2M469 399.9h2.2m-1.1-1.1v2.2M548.7 460.7h2.2m-1.1-1.1v2.2M476.4 433.9h2.2m-1.1-1.1v2.2M498.9 408.2h2.2m-1.1-1.1v2.2M551.2 462.9h2.2m-1.1-1.1v2.2M613.6 487.8h2.2m-1.1-1.1v2.2M583.7 466.7h2.2m-1.1-1.1v2.2M518.8 435.8h2.2m-1.1-1.1v2.2M513.8 418.1h2.2m-1.1-1.1v2.2M541.3 461.7h2.2m-1.1-1.1v2.2M563.7 469.2h2.2m-1.1-1.1v2.2M488.9 401.4h2.2m-1.1-1.1v2.2M536.3 434.2h2.2m-1.1-1.1v2.2M503.9 415.5h2.2m-1.1-1.1v2.2M546.3 463.9h2.2m-1.1-1.1v2.2M558.7 472.4h2.2m-1.1-1.1v2.2M541.3 443.8h2.2m-1.1-1.1v2.2M576.2 468.8h2.2m-1.1-1.1v2.2M473.9 416h2.2m-1.1-1.1v2.2M464 438.1h2.2m-1.1-1.1v2.2M621.1 500.6h2.2m-1.1-1.1v2.2M493.9 408.9h2.2m-1.1-1.1v2.2M518.8 432.9h2.2m-1.1-1.1v2.2M621.1 502.7h2.2m-1.1-1.1v2.2M548.7 487.5h2.2m-1.1-1.1v2.2M618.6 496.6h2.2m-1.1-1.1v2.2M521.3 431.7h2.2m-1.1-1.1v2.2M568.7 490.7h2.2m-1.1-1.1v2.2M571.2 473.4h2.2m-1.1-1.1v2.2M526.3 447.1h2.2m-1.1-1.1v2.2M503.9 456.3h2.2m-1.1-1.1v2.2M533.8 469.6h2.2m-1.1-1.1v2.2M618.6 495.7h2.2m-1.1-1.1v2.2M606.1 484.8h2.2m-1.1-1.1v2.2M611.1 489.3h2.2m-1.1-1.1v2.2M513.8 456.5h2.2m-1.1-1.1v2.2M548.7 456.2h2.2m-1.1-1.1v2.2M578.7 491.1h2.2m-1.1-1.1v2.2M553.7 472.8h2.2m-1.1-1.1v2.2M618.6 496.9h2.2m-1.1-1.1v2.2M491.4 417.8h2.2m-1.1-1.1v2.2M563.7 492.3h2.2m-1.1-1.1v2.2M511.3 451.7h2.2m-1.1-1.1v2.2M623.5 502.1h2.2m-1.1-1.1v2.2M449 439.6h2.2m-1.1-1.1v2.2M621.1 497.9h2.2m-1.1-1.1v2.2M611.1 492.7h2.2m-1.1-1.1v2.2M583.7 479.4h2.2m-1.1-1.1v2.2M618.6 493.2h2.2m-1.1-1.1v2.2M436.5 408.2h2.2m-1.1-1.1v2.2M568.7 448.4h2.2m-1.1-1.1v2.2M578.7 464.2h2.2m-1.1-1.1v2.2M506.4 479.9h2.2m-1.1-1.1v2.2M601.1 486.7h2.2m-1.1-1.1v2.2M498.9 414.8h2.2m-1.1-1.1v2.2M543.8 457.4h2.2m-1.1-1.1v2.2M558.7 439.4h2.2m-1.1-1.1v2.2M561.2 449h2.2m-1.1-1.1v2.2M571.2 484.9h2.2m-1.1-1.1v2.2M601.1 492.9h2.2m-1.1-1.1v2.2M466.5 448.4h2.2m-1.1-1.1v2.2M613.6 499.9h2.2m-1.1-1.1v2.2M478.9 454.2h2.2m-1.1-1.1v2.2M451.5 446.7h2.2m-1.1-1.1v2.2M491.4 409.4h2.2m-1.1-1.1v2.2M613.6 500.3h2.2m-1.1-1.1v2.2M613.6 502.5h2.2m-1.1-1.1v2.2M543.8 478.4h2.2m-1.1-1.1v2.2M551.2 473.2h2.2m-1.1-1.1v2.2M471.5 442.7h2.2m-1.1-1.1v2.2M473.9 448.6h2.2m-1.1-1.1v2.2M578.7 472.4h2.2m-1.1-1.1v2.2M461.5 437.7h2.2m-1.1-1.1v2.2M571.2 453.1h2.2m-1.1-1.1v2.2M506.4 440.2h2.2m-1.1-1.1v2.2M541.3 469.7h2.2m-1.1-1.1v2.2M593.6 480.8h2.2m-1.1-1.1v2.2M543.8 443.2h2.2m-1.1-1.1v2.2M513.8 436.8h2.2m-1.1-1.1v2.2M521.3 422.1h2.2m-1.1-1.1v2.2M563.7 458.7h2.2m-1.1-1.1v2.2M533.8 458.7h2.2m-1.1-1.1v2.2M538.8 475.2h2.2m-1.1-1.1v2.2M591.1 478h2.2m-1.1-1.1v2.2M516.3 444.8h2.2m-1.1-1.1v2.2M536.3 440.6h2.2m-1.1-1.1v2.2M541.3 482.5h2.2m-1.1-1.1v2.2M538.8 438.2h2.2m-1.1-1.1v2.2M578.7 487.3h2.2m-1.1-1.1v2.2M518.8 448h2.2m-1.1-1.1v2.2M596.1 487.7h2.2m-1.1-1.1v2.2M449 436h2.2m-1.1-1.1v2.2M616.1 499.4h2.2m-1.1-1.1v2.2M603.6 491.2h2.2m-1.1-1.1v2.2M541.3 479.6h2.2m-1.1-1.1v2.2M606.1 480.7h2.2m-1.1-1.1v2.2M586.1 459.6h2.2m-1.1-1.1v2.2M459 437.6h2.2m-1.1-1.1v2.2M591.1 498.3h2.2m-1.1-1.1v2.2M518.8 463.6h2.2m-1.1-1.1v2.2M616.1 491.7h2.2m-1.1-1.1v2.2M503.9 421.6h2.2m-1.1-1.1v2.2M521.3 434.6h2.2m-1.1-1.1v2.2M493.9 454h2.2m-1.1-1.1v2.2M613.6 494.7h2.2m-1.1-1.1v2.2M439 417.8h2.2m-1.1-1.1v2.2M606.1 499.7h2.2m-1.1-1.1v2.2M441.5 433h2.2m-1.1-1.1v2.2M613.6 494.8h2.2m-1.1-1.1v2.2M531.3 477.3h2.2m-1.1-1.1v2.2M598.6 473.8h2.2m-1.1-1.1v2.2M558.7 474h2.2m-1.1-1.1v2.2M533.8 468h2.2m-1.1-1.1v2.2M598.6 488.9h2.2m-1.1-1.1v2.2M476.4 458.5h2.2m-1.1-1.1v2.2M556.2 495.9h2.2m-1.1-1.1v2.2M444 396.9h2.2m-1.1-1.1v2.2M616.1 496.3h2.2m-1.1-1.1v2.2M608.6 496.5h2.2m-1.1-1.1v2.2M618.6 501.1h2.2m-1.1-1.1v2.2M556.2 455.3h2.2m-1.1-1.1v2.2M576.2 452.7h2.2m-1.1-1.1v2.2M588.6 477.3h2.2m-1.1-1.1v2.2M528.8 471.6h2.2m-1.1-1.1v2.2M618.6 496.8h2.2m-1.1-1.1v2.2M598.6 483.9h2.2m-1.1-1.1v2.2M498.9 435.1h2.2m-1.1-1.1v2.2M556.2 458.1h2.2m-1.1-1.1v2.2M481.4 469.2h2.2m-1.1-1.1v2.2M556.2 460h2.2m-1.1-1.1v2.2M588.6 477.6h2.2m-1.1-1.1v2.2M596.1 493.8h2.2m-1.1-1.1v2.2M588.6 476.5h2.2m-1.1-1.1v2.2M561.2 459h2.2m-1.1-1.1v2.2M573.7 457.4h2.2m-1.1-1.1v2.2M571.2 482.1h2.2m-1.1-1.1v2.2M598.6 493.2h2.2m-1.1-1.1v2.2M541.3 465.5h2.2m-1.1-1.1v2.2M541.3 475.1h2.2m-1.1-1.1v2.2M588.6 477.7h2.2m-1.1-1.1v2.2M586.1 489.2h2.2m-1.1-1.1v2.2M596.1 477.8h2.2m-1.1-1.1v2.2M558.7 450.4h2.2m-1.1-1.1v2.2M566.2 447.2h2.2m-1.1-1.1v2.2M478.9 413.4h2.2m-1.1-1.1v2.2M611.1 499.4h2.2m-1.1-1.1v2.2M481.4 425.3h2.2m-1.1-1.1v2.2M611.1 498h2.2m-1.1-1.1v2.2M426.6 401.6h2.2m-1.1-1.1v2.2M516.3 484.1h2.2m-1.1-1.1v2.2M583.7 467.8h2.2m-1.1-1.1v2.2M581.2 479h2.2m-1.1-1.1v2.2M521.3 440.1h2.2m-1.1-1.1v2.2M603.6 485.1h2.2m-1.1-1.1v2.2M568.7 475.9h2.2m-1.1-1.1v2.2M546.3 474.6h2.2m-1.1-1.1v2.2M471.5 458.7h2.2m-1.1-1.1v2.2M591.1 495.9h2.2m-1.1-1.1v2.2M486.4 451.2h2.2m-1.1-1.1v2.2M521.3 418.5h2.2m-1.1-1.1v2.2M603.6 487.8h2.2m-1.1-1.1v2.2M553.7 482.6h2.2m-1.1-1.1v2.2M571.2 485.4h2.2m-1.1-1.1v2.2M616.1 493h2.2m-1.1-1.1v2.2M434.1 414.2h2.2m-1.1-1.1v2.2M548.7 488.1h2.2m-1.1-1.1v2.2M573.7 466.9h2.2m-1.1-1.1v2.2M543.8 455.8h2.2m-1.1-1.1v2.2M556.2 452.9h2.2m-1.1-1.1v2.2M621.1 501.6h2.2m-1.1-1.1v2.2M581.2 485h2.2m-1.1-1.1v2.2M593.6 500.8h2.2m-1.1-1.1v2.2M563.7 463.9h2.2m-1.1-1.1v2.2M511.3 487.5h2.2m-1.1-1.1v2.2M573.7 473.7h2.2m-1.1-1.1v2.2M531.3 460.9h2.2m-1.1-1.1v2.2M611.1 490.2h2.2m-1.1-1.1v2.2M546.3 475.2h2.2m-1.1-1.1v2.2M588.6 465.7h2.2m-1.1-1.1v2.2M546.3 459.9h2.2m-1.1-1.1v2.2M528.8 478.3h2.2m-1.1-1.1v2.2M608.6 497.4h2.2m-1.1-1.1v2.2M558.7 453.8h2.2m-1.1-1.1v2.2M568.7 478.1h2.2m-1.1-1.1v2.2M566.2 476.4h2.2m-1.1-1.1v2.2M491.4 423.2h2.2m-1.1-1.1v2.2M506.4 447.5h2.2m-1.1-1.1v2.2M511.3 419.9h2.2m-1.1-1.1v2.2M611.1 489.9h2.2m-1.1-1.1v2.2M591.1 496.7h2.2m-1.1-1.1v2.2M503.9 459.1h2.2m-1.1-1.1v2.2M596.1 499.7h2.2m-1.1-1.1v2.2M551.2 455.9h2.2m-1.1-1.1v2.2M518.8 426.2h2.2m-1.1-1.1v2.2M498.9 421.7h2.2m-1.1-1.1v2.2M558.7 484.9h2.2m-1.1-1.1v2.2M593.6 499.5h2.2m-1.1-1.1v2.2M506.4 448.2h2.2m-1.1-1.1v2.2M516.3 449.8h2.2m-1.1-1.1v2.2M601.1 499.1h2.2m-1.1-1.1v2.2M591.1 497.8h2.2m-1.1-1.1v2.2M618.6 494.8h2.2m-1.1-1.1v2.2M566.2 449.5h2.2m-1.1-1.1v2.2M601.1 479.2h2.2m-1.1-1.1v2.2M538.8 453h2.2m-1.1-1.1v2.2M568.7 446.3h2.2m-1.1-1.1v2.2M583.7 485.6h2.2m-1.1-1.1v2.2M576.2 481.8h2.2m-1.1-1.1v2.2M503.9 408h2.2m-1.1-1.1v2.2M618.6 494h2.2m-1.1-1.1v2.2M548.7 459.6h2.2m-1.1-1.1v2.2M543.8 468.4h2.2m-1.1-1.1v2.2M491.4 432.4h2.2m-1.1-1.1v2.2M578.7 499.3h2.2m-1.1-1.1v2.2M556.2 462.2h2.2m-1.1-1.1v2.2M603.6 479.6h2.2m-1.1-1.1v2.2M526.3 460.3h2.2m-1.1-1.1v2.2M611.1 488h2.2m-1.1-1.1v2.2M434.1 419.5h2.2m-1.1-1.1v2.2M593.6 488.9h2.2m-1.1-1.1v2.2M563.7 449.6h2.2m-1.1-1.1v2.2M596.1 488.4h2.2m-1.1-1.1v2.2M496.4 456h2.2m-1.1-1.1v2.2M543.8 479h2.2m-1.1-1.1v2.2M523.8 479.9h2.2m-1.1-1.1v2.2M553.7 469.8h2.2m-1.1-1.1v2.2M486.4 472.7h2.2m-1.1-1.1v2.2M621.1 501.1h2.2m-1.1-1.1v2.2M603.6 499.4h2.2m-1.1-1.1v2.2M618.6 500.4h2.2m-1.1-1.1v2.2M526.3 421.5h2.2m-1.1-1.1v2.2M511.3 415.1h2.2m-1.1-1.1v2.2M518.8 453.3h2.2m-1.1-1.1v2.2M518.8 459.9h2.2m-1.1-1.1v2.2M573.7 454.2h2.2m-1.1-1.1v2.2M591.1 491h2.2m-1.1-1.1v2.2M541.3 461.8h2.2m-1.1-1.1v2.2M598.6 488.8h2.2m-1.1-1.1v2.2M593.6 494.8h2.2m-1.1-1.1v2.2M558.7 453.2h2.2m-1.1-1.1v2.2M603.6 489.1h2.2m-1.1-1.1v2.2M503.9 422.9h2.2m-1.1-1.1v2.2M603.6 500.3h2.2m-1.1-1.1v2.2M506.4 451.1h2.2m-1.1-1.1v2.2M541.3 456.7h2.2m-1.1-1.1v2.2M563.7 474.1h2.2m-1.1-1.1v2.2M606.1 491.2h2.2m-1.1-1.1v2.2M548.7 471.2h2.2m-1.1-1.1v2.2M551.2 454.8h2.2m-1.1-1.1v2.2M563.7 457.4h2.2m-1.1-1.1v2.2M459 418.7h2.2m-1.1-1.1v2.2M518.8 431.8h2.2m-1.1-1.1v2.2M618.6 504.3h2.2m-1.1-1.1v2.2M598.6 496.4h2.2m-1.1-1.1v2.2M516.3 418.7h2.2m-1.1-1.1v2.2M623.5 502.2h2.2m-1.1-1.1v2.2M546.3 476.6h2.2m-1.1-1.1v2.2M616.1 490.8h2.2m-1.1-1.1v2.2M583.7 479.8h2.2m-1.1-1.1v2.2M521.3 432.2h2.2m-1.1-1.1v2.2M476.4 429.8h2.2m-1.1-1.1v2.2M501.4 450.3h2.2m-1.1-1.1v2.2M528.8 489h2.2m-1.1-1.1v2.2M566.2 459.3h2.2m-1.1-1.1v2.2M568.7 468.9h2.2m-1.1-1.1v2.2M546.3 458.8h2.2m-1.1-1.1v2.2M556.2 492h2.2m-1.1-1.1v2.2M478.9 432.2h2.2m-1.1-1.1v2.2M621.1 504.5h2.2m-1.1-1.1v2.2M563.7 486h2.2m-1.1-1.1v2.2M601.1 496.1h2.2m-1.1-1.1v2.2M528.8 436.5h2.2m-1.1-1.1v2.2M621.1 498h2.2m-1.1-1.1v2.2M528.8 442.9h2.2m-1.1-1.1v2.2M551.2 439h2.2m-1.1-1.1v2.2M536.3 488.7h2.2m-1.1-1.1v2.2M528.8 436.7h2.2m-1.1-1.1v2.2M568.7 474.6h2.2m-1.1-1.1v2.2M613.6 498h2.2m-1.1-1.1v2.2M461.5 412.4h2.2m-1.1-1.1v2.2M558.7 492.6h2.2m-1.1-1.1v2.2M596.1 475.9h2.2m-1.1-1.1v2.2M546.3 436.9h2.2m-1.1-1.1v2.2M588.6 481.3h2.2m-1.1-1.1v2.2M563.7 482.2h2.2m-1.1-1.1v2.2M523.8 425.2h2.2m-1.1-1.1v2.2M566.2 460.4h2.2m-1.1-1.1v2.2M578.7 480.6h2.2m-1.1-1.1v2.2M563.7 484.1h2.2m-1.1-1.1v2.2M526.3 461.3h2.2m-1.1-1.1v2.2M546.3 486.7h2.2m-1.1-1.1v2.2M571.2 454.7h2.2m-1.1-1.1v2.2M588.6 481h2.2m-1.1-1.1v2.2M593.6 483.7h2.2m-1.1-1.1v2.2M548.7 463.8h2.2m-1.1-1.1v2.2M496.4 449h2.2m-1.1-1.1v2.2M578.7 495.4h2.2m-1.1-1.1v2.2M588.6 498.9h2.2m-1.1-1.1v2.2M563.7 462.1h2.2m-1.1-1.1v2.2M531.3 463.2h2.2m-1.1-1.1v2.2M601.1 484.5h2.2m-1.1-1.1v2.2M613.6 502.7h2.2m-1.1-1.1v2.2M533.8 472.6h2.2m-1.1-1.1v2.2M506.4 411.9h2.2m-1.1-1.1v2.2M513.8 427.8h2.2m-1.1-1.1v2.2M526.3 428.1h2.2m-1.1-1.1v2.2M511.3 421h2.2m-1.1-1.1v2.2M608.6 487.3h2.2m-1.1-1.1v2.2M444 404.3h2.2m-1.1-1.1v2.2M491.4 462.2h2.2m-1.1-1.1v2.2M518.8 465.4h2.2m-1.1-1.1v2.2M586.1 477.7h2.2m-1.1-1.1v2.2M588.6 475.6h2.2m-1.1-1.1v2.2M546.3 493.7h2.2m-1.1-1.1v2.2M558.7 468.7h2.2m-1.1-1.1v2.2M571.2 459.6h2.2m-1.1-1.1v2.2M616.1 498.8h2.2m-1.1-1.1v2.2M546.3 475.3h2.2m-1.1-1.1v2.2M513.8 469.7h2.2m-1.1-1.1v2.2M596.1 480.8h2.2m-1.1-1.1v2.2M533.8 463.2h2.2m-1.1-1.1v2.2M434.1 441.7h2.2m-1.1-1.1v2.2M541.3 427.7h2.2m-1.1-1.1v2.2M461.5 420.4h2.2m-1.1-1.1v2.2M548.7 468.4h2.2m-1.1-1.1v2.2M518.8 413.6h2.2m-1.1-1.1v2.2M611.1 485.1h2.2m-1.1-1.1v2.2M603.6 491.4h2.2m-1.1-1.1v2.2M608.6 491.9h2.2m-1.1-1.1v2.2M573.7 482.9h2.2m-1.1-1.1v2.2M556.2 456.8h2.2m-1.1-1.1v2.2M621.1 497.2h2.2m-1.1-1.1v2.2M516.3 437.3h2.2m-1.1-1.1v2.2M518.8 470.1h2.2m-1.1-1.1v2.2M563.7 447.2h2.2m-1.1-1.1v2.2M481.4 454.9h2.2m-1.1-1.1v2.2M583.7 488.6h2.2m-1.1-1.1v2.2M553.7 466.4h2.2m-1.1-1.1v2.2M578.7 456.9h2.2m-1.1-1.1v2.2M598.6 484.9h2.2m-1.1-1.1v2.2M591.1 495.7h2.2m-1.1-1.1v2.2M566.2 490h2.2m-1.1-1.1v2.2M616.1 498.6h2.2m-1.1-1.1v2.2M593.6 480h2.2m-1.1-1.1v2.2M613.6 500.9h2.2m-1.1-1.1v2.2M578.7 475.1h2.2m-1.1-1.1v2.2M618.6 501.9h2.2m-1.1-1.1v2.2M536.3 454.6h2.2m-1.1-1.1v2.2M528.8 447.1h2.2m-1.1-1.1v2.2M543.8 465.7h2.2m-1.1-1.1v2.2M551.2 469.4h2.2m-1.1-1.1v2.2M543.8 472.9h2.2m-1.1-1.1v2.2M511.3 447.9h2.2m-1.1-1.1v2.2M596.1 501.3h2.2m-1.1-1.1v2.2M466.5 449.8h2.2m-1.1-1.1v2.2M551.2 458h2.2m-1.1-1.1v2.2M571.2 453h2.2m-1.1-1.1v2.2M548.7 464.3h2.2m-1.1-1.1v2.2M593.6 479.4h2.2m-1.1-1.1v2.2M621.1 502.3h2.2m-1.1-1.1v2.2M573.7 459.4h2.2m-1.1-1.1v2.2M531.3 427.5h2.2m-1.1-1.1v2.2M566.2 471.7h2.2m-1.1-1.1v2.2M563.7 440.6h2.2m-1.1-1.1v2.2M593.6 479h2.2m-1.1-1.1v2.2M606.1 488.6h2.2m-1.1-1.1v2.2M608.6 487.1h2.2m-1.1-1.1v2.2M551.2 438.3h2.2m-1.1-1.1v2.2M611.1 489.4h2.2m-1.1-1.1v2.2M603.6 499.1h2.2m-1.1-1.1v2.2M511.3 443.5h2.2m-1.1-1.1v2.2M466.5 432.8h2.2m-1.1-1.1v2.2M508.9 467.2h2.2m-1.1-1.1v2.2M608.6 492h2.2m-1.1-1.1v2.2M601.1 493.4h2.2m-1.1-1.1v2.2M546.3 447.2h2.2m-1.1-1.1v2.2M451.5 443.2h2.2m-1.1-1.1v2.2M548.7 471.2h2.2m-1.1-1.1v2.2M558.7 486.2h2.2m-1.1-1.1v2.2M496.4 429.6h2.2m-1.1-1.1v2.2M601.1 484h2.2m-1.1-1.1v2.2M486.4 426.2h2.2m-1.1-1.1v2.2M469 446.9h2.2m-1.1-1.1v2.2M518.8 476.3h2.2m-1.1-1.1v2.2M543.8 450.9h2.2m-1.1-1.1v2.2M553.7 465.8h2.2m-1.1-1.1v2.2M493.9 404.8h2.2m-1.1-1.1v2.2M441.5 416.1h2.2m-1.1-1.1v2.2M618.6 495.7h2.2m-1.1-1.1v2.2M578.7 476h2.2m-1.1-1.1v2.2M459 436.6h2.2m-1.1-1.1v2.2M478.9 423.1h2.2m-1.1-1.1v2.2M623.5 501.9h2.2m-1.1-1.1v2.2M456.5 422.2h2.2m-1.1-1.1v2.2M439 424.6h2.2m-1.1-1.1v2.2M616.1 496h2.2m-1.1-1.1v2.2M596.1 491.2h2.2m-1.1-1.1v2.2M583.7 476.3h2.2m-1.1-1.1v2.2M568.7 456.4h2.2m-1.1-1.1v2.2M573.7 473.3h2.2m-1.1-1.1v2.2M623.5 500h2.2m-1.1-1.1v2.2M526.3 448.2h2.2m-1.1-1.1v2.2M608.6 501.5h2.2m-1.1-1.1v2.2M568.7 491.9h2.2m-1.1-1.1v2.2M571.2 485h2.2m-1.1-1.1v2.2M566.2 471.6h2.2m-1.1-1.1v2.2M611.1 490.5h2.2m-1.1-1.1v2.2M508.9 445.5h2.2m-1.1-1.1v2.2M623.5 499.2h2.2m-1.1-1.1v2.2M518.8 436.4h2.2m-1.1-1.1v2.2M518.8 460.7h2.2m-1.1-1.1v2.2M593.6 470.5h2.2m-1.1-1.1v2.2M536.3 473.2h2.2m-1.1-1.1v2.2M616.1 500.9h2.2m-1.1-1.1v2.2M596.1 494.7h2.2m-1.1-1.1v2.2M581.2 465h2.2m-1.1-1.1v2.2M556.2 444.7h2.2m-1.1-1.1v2.2M516.3 442.2h2.2m-1.1-1.1v2.2M518.8 438.1h2.2m-1.1-1.1v2.2M601.1 494.6h2.2m-1.1-1.1v2.2M571.2 474.5h2.2m-1.1-1.1v2.2M508.9 467.8h2.2m-1.1-1.1v2.2M586.1 492.5h2.2m-1.1-1.1v2.2M578.7 497.3h2.2m-1.1-1.1v2.2M486.4 434.1h2.2m-1.1-1.1v2.2M511.3 456.5h2.2m-1.1-1.1v2.2M558.7 442.8h2.2m-1.1-1.1v2.2M546.3 495.8h2.2m-1.1-1.1v2.2M586.1 472.1h2.2m-1.1-1.1v2.2M603.6 487.4h2.2m-1.1-1.1v2.2M603.6 499.9h2.2m-1.1-1.1v2.2M581.2 471.9h2.2m-1.1-1.1v2.2M613.6 492.7h2.2m-1.1-1.1v2.2M488.9 458.3h2.2m-1.1-1.1v2.2M623.5 503.2h2.2m-1.1-1.1v2.2M581.2 473.1h2.2m-1.1-1.1v2.2M618.6 502.4h2.2m-1.1-1.1v2.2M454 446h2.2m-1.1-1.1v2.2M473.9 444h2.2m-1.1-1.1v2.2M536.3 477.6h2.2m-1.1-1.1v2.2M506.4 430.5h2.2m-1.1-1.1v2.2M541.3 458.3h2.2m-1.1-1.1v2.2M518.8 451h2.2m-1.1-1.1v2.2M558.7 459.7h2.2m-1.1-1.1v2.2M616.1 495.5h2.2m-1.1-1.1v2.2M556.2 463h2.2m-1.1-1.1v2.2M616.1 502.6h2.2m-1.1-1.1v2.2M533.8 488.3h2.2m-1.1-1.1v2.2M533.8 422.7h2.2m-1.1-1.1v2.2M588.6 486.7h2.2m-1.1-1.1v2.2M536.3 463.1h2.2m-1.1-1.1v2.2M538.8 466.7h2.2m-1.1-1.1v2.2M606.1 492h2.2m-1.1-1.1v2.2M616.1 501.9h2.2m-1.1-1.1v2.2M598.6 484.2h2.2m-1.1-1.1v2.2M563.7 459.8h2.2m-1.1-1.1v2.2M563.7 474.5h2.2m-1.1-1.1v2.2M576.2 456.9h2.2m-1.1-1.1v2.2M488.9 424.9h2.2m-1.1-1.1v2.2M493.9 427.1h2.2m-1.1-1.1v2.2M571.2 456.1h2.2m-1.1-1.1v2.2M518.8 444.6h2.2m-1.1-1.1v2.2M611.1 490h2.2m-1.1-1.1v2.2M561.2 458.3h2.2m-1.1-1.1v2.2M581.2 456.4h2.2m-1.1-1.1v2.2M511.3 477.6h2.2m-1.1-1.1v2.2M531.3 485.1h2.2m-1.1-1.1v2.2M558.7 479.9h2.2m-1.1-1.1v2.2M523.8 446.3h2.2m-1.1-1.1v2.2M566.2 489.9h2.2m-1.1-1.1v2.2M511.3 447.9h2.2m-1.1-1.1v2.2M571.2 464.6h2.2m-1.1-1.1v2.2M523.8 454.4h2.2m-1.1-1.1v2.2M414.1 414.6h2.2m-1.1-1.1v2.2M546.3 476h2.2m-1.1-1.1v2.2M493.9 437h2.2m-1.1-1.1v2.2M583.7 463.4h2.2m-1.1-1.1v2.2M523.8 459.9h2.2m-1.1-1.1v2.2M516.3 452.7h2.2m-1.1-1.1v2.2M563.7 465.4h2.2m-1.1-1.1v2.2M566.2 490.1h2.2m-1.1-1.1v2.2M553.7 470.6h2.2m-1.1-1.1v2.2M598.6 487.6h2.2m-1.1-1.1v2.2M526.3 448h2.2m-1.1-1.1v2.2M591.1 485.2h2.2m-1.1-1.1v2.2M571.2 466.4h2.2m-1.1-1.1v2.2M563.7 439.9h2.2m-1.1-1.1v2.2M506.4 467.5h2.2m-1.1-1.1v2.2M516.3 469.4h2.2m-1.1-1.1v2.2M454 421h2.2m-1.1-1.1v2.2M533.8 463.7h2.2m-1.1-1.1v2.2M601.1 489.1h2.2m-1.1-1.1v2.2M541.3 484.6h2.2m-1.1-1.1v2.2M553.7 498.6h2.2m-1.1-1.1v2.2M513.8 481.7h2.2m-1.1-1.1v2.2M613.6 500.3h2.2m-1.1-1.1v2.2M548.7 479.6h2.2m-1.1-1.1v2.2M606.1 482.2h2.2m-1.1-1.1v2.2M511.3 442.3h2.2m-1.1-1.1v2.2M503.9 423.7h2.2m-1.1-1.1v2.2M508.9 447h2.2m-1.1-1.1v2.2M588.6 464.5h2.2m-1.1-1.1v2.2M503.9 461.5h2.2m-1.1-1.1v2.2M593.6 483.8h2.2m-1.1-1.1v2.2M568.7 487.3h2.2m-1.1-1.1v2.2M611.1 502h2.2m-1.1-1.1v2.2M464 415.4h2.2m-1.1-1.1v2.2M533.8 485h2.2m-1.1-1.1v2.2M469 431.4h2.2m-1.1-1.1v2.2M464 416.1h2.2m-1.1-1.1v2.2M618.6 498.9h2.2m-1.1-1.1v2.2M473.9 458.4h2.2m-1.1-1.1v2.2M616.1 502h2.2m-1.1-1.1v2.2M538.8 478.3h2.2m-1.1-1.1v2.2M591.1 476.9h2.2m-1.1-1.1v2.2M613.6 489h2.2m-1.1-1.1v2.2M538.8 437.7h2.2m-1.1-1.1v2.2M563.7 477h2.2m-1.1-1.1v2.2M596.1 488.3h2.2m-1.1-1.1v2.2M431.6 406.4h2.2m-1.1-1.1v2.2M613.6 502.8h2.2m-1.1-1.1v2.2M531.3 434.8h2.2m-1.1-1.1v2.2M566.2 473.6h2.2m-1.1-1.1v2.2M491.4 470.6h2.2m-1.1-1.1v2.2M568.7 455.5h2.2m-1.1-1.1v2.2M591.1 495.3h2.2m-1.1-1.1v2.2M441.5 447h2.2m-1.1-1.1v2.2M576.2 457h2.2m-1.1-1.1v2.2M613.6 498.5h2.2m-1.1-1.1v2.2M513.8 461.3h2.2m-1.1-1.1v2.2M601.1 497.6h2.2m-1.1-1.1v2.2M536.3 465.6h2.2m-1.1-1.1v2.2M588.6 496h2.2m-1.1-1.1v2.2M476.4 459.3h2.2m-1.1-1.1v2.2M483.9 405.1h2.2m-1.1-1.1v2.2M493.9 406h2.2m-1.1-1.1v2.2M598.6 490.7h2.2m-1.1-1.1v2.2M449 403h2.2m-1.1-1.1v2.2M496.4 476.6h2.2m-1.1-1.1v2.2M536.3 448h2.2m-1.1-1.1v2.2M541.3 487.7h2.2m-1.1-1.1v2.2M573.7 466.9h2.2m-1.1-1.1v2.2M523.8 450.8h2.2m-1.1-1.1v2.2M583.7 484.2h2.2m-1.1-1.1v2.2M591.1 479.2h2.2m-1.1-1.1v2.2M593.6 479h2.2m-1.1-1.1v2.2M556.2 473.7h2.2m-1.1-1.1v2.2M603.6 486h2.2m-1.1-1.1v2.2M576.2 462.4h2.2m-1.1-1.1v2.2M616.1 494h2.2m-1.1-1.1v2.2M578.7 461.2h2.2m-1.1-1.1v2.2M523.8 449.1h2.2m-1.1-1.1v2.2M541.3 447.7h2.2m-1.1-1.1v2.2M488.9 436.7h2.2m-1.1-1.1v2.2M573.7 481.2h2.2m-1.1-1.1v2.2M586.1 489.7h2.2m-1.1-1.1v2.2M548.7 459.2h2.2m-1.1-1.1v2.2M571.2 495.2h2.2m-1.1-1.1v2.2M568.7 468.3h2.2m-1.1-1.1v2.2M526.3 455.9h2.2m-1.1-1.1v2.2M596.1 486.1h2.2m-1.1-1.1v2.2M588.6 484.1h2.2m-1.1-1.1v2.2M573.7 482.3h2.2m-1.1-1.1v2.2M536.3 453.7h2.2m-1.1-1.1v2.2M543.8 469.7h2.2m-1.1-1.1v2.2M481.4 415.4h2.2m-1.1-1.1v2.2M616.1 494.4h2.2m-1.1-1.1v2.2M576.2 484.4h2.2m-1.1-1.1v2.2M543.8 466.9h2.2m-1.1-1.1v2.2M581.2 465.6h2.2m-1.1-1.1v2.2M578.7 476.4h2.2m-1.1-1.1v2.2M556.2 480h2.2m-1.1-1.1v2.2M611.1 493.6h2.2m-1.1-1.1v2.2M568.7 458.4h2.2m-1.1-1.1v2.2M581.2 479.8h2.2m-1.1-1.1v2.2M583.7 462.5h2.2m-1.1-1.1v2.2M508.9 482.8h2.2m-1.1-1.1v2.2M581.2 477.1h2.2m-1.1-1.1v2.2M606.1 498.5h2.2m-1.1-1.1v2.2M486.4 426.5h2.2m-1.1-1.1v2.2M528.8 430.4h2.2m-1.1-1.1v2.2M621.1 497.2h2.2m-1.1-1.1v2.2M596.1 484.5h2.2m-1.1-1.1v2.2M611.1 503.5h2.2m-1.1-1.1v2.2M586.1 478.8h2.2m-1.1-1.1v2.2M601.1 486h2.2m-1.1-1.1v2.2M548.7 471.9h2.2m-1.1-1.1v2.2M496.4 417.2h2.2m-1.1-1.1v2.2M551.2 483.9h2.2m-1.1-1.1v2.2M541.3 483.9h2.2m-1.1-1.1v2.2M586.1 495.6h2.2m-1.1-1.1v2.2M498.9 464.9h2.2m-1.1-1.1v2.2M591.1 473.1h2.2m-1.1-1.1v2.2M601.1 494.5h2.2m-1.1-1.1v2.2M608.6 492.8h2.2m-1.1-1.1v2.2M613.6 499.6h2.2m-1.1-1.1v2.2M598.6 492.4h2.2m-1.1-1.1v2.2M583.7 476.3h2.2m-1.1-1.1v2.2M588.6 487.5h2.2m-1.1-1.1v2.2M516.3 453.1h2.2m-1.1-1.1v2.2M513.8 458.9h2.2m-1.1-1.1v2.2M591.1 495.8h2.2m-1.1-1.1v2.2M469 432.8h2.2m-1.1-1.1v2.2M556.2 487.1h2.2m-1.1-1.1v2.2M576.2 488.5h2.2m-1.1-1.1v2.2M618.6 493.9h2.2m-1.1-1.1v2.2M429.1 427.7h2.2m-1.1-1.1v2.2M416.6 404.3h2.2m-1.1-1.1v2.2M568.7 450.2h2.2m-1.1-1.1v2.2M521.3 445.2h2.2m-1.1-1.1v2.2M571.2 457.7h2.2m-1.1-1.1v2.2M576.2 466.4h2.2m-1.1-1.1v2.2M623.5 500.3h2.2m-1.1-1.1v2.2M598.6 483.2h2.2m-1.1-1.1v2.2M621.1 498.4h2.2m-1.1-1.1v2.2M593.6 493.3h2.2m-1.1-1.1v2.2M526.3 441.1h2.2m-1.1-1.1v2.2M603.6 487.8h2.2m-1.1-1.1v2.2M426.6 434.6h2.2m-1.1-1.1v2.2M608.6 496.3h2.2m-1.1-1.1v2.2M603.6 500.2h2.2m-1.1-1.1v2.2M481.4 430.7h2.2m-1.1-1.1v2.2M538.8 450.5h2.2m-1.1-1.1v2.2M538.8 439.5h2.2m-1.1-1.1v2.2M511.3 470.9h2.2m-1.1-1.1v2.2M608.6 497.7h2.2m-1.1-1.1v2.2M518.8 441h2.2m-1.1-1.1v2.2M571.2 474.1h2.2m-1.1-1.1v2.2M546.3 456.1h2.2m-1.1-1.1v2.2M611.1 503.1h2.2m-1.1-1.1v2.2M611.1 485.7h2.2m-1.1-1.1v2.2M623.5 500.2h2.2m-1.1-1.1v2.2M551.2 453.6h2.2m-1.1-1.1v2.2M446.5 425.9h2.2m-1.1-1.1v2.2M511.3 448.5h2.2m-1.1-1.1v2.2M456.5 427.6h2.2m-1.1-1.1v2.2M566.2 456.8h2.2m-1.1-1.1v2.2M571.2 459.2h2.2m-1.1-1.1v2.2M596.1 485.2h2.2m-1.1-1.1v2.2M531.3 472.3h2.2m-1.1-1.1v2.2M546.3 453.8h2.2m-1.1-1.1v2.2M446.5 441.5h2.2m-1.1-1.1v2.2M603.6 499.5h2.2m-1.1-1.1v2.2M498.9 447.6h2.2m-1.1-1.1v2.2M603.6 478.4h2.2m-1.1-1.1v2.2M571.2 490.8h2.2m-1.1-1.1v2.2M616.1 499h2.2m-1.1-1.1v2.2M581.2 478.7h2.2m-1.1-1.1v2.2M621.1 502.2h2.2m-1.1-1.1v2.2M521.3 457.2h2.2m-1.1-1.1v2.2M613.6 489.8h2.2m-1.1-1.1v2.2M528.8 461.6h2.2m-1.1-1.1v2.2M601.1 481.6h2.2m-1.1-1.1v2.2M464 455.8h2.2m-1.1-1.1v2.2M581.2 456.2h2.2m-1.1-1.1v2.2M576.2 469.5h2.2m-1.1-1.1v2.2M531.3 466.9h2.2m-1.1-1.1v2.2M566.2 453.7h2.2m-1.1-1.1v2.2M611.1 486h2.2m-1.1-1.1v2.2M496.4 461.8h2.2m-1.1-1.1v2.2M566.2 468.3h2.2m-1.1-1.1v2.2M618.6 496.3h2.2m-1.1-1.1v2.2M476.4 442.6h2.2m-1.1-1.1v2.2M531.3 450.8h2.2m-1.1-1.1v2.2M593.6 484.7h2.2m-1.1-1.1v2.2M558.7 466.7h2.2m-1.1-1.1v2.2M531.3 461.1h2.2m-1.1-1.1v2.2M573.7 468.9h2.2m-1.1-1.1v2.2M486.4 400.9h2.2m-1.1-1.1v2.2M469 447h2.2m-1.1-1.1v2.2M558.7 473h2.2m-1.1-1.1v2.2M488.9 477.3h2.2m-1.1-1.1v2.2M598.6 474.8h2.2m-1.1-1.1v2.2M449 412.3h2.2m-1.1-1.1v2.2M546.3 486.6h2.2m-1.1-1.1v2.2M618.6 499.8h2.2m-1.1-1.1v2.2M576.2 492.2h2.2m-1.1-1.1v2.2M561.2 464.8h2.2m-1.1-1.1v2.2M491.4 462.3h2.2m-1.1-1.1v2.2M581.2 483.2h2.2m-1.1-1.1v2.2M496.4 439.3h2.2m-1.1-1.1v2.2M568.7 444.6h2.2m-1.1-1.1v2.2M548.7 439.6h2.2m-1.1-1.1v2.2M561.2 469.7h2.2m-1.1-1.1v2.2M578.7 458.7h2.2m-1.1-1.1v2.2M606.1 482.9h2.2m-1.1-1.1v2.2M598.6 489.4h2.2m-1.1-1.1v2.2M586.1 477.2h2.2m-1.1-1.1v2.2M606.1 497.6h2.2m-1.1-1.1v2.2M581.2 474.6h2.2m-1.1-1.1v2.2M593.6 490.1h2.2m-1.1-1.1v2.2M491.4 456.1h2.2m-1.1-1.1v2.2M523.8 442.4h2.2m-1.1-1.1v2.2M568.7 448.6h2.2m-1.1-1.1v2.2M623.5 503.9h2.2m-1.1-1.1v2.2M528.8 420.5h2.2m-1.1-1.1v2.2M613.6 492.4h2.2m-1.1-1.1v2.2M498.9 462h2.2m-1.1-1.1v2.2M496.4 447.6h2.2m-1.1-1.1v2.2M533.8 450.5h2.2m-1.1-1.1v2.2M424.1 412.1h2.2m-1.1-1.1v2.2M476.4 407.8h2.2m-1.1-1.1v2.2M511.3 461h2.2m-1.1-1.1v2.2M513.8 479.2h2.2m-1.1-1.1v2.2M616.1 494.7h2.2m-1.1-1.1v2.2M573.7 483.7h2.2m-1.1-1.1v2.2M548.7 483.7h2.2m-1.1-1.1v2.2M573.7 459.1h2.2m-1.1-1.1v2.2M581.2 458.7h2.2m-1.1-1.1v2.2M528.8 453.6h2.2m-1.1-1.1v2.2M548.7 448.7h2.2m-1.1-1.1v2.2M566.2 480.4h2.2m-1.1-1.1v2.2M446.5 396h2.2m-1.1-1.1v2.2M508.9 452.7h2.2m-1.1-1.1v2.2M593.6 473.7h2.2m-1.1-1.1v2.2M491.4 451.4h2.2m-1.1-1.1v2.2M616.1 502.1h2.2m-1.1-1.1v2.2M566.2 473.8h2.2m-1.1-1.1v2.2M506.4 479.5h2.2m-1.1-1.1v2.2M573.7 485.2h2.2m-1.1-1.1v2.2M601.1 487.1h2.2m-1.1-1.1v2.2M573.7 468.3h2.2m-1.1-1.1v2.2M506.4 442h2.2m-1.1-1.1v2.2M466.5 419.3h2.2m-1.1-1.1v2.2M493.9 481.2h2.2m-1.1-1.1v2.2M616.1 495h2.2m-1.1-1.1v2.2M603.6 485.9h2.2m-1.1-1.1v2.2M543.8 440.1h2.2m-1.1-1.1v2.2M603.6 481.9h2.2m-1.1-1.1v2.2M606.1 496.4h2.2m-1.1-1.1v2.2M518.8 426.6h2.2m-1.1-1.1v2.2M588.6 480.4h2.2m-1.1-1.1v2.2M501.4 415.8h2.2m-1.1-1.1v2.2M611.1 488.3h2.2m-1.1-1.1v2.2M618.6 499.3h2.2m-1.1-1.1v2.2M601.1 489.8h2.2m-1.1-1.1v2.2M581.2 462.1h2.2m-1.1-1.1v2.2M511.3 439.8h2.2m-1.1-1.1v2.2M496.4 439.7h2.2m-1.1-1.1v2.2M471.5 452.5h2.2m-1.1-1.1v2.2M488.9 465.1h2.2m-1.1-1.1v2.2M561.2 444.6h2.2m-1.1-1.1v2.2M606.1 490.1h2.2m-1.1-1.1v2.2M611.1 488.7h2.2m-1.1-1.1v2.2M621.1 499.1h2.2m-1.1-1.1v2.2M573.7 460.4h2.2m-1.1-1.1v2.2M606.1 486.6h2.2m-1.1-1.1v2.2M436.5 409.7h2.2m-1.1-1.1v2.2M506.4 419.6h2.2m-1.1-1.1v2.2M598.6 476.6h2.2m-1.1-1.1v2.2M573.7 466.7h2.2m-1.1-1.1v2.2M586.1 499.9h2.2m-1.1-1.1v2.2M613.6 492h2.2m-1.1-1.1v2.2M596.1 480.2h2.2m-1.1-1.1v2.2M513.8 443.3h2.2m-1.1-1.1v2.2M606.1 493h2.2m-1.1-1.1v2.2M566.2 470.8h2.2m-1.1-1.1v2.2M538.8 446h2.2m-1.1-1.1v2.2M591.1 471.8h2.2m-1.1-1.1v2.2M553.7 471h2.2m-1.1-1.1v2.2M608.6 491.3h2.2m-1.1-1.1v2.2M523.8 431.1h2.2m-1.1-1.1v2.2M598.6 481.1h2.2m-1.1-1.1v2.2M501.4 425.6h2.2m-1.1-1.1v2.2M583.7 490.3h2.2m-1.1-1.1v2.2M546.3 474.8h2.2m-1.1-1.1v2.2M454 441.6h2.2m-1.1-1.1v2.2M439 401.1h2.2m-1.1-1.1v2.2M551.2 448h2.2m-1.1-1.1v2.2M588.6 473.4h2.2m-1.1-1.1v2.2M586.1 498.8h2.2m-1.1-1.1v2.2M598.6 494.4h2.2m-1.1-1.1v2.2M606.1 490.7h2.2m-1.1-1.1v2.2M556.2 464.2h2.2m-1.1-1.1v2.2M476.4 455.5h2.2m-1.1-1.1v2.2M531.3 438h2.2m-1.1-1.1v2.2M478.9 462.3h2.2m-1.1-1.1v2.2M586.1 476.4h2.2m-1.1-1.1v2.2M464 428.8h2.2m-1.1-1.1v2.2M483.9 422.1h2.2m-1.1-1.1v2.2M561.2 491.3h2.2m-1.1-1.1v2.2M596.1 481.4h2.2m-1.1-1.1v2.2M511.3 420.6h2.2m-1.1-1.1v2.2M598.6 499.9h2.2m-1.1-1.1v2.2M441.5 427.2h2.2m-1.1-1.1v2.2M563.7 491.7h2.2m-1.1-1.1v2.2M526.3 461.6h2.2m-1.1-1.1v2.2M581.2 473.5h2.2m-1.1-1.1v2.2M471.5 454.8h2.2m-1.1-1.1v2.2M593.6 484.6h2.2m-1.1-1.1v2.2M434.1 430.5h2.2m-1.1-1.1v2.2M501.4 452.8h2.2m-1.1-1.1v2.2M586.1 488.6h2.2m-1.1-1.1v2.2M588.6 483.4h2.2m-1.1-1.1v2.2M488.9 463.2h2.2m-1.1-1.1v2.2M521.3 469.7h2.2m-1.1-1.1v2.2M581.2 474.6h2.2m-1.1-1.1v2.2M476.4 438.9h2.2m-1.1-1.1v2.2M613.6 497.2h2.2m-1.1-1.1v2.2M434.1 406.3h2.2m-1.1-1.1v2.2M571.2 454.6h2.2m-1.1-1.1v2.2M523.8 482.1h2.2m-1.1-1.1v2.2M466.5 437.3h2.2m-1.1-1.1v2.2M516.3 432.3h2.2m-1.1-1.1v2.2M578.7 464.5h2.2m-1.1-1.1v2.2M603.6 495.7h2.2m-1.1-1.1v2.2M538.8 451.8h2.2m-1.1-1.1v2.2M533.8 448.5h2.2m-1.1-1.1v2.2M566.2 474.7h2.2m-1.1-1.1v2.2M593.6 482.8h2.2m-1.1-1.1v2.2M591.1 468.9h2.2m-1.1-1.1v2.2M613.6 490.1h2.2m-1.1-1.1v2.2M538.8 481.6h2.2m-1.1-1.1v2.2M573.7 456.7h2.2m-1.1-1.1v2.2M623.5 501.6h2.2m-1.1-1.1v2.2M616.1 492.3h2.2m-1.1-1.1v2.2M618.6 497.1h2.2m-1.1-1.1v2.2M611.1 492h2.2m-1.1-1.1v2.2M581.2 492.3h2.2m-1.1-1.1v2.2M553.7 442h2.2m-1.1-1.1v2.2M576.2 472.1h2.2m-1.1-1.1v2.2M493.9 424.3h2.2m-1.1-1.1v2.2M613.6 498.9h2.2m-1.1-1.1v2.2M568.7 494.6h2.2m-1.1-1.1v2.2M583.7 462.1h2.2m-1.1-1.1v2.2M498.9 467.8h2.2m-1.1-1.1v2.2M513.8 458h2.2m-1.1-1.1v2.2M578.7 477.9h2.2m-1.1-1.1v2.2M561.2 447.3h2.2m-1.1-1.1v2.2M506.4 418.8h2.2m-1.1-1.1v2.2M616.1 495.9h2.2m-1.1-1.1v2.2M434.1 406.8h2.2m-1.1-1.1v2.2M541.3 450.8h2.2m-1.1-1.1v2.2M449 434.9h2.2m-1.1-1.1v2.2M531.3 454.1h2.2m-1.1-1.1v2.2M593.6 481.9h2.2m-1.1-1.1v2.2M588.6 493.5h2.2m-1.1-1.1v2.2M521.3 459.6h2.2m-1.1-1.1v2.2M521.3 462.9h2.2m-1.1-1.1v2.2M469 434.2h2.2m-1.1-1.1v2.2M501.4 444.6h2.2m-1.1-1.1v2.2M526.3 446.7h2.2m-1.1-1.1v2.2M536.3 431.7h2.2m-1.1-1.1v2.2M608.6 484.2h2.2m-1.1-1.1v2.2M536.3 433.2h2.2m-1.1-1.1v2.2M611.1 492.8h2.2m-1.1-1.1v2.2M526.3 428.5h2.2m-1.1-1.1v2.2M568.7 445h2.2m-1.1-1.1v2.2M583.7 467.2h2.2m-1.1-1.1v2.2M536.3 459.3h2.2m-1.1-1.1v2.2M586.1 474.6h2.2m-1.1-1.1v2.2M596.1 481.7h2.2m-1.1-1.1v2.2M528.8 419.7h2.2m-1.1-1.1v2.2M493.9 431.9h2.2m-1.1-1.1v2.2M508.9 447.3h2.2m-1.1-1.1v2.2M488.9 429.4h2.2m-1.1-1.1v2.2M496.4 450.3h2.2m-1.1-1.1v2.2M601.1 493.2h2.2m-1.1-1.1v2.2M608.6 493.6h2.2m-1.1-1.1v2.2M591.1 488.4h2.2m-1.1-1.1v2.2M623.5 504.3h2.2m-1.1-1.1v2.2M531.3 447.7h2.2m-1.1-1.1v2.2M543.8 476.6h2.2m-1.1-1.1v2.2M598.6 479.2h2.2m-1.1-1.1v2.2M593.6 493.8h2.2m-1.1-1.1v2.2M436.5 414.6h2.2m-1.1-1.1v2.2M611.1 492.5h2.2m-1.1-1.1v2.2M556.2 445.2h2.2m-1.1-1.1v2.2M476.4 421.7h2.2m-1.1-1.1v2.2M598.6 482.5h2.2m-1.1-1.1v2.2M591.1 497.2h2.2m-1.1-1.1v2.2M466.5 449.9h2.2m-1.1-1.1v2.2M461.5 420.5h2.2m-1.1-1.1v2.2M566.2 490.5h2.2m-1.1-1.1v2.2M546.3 450h2.2m-1.1-1.1v2.2M573.7 459.5h2.2m-1.1-1.1v2.2M566.2 459.8h2.2m-1.1-1.1v2.2M553.7 456h2.2m-1.1-1.1v2.2M548.7 457h2.2m-1.1-1.1v2.2M548.7 466.4h2.2m-1.1-1.1v2.2M621.1 497h2.2m-1.1-1.1v2.2M566.2 480.2h2.2m-1.1-1.1v2.2M531.3 457.5h2.2m-1.1-1.1v2.2M513.8 436.9h2.2m-1.1-1.1v2.2M449 404.2h2.2m-1.1-1.1v2.2M546.3 476.4h2.2m-1.1-1.1v2.2M481.4 455.9h2.2m-1.1-1.1v2.2M586.1 484.5h2.2m-1.1-1.1v2.2M533.8 489.8h2.2m-1.1-1.1v2.2M608.6 500.7h2.2m-1.1-1.1v2.2M531.3 429.8h2.2m-1.1-1.1v2.2M583.7 470h2.2m-1.1-1.1v2.2M586.1 481.4h2.2m-1.1-1.1v2.2M568.7 459.4h2.2m-1.1-1.1v2.2M528.8 431h2.2m-1.1-1.1v2.2M444 434.5h2.2m-1.1-1.1v2.2M611.1 491.7h2.2m-1.1-1.1v2.2M583.7 475.8h2.2m-1.1-1.1v2.2M588.6 488.7h2.2m-1.1-1.1v2.2M601.1 483.2h2.2m-1.1-1.1v2.2M588.6 488.7h2.2m-1.1-1.1v2.2M496.4 475.7h2.2m-1.1-1.1v2.2M621.1 496.1h2.2m-1.1-1.1v2.2M511.3 477.8h2.2m-1.1-1.1v2.2M531.3 453.7h2.2m-1.1-1.1v2.2M478.9 409.5h2.2m-1.1-1.1v2.2M578.7 473.5h2.2m-1.1-1.1v2.2M538.8 472.8h2.2m-1.1-1.1v2.2M611.1 493.9h2.2m-1.1-1.1v2.2M513.8 471.6h2.2m-1.1-1.1v2.2M513.8 449.2h2.2m-1.1-1.1v2.2M616.1 491.6h2.2m-1.1-1.1v2.2M623.5 502.4h2.2m-1.1-1.1v2.2M571.2 484.7h2.2m-1.1-1.1v2.2M488.9 413.1h2.2m-1.1-1.1v2.2M553.7 451.9h2.2m-1.1-1.1v2.2M613.6 495.3h2.2m-1.1-1.1v2.2M508.9 428.8h2.2m-1.1-1.1v2.2M601.1 495.8h2.2m-1.1-1.1v2.2M419.1 413.1h2.2m-1.1-1.1v2.2M558.7 482.8h2.2m-1.1-1.1v2.2M606.1 492.8h2.2m-1.1-1.1v2.2M561.2 482.8h2.2m-1.1-1.1v2.2M616.1 500h2.2m-1.1-1.1v2.2M608.6 498.3h2.2m-1.1-1.1v2.2M508.9 430h2.2m-1.1-1.1v2.2M531.3 459.5h2.2m-1.1-1.1v2.2M543.8 467h2.2m-1.1-1.1v2.2M558.7 462.5h2.2m-1.1-1.1v2.2M576.2 481.3h2.2m-1.1-1.1v2.2M543.8 438.5h2.2m-1.1-1.1v2.2M486.4 459.1h2.2m-1.1-1.1v2.2M616.1 492.6h2.2m-1.1-1.1v2.2M533.8 427.2h2.2m-1.1-1.1v2.2M618.6 494.1h2.2m-1.1-1.1v2.2M618.6 494.4h2.2m-1.1-1.1v2.2M603.6 492.5h2.2m-1.1-1.1v2.2M566.2 443.1h2.2m-1.1-1.1v2.2M518.8 431.6h2.2m-1.1-1.1v2.2M553.7 452.3h2.2m-1.1-1.1v2.2M526.3 466.3h2.2m-1.1-1.1v2.2M466.5 449.9h2.2m-1.1-1.1v2.2M449 397.2h2.2m-1.1-1.1v2.2M608.6 498h2.2m-1.1-1.1v2.2M506.4 428.7h2.2m-1.1-1.1v2.2M621.1 498.9h2.2m-1.1-1.1v2.2M513.8 441.5h2.2m-1.1-1.1v2.2M446.5 406.9h2.2m-1.1-1.1v2.2M578.7 467.6h2.2m-1.1-1.1v2.2M498.9 406.1h2.2m-1.1-1.1v2.2M561.2 480.1h2.2m-1.1-1.1v2.2M546.3 470.4h2.2m-1.1-1.1v2.2M606.1 483.6h2.2m-1.1-1.1v2.2M608.6 500.9h2.2m-1.1-1.1v2.2M546.3 475.9h2.2m-1.1-1.1v2.2M478.9 445h2.2m-1.1-1.1v2.2M543.8 468.8h2.2m-1.1-1.1v2.2M528.8 420.7h2.2m-1.1-1.1v2.2M568.7 479.9h2.2m-1.1-1.1v2.2M511.3 434h2.2m-1.1-1.1v2.2M459 431.6h2.2m-1.1-1.1v2.2M543.8 432.8h2.2m-1.1-1.1v2.2M576.2 472.8h2.2m-1.1-1.1v2.2M571.2 471.5h2.2m-1.1-1.1v2.2M561.2 457.3h2.2m-1.1-1.1v2.2M588.6 493.9h2.2m-1.1-1.1v2.2M528.8 451.9h2.2m-1.1-1.1v2.2M571.2 480.9h2.2m-1.1-1.1v2.2M516.3 440.7h2.2m-1.1-1.1v2.2M486.4 452.2h2.2m-1.1-1.1v2.2M543.8 474.4h2.2m-1.1-1.1v2.2M581.2 485.4h2.2m-1.1-1.1v2.2M611.1 496.8h2.2m-1.1-1.1v2.2M449 422.6h2.2m-1.1-1.1v2.2M456.5 403.8h2.2m-1.1-1.1v2.2M421.6 403.1h2.2m-1.1-1.1v2.2M586.1 469.3h2.2m-1.1-1.1v2.2M548.7 491h2.2m-1.1-1.1v2.2M593.6 486.2h2.2m-1.1-1.1v2.2M536.3 458.2h2.2m-1.1-1.1v2.2M601.1 497.8h2.2m-1.1-1.1v2.2M603.6 496.9h2.2m-1.1-1.1v2.2M538.8 457.1h2.2m-1.1-1.1v2.2M538.8 438.5h2.2m-1.1-1.1v2.2M538.8 444.2h2.2m-1.1-1.1v2.2M576.2 453.2h2.2m-1.1-1.1v2.2M621.1 497.7h2.2m-1.1-1.1v2.2M553.7 442h2.2m-1.1-1.1v2.2M586.1 462h2.2m-1.1-1.1v2.2M518.8 482.1h2.2m-1.1-1.1v2.2M498.9 477.8h2.2m-1.1-1.1v2.2M583.7 475.9h2.2m-1.1-1.1v2.2M501.4 429.4h2.2m-1.1-1.1v2.2M533.8 468.9h2.2m-1.1-1.1v2.2M581.2 480.3h2.2m-1.1-1.1v2.2M591.1 479.2h2.2m-1.1-1.1v2.2M568.7 470.8h2.2m-1.1-1.1v2.2M548.7 462.3h2.2m-1.1-1.1v2.2M601.1 491.8h2.2m-1.1-1.1v2.2M518.8 435.8h2.2m-1.1-1.1v2.2M598.6 481.7h2.2m-1.1-1.1v2.2M593.6 468.7h2.2m-1.1-1.1v2.2M556.2 469.5h2.2m-1.1-1.1v2.2M596.1 487.7h2.2m-1.1-1.1v2.2M533.8 452.5h2.2m-1.1-1.1v2.2M588.6 489.1h2.2m-1.1-1.1v2.2M518.8 433h2.2m-1.1-1.1v2.2M618.6 494.2h2.2m-1.1-1.1v2.2M521.3 448.4h2.2m-1.1-1.1v2.2M568.7 449.6h2.2m-1.1-1.1v2.2M568.7 473.6h2.2m-1.1-1.1v2.2M593.6 493.9h2.2m-1.1-1.1v2.2M611.1 502.8h2.2m-1.1-1.1v2.2M536.3 445.6h2.2m-1.1-1.1v2.2M548.7 490.4h2.2m-1.1-1.1v2.2M586.1 483.6h2.2m-1.1-1.1v2.2M603.6 495h2.2m-1.1-1.1v2.2M513.8 418h2.2m-1.1-1.1v2.2M616.1 499.4h2.2m-1.1-1.1v2.2M596.1 489.3h2.2m-1.1-1.1v2.2M531.3 419.8h2.2m-1.1-1.1v2.2M556.2 442.1h2.2m-1.1-1.1v2.2M466.5 401.4h2.2m-1.1-1.1v2.2M571.2 446.8h2.2m-1.1-1.1v2.2M548.7 429.7h2.2m-1.1-1.1v2.2M603.6 487.4h2.2m-1.1-1.1v2.2M493.9 417.8h2.2m-1.1-1.1v2.2M586.1 489.7h2.2m-1.1-1.1v2.2M623.5 501.6h2.2m-1.1-1.1v2.2M613.6 499.7h2.2m-1.1-1.1v2.2M613.6 487.2h2.2m-1.1-1.1v2.2M516.3 433.8h2.2m-1.1-1.1v2.2M618.6 496.7h2.2m-1.1-1.1v2.2M513.8 454.7h2.2m-1.1-1.1v2.2M508.9 465.5h2.2m-1.1-1.1v2.2M556.2 450.8h2.2m-1.1-1.1v2.2M561.2 454.8h2.2m-1.1-1.1v2.2M531.3 465.4h2.2m-1.1-1.1v2.2M598.6 485.8h2.2m-1.1-1.1v2.2M588.6 490.6h2.2m-1.1-1.1v2.2M513.8 472h2.2m-1.1-1.1v2.2M446.5 446.9h2.2m-1.1-1.1v2.2M464 425h2.2m-1.1-1.1v2.2M543.8 433.9h2.2m-1.1-1.1v2.2M478.9 462.1h2.2m-1.1-1.1v2.2M556.2 448h2.2m-1.1-1.1v2.2M513.8 444.2h2.2m-1.1-1.1v2.2M581.2 484.1h2.2m-1.1-1.1v2.2M583.7 490.5h2.2m-1.1-1.1v2.2M556.2 461.5h2.2m-1.1-1.1v2.2M513.8 467.3h2.2m-1.1-1.1v2.2M508.9 414.8h2.2m-1.1-1.1v2.2M508.9 456h2.2m-1.1-1.1v2.2M533.8 478.6h2.2m-1.1-1.1v2.2M583.7 490h2.2m-1.1-1.1v2.2M486.4 467.9h2.2m-1.1-1.1v2.2M588.6 488.7h2.2m-1.1-1.1v2.2M493.9 465.7h2.2m-1.1-1.1v2.2M583.7 493.3h2.2m-1.1-1.1v2.2M618.6 501.4h2.2m-1.1-1.1v2.2M506.4 458.9h2.2m-1.1-1.1v2.2M596.1 482.7h2.2m-1.1-1.1v2.2M608.6 489.9h2.2m-1.1-1.1v2.2M536.3 436.8h2.2m-1.1-1.1v2.2M553.7 491.2h2.2m-1.1-1.1v2.2M578.7 469h2.2m-1.1-1.1v2.2M591.1 481.9h2.2m-1.1-1.1v2.2M598.6 477h2.2m-1.1-1.1v2.2M508.9 463.7h2.2m-1.1-1.1v2.2M434.1 418.6h2.2m-1.1-1.1v2.2M503.9 428.4h2.2m-1.1-1.1v2.2M461.5 436.3h2.2m-1.1-1.1v2.2M551.2 455.3h2.2m-1.1-1.1v2.2M493.9 471.1h2.2m-1.1-1.1v2.2M518.8 442.7h2.2m-1.1-1.1v2.2M518.8 422.7h2.2m-1.1-1.1v2.2M618.6 501.2h2.2m-1.1-1.1v2.2M618.6 493.5h2.2m-1.1-1.1v2.2M616.1 493.5h2.2m-1.1-1.1v2.2M561.2 495.7h2.2m-1.1-1.1v2.2M511.3 460.4h2.2m-1.1-1.1v2.2M558.7 482.9h2.2m-1.1-1.1v2.2M498.9 405.9h2.2m-1.1-1.1v2.2M556.2 447.1h2.2m-1.1-1.1v2.2M586.1 485.8h2.2m-1.1-1.1v2.2M498.9 446h2.2m-1.1-1.1v2.2M623.5 499.4h2.2m-1.1-1.1v2.2M616.1 500.7h2.2m-1.1-1.1v2.2M566.2 448.3h2.2m-1.1-1.1v2.2M548.7 473.8h2.2m-1.1-1.1v2.2M533.8 444.2h2.2m-1.1-1.1v2.2M478.9 402.1h2.2m-1.1-1.1v2.2M548.7 463.4h2.2m-1.1-1.1v2.2M596.1 483.9h2.2m-1.1-1.1v2.2M618.6 493.9h2.2m-1.1-1.1v2.2M576.2 476.8h2.2m-1.1-1.1v2.2M483.9 449.3h2.2m-1.1-1.1v2.2M558.7 486.8h2.2m-1.1-1.1v2.2M603.6 487.6h2.2m-1.1-1.1v2.2M558.7 436.1h2.2m-1.1-1.1v2.2M441.5 436.3h2.2m-1.1-1.1v2.2M481.4 454.2h2.2m-1.1-1.1v2.2M473.9 449.1h2.2m-1.1-1.1v2.2M551.2 432.1h2.2m-1.1-1.1v2.2M566.2 472.8h2.2m-1.1-1.1v2.2M598.6 480.2h2.2m-1.1-1.1v2.2M496.4 452.1h2.2m-1.1-1.1v2.2M533.8 459.3h2.2m-1.1-1.1v2.2M591.1 482.3h2.2m-1.1-1.1v2.2M478.9 426.5h2.2m-1.1-1.1v2.2M533.8 490.8h2.2m-1.1-1.1v2.2M533.8 455.4h2.2m-1.1-1.1v2.2M593.6 492.5h2.2m-1.1-1.1v2.2M623.5 500.5h2.2m-1.1-1.1v2.2M616.1 497h2.2m-1.1-1.1v2.2M596.1 486.4h2.2m-1.1-1.1v2.2M476.4 432.3h2.2m-1.1-1.1v2.2M546.3 452.3h2.2m-1.1-1.1v2.2M506.4 441.5h2.2m-1.1-1.1v2.2M496.4 474.5h2.2m-1.1-1.1v2.2M576.2 456h2.2m-1.1-1.1v2.2M608.6 498.9h2.2m-1.1-1.1v2.2M421.6 420.8h2.2m-1.1-1.1v2.2M523.8 462.7h2.2m-1.1-1.1v2.2M598.6 484.6h2.2m-1.1-1.1v2.2M516.3 442.9h2.2m-1.1-1.1v2.2M598.6 478.7h2.2m-1.1-1.1v2.2M541.3 477.7h2.2m-1.1-1.1v2.2M478.9 434.7h2.2m-1.1-1.1v2.2" stroke="#cd88cd" stroke-width="0.75" fill="none"/>
<line x1="400.2" y1="391" x2="624.4" y2="503.4" stroke="#b25ab2" stroke-width="0.9"/>
<rect x="380.3" y="371" width="299.2" height="140" fill="none" stroke="#a0a0a0" stroke-width="0.9"/>
<g font-family='"Liberation Sans", sans-serif' fill="#222">
<text x="380.3" y="523.7" font-size="8.4" text-anchor="middle">0</text>
<text x="430.2" y="523.7" font-size="8.4" text-anchor="middle">0.2</text>
<text x="480" y="523.7" font-size="8.4" text-anchor="middle">0.4</text>
<text x="529.9" y="523.7" font-size="8.4" text-anchor="middle">0.6</text>
<text x="579.8" y="523.7" font-size="8.4" text-anchor="middle">0.8</text>
<text x="629.6" y="523.7" font-size="8.4" text-anchor="middle">1.0</text>
<text x="679.5" y="523.7" font-size="8.4" text-anchor="middle">1.2</text>
<text x="376.4" y="514" font-size="8.4" text-anchor="end">0</text>
<text x="376.4" y="494" font-size="8.4" text-anchor="end">5</text>
<text x="376.4" y="474" font-size="8.4" text-anchor="end">10</text>
<text x="376.4" y="454" font-size="8.4" text-anchor="end">15</text>
<text x="376.4" y="434" font-size="8.4" text-anchor="end">20</text>
<text x="376.4" y="414" font-size="8.4" text-anchor="end">25</text>
<text x="376.4" y="394" font-size="8.4" text-anchor="end">30</text>
<text x="376.4" y="374" font-size="8.4" text-anchor="end">35</text>
<text x="528.5" y="362.4" font-size="9.7" text-anchor="middle" fill="#c25fc2">Structure Assessment-pTM/PAE</text>
<text x="526.4" y="536.6" font-size="8.6" text-anchor="middle">pTM</text>
<text transform="translate(361.2 438) rotate(-90)" font-size="8.6" text-anchor="middle">PAE</text>
<text x="676.7" y="384.9" font-size="8.2" text-anchor="end">R² = 0.8137</text>
</g>
</svg>
</body></html>
